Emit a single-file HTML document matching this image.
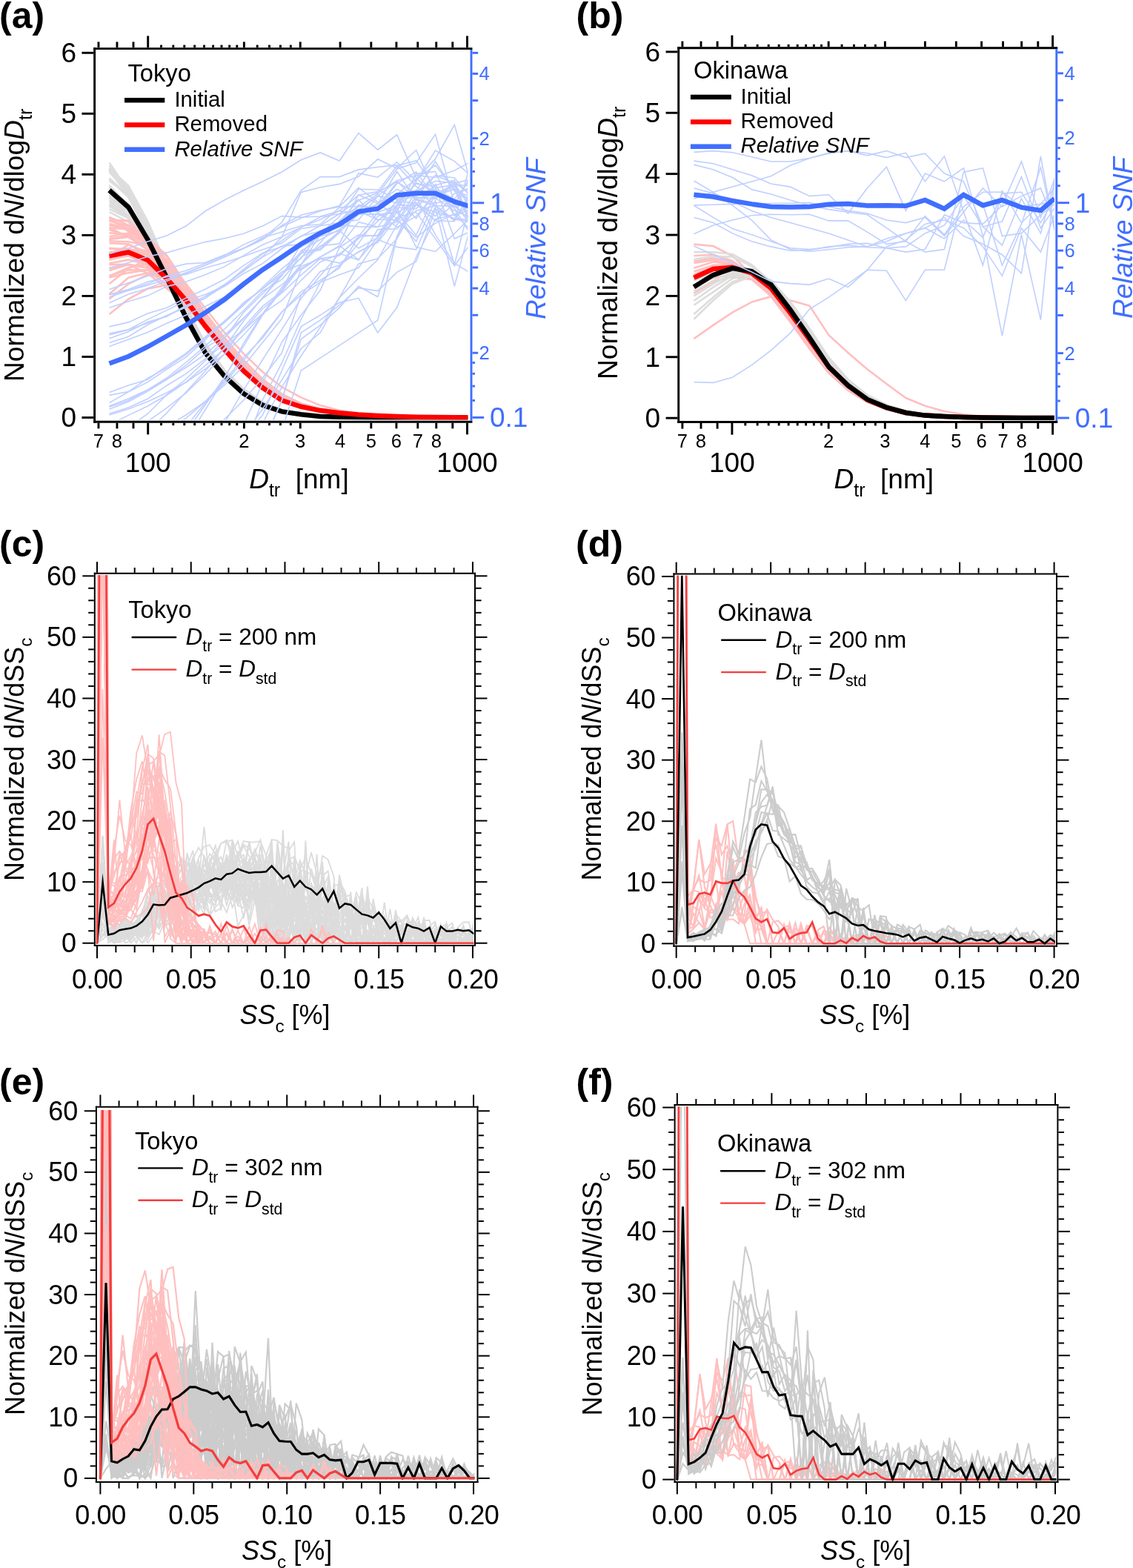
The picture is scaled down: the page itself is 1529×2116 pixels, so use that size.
<!DOCTYPE html>
<html><head><meta charset="utf-8"><title>Figure</title>
<style>
html,body{margin:0;padding:0;background:#fff;}
body{width:1529px;height:2116px;overflow:hidden;}
svg{display:block;font-family:'Liberation Sans', sans-serif;}
</style></head><body>
<svg xmlns="http://www.w3.org/2000/svg" width="1529" height="2116" viewBox="0 0 1529 2116">
<rect width="1529" height="2116" fill="#fff"/>
<g id="a">
<clipPath id="clipa"><rect x="129.05" y="69.82" width="502.25" height="496.68"/></clipPath>
<g clip-path="url(#clipa)">
<path d="M147.5 277.8l25.9 16.5l25.9 37.6l25.8 45.7l25.9 50.3l25.9 47.6l25.9 31.8l25.9 23.7l25.8 15.7l25.9 8.6l25.9 4l25.9 2.5l25.9 1l25.8 0.4l25.9 0.2l25.9 0.1l25.9 0l25.9 0l25.8 0l19.7 0" stroke="#dddddd" stroke-width="2.6" fill="none" stroke-linejoin="miter"/>
<path d="M147.5 267.1l25.9 14.6l25.9 37.1l25.8 45.2l25.9 52.4l25.9 48.9l25.9 35.3l25.9 25.3l25.8 17.4l25.9 10.2l25.9 4.9l25.9 2.9l25.9 1.3l25.8 0.6l25.9 0.2l25.9 0.1l25.9 0l25.9 0l25.8 0l19.7 0" stroke="#dddddd" stroke-width="2.6" fill="none" stroke-linejoin="miter"/>
<path d="M147.5 254.1l25.9 21.5l25.9 45.7l25.8 54l25.9 54.2l25.9 47.2l25.9 31.5l25.9 23.3l25.8 15.5l25.9 8.5l25.9 3.9l25.9 2.5l25.9 1l25.8 0.4l25.9 0.1l25.9 0.1l25.9 0l25.9 0l25.8 0l19.7 0" stroke="#dddddd" stroke-width="2.6" fill="none" stroke-linejoin="miter"/>
<path d="M147.5 227.2l25.9 23.7l25.9 47.6l25.8 59.4l25.9 58.9l25.9 48.9l25.9 35.1l25.9 25.3l25.8 17.4l25.9 10l25.9 5l25.9 2.8l25.9 1.3l25.8 0.6l25.9 0.2l25.9 0.1l25.9 0l25.9 0l25.8 0l19.7 0" stroke="#dddddd" stroke-width="2.6" fill="none" stroke-linejoin="miter"/>
<path d="M147.5 263.9l25.9 21l25.9 41.9l25.8 53.9l25.9 51.9l25.9 46.2l25.9 30.9l25.9 22.9l25.8 15l25.9 8.1l25.9 3.8l25.9 2.4l25.9 1l25.8 0.4l25.9 0.1l25.9 0.1l25.9 0l25.9 0l25.8 0l19.7 0" stroke="#dddddd" stroke-width="2.6" fill="none" stroke-linejoin="miter"/>
<path d="M147.5 244.2l25.9 18.4l25.9 42.8l25.8 53.5l25.9 55.5l25.9 49.1l25.9 35.9l25.9 25.6l25.8 17.8l25.9 10.4l25.9 5.1l25.9 2.9l25.9 1.4l25.8 0.5l25.9 0.3l25.9 0.1l25.9 0l25.9 0l25.8 0l19.7 0" stroke="#dddddd" stroke-width="2.6" fill="none" stroke-linejoin="miter"/>
<path d="M147.5 259.7l25.9 27l25.9 43.4l25.8 50.1l25.9 52l25.9 46.3l25.9 31l25.9 22.9l25.8 15.1l25.9 8.2l25.9 3.8l25.9 2.4l25.9 1l25.8 0.4l25.9 0.1l25.9 0.1l25.9 0l25.9 0l25.8 0l19.7 0" stroke="#dddddd" stroke-width="2.6" fill="none" stroke-linejoin="miter"/>
<path d="M147.5 278l25.9 14.2l25.9 38.6l25.8 42.9l25.9 49.8l25.9 48.1l25.9 33.1l25.9 24.3l25.8 16.4l25.9 9.2l25.9 4.4l25.9 2.6l25.9 1.2l25.8 0.4l25.9 0.2l25.9 0.1l25.9 0l25.9 0l25.8 0l19.7 0" stroke="#dddddd" stroke-width="2.6" fill="none" stroke-linejoin="miter"/>
<path d="M147.5 253.5l25.9 24.2l25.9 44.3l25.8 53.7l25.9 54.1l25.9 47.1l25.9 31.4l25.9 23.3l25.8 15.5l25.9 8.4l25.9 3.9l25.9 2.5l25.9 1l25.8 0.4l25.9 0.1l25.9 0.1l25.9 0l25.9 0l25.8 0l19.7 0" stroke="#dddddd" stroke-width="2.6" fill="none" stroke-linejoin="miter"/>
<path d="M147.5 230.3l25.9 28.4l25.9 47.1l25.8 58.6l25.9 56.4l25.9 48.5l25.9 33.9l25.9 24.7l25.8 16.7l25.9 9.6l25.9 4.6l25.9 2.7l25.9 1.2l25.8 0.5l25.9 0.2l25.9 0.1l25.9 0l25.9 0l25.8 0l19.7 0" stroke="#dddddd" stroke-width="2.6" fill="none" stroke-linejoin="miter"/>
<path d="M147.5 229.6l25.9 35.8l25.9 52.1l25.8 56.2l25.9 57.6l25.9 46.6l25.9 31.2l25.9 23l25.8 15.3l25.9 8.2l25.9 3.9l25.9 2.4l25.9 1l25.8 0.4l25.9 0.1l25.9 0.1l25.9 0l25.9 0l25.8 0l19.7 0" stroke="#dddddd" stroke-width="2.6" fill="none" stroke-linejoin="miter"/>
<path d="M147.5 229.3l25.9 30.6l25.9 57.2l25.8 57.4l25.9 57.1l25.9 46.5l25.9 31.1l25.9 23l25.8 15.2l25.9 8.2l25.9 3.9l25.9 2.4l25.9 1l25.8 0.4l25.9 0.1l25.9 0.1l25.9 0l25.9 0l25.8 0l19.7 0" stroke="#dddddd" stroke-width="2.6" fill="none" stroke-linejoin="miter"/>
<path d="M147.5 232l25.9 28.3l25.9 49.5l25.8 55.7l25.9 57.4l25.9 48.2l25.9 33.3l25.9 24.4l25.8 16.4l25.9 9.3l25.9 4.4l25.9 2.7l25.9 1.1l25.8 0.5l25.9 0.2l25.9 0.1l25.9 0l25.9 0l25.8 0l19.7 0" stroke="#dddddd" stroke-width="2.6" fill="none" stroke-linejoin="miter"/>
<path d="M147.5 275.4l25.9 9.3l25.9 32.3l25.8 47l25.9 50.6l25.9 49.2l25.9 35.7l25.9 25.6l25.8 17.7l25.9 10.4l25.9 5.1l25.9 2.9l25.9 1.4l25.8 0.5l25.9 0.3l25.9 0.1l25.9 0l25.9 0l25.8 0l19.7 0" stroke="#dddddd" stroke-width="2.6" fill="none" stroke-linejoin="miter"/>
<path d="M147.5 249.9l25.9 27.6l25.9 42.4l25.8 52l25.9 54.4l25.9 47.8l25.9 32.3l25.9 23.9l25.8 15.9l25.9 8.8l25.9 4.2l25.9 2.6l25.9 1l25.8 0.4l25.9 0.2l25.9 0.1l25.9 0l25.9 0l25.8 0l19.7 0" stroke="#dddddd" stroke-width="2.6" fill="none" stroke-linejoin="miter"/>
<path d="M147.5 267l25.9 24l25.9 41.2l25.8 48.4l25.9 51.5l25.9 46.3l25.9 31.1l25.9 22.9l25.8 15.1l25.9 8.2l25.9 3.8l25.9 2.4l25.9 1l25.8 0.4l25.9 0.1l25.9 0.1l25.9 0l25.9 0l25.8 0l19.7 0" stroke="#dddddd" stroke-width="2.6" fill="none" stroke-linejoin="miter"/>
<path d="M147.5 227.3l25.9 36.1l25.9 54.9l25.8 56.9l25.9 57.3l25.9 46.2l25.9 31l25.9 22.8l25.8 15.1l25.9 8.1l25.9 3.8l25.9 2.4l25.9 1l25.8 0.4l25.9 0.1l25.9 0.1l25.9 0l25.9 0l25.8 0l19.7 0" stroke="#dddddd" stroke-width="2.6" fill="none" stroke-linejoin="miter"/>
<path d="M147.5 286.2l25.9 13.2l25.9 34.7l25.8 45.1l25.9 48.2l25.9 47.7l25.9 31.9l25.9 23.7l25.8 15.9l25.9 8.6l25.9 4l25.9 2.6l25.9 1l25.8 0.4l25.9 0.2l25.9 0.1l25.9 0l25.9 0l25.8 0l19.7 0" stroke="#dddddd" stroke-width="2.6" fill="none" stroke-linejoin="miter"/>
<path d="M147.5 262.7l25.9 20.7l25.9 39l25.8 51l25.9 52.8l25.9 47.8l25.9 32.3l25.9 23.9l25.8 16l25.9 8.8l25.9 4.2l25.9 2.6l25.9 1l25.8 0.4l25.9 0.2l25.9 0.1l25.9 0l25.9 0l25.8 0l19.7 0" stroke="#dddddd" stroke-width="2.6" fill="none" stroke-linejoin="miter"/>
<path d="M147.5 223.6l25.9 31.6l25.9 54.4l25.8 61.1l25.9 58.8l25.9 47.2l25.9 31.5l25.9 23.3l25.8 15.5l25.9 8.5l25.9 3.9l25.9 2.5l25.9 1l25.8 0.4l25.9 0.1l25.9 0.1l25.9 0l25.9 0l25.8 0l19.7 0" stroke="#dddddd" stroke-width="2.6" fill="none" stroke-linejoin="miter"/>
<path d="M147.5 229.7l25.9 25l25.9 49l25.8 58l25.9 57.8l25.9 48.6l25.9 34.3l25.9 24.9l25.8 16.9l25.9 9.8l25.9 4.7l25.9 2.7l25.9 1.3l25.8 0.5l25.9 0.2l25.9 0.1l25.9 0l25.9 0l25.8 0l19.7 0" stroke="#dddddd" stroke-width="2.6" fill="none" stroke-linejoin="miter"/>
<path d="M147.5 240.5l25.9 23.9l25.9 44.8l25.8 54.7l25.9 56.3l25.9 48.5l25.9 34.1l25.9 24.8l25.8 16.8l25.9 9.7l25.9 4.6l25.9 2.8l25.9 1.2l25.8 0.5l25.9 0.2l25.9 0.1l25.9 0l25.9 0l25.8 0l19.7 0" stroke="#dddddd" stroke-width="2.6" fill="none" stroke-linejoin="miter"/>
<path d="M147.5 271.7l25.9 21.9l25.9 39.3l25.8 50.3l25.9 49.5l25.9 46.1l25.9 31l25.9 22.8l25.8 15l25.9 8.1l25.9 3.8l25.9 2.4l25.9 1l25.8 0.4l25.9 0.1l25.9 0.1l25.9 0l25.9 0l25.8 0l19.7 0" stroke="#dddddd" stroke-width="2.6" fill="none" stroke-linejoin="miter"/>
<path d="M147.5 241.6l25.9 24.8l25.9 45.2l25.8 53l25.9 55.8l25.9 48.5l25.9 34l25.9 24.8l25.8 16.8l25.9 9.6l25.9 4.6l25.9 2.8l25.9 1.2l25.8 0.5l25.9 0.2l25.9 0.1l25.9 0l25.9 0l25.8 0l19.7 0" stroke="#dddddd" stroke-width="2.6" fill="none" stroke-linejoin="miter"/>
<path d="M147.5 252.2l25.9 27.3l25.9 44.5l25.8 54.2l25.9 53.2l25.9 46.6l25.9 31.1l25.9 23.1l25.8 15.2l25.9 8.2l25.9 3.9l25.9 2.4l25.9 1l25.8 0.4l25.9 0.1l25.9 0.1l25.9 0l25.9 0l25.8 0l19.7 0" stroke="#dddddd" stroke-width="2.6" fill="none" stroke-linejoin="miter"/>
<path d="M147.5 275.8l25.9 16.2l25.9 30.1l25.8 45.6l25.9 49.1l25.9 48.9l25.9 35.1l25.9 25.3l25.8 17.4l25.9 10l25.9 5l25.9 2.8l25.9 1.3l25.8 0.6l25.9 0.2l25.9 0.1l25.9 0l25.9 0l25.8 0l19.7 0" stroke="#dddddd" stroke-width="2.6" fill="none" stroke-linejoin="miter"/>
<path d="M147.5 219.5l25.9 38.2l25.9 52.7l25.8 58.7l25.9 57.7l25.9 47.8l25.9 32.1l25.9 23.8l25.8 15.9l25.9 8.7l25.9 4.1l25.9 2.6l25.9 1l25.8 0.4l25.9 0.2l25.9 0.1l25.9 0l25.9 0l25.8 0l19.7 0" stroke="#dddddd" stroke-width="2.6" fill="none" stroke-linejoin="miter"/>
<path d="M147.5 271l25.9 13.1l25.9 33.8l25.8 45.3l25.9 50.7l25.9 49.2l25.9 36l25.9 25.7l25.8 17.8l25.9 10.5l25.9 5.2l25.9 2.9l25.9 1.4l25.8 0.5l25.9 0.3l25.9 0.1l25.9 0l25.9 0l25.8 0l19.7 0" stroke="#dddddd" stroke-width="2.6" fill="none" stroke-linejoin="miter"/>
<path d="M147.5 227.5l25.9 31.2l25.9 49.4l25.8 56.1l25.9 58.4l25.9 48.2l25.9 33.4l25.9 24.4l25.8 16.6l25.9 9.3l25.9 4.4l25.9 2.7l25.9 1.1l25.8 0.5l25.9 0.2l25.9 0.1l25.9 0l25.9 0l25.8 0l19.7 0" stroke="#dddddd" stroke-width="2.6" fill="none" stroke-linejoin="miter"/>
<path d="M147.5 282.1l25.9 12.4l25.9 29.5l25.8 44.2l25.9 47.9l25.9 49l25.9 35.3l25.9 25.4l25.8 17.5l25.9 10.1l25.9 5l25.9 2.9l25.9 1.3l25.8 0.6l25.9 0.2l25.9 0.1l25.9 0l25.9 0l25.8 0l19.7 0" stroke="#dddddd" stroke-width="2.6" fill="none" stroke-linejoin="miter"/>
<path d="M147.5 350.1l25.9-9.3l25.9-0.4l25.8 25.7l25.9 30.4l25.9 37.5l25.9 32l25.9 29.5l25.8 23.9l25.9 18l25.9 10l25.9 5.8l25.9 3.6l25.8 2.4l25.9 1.6l25.9 1.1l25.9 0.7l25.9 0.4l25.8 0.3l19.7 0.1" stroke="#ffbfbf" stroke-width="2.6" fill="none" stroke-linejoin="miter"/>
<path d="M147.5 307.6l25.9 1.5l25.9 13l25.8 33.1l25.9 35.4l25.9 38.9l25.9 32.3l25.9 29.8l25.8 24.8l25.9 18.8l25.9 11l25.9 6.3l25.9 3.9l25.8 2.5l25.9 1.7l25.9 1.1l25.9 0.8l25.9 0.5l25.8 0.3l19.7 0.1" stroke="#ffbfbf" stroke-width="2.6" fill="none" stroke-linejoin="miter"/>
<path d="M147.5 349.1l25.9-4.3l25.9 14.5l25.8 20l25.9 25.2l25.9 28.4l25.9 32l25.9 29.6l25.8 24.1l25.9 18.2l25.9 10.3l25.9 5.9l25.9 3.7l25.8 2.4l25.9 1.6l25.9 1.1l25.9 0.7l25.9 0.5l25.8 0.3l19.7 0.1" stroke="#ffbfbf" stroke-width="2.6" fill="none" stroke-linejoin="miter"/>
<path d="M147.5 293.6l25.9 18.7l25.9 12.5l25.8 37.1l25.9 35.3l25.9 38.4l25.9 31.8l25.9 29.4l25.8 23.6l25.9 17.8l25.9 9.5l25.9 5.7l25.9 3.5l25.8 2.4l25.9 1.6l25.9 1l25.9 0.7l25.9 0.4l25.8 0.3l19.7 0.1" stroke="#ffbfbf" stroke-width="2.6" fill="none" stroke-linejoin="miter"/>
<path d="M147.5 301.8l25.9 7l25.9 23.6l25.8 31.4l25.9 35l25.9 37.6l25.9 31.8l25.9 29.3l25.8 23.5l25.9 17.6l25.9 9.4l25.9 5.5l25.9 3.5l25.8 2.3l25.9 1.6l25.9 1l25.9 0.7l25.9 0.4l25.8 0.3l19.7 0.1" stroke="#ffbfbf" stroke-width="2.6" fill="none" stroke-linejoin="miter"/>
<path d="M147.5 297.1l25.9 1.3l25.9 26.8l25.8 34.2l25.9 37.8l25.9 41.3l25.9 31.5l25.9 29.2l25.8 23.2l25.9 17.2l25.9 8.9l25.9 5.4l25.9 3.3l25.8 2.3l25.9 1.5l25.9 1l25.9 0.7l25.9 0.4l25.8 0.2l19.7 0.1" stroke="#ffbfbf" stroke-width="2.6" fill="none" stroke-linejoin="miter"/>
<path d="M147.5 307.1l25.9 13l25.9 11.7l25.8 25.4l25.9 34.5l25.9 34l25.9 32.7l25.9 30l25.8 25.5l25.9 19.4l25.9 12l25.9 6.6l25.9 4.1l25.8 2.7l25.9 1.7l25.9 1.2l25.9 0.8l25.9 0.5l25.8 0.3l19.7 0.2" stroke="#ffbfbf" stroke-width="2.6" fill="none" stroke-linejoin="miter"/>
<path d="M147.5 322.9l25.9-3l25.9 17l25.8 26.8l25.9 32l25.9 37.3l25.9 32l25.9 29.6l25.8 24.2l25.9 18.1l25.9 10.2l25.9 5.9l25.9 3.7l25.8 2.4l25.9 1.6l25.9 1.1l25.9 0.7l25.9 0.5l25.8 0.3l19.7 0.1" stroke="#ffbfbf" stroke-width="2.6" fill="none" stroke-linejoin="miter"/>
<path d="M147.5 297l25.9 0.5l25.9 27.8l25.8 34.4l25.9 34.3l25.9 41.5l25.9 31.8l25.9 29.4l25.8 23.7l25.9 17.7l25.9 9.6l25.9 5.7l25.9 3.5l25.8 2.4l25.9 1.6l25.9 1l25.9 0.7l25.9 0.4l25.8 0.3l19.7 0.1" stroke="#ffbfbf" stroke-width="2.6" fill="none" stroke-linejoin="miter"/>
<path d="M147.5 319.3l25.9-4.6l25.9 5.8l25.8 26.2l25.9 37.9l25.9 41.7l25.9 32.6l25.9 30l25.8 25.4l25.9 19.3l25.9 11.9l25.9 6.5l25.9 4.1l25.8 2.6l25.9 1.8l25.9 1.1l25.9 0.8l25.9 0.5l25.8 0.3l19.7 0.2" stroke="#ffbfbf" stroke-width="2.6" fill="none" stroke-linejoin="miter"/>
<path d="M147.5 328.1l25.9 1.3l25.9 14.7l25.8 27.2l25.9 29.6l25.9 34.6l25.9 31.8l25.9 29.4l25.8 23.7l25.9 17.7l25.9 9.6l25.9 5.7l25.9 3.5l25.8 2.4l25.9 1.6l25.9 1l25.9 0.7l25.9 0.4l25.8 0.3l19.7 0.1" stroke="#ffbfbf" stroke-width="2.6" fill="none" stroke-linejoin="miter"/>
<path d="M147.5 335.1l25.9 2.6l25.9 7.1l25.8 23.4l25.9 27.9l25.9 29.1l25.9 32.8l25.9 30.1l25.8 25.5l25.9 19.5l25.9 12.1l25.9 6.6l25.9 4.2l25.8 2.6l25.9 1.8l25.9 1.2l25.9 0.8l25.9 0.5l25.8 0.3l19.7 0.2" stroke="#ffbfbf" stroke-width="2.6" fill="none" stroke-linejoin="miter"/>
<path d="M147.5 292.9l25.9 11.1l25.9 17.3l25.8 23.2l25.9 39.4l25.9 38.4l25.9 33l25.9 30.3l25.8 26l25.9 20l25.9 12.9l25.9 6.9l25.9 4.3l25.8 2.7l25.9 1.9l25.9 1.2l25.9 0.8l25.9 0.6l25.8 0.3l19.7 0.1" stroke="#ffbfbf" stroke-width="2.6" fill="none" stroke-linejoin="miter"/>
<path d="M147.5 374.6l25.9-6.5l25.9-3.8l25.8 12.3l25.9 20.7l25.9 26.1l25.9 32.9l25.9 30.2l25.8 25.9l25.9 19.8l25.9 12.5l25.9 6.9l25.9 4.2l25.8 2.7l25.9 1.8l25.9 1.3l25.9 0.8l25.9 0.5l25.8 0.3l19.7 0.2" stroke="#ffbfbf" stroke-width="2.6" fill="none" stroke-linejoin="miter"/>
<path d="M147.5 364.9l25.9-7.8l25.9 4.7l25.8 16.6l25.9 25.5l25.9 30.1l25.9 31.9l25.9 29.5l25.8 24l25.9 18l25.9 10l25.9 5.8l25.9 3.6l25.8 2.4l25.9 1.6l25.9 1.1l25.9 0.7l25.9 0.4l25.8 0.3l19.7 0.1" stroke="#ffbfbf" stroke-width="2.6" fill="none" stroke-linejoin="miter"/>
<path d="M147.5 355.5l25.9-4.9l25.9 6.2l25.8 19l25.9 22.4l25.9 27.2l25.9 32.7l25.9 30.1l25.8 25.5l25.9 19.4l25.9 12.1l25.9 6.7l25.9 4.1l25.8 2.6l25.9 1.8l25.9 1.2l25.9 0.8l25.9 0.5l25.8 0.3l19.7 0.2" stroke="#ffbfbf" stroke-width="2.6" fill="none" stroke-linejoin="miter"/>
<path d="M147.5 371.9l25.9-7.7l25.9 0.4l25.8 20.3l25.9 25.8l25.9 33.1l25.9 31.1l25.9 28.4l25.8 22.1l25.9 15.9l25.9 8.2l25.9 5l25.9 3.1l25.8 2.1l25.9 1.5l25.9 0.9l25.9 0.6l25.9 0.4l25.8 0.2l19.7 0.1" stroke="#ffbfbf" stroke-width="2.6" fill="none" stroke-linejoin="miter"/>
<path d="M147.5 343l25.9-1.6l25.9 9.9l25.8 22.2l25.9 26.4l25.9 31.2l25.9 32.2l25.9 29.7l25.8 24.5l25.9 18.5l25.9 10.6l25.9 6.1l25.9 3.8l25.8 2.5l25.9 1.7l25.9 1.1l25.9 0.7l25.9 0.5l25.8 0.3l19.7 0.1" stroke="#ffbfbf" stroke-width="2.6" fill="none" stroke-linejoin="miter"/>
<path d="M147.5 396.7l25.9-21.9l25.9-6.5l25.8 8.1l25.9 23.1l25.9 29.8l25.9 32.3l25.9 29.9l25.8 24.8l25.9 18.8l25.9 11.1l25.9 6.3l25.9 3.8l25.8 2.6l25.9 1.7l25.9 1.1l25.9 0.8l25.9 0.5l25.8 0.3l19.7 0.1" stroke="#ffbfbf" stroke-width="2.6" fill="none" stroke-linejoin="miter"/>
<path d="M147.5 341l25.9-4.3l25.9 1.2l25.8 26.3l25.9 29.7l25.9 35.6l25.9 32.3l25.9 29.8l25.8 24.8l25.9 18.8l25.9 11l25.9 6.3l25.9 3.9l25.8 2.5l25.9 1.7l25.9 1.1l25.9 0.8l25.9 0.5l25.8 0.3l19.7 0.1" stroke="#ffbfbf" stroke-width="2.6" fill="none" stroke-linejoin="miter"/>
<path d="M147.5 372.7l25.9-11.8l25.9-4.8l25.8 17.1l25.9 22l25.9 30.2l25.9 32.7l25.9 30.1l25.8 25.5l25.9 19.5l25.9 12l25.9 6.7l25.9 4.1l25.8 2.6l25.9 1.8l25.9 1.2l25.9 0.8l25.9 0.5l25.8 0.3l19.7 0.2" stroke="#ffbfbf" stroke-width="2.6" fill="none" stroke-linejoin="miter"/>
<path d="M147.5 335.6l25.9 0l25.9 8.9l25.8 24.6l25.9 32.8l25.9 36.7l25.9 31.6l25.9 29.2l25.8 23.1l25.9 17.2l25.9 8.8l25.9 5.4l25.9 3.3l25.8 2.3l25.9 1.5l25.9 1l25.9 0.7l25.9 0.4l25.8 0.2l19.7 0.1" stroke="#ffbfbf" stroke-width="2.6" fill="none" stroke-linejoin="miter"/>
<path d="M147.5 297.4l25.9 10.8l25.9 10.7l25.8 33.6l25.9 36.5l25.9 40l25.9 32.4l25.9 29.8l25.8 24.9l25.9 18.8l25.9 11.2l25.9 6.3l25.9 3.9l25.8 2.6l25.9 1.7l25.9 1.1l25.9 0.8l25.9 0.5l25.8 0.3l19.7 0.1" stroke="#ffbfbf" stroke-width="2.6" fill="none" stroke-linejoin="miter"/>
<path d="M147.5 310.1l25.9 8.4l25.9 18.2l25.8 23.5l25.9 33.7l25.9 35.8l25.9 32.4l25.9 29.8l25.8 24.7l25.9 18.7l25.9 11l25.9 6.2l25.9 3.9l25.8 2.5l25.9 1.7l25.9 1.1l25.9 0.8l25.9 0.5l25.8 0.3l19.7 0.1" stroke="#ffbfbf" stroke-width="2.6" fill="none" stroke-linejoin="miter"/>
<path d="M147.5 361.9l25.9-4.7l25.9 11.7l25.8 20l25.9 24.3l25.9 29.2l25.9 31.2l25.9 28.7l25.8 22.4l25.9 16.3l25.9 8.2l25.9 5.1l25.9 3.2l25.8 2.2l25.9 1.4l25.9 1l25.9 0.6l25.9 0.4l25.8 0.2l19.7 0.1" stroke="#ffbfbf" stroke-width="2.6" fill="none" stroke-linejoin="miter"/>
<path d="M147.5 322.1l25.9-4.3l25.9 10.5l25.8 32.7l25.9 36.8l25.9 42l25.9 31.4l25.9 29.2l25.8 22.9l25.9 17l25.9 8.5l25.9 5.3l25.9 3.2l25.8 2.3l25.9 1.4l25.9 1l25.9 0.7l25.9 0.4l25.8 0.2l19.7 0.1" stroke="#ffbfbf" stroke-width="2.6" fill="none" stroke-linejoin="miter"/>
<path d="M147.5 340.5l25.9-4l25.9 5.4l25.8 29.5l25.9 32.2l25.9 38.6l25.9 31.2l25.9 28.7l25.8 22.4l25.9 16.4l25.9 8.3l25.9 5.1l25.9 3.2l25.8 2.2l25.9 1.4l25.9 1l25.9 0.6l25.9 0.4l25.8 0.2l19.7 0.1" stroke="#ffbfbf" stroke-width="2.6" fill="none" stroke-linejoin="miter"/>
<path d="M147.5 314.4l25.9 1.5l25.9 12.6l25.8 27l25.9 35.9l25.9 35.4l25.9 32.6l25.9 30l25.8 25.3l25.9 19.2l25.9 11.7l25.9 6.5l25.9 4l25.8 2.6l25.9 1.8l25.9 1.2l25.9 0.7l25.9 0.5l25.8 0.3l19.7 0.2" stroke="#ffbfbf" stroke-width="2.6" fill="none" stroke-linejoin="miter"/>
<path d="M147.5 350.8l25.9-6.2l25.9 8.8l25.8 21.6l25.9 31l25.9 33.1l25.9 31.5l25.9 29.1l25.8 23.1l25.9 17.1l25.9 8.7l25.9 5.3l25.9 3.4l25.8 2.2l25.9 1.5l25.9 1l25.9 0.7l25.9 0.4l25.8 0.2l19.7 0.1" stroke="#ffbfbf" stroke-width="2.6" fill="none" stroke-linejoin="miter"/>
<path d="M147.5 325.2l25.9 1l25.9 5.4l25.8 24.8l25.9 34.5l25.9 35l25.9 32.7l25.9 30.1l25.8 25.4l25.9 19.3l25.9 12l25.9 6.5l25.9 4.1l25.8 2.7l25.9 1.7l25.9 1.2l25.9 0.8l25.9 0.5l25.8 0.3l19.7 0.2" stroke="#ffbfbf" stroke-width="2.6" fill="none" stroke-linejoin="miter"/>
<path d="M147.5 347.2l25.9-17l25.9 10.7l25.8 26.8l25.9 31l25.9 38.8l25.9 31.6l25.9 29.3l25.8 23.3l25.9 17.4l25.9 9.1l25.9 5.5l25.9 3.4l25.8 2.3l25.9 1.5l25.9 1.1l25.9 0.6l25.9 0.5l25.8 0.2l19.7 0.1" stroke="#ffbfbf" stroke-width="2.6" fill="none" stroke-linejoin="miter"/>
<path d="M147.5 298.1l25.9 7l25.9 19.1l25.8 27l25.9 36.8l25.9 38.2l25.9 32.6l25.9 30.1l25.8 25.3l25.9 19.3l25.9 11.9l25.9 6.6l25.9 4l25.8 2.7l25.9 1.8l25.9 1.1l25.9 0.8l25.9 0.5l25.8 0.3l19.7 0.2" stroke="#ffbfbf" stroke-width="2.6" fill="none" stroke-linejoin="miter"/>
<path d="M147.5 348.6l25.9-3.1l25.9 9.3l25.8 24.1l25.9 31l25.9 34.4l25.9 31.1l25.9 28.2l25.8 22.1l25.9 15.8l25.9 8.1l25.9 4.9l25.9 3.2l25.8 2.1l25.9 1.4l25.9 0.9l25.9 0.6l25.9 0.4l25.8 0.2l19.7 0.1" stroke="#ffbfbf" stroke-width="2.6" fill="none" stroke-linejoin="miter"/>
<path d="M147.5 304l25.9 6.1l25.9 19.2l25.8 29.7l25.9 34l25.9 36.6l25.9 32.4l25.9 29.8l25.8 24.7l25.9 18.7l25.9 11.1l25.9 6.2l25.9 3.9l25.8 2.5l25.9 1.7l25.9 1.1l25.9 0.8l25.9 0.5l25.8 0.3l19.7 0.1" stroke="#ffbfbf" stroke-width="2.6" fill="none" stroke-linejoin="miter"/>
<path d="M147.5 334.5l25.9 6l25.9 8.1l25.8 26.6l25.9 24l25.9 29.9l25.9 32.4l25.9 29.8l25.8 24.9l25.9 18.8l25.9 11.2l25.9 6.2l25.9 3.9l25.8 2.6l25.9 1.7l25.9 1.1l25.9 0.8l25.9 0.5l25.8 0.3l19.7 0.1" stroke="#ffbfbf" stroke-width="2.6" fill="none" stroke-linejoin="miter"/>
<path d="M147.5 357.1l25.9-0.4l25.9 4.6l25.8 17.1l25.9 20.2l25.9 27.3l25.9 32.7l25.9 30l25.8 25.5l25.9 19.3l25.9 12l25.9 6.5l25.9 4.1l25.8 2.7l25.9 1.7l25.9 1.2l25.9 0.8l25.9 0.5l25.8 0.3l19.7 0.2" stroke="#ffbfbf" stroke-width="2.6" fill="none" stroke-linejoin="miter"/>
<path d="M147.5 424l25.9-20.5l25.9-13.9l25.8-4.9l25.9 18.8l25.9 32.9l25.9 32.8l25.9 28.7l25.8 22.9l25.9 15.6l25.9 10.7l25.9 6.6l25.9 4.1l25.8 2.4l25.9 1.7l25.9 0.8l25.9 0.8l25.9 0l25.8 0l19.7 0" stroke="#ffbfbf" stroke-width="2.6" fill="none" stroke-linejoin="miter"/>
<path d="M147.5 403.5l25.9-20.5l25.9-12.3l25.8 4.1l25.9 24.6l25.9 32.9l25.9 32.8l25.9 28.7l25.8 23.8l25.9 16.4l25.9 11.5l25.9 7.3l25.9 4.1l25.8 3.3l25.9 1.7l25.9 0.8l25.9 0.8l25.9 0l25.8 0l19.7 0" stroke="#ffbfbf" stroke-width="2.6" fill="none" stroke-linejoin="miter"/>
<path d="M147.5 383l25.9-20.5l25.9-12.3l25.8 8.2l25.9 24.6l25.9 32.8l25.9 32.9l25.9 28.7l25.8 24.6l25.9 20.5l25.9 13.9l25.9 10.7l25.9 6.6l25.8 4.1l25.9 2.4l25.9 1.7l25.9 0.8l25.9 0.8l25.8 0l19.7 0" stroke="#ffbfbf" stroke-width="2.6" fill="none" stroke-linejoin="miter"/>
<path d="M147.5 256.7l25.9 23l25.9 43.5l25.8 51.6l25.9 53.6l25.9 47.6l25.9 31.6l25.9 23.6l25.8 15.6l25.9 8.6l25.9 3.9l25.9 2.6l25.9 0.9l25.8 0.5l25.9 0.1l25.9 0.1l25.9 0l25.9 0l25.8 0l19.7 0" stroke="#000" stroke-width="6.5" fill="none" stroke-linejoin="miter"/>
<path d="M147.5 345.3l25.9-4.9l25.9 10.6l25.8 25.1l25.9 29.2l25.9 34.6l25.9 31.4l25.9 29.1l25.8 22.9l25.9 17l25.9 8.5l25.9 5.3l25.9 3.2l25.8 2.3l25.9 1.4l25.9 1l25.9 0.7l25.9 0.4l25.8 0.2l19.7 0.1" stroke="#ff0000" stroke-width="6.5" fill="none" stroke-linejoin="miter"/>
<path d="M147.5 362l25.9-7.6l25.9-8.2l25.8-5.3l25.9-7.3l25.9-7l25.9-4.8l25.9-6.6l25.8-10.2l25.9-13.4l25.9 1.5l25.9-1.1l25.9-7.3l25.8-21.4l25.9-4.7l25.9-34.9l25.9-7l25.9 36.7l25.8-3.8l19.7 43.7" stroke="#bfcfff" stroke-width="1.6" fill="none" stroke-linejoin="miter"/>
<path d="M147.5 390.4l25.9-8.6l25.9-9.2l25.8-10.2l25.9-6.3l25.9-1.6l25.9-10.6l25.9-8.8l25.8-14.4l25.9-7.7l25.9-8.3l25.9-1.9l25.9-22.7l25.8-1.9l25.9 1.3l25.9-33.7l25.9 14.7l25.9-23.7l25.8 3.2l19.7 23.3" stroke="#bfcfff" stroke-width="1.6" fill="none" stroke-linejoin="miter"/>
<path d="M147.5 397.5l25.9-7.1l25.9-10.2l25.8-6.7l25.9-3l25.9-9.1l25.9-6.8l25.9-8.5l25.8-9.4l25.9-8.7l25.9-19.6l25.9-3.6l25.9-4.3l25.8-12.3l25.9 1.1l25.9-2.9l25.9 30.9l25.9-55.8l25.8-5.9l19.7 38.9" stroke="#bfcfff" stroke-width="1.6" fill="none" stroke-linejoin="miter"/>
<path d="M147.5 400.9l25.9-8.9l25.9-9l25.8-10.8l25.9-6.9l25.9-9.8l25.9-10.5l25.9-14.9l25.8-11.4l25.9-12.7l25.9-11.8l25.9-9.4l25.9-7.4l25.8-43.7l25.9 5.5l25.9-20.5l25.9 25.9l25.9-41.6l25.8 14.6l19.7 17.4" stroke="#bfcfff" stroke-width="1.6" fill="none" stroke-linejoin="miter"/>
<path d="M147.5 408.8l25.9-11.7l25.9-7.8l25.8-10.1l25.9-10.2l25.9-11.1l25.9-11.1l25.9-11.2l25.8-12l25.9-19.4l25.9-13.9l25.9-6.4l25.9-5l25.8-25.5l25.9 19.1l25.9 22.8l25.9-53.3l25.9-19.1l25.8 32.5l19.7 41.7" stroke="#bfcfff" stroke-width="1.6" fill="none" stroke-linejoin="miter"/>
<path d="M147.5 415.2l25.9-8.5l25.9-7.6l25.8-12.5l25.9-6.4l25.9-9.5l25.9-10.8l25.9-15l25.8-14.6l25.9-10.8l25.9-12.9l25.9-13.8l25.9-4.2l25.8-19.2l25.9 28.4l25.9-19.8l25.9-20l25.9-40.3l25.8 40.4l19.7 6.1" stroke="#bfcfff" stroke-width="1.6" fill="none" stroke-linejoin="miter"/>
<path d="M147.5 440.9l25.9-6l25.9-11.9l25.8-7.8l25.9-13.1l25.9-11.8l25.9-13.3l25.9-18.7l25.8-16.9l25.9-8.7l25.9-13.7l25.9-14.5l25.9-16l25.8-4l25.9-20.2l25.9 4.2l25.9-2.8l25.9-29l25.8 10.6l19.7 11.4" stroke="#bfcfff" stroke-width="1.6" fill="none" stroke-linejoin="miter"/>
<path d="M147.5 450.1l25.9-5.4l25.9-13.6l25.8-12.5l25.9-12.6l25.9-8.5l25.9-11.5l25.9-21l25.8-18.1l25.9-14.8l25.9-2.5l25.9-13.9l25.9-23.4l25.8-37.1l25.9 0.8l25.9 13.4l25.9 25.5l25.9-33.5l25.8-12.2l19.7 1.4" stroke="#bfcfff" stroke-width="1.6" fill="none" stroke-linejoin="miter"/>
<path d="M147.5 456.7l25.9-9.2l25.9-13l25.8-7.2l25.9-15l25.9-12.2l25.9-13.5l25.9-17.3l25.8-13.6l25.9-20.2l25.9-16.9l25.9-6.6l25.9-11.5l25.8-3.8l25.9-32.1l25.9 10l25.9-26.7l25.9 4.3l25.8 69.9l19.7-8.7" stroke="#bfcfff" stroke-width="1.6" fill="none" stroke-linejoin="miter"/>
<path d="M147.5 462.5l25.9-8.2l25.9-16l25.8-12.6l25.9-10.9l25.9-12.3l25.9-17.2l25.9-22l25.8-21l25.9-17.7l25.9-18.2l25.9-10.1l25.9-11.7l25.8 2.9l25.9-12.3l25.9-43.6l25.9 37.7l25.9 5l25.8-5.9l19.7-23" stroke="#bfcfff" stroke-width="1.6" fill="none" stroke-linejoin="miter"/>
<path d="M147.5 467.5l25.9-9.6l25.9-9.5l25.8-12.1l25.9-11.1l25.9-11.7l25.9-12.8l25.9-18.6l25.8-17.7l25.9-15.9l25.9-15.1l25.9-14.5l25.9-7.7l25.8 23.8l25.9-14.2l25.9-40.8l25.9 2l25.9-32.1l25.8-6.6l19.7 54.6" stroke="#bfcfff" stroke-width="1.6" fill="none" stroke-linejoin="miter"/>
<path d="M147.5 529.6l25.9-9.6l25.9-7.7l25.8-18.4l25.9-17.1l25.9-22.3l25.9-21.1l25.9-23l25.8-20.8l25.9-22.8l25.9-10l25.9-25.1l25.9-2.8l25.8-52.6l25.9 10.2l25.9-9.1l25.9-0.9l25.9 10.1l25.8 8.1l19.7 2" stroke="#bfcfff" stroke-width="1.6" fill="none" stroke-linejoin="miter"/>
<path d="M147.5 533.4l25.9-4.8l25.9-18.1l25.8-14.1l25.9-18.1l25.9-22.1l25.9-20.7l25.9-23.5l25.8-24.5l25.9-24.8l25.9-20.9l25.9-4.4l25.9-23.5l25.8-28.7l25.9 11.1l25.9 0.5l25.9 23.4l25.9-18.8l25.8-12.5l19.7 19.4" stroke="#bfcfff" stroke-width="1.6" fill="none" stroke-linejoin="miter"/>
<path d="M147.5 543.6l25.9-14.8l25.9-13.2l25.8-17.2l25.9-16.5l25.9-23.6l25.9-23.3l25.9-26.7l25.8-18.5l25.9-19.7l25.9-21.4l25.9-35l25.9-7.8l25.8-23l25.9-18.6l25.9-19.9l25.9 25.5l25.9 7.7l25.8 0.5l19.7 17" stroke="#bfcfff" stroke-width="1.6" fill="none" stroke-linejoin="miter"/>
<path d="M147.5 549.3l25.9-9.1l25.9-13.9l25.8-16.3l25.9-21l25.9-22.1l25.9-22.7l25.9-25.2l25.8-26l25.9-15.9l25.9-30l25.9-14.2l25.9-20l25.8-23.6l25.9-0.2l25.9 9.5l25.9-39.9l25.9-14.4l25.8 2.8l19.7-4.5" stroke="#bfcfff" stroke-width="1.6" fill="none" stroke-linejoin="miter"/>
<path d="M147.5 552.2l25.9-10.3l25.9-13.8l25.8-16.1l25.9-19l25.9-22.8l25.9-17.8l25.9-23.2l25.8-26.4l25.9-18.6l25.9-21.9l25.9-15.5l25.9-14.2l25.8-33l25.9 6.6l25.9-6.3l25.9-34.3l25.9 51.3l25.8 38.3l19.7 12.1" stroke="#bfcfff" stroke-width="1.6" fill="none" stroke-linejoin="miter"/>
<path d="M147.5 558.2l25.9-8.1l25.9-11.9l25.8-18l25.9-15.8l25.9-20.1l25.9-20l25.9-19l25.8-28.8l25.9-21.2l25.9-24.2l25.9-21.9l25.9 5.9l25.8-14.8l25.9-14.6l25.9-44.7l25.9 52.6l25.9 5.9l25.8-24.3l19.7-20.1" stroke="#bfcfff" stroke-width="1.6" fill="none" stroke-linejoin="miter"/>
<path d="M147.5 573.2l25.9-12.8l25.9-12.4l25.8-14.8l25.9-17.7l25.9-22.1l25.9-22.8l25.9-25.2l25.8-22.2l25.9-17.8l25.9-27.1l25.9-24.8l25.9-10.6l25.8-20.8l25.9-23.4l25.9-27l25.9 2.6l25.9 17.3l25.8-30.7l19.7-6.9" stroke="#bfcfff" stroke-width="1.6" fill="none" stroke-linejoin="miter"/>
<path d="M147.5 584.3l25.9-7.7l25.9-18.1l25.8-25.9l25.9-21.1l25.9-24.5l25.9-30l25.9-35.4l25.8-25.4l25.9-25.4l25.9-31.9l25.9-3.2l25.9-23.9l25.8-48.9l25.9 11.6l25.9-19.1l25.9 10.4l25.9 2.3l25.8-20.5l19.7 30.4" stroke="#bfcfff" stroke-width="1.6" fill="none" stroke-linejoin="miter"/>
<path d="M147.5 600.4l25.9-12.2l25.9-19.6l25.8-18.3l25.9-20l25.9-24.9l25.9-27.7l25.9-36l25.8-28.5l25.9-19.7l25.9-34.2l25.9-10.2l25.9-4.2l25.8-25.7l25.9-1.7l25.9-40.7l25.9-30.3l25.9 11.7l25.8 12.2l19.7 10" stroke="#bfcfff" stroke-width="1.6" fill="none" stroke-linejoin="miter"/>
<path d="M147.5 613.3l25.9-11.4l25.9-19.6l25.8-25.2l25.9-28.1l25.9-28l25.9-31.8l25.9-36l25.8-31.8l25.9-31.2l25.9-27.8l25.9-28.5l25.9-10.5l25.8 2.5l25.9 0.5l25.9-35.8l25.9-14l25.9 20.8l25.8 20.6l19.7-34.6" stroke="#bfcfff" stroke-width="1.6" fill="none" stroke-linejoin="miter"/>
<path d="M147.5 629.1l25.9-9.2l25.9-19.4l25.8-19l25.9-17.1l25.9-22.3l25.9-27.8l25.9-31.8l25.8-26.4l25.9-34.8l25.9-27.7l25.9-15.4l25.9-16.6l25.8-42.3l25.9-32.3l25.9 19.6l25.9-14.7l25.9-30.9l25.8 20l19.7 32" stroke="#bfcfff" stroke-width="1.6" fill="none" stroke-linejoin="miter"/>
<path d="M147.5 649.6l25.9-7.6l25.9-21.2l25.8-20.4l25.9-24.5l25.9-32.1l25.9-26.9l25.9-30.5l25.8-32.8l25.9-32.7l25.9-23l25.9-31.4l25.9-8.8l25.8-17.9l25.9-12.6l25.9-34l25.9-6.9l25.9 35.8l25.8 36.7l19.7-27.4" stroke="#bfcfff" stroke-width="1.6" fill="none" stroke-linejoin="miter"/>
<path d="M147.5 676.5l25.9-17l25.9-18.4l25.8-26.9l25.9-31.5l25.9-35.9l25.9-37.6l25.9-42l25.8-42.3l25.9-33.8l25.9-34.2l25.9-29.4l25.9-29.7l25.8-20.4l25.9 4l25.9-33.7l25.9-15.6l25.9 35.1l25.8 17.1l19.7 8.2" stroke="#bfcfff" stroke-width="1.6" fill="none" stroke-linejoin="miter"/>
<path d="M147.5 699.9l25.9-15.8l25.9-22.2l25.8-31.3l25.9-36.4l25.9-40.9l25.9-42.7l25.9-47.5l25.8-39.6l25.9-35.7l25.9-30.7l25.9-40.3l25.9-17.6l25.8-29l25.9-10.1l25.9-16.4l25.9-6.9l25.9 2.7l25.8-9.6l19.7-10.3" stroke="#bfcfff" stroke-width="1.6" fill="none" stroke-linejoin="miter"/>
<path d="M147.5 734.4l25.9-10.4l25.9-21.2l25.8-25.2l25.9-34.8l25.9-33.7l25.9-38.2l25.9-44.5l25.8-41.1l25.9-40.7l25.9-41.8l25.9-30.9l25.9-29.8l25.8 9l25.9-41.5l25.9-0.9l25.9-24.2l25.9-7.1l25.8 19.2l19.7-32.9" stroke="#bfcfff" stroke-width="1.6" fill="none" stroke-linejoin="miter"/>
<path d="M147.5 771.4l25.9-12.2l25.9-19.4l25.8-21.6l25.9-21.4l25.9-34.1l25.9-36.1l25.9-39.1l25.8-35.8l25.9-39l25.9-42.2l25.9-21.4l25.9-47.5l25.8-45.6l25.9-7.1l25.9-26.7l25.9-45.8l25.9-27.9l25.8 42.6l19.7-8.2" stroke="#bfcfff" stroke-width="1.6" fill="none" stroke-linejoin="miter"/>
<path d="M147.5 820.1l25.9-12l25.9-19.7l25.8-28.6l25.9-33.4l25.9-31.3l25.9-39.5l25.9-43.3l25.8-41.7l25.9-48.3l25.9-42l25.9-38.7l25.9-40l25.8-26.4l25.9-24.6l25.9-47.7l25.9-27.3l25.9 22l25.8-22.9l19.7 25.4" stroke="#bfcfff" stroke-width="1.6" fill="none" stroke-linejoin="miter"/>
<path d="M147.5 878.1l25.9-15.3l25.9-28.3l25.8-41.3l25.9-47.4l25.9-58.3l25.9-58.3l25.9-55.9l25.8-56.4l25.9-55.2l25.9-36.5l25.9-33.4l25.9-57.8l25.8-17.2l25.9 2l25.9-32l25.9-13.4l25.9 24.6l25.8 0.7l19.7-70.8" stroke="#bfcfff" stroke-width="1.6" fill="none" stroke-linejoin="miter"/>
<path d="M147.5 953.1l25.9-13.8l25.9-33.2l25.8-44.4l25.9-55.6l25.9-64.6l25.9-67.3l25.9-66l25.8-68.7l25.9-49.8l25.9-58.7l25.9-50.1l25.9-21.9l25.8-30.6l25.9-36.6l25.9-6.4l25.9-50.8l25.9-3.2l25.8 59.6l19.7-13.8" stroke="#bfcfff" stroke-width="1.6" fill="none" stroke-linejoin="miter"/>
<path d="M147.5 342.6l25.9-7.6l25.9-9l25.8-8l25.9-13l25.9-20l25.9-15l25.9-13l25.8-12l25.9-13l25.9-16.2l25.9-9.9l25.9 11.1l25.8-37.4l25.9 22.6l25.9-20.4l25.9 58.2l25.9 25l25.8-10l19.7 14" stroke="#bfcfff" stroke-width="1.6" fill="none" stroke-linejoin="miter"/>
<path d="M147.5 398l25.9-6l25.9-7l25.8-8l25.9-9l25.9-10l25.9-11l25.9-12l25.8-13l25.9-22l25.9-43.1l25.9-18.3l25.9 0l25.8-9.7l25.9-3.4l25.9-2.6l25.9 28.9l25.9 17l25.8-23.8l19.7 17" stroke="#bfcfff" stroke-width="1.6" fill="none" stroke-linejoin="miter"/>
<path d="M147.5 452l25.9-7l25.9-9l25.8-10l25.9-12l25.9-14l25.9-16l25.9-18l25.8-20l25.9-26l25.9-60.5l25.9-6.8l25.9-4.3l25.8-10.2l25.9-23.4l25.9 12.4l25.9-24.7l25.9 59.5l25.8 17l19.7-8.5" stroke="#bfcfff" stroke-width="1.6" fill="none" stroke-linejoin="miter"/>
<path d="M147.5 548l25.9-10l25.9-12l25.8-14l25.9-16l25.9-18l25.9-22l25.9-26l25.8-28l25.9-30l25.9-42l25.9-17l25.9-11.9l25.8-22.1l25.9-17l25.9-34l25.9-8.5l25.9-38.2l25.8 94.3l19.7-34" stroke="#bfcfff" stroke-width="1.6" fill="none" stroke-linejoin="miter"/>
<path d="M147.5 560l25.9-8l25.9-10l25.8-12l25.9-14l25.9-18l25.9-20l25.9-26l25.8-28l25.9-32l25.9-53.5l25.9-15.3l25.9-13.6l25.8-20.4l25.9-13.6l25.9-13.6l25.9-20.4l25.9-27.2l25.8-45.9l19.7 69.7" stroke="#bfcfff" stroke-width="1.6" fill="none" stroke-linejoin="miter"/>
<path d="M147.5 600l25.9-6l25.9-8l25.8-11l25.9-15l25.9-18l25.9-22l25.9-26l25.8-32l25.9-32l25.9-66l25.9-17l25.9-15.3l25.8 18.7l25.9-30.6l25.9-24.6l25.9 30.6l25.9-55.3l25.8 86.7l19.7-78.2" stroke="#bfcfff" stroke-width="1.6" fill="none" stroke-linejoin="miter"/>
<path d="M147.5 640l25.9-4l25.9-6l25.8-10l25.9-14l25.9-18l25.9-22l25.9-26l25.8-30l25.9-34l25.9-77.9l25.9-17l25.9-10.3l25.8-9.3l25.9-38.3l25.9 10.2l25.9 3.4l25.9-57.8l25.8 107.2l19.7-73.2" stroke="#bfcfff" stroke-width="1.6" fill="none" stroke-linejoin="miter"/>
<path d="M147.5 700l25.9-10l25.9-12l25.8-14l25.9-16l25.9-18l25.9-20l25.9-20l25.8-30l25.9-60l25.9-59.4l25.9-15.3l25.9-17l25.8-6l25.9 46.8l25.9-34l25.9-68.1l25.9-51l25.8-6.8l19.7-10.2" stroke="#bfcfff" stroke-width="1.6" fill="none" stroke-linejoin="miter"/>
<path d="M147.5 760l25.9-10l25.9-12l25.8-14l25.9-16l25.9-18l25.9-20l25.9-30l25.8-40l25.9-60l25.9-82.4l25.9-18.7l25.9-23.8l25.8-28.9l25.9 14.4l25.9-81.6l25.9-57l25.9-6.8l25.8 13.6l19.7 13.6" stroke="#bfcfff" stroke-width="1.6" fill="none" stroke-linejoin="miter"/>
<path d="M147.5 820l25.9-20l25.9-20l25.8-20l25.9-20l25.9-25l25.9-30l25.9-35l25.8-50l25.9-60l25.9-90.9l25.9-17l25.9-20.4l25.8-23l25.9 3.9l25.9-25.2l25.9-14.4l25.9-70.6l25.8 13.6l19.7 3.4" stroke="#bfcfff" stroke-width="1.6" fill="none" stroke-linejoin="miter"/>
<path d="M147.5 900l25.9-20l25.9-20l25.8-20l25.9-25l25.9-30l25.9-35l25.9-50l25.8-60l25.9-60l25.9-79.9l25.9-17l25.9-17l25.8-17l25.9-17l25.9-112.3l25.9-51l25.9-6.8l25.8-10.2l19.7 20.4" stroke="#bfcfff" stroke-width="1.6" fill="none" stroke-linejoin="miter"/>
<path d="M147.5 490.5l25.9-9.5l25.9-13l25.8-14.5l25.9-14.7l25.9-16.7l25.9-17.8l25.9-20.9l25.8-19.4l25.9-17l25.9-17.8l25.9-14.5l25.9-11.9l25.8-17.3l25.9-3.9l25.9-18.2l25.9-2.6l25.9 0l25.8 11.4l19.7 6" stroke="#406eff" stroke-width="6.5" fill="none" stroke-linejoin="miter"/>
</g>
<line x1="127.6" y1="64.15" x2="127.6" y2="570.65" stroke="#000" stroke-width="2.9"/>
<line x1="126.15" y1="65.6" x2="637.45" y2="65.6" stroke="#000" stroke-width="2.9"/>
<line x1="126.15" y1="569.2" x2="637.45" y2="569.2" stroke="#000" stroke-width="2.9"/>
<line x1="636" y1="67.05" x2="636" y2="567.75" stroke="#406eff" stroke-width="2.9"/>
<line x1="110.45" y1="563.5" x2="126.15" y2="563.5" stroke="#000" stroke-width="2.9"/>
<text x="103" y="576.3" font-size="37" text-anchor="end">0</text>
<line x1="110.45" y1="481.47" x2="126.15" y2="481.47" stroke="#000" stroke-width="2.9"/>
<text x="103" y="494.27" font-size="37" text-anchor="end">1</text>
<line x1="110.45" y1="399.44" x2="126.15" y2="399.44" stroke="#000" stroke-width="2.9"/>
<text x="103" y="412.24" font-size="37" text-anchor="end">2</text>
<line x1="110.45" y1="317.41" x2="126.15" y2="317.41" stroke="#000" stroke-width="2.9"/>
<text x="103" y="330.21" font-size="37" text-anchor="end">3</text>
<line x1="110.45" y1="235.38" x2="126.15" y2="235.38" stroke="#000" stroke-width="2.9"/>
<text x="103" y="248.18" font-size="37" text-anchor="end">4</text>
<line x1="110.45" y1="153.35" x2="126.15" y2="153.35" stroke="#000" stroke-width="2.9"/>
<text x="103" y="166.15" font-size="37" text-anchor="end">5</text>
<line x1="110.45" y1="71.32" x2="126.15" y2="71.32" stroke="#000" stroke-width="2.9"/>
<text x="103" y="84.12" font-size="37" text-anchor="end">6</text>
<line x1="199.7" y1="48.45" x2="199.7" y2="64.15" stroke="#000" stroke-width="2.9"/>
<line x1="199.7" y1="570.65" x2="199.7" y2="586.35" stroke="#000" stroke-width="2.9"/>
<line x1="630.5" y1="48.45" x2="630.5" y2="64.15" stroke="#000" stroke-width="2.9"/>
<line x1="630.5" y1="570.65" x2="630.5" y2="586.35" stroke="#000" stroke-width="2.9"/>
<line x1="132.97" y1="56.45" x2="132.97" y2="64.15" stroke="#000" stroke-width="2.9"/>
<line x1="132.97" y1="570.65" x2="132.97" y2="578.35" stroke="#000" stroke-width="2.9"/>
<line x1="157.95" y1="56.45" x2="157.95" y2="64.15" stroke="#000" stroke-width="2.9"/>
<line x1="157.95" y1="570.65" x2="157.95" y2="578.35" stroke="#000" stroke-width="2.9"/>
<line x1="179.99" y1="56.45" x2="179.99" y2="64.15" stroke="#000" stroke-width="2.9"/>
<line x1="179.99" y1="570.65" x2="179.99" y2="578.35" stroke="#000" stroke-width="2.9"/>
<line x1="329.38" y1="56.45" x2="329.38" y2="64.15" stroke="#000" stroke-width="2.9"/>
<line x1="329.38" y1="570.65" x2="329.38" y2="578.35" stroke="#000" stroke-width="2.9"/>
<line x1="405.24" y1="56.45" x2="405.24" y2="64.15" stroke="#000" stroke-width="2.9"/>
<line x1="405.24" y1="570.65" x2="405.24" y2="578.35" stroke="#000" stroke-width="2.9"/>
<line x1="459.07" y1="56.45" x2="459.07" y2="64.15" stroke="#000" stroke-width="2.9"/>
<line x1="459.07" y1="570.65" x2="459.07" y2="578.35" stroke="#000" stroke-width="2.9"/>
<line x1="500.82" y1="56.45" x2="500.82" y2="64.15" stroke="#000" stroke-width="2.9"/>
<line x1="500.82" y1="570.65" x2="500.82" y2="578.35" stroke="#000" stroke-width="2.9"/>
<line x1="534.93" y1="56.45" x2="534.93" y2="64.15" stroke="#000" stroke-width="2.9"/>
<line x1="534.93" y1="570.65" x2="534.93" y2="578.35" stroke="#000" stroke-width="2.9"/>
<line x1="563.77" y1="56.45" x2="563.77" y2="64.15" stroke="#000" stroke-width="2.9"/>
<line x1="563.77" y1="570.65" x2="563.77" y2="578.35" stroke="#000" stroke-width="2.9"/>
<line x1="588.75" y1="56.45" x2="588.75" y2="64.15" stroke="#000" stroke-width="2.9"/>
<line x1="588.75" y1="570.65" x2="588.75" y2="578.35" stroke="#000" stroke-width="2.9"/>
<line x1="610.79" y1="56.45" x2="610.79" y2="64.15" stroke="#000" stroke-width="2.9"/>
<line x1="610.79" y1="570.65" x2="610.79" y2="578.35" stroke="#000" stroke-width="2.9"/>
<line x1="217.53" y1="60.65" x2="217.53" y2="64.15" stroke="#000" stroke-width="2.9"/>
<line x1="217.53" y1="570.65" x2="217.53" y2="574.15" stroke="#000" stroke-width="2.9"/>
<line x1="233.81" y1="60.65" x2="233.81" y2="64.15" stroke="#000" stroke-width="2.9"/>
<line x1="233.81" y1="570.65" x2="233.81" y2="574.15" stroke="#000" stroke-width="2.9"/>
<line x1="248.79" y1="60.65" x2="248.79" y2="64.15" stroke="#000" stroke-width="2.9"/>
<line x1="248.79" y1="570.65" x2="248.79" y2="574.15" stroke="#000" stroke-width="2.9"/>
<line x1="262.65" y1="60.65" x2="262.65" y2="64.15" stroke="#000" stroke-width="2.9"/>
<line x1="262.65" y1="570.65" x2="262.65" y2="574.15" stroke="#000" stroke-width="2.9"/>
<line x1="275.56" y1="60.65" x2="275.56" y2="64.15" stroke="#000" stroke-width="2.9"/>
<line x1="275.56" y1="570.65" x2="275.56" y2="574.15" stroke="#000" stroke-width="2.9"/>
<line x1="287.63" y1="60.65" x2="287.63" y2="64.15" stroke="#000" stroke-width="2.9"/>
<line x1="287.63" y1="570.65" x2="287.63" y2="574.15" stroke="#000" stroke-width="2.9"/>
<line x1="298.98" y1="60.65" x2="298.98" y2="64.15" stroke="#000" stroke-width="2.9"/>
<line x1="298.98" y1="570.65" x2="298.98" y2="574.15" stroke="#000" stroke-width="2.9"/>
<line x1="309.67" y1="60.65" x2="309.67" y2="64.15" stroke="#000" stroke-width="2.9"/>
<line x1="309.67" y1="570.65" x2="309.67" y2="574.15" stroke="#000" stroke-width="2.9"/>
<line x1="319.79" y1="60.65" x2="319.79" y2="64.15" stroke="#000" stroke-width="2.9"/>
<line x1="319.79" y1="570.65" x2="319.79" y2="574.15" stroke="#000" stroke-width="2.9"/>
<line x1="347.22" y1="60.65" x2="347.22" y2="64.15" stroke="#000" stroke-width="2.9"/>
<line x1="347.22" y1="570.65" x2="347.22" y2="574.15" stroke="#000" stroke-width="2.9"/>
<line x1="363.5" y1="60.65" x2="363.5" y2="64.15" stroke="#000" stroke-width="2.9"/>
<line x1="363.5" y1="570.65" x2="363.5" y2="574.15" stroke="#000" stroke-width="2.9"/>
<line x1="378.47" y1="60.65" x2="378.47" y2="64.15" stroke="#000" stroke-width="2.9"/>
<line x1="378.47" y1="570.65" x2="378.47" y2="574.15" stroke="#000" stroke-width="2.9"/>
<line x1="392.34" y1="60.65" x2="392.34" y2="64.15" stroke="#000" stroke-width="2.9"/>
<line x1="392.34" y1="570.65" x2="392.34" y2="574.15" stroke="#000" stroke-width="2.9"/>
<text x="132.97" y="603.8" font-size="25.6" text-anchor="middle">7</text>
<text x="157.95" y="603.8" font-size="25.6" text-anchor="middle">8</text>
<text x="329.38" y="603.8" font-size="25.6" text-anchor="middle">2</text>
<text x="405.24" y="603.8" font-size="25.6" text-anchor="middle">3</text>
<text x="459.07" y="603.8" font-size="25.6" text-anchor="middle">4</text>
<text x="500.82" y="603.8" font-size="25.6" text-anchor="middle">5</text>
<text x="534.93" y="603.8" font-size="25.6" text-anchor="middle">6</text>
<text x="563.77" y="603.8" font-size="25.6" text-anchor="middle">7</text>
<text x="588.75" y="603.8" font-size="25.6" text-anchor="middle">8</text>
<text x="199.7" y="637.1" font-size="37" text-anchor="middle">100</text>
<text x="630.5" y="637.1" font-size="37" text-anchor="middle">1000</text>
<line x1="637.45" y1="273.8" x2="653.15" y2="273.8" stroke="#406eff" stroke-width="2.9"/>
<line x1="637.45" y1="563.4" x2="653.15" y2="563.4" stroke="#406eff" stroke-width="2.9"/>
<line x1="637.45" y1="476.22" x2="645.15" y2="476.22" stroke="#406eff" stroke-width="2.9"/>
<line x1="637.45" y1="425.23" x2="645.15" y2="425.23" stroke="#406eff" stroke-width="2.9"/>
<line x1="637.45" y1="389.04" x2="645.15" y2="389.04" stroke="#406eff" stroke-width="2.9"/>
<line x1="637.45" y1="360.98" x2="645.15" y2="360.98" stroke="#406eff" stroke-width="2.9"/>
<line x1="637.45" y1="338.05" x2="645.15" y2="338.05" stroke="#406eff" stroke-width="2.9"/>
<line x1="637.45" y1="318.66" x2="645.15" y2="318.66" stroke="#406eff" stroke-width="2.9"/>
<line x1="637.45" y1="301.87" x2="645.15" y2="301.87" stroke="#406eff" stroke-width="2.9"/>
<line x1="637.45" y1="287.05" x2="645.15" y2="287.05" stroke="#406eff" stroke-width="2.9"/>
<line x1="637.45" y1="186.62" x2="645.15" y2="186.62" stroke="#406eff" stroke-width="2.9"/>
<line x1="637.45" y1="135.63" x2="645.15" y2="135.63" stroke="#406eff" stroke-width="2.9"/>
<line x1="637.45" y1="99.44" x2="645.15" y2="99.44" stroke="#406eff" stroke-width="2.9"/>
<line x1="637.45" y1="71.38" x2="645.15" y2="71.38" stroke="#406eff" stroke-width="2.9"/>
<line x1="637.45" y1="540.47" x2="640.95" y2="540.47" stroke="#406eff" stroke-width="2.9"/>
<line x1="637.45" y1="521.08" x2="640.95" y2="521.08" stroke="#406eff" stroke-width="2.9"/>
<line x1="637.45" y1="504.29" x2="640.95" y2="504.29" stroke="#406eff" stroke-width="2.9"/>
<line x1="637.45" y1="489.47" x2="640.95" y2="489.47" stroke="#406eff" stroke-width="2.9"/>
<line x1="637.45" y1="250.87" x2="640.95" y2="250.87" stroke="#406eff" stroke-width="2.9"/>
<line x1="637.45" y1="231.48" x2="640.95" y2="231.48" stroke="#406eff" stroke-width="2.9"/>
<line x1="637.45" y1="214.69" x2="640.95" y2="214.69" stroke="#406eff" stroke-width="2.9"/>
<line x1="637.45" y1="199.87" x2="640.95" y2="199.87" stroke="#406eff" stroke-width="2.9"/>
<text x="646.6" y="485.22" font-size="25.6" fill="#406eff">2</text>
<text x="646.6" y="398.04" font-size="25.6" fill="#406eff">4</text>
<text x="646.6" y="347.05" font-size="25.6" fill="#406eff">6</text>
<text x="646.6" y="310.87" font-size="25.6" fill="#406eff">8</text>
<text x="646.6" y="195.62" font-size="25.6" fill="#406eff">2</text>
<text x="646.6" y="108.44" font-size="25.6" fill="#406eff">4</text>
<text x="661" y="286.6" font-size="37" fill="#406eff">1</text>
<text x="661" y="576.2" font-size="37" fill="#406eff">0.1</text>
<text font-size="37.15" transform="translate(32 515) rotate(-90)" xml:space="preserve"><tspan>Normalized d</tspan><tspan font-style="italic">N</tspan><tspan>/dlog</tspan><tspan font-style="italic">D</tspan><tspan font-size="25.08" dy="11.33">tr</tspan></text>
<text font-size="37" fill="#406eff" font-style="italic" transform="translate(735.8 431) rotate(-90)">Relative SNF</text>
<text x="336.2" y="659" font-size="37" xml:space="preserve"><tspan font-style="italic">D</tspan><tspan font-size="24.98" dy="11.29">tr</tspan><tspan dy="-11.29">  [nm]</tspan></text>
<text x="-1" y="38.3" font-size="50" font-weight="bold">(a)</text>
<text x="172.5" y="110" font-size="32.7">Tokyo</text>
<line x1="168" y1="135.2" x2="222.3" y2="135.2" stroke="#000" stroke-width="6.5"/>
<text x="235.4" y="144" font-size="29.35">Initial</text>
<line x1="168" y1="168.5" x2="222.3" y2="168.5" stroke="#ff0000" stroke-width="6.5"/>
<text x="235.4" y="177.3" font-size="29.35">Removed</text>
<line x1="168" y1="201.8" x2="222.3" y2="201.8" stroke="#406eff" stroke-width="6.5"/>
<text x="235.4" y="210.6" font-size="29.35" font-style="italic">Relative SNF</text>
</g>
<g id="b">
<clipPath id="clipb"><rect x="917.15" y="68.43" width="505.65" height="498.72"/></clipPath>
<g clip-path="url(#clipb)">
<path d="M936.4 395.8l26-15.6l26-6.6l26 3.6l26 22.1l26 34.1l26 36.1l26 33.3l26 23.3l26 16.6l26 9.6l26 5.8l26 2.9l26 1.3l26 0.8l26 0.5l26 0.3l26 0.2l26 0l18.7 0" stroke="#ffbfbf" stroke-width="2.6" fill="none" stroke-linejoin="miter"/>
<path d="M936.4 387.6l26-12.7l26-4l26 5.8l26 22.6l26 34.1l26 36.2l26 33.2l26 23.3l26 16.6l26 9.6l26 5.8l26 2.9l26 1.3l26 0.8l26 0.5l26 0.3l26 0.2l26 0l18.7 0" stroke="#ffbfbf" stroke-width="2.6" fill="none" stroke-linejoin="miter"/>
<path d="M936.4 370.1l26-10.1l26-0.5l26 9.3l26 21.5l26 33.4l26 35.9l26 36.4l26 24.9l26 18.9l26 10.6l26 6.7l26 3.6l26 1.3l26 0.9l26 0.6l26 0.3l26 0.3l26 0l18.7 0" stroke="#ffbfbf" stroke-width="2.6" fill="none" stroke-linejoin="miter"/>
<path d="M936.4 366.5l26-8.8l26-0.6l26 9.6l26 20.4l26 32.1l26 35.7l26 36.8l26 26.2l26 19.8l26 11.5l26 7.2l26 3.9l26 1.6l26 0.9l26 0.6l26 0.4l26 0.3l26 0l18.7 0" stroke="#ffbfbf" stroke-width="2.6" fill="none" stroke-linejoin="miter"/>
<path d="M936.4 361.7l26-8.1l26 2.1l26 12.4l26 22.8l26 33.4l26 36l26 36.1l26 24.8l26 18.8l26 10.5l26 6.7l26 3.5l26 1.4l26 0.8l26 0.6l26 0.3l26 0.3l26 0l18.7 0" stroke="#ffbfbf" stroke-width="2.6" fill="none" stroke-linejoin="miter"/>
<path d="M936.4 355l26-4.1l26 5.5l26 16.2l26 25.7l26 34l26 36.2l26 33.6l26 23.4l26 16.9l26 9.7l26 5.9l26 3l26 1.3l26 0.8l26 0.5l26 0.3l26 0.2l26 0l18.7 0" stroke="#ffbfbf" stroke-width="2.6" fill="none" stroke-linejoin="miter"/>
<path d="M936.4 352.8l26-4.5l26 5.2l26 15.3l26 24l26 33.5l26 36.1l26 35.5l26 24.4l26 18.3l26 10.3l26 6.5l26 3.4l26 1.3l26 0.9l26 0.5l26 0.4l26 0.2l26 0l18.7 0" stroke="#ffbfbf" stroke-width="2.6" fill="none" stroke-linejoin="miter"/>
<path d="M936.4 345.2l26-1.7l26 8.4l26 19.3l26 26.6l26 34l26 36.2l26 33.7l26 23.6l26 17l26 9.7l26 5.9l26 3.1l26 1.2l26 0.9l26 0.5l26 0.3l26 0.2l26 0l18.7 0" stroke="#ffbfbf" stroke-width="2.6" fill="none" stroke-linejoin="miter"/>
<path d="M936.4 329.6l26 2.4l26 13.4l26 25.5l26 29.3l26 34.2l26 36.2l26 32.9l26 23.1l26 16.4l26 9.4l26 5.8l26 2.9l26 1.2l26 0.8l26 0.5l26 0.3l26 0.2l26 0l18.7 0" stroke="#ffbfbf" stroke-width="2.6" fill="none" stroke-linejoin="miter"/>
<path d="M936.4 372.9l26-10.2l26-0.7l26 9.5l26 22.6l26 33.7l26 36l26 35.1l26 24.2l26 18l26 10.1l26 6.3l26 3.3l26 1.3l26 0.9l26 0.5l26 0.4l26 0.2l26 0l18.7 0" stroke="#ffbfbf" stroke-width="2.6" fill="none" stroke-linejoin="miter"/>
<path d="M936.4 457.1l26-18.2l26-17.3l26-14l26-7.4l26 5l26 7.4l26 39.5l26 23.9l26 22.3l26 19.7l26 19l26 10.7l26 7.4l26 4.1l26 2.5l26 1.2l26 0.8l26 0.4l18.7 0" stroke="#ffbfbf" stroke-width="2.6" fill="none" stroke-linejoin="miter"/>
<path d="M936.4 430.7l26-25.2l26-22.4l26-10.5l26 8.1l26 30.8l26 37l26 39.2l26 27.8l26 20l26 12.3l26 7.9l26 4.2l26 1.8l26 1l26 0.7l26 0.4l26 0.3l26 0l18.7 0" stroke="#dddddd" stroke-width="2.6" fill="none" stroke-linejoin="miter"/>
<path d="M936.4 424.1l26-22.9l26-20.7l26-9.2l26 8.8l26 30.3l26 36.9l26 39.1l26 28.3l26 20.2l26 12.6l26 7.9l26 4.4l26 1.9l26 1l26 0.7l26 0.3l26 0.4l26 0l18.7 0" stroke="#dddddd" stroke-width="2.6" fill="none" stroke-linejoin="miter"/>
<path d="M936.4 411.8l26-17.7l26-18.2l26-7.1l26 9.3l26 28.6l26 36.5l26 38.9l26 29.8l26 21l26 13.4l26 8.3l26 4.8l26 2.2l26 1l26 0.7l26 0.4l26 0.3l26 0.1l18.7 0" stroke="#dddddd" stroke-width="2.6" fill="none" stroke-linejoin="miter"/>
<path d="M936.4 406l26-18.3l26-15.6l26-3.7l26 12.2l26 30.8l26 36.9l26 39.2l26 27.9l26 20l26 12.4l26 7.8l26 4.3l26 1.8l26 1l26 0.7l26 0.4l26 0.3l26 0l18.7 0" stroke="#dddddd" stroke-width="2.6" fill="none" stroke-linejoin="miter"/>
<path d="M936.4 399.4l26-16.3l26-13.8l26-2l26 13.1l26 30.5l26 37l26 39.1l26 28.1l26 20.1l26 12.4l26 7.9l26 4.4l26 1.8l26 1l26 0.7l26 0.4l26 0.3l26 0l18.7 0" stroke="#dddddd" stroke-width="2.6" fill="none" stroke-linejoin="miter"/>
<path d="M936.4 392.8l26-14l26-12.2l26-0.5l26 13.8l26 30.2l26 36.9l26 39.1l26 28.4l26 20.3l26 12.6l26 8l26 4.4l26 1.9l26 1l26 0.7l26 0.3l26 0.4l26 0l18.7 0" stroke="#dddddd" stroke-width="2.6" fill="none" stroke-linejoin="miter"/>
<path d="M936.4 350l26-4.1l26 0.6l26 12.9l26 22.7l26 32.1l26 37.3l26 39.4l26 26.6l26 19.5l26 11.7l26 7.5l26 4l26 1.7l26 0.9l26 0.6l26 0.4l26 0.3l26 0l18.7 0" stroke="#dddddd" stroke-width="2.6" fill="none" stroke-linejoin="miter"/>
<path d="M936.4 340.1l26 0.2l26 2.7l26 14.4l26 23l26 30.5l26 36.9l26 39.2l26 28.1l26 20.1l26 12.4l26 7.9l26 4.4l26 1.8l26 1l26 0.7l26 0.4l26 0.3l26 0l18.7 0" stroke="#dddddd" stroke-width="2.6" fill="none" stroke-linejoin="miter"/>
<path d="M936.4 378.8l26-9.9l26-8.4l26 3.2l26 16l26 30l26 36.8l26 39.1l26 28.6l26 20.3l26 12.7l26 8.1l26 4.4l26 2l26 1l26 0.7l26 0.3l26 0.4l26 0l18.7 0" stroke="#dddddd" stroke-width="2.6" fill="none" stroke-linejoin="miter"/>
<path d="M936.4 384.6l26-10.8l26-10.3l26 1l26 14.3l26 29.3l26 36.5l26 39.1l26 29.2l26 20.7l26 13.1l26 8.2l26 4.7l26 2l26 1.1l26 0.6l26 0.4l26 0.4l26 0l18.7 0" stroke="#dddddd" stroke-width="2.6" fill="none" stroke-linejoin="miter"/>
<path d="M936.4 374.7l26-11.7l26-2.1l26 7.5l26 20.6l26 33.3l26 35.9l26 36.8l26 25.2l26 19.2l26 10.7l26 6.9l26 3.6l26 1.4l26 0.9l26 0.6l26 0.3l26 0.3l26 0l18.7 0" stroke="#ff0000" stroke-width="6.5" fill="none" stroke-linejoin="miter"/>
<path d="M936.4 387.2l26-16.1l26-9l26 4l26 17.9l26 33.8l26 37.7l26 39.5l26 25.2l26 18.8l26 10.8l26 7.2l26 3.6l26 1.4l26 0.9l26 0.6l26 0.3l26 0.3l26 0l18.7 0" stroke="#000" stroke-width="6.5" fill="none" stroke-linejoin="miter"/>
<path d="M936.4 205.4l26-1.8l26 2.1l26 6l26 6.3l26 0l26-4.5l26-6.3l26-3.6l26 3.1l26 5.9l26-6.3l26 38.6l26-34.1l26 75.4l26 71.8l26-100.5l26 43.1l26-25.2l18.7-21.5" stroke="#bfcfff" stroke-width="1.6" fill="none" stroke-linejoin="miter"/>
<path d="M936.4 217.1l26 3.6l26 8l26 8.1l26 11.3l26 4l26 12.5l26-1.8l26 25.2l26-34.1l26-28.8l26 59.3l26-50.3l26 10.8l26-18l26 91.6l26 134.7l26-136.5l26 114.9l18.7-192.1" stroke="#bfcfff" stroke-width="1.6" fill="none" stroke-linejoin="miter"/>
<path d="M936.4 222.4l26 6.3l26 10.8l26 16.2l26 6.3l26 8l26 7.2l26 5.4l26 3.6l26 3.6l26 17.9l26 18l26 14.4l26-3.6l26-104.2l26-5.4l26 91.6l26-3.6l26-25.1l18.7-14.4" stroke="#bfcfff" stroke-width="1.6" fill="none" stroke-linejoin="miter"/>
<path d="M936.4 244l26 15.3l26 17.9l26 19.8l26 26.9l26 12.6l26 2.7l26-2.4l26-3l26-0.9l26-10.8l26-7.2l26-7.2l26 14.4l26-25.1l26 23.3l26-59.2l26-1.8l26 41.3l18.7-32.4" stroke="#bfcfff" stroke-width="1.6" fill="none" stroke-linejoin="miter"/>
<path d="M936.4 268.2l26-8.9l26-7.2l26-7.2l26-7.2l26-14.4l26-9.8l26-7.2l26-2.7l26 6.3l26-6.3l26 9l26-5.4l26 26.9l26 10.8l26 61l26 25.2l26-62.9l26 46.7l18.7-68.2" stroke="#bfcfff" stroke-width="1.6" fill="none" stroke-linejoin="miter"/>
<path d="M936.4 276.9l26-0.6l26-0.9l26-0.3l26-0.6l26-0.3l26-0.6l26 5.4l26 5.4l26 3.6l26 9l26 3.6l26-7.2l26 25.1l26-32.3l26-32.3l26 25.1l26-14.4l26-10.7l18.7 46.7" stroke="#bfcfff" stroke-width="1.6" fill="none" stroke-linejoin="miter"/>
<path d="M936.4 277.2l26 16.2l26 15.2l26 8.1l26 9l26 9l26 1.8l26-2.7l26-4.5l26-0.9l26 6.3l26-1.8l26-18l26-10.8l26-39.5l26 41.3l26-7.1l26-60.2l26 69.1l18.7-26.9" stroke="#bfcfff" stroke-width="1.6" fill="none" stroke-linejoin="miter"/>
<path d="M936.4 315.8l26-11.7l26-7.1l26-6.3l26-1.5l26 0.6l26-0.6l26 8.7l26 0l26 15.2l26 16.2l26-3.6l26-34.1l26 25.1l26-37.7l26-19.7l26 0l26 19.7l26-3.6l18.7-3.6" stroke="#bfcfff" stroke-width="1.6" fill="none" stroke-linejoin="miter"/>
<path d="M936.4 332l26 11.7l26 11.6l26 11.7l26 12.6l26 3l26 1.5l26-8.1l26 11.6l26-23.3l26 0.9l26 40.4l26-41.3l26 0l26-103.2l26 14.3l26 82.6l26-55.6l26-76.4l18.7 81.7" stroke="#bfcfff" stroke-width="1.6" fill="none" stroke-linejoin="miter"/>
<path d="M936.4 515.7l26 0.7l26-7.2l26-16.5l26-19.8l26-23.3l26-32.3l26-16.2l26-17.9l26-18.9l26-31.4l26-9l26-21.5l26-5.4l26 10.7l26 25.2l26 39.5l26-64.7l26 32.4l18.7-50.3" stroke="#bfcfff" stroke-width="1.6" fill="none" stroke-linejoin="miter"/>
<path d="M936.4 253.9l26 7.2l26 10.7l26 12.6l26 9l26 7.2l26 7.1l26 7.2l26 9l26 9l26-7.2l26-10.8l26-7.2l26-14.3l26 25.1l26 10.8l26 14.4l26 25.1l26-158l18.7 100.5" stroke="#bfcfff" stroke-width="1.6" fill="none" stroke-linejoin="miter"/>
<path d="M936.4 293.4l26 7.2l26 14.3l26 10.8l26 7.2l26 5.4l26-0.9l26-4.5l26-1.8l26 2.7l26 0.9l26 5.4l26-3.6l26-46.7l26 10.8l26 1.8l26-25.2l26-59.2l26 75.4l18.7-52.1" stroke="#bfcfff" stroke-width="1.6" fill="none" stroke-linejoin="miter"/>
<path d="M936.4 262.8l26 2.7l26 5.4l26 4.5l26 3.6l26 0.5l26-0.5l26-3.2l26-0.7l26 2.3l26-0.2l26 0.6l26-7.8l26 11.7l26-18.9l26 14.4l26-7.2l26 9.9l26 4.1l18.7-16.1" stroke="#406eff" stroke-width="6.5" fill="none" stroke-linejoin="miter"/>
</g>
<line x1="915.7" y1="63.35" x2="915.7" y2="570.95" stroke="#000" stroke-width="2.9"/>
<line x1="914.25" y1="64.8" x2="1427.25" y2="64.8" stroke="#000" stroke-width="2.9"/>
<line x1="914.25" y1="569.5" x2="1427.25" y2="569.5" stroke="#000" stroke-width="2.9"/>
<line x1="1425.8" y1="66.25" x2="1425.8" y2="568.05" stroke="#406eff" stroke-width="2.9"/>
<line x1="898.55" y1="564.15" x2="914.25" y2="564.15" stroke="#000" stroke-width="2.9"/>
<text x="891.1" y="576.95" font-size="37" text-anchor="end">0</text>
<line x1="898.55" y1="481.78" x2="914.25" y2="481.78" stroke="#000" stroke-width="2.9"/>
<text x="891.1" y="494.58" font-size="37" text-anchor="end">1</text>
<line x1="898.55" y1="399.41" x2="914.25" y2="399.41" stroke="#000" stroke-width="2.9"/>
<text x="891.1" y="412.21" font-size="37" text-anchor="end">2</text>
<line x1="898.55" y1="317.04" x2="914.25" y2="317.04" stroke="#000" stroke-width="2.9"/>
<text x="891.1" y="329.84" font-size="37" text-anchor="end">3</text>
<line x1="898.55" y1="234.67" x2="914.25" y2="234.67" stroke="#000" stroke-width="2.9"/>
<text x="891.1" y="247.47" font-size="37" text-anchor="end">4</text>
<line x1="898.55" y1="152.3" x2="914.25" y2="152.3" stroke="#000" stroke-width="2.9"/>
<text x="891.1" y="165.1" font-size="37" text-anchor="end">5</text>
<line x1="898.55" y1="69.93" x2="914.25" y2="69.93" stroke="#000" stroke-width="2.9"/>
<text x="891.1" y="82.73" font-size="37" text-anchor="end">6</text>
<line x1="987.9" y1="47.65" x2="987.9" y2="63.35" stroke="#000" stroke-width="2.9"/>
<line x1="987.9" y1="570.95" x2="987.9" y2="586.65" stroke="#000" stroke-width="2.9"/>
<line x1="1420.6" y1="47.65" x2="1420.6" y2="63.35" stroke="#000" stroke-width="2.9"/>
<line x1="1420.6" y1="570.95" x2="1420.6" y2="586.65" stroke="#000" stroke-width="2.9"/>
<line x1="920.87" y1="55.65" x2="920.87" y2="63.35" stroke="#000" stroke-width="2.9"/>
<line x1="920.87" y1="570.95" x2="920.87" y2="578.65" stroke="#000" stroke-width="2.9"/>
<line x1="945.97" y1="55.65" x2="945.97" y2="63.35" stroke="#000" stroke-width="2.9"/>
<line x1="945.97" y1="570.95" x2="945.97" y2="578.65" stroke="#000" stroke-width="2.9"/>
<line x1="968.1" y1="55.65" x2="968.1" y2="63.35" stroke="#000" stroke-width="2.9"/>
<line x1="968.1" y1="570.95" x2="968.1" y2="578.65" stroke="#000" stroke-width="2.9"/>
<line x1="1118.16" y1="55.65" x2="1118.16" y2="63.35" stroke="#000" stroke-width="2.9"/>
<line x1="1118.16" y1="570.95" x2="1118.16" y2="578.65" stroke="#000" stroke-width="2.9"/>
<line x1="1194.35" y1="55.65" x2="1194.35" y2="63.35" stroke="#000" stroke-width="2.9"/>
<line x1="1194.35" y1="570.95" x2="1194.35" y2="578.65" stroke="#000" stroke-width="2.9"/>
<line x1="1248.41" y1="55.65" x2="1248.41" y2="63.35" stroke="#000" stroke-width="2.9"/>
<line x1="1248.41" y1="570.95" x2="1248.41" y2="578.65" stroke="#000" stroke-width="2.9"/>
<line x1="1290.34" y1="55.65" x2="1290.34" y2="63.35" stroke="#000" stroke-width="2.9"/>
<line x1="1290.34" y1="570.95" x2="1290.34" y2="578.65" stroke="#000" stroke-width="2.9"/>
<line x1="1324.61" y1="55.65" x2="1324.61" y2="63.35" stroke="#000" stroke-width="2.9"/>
<line x1="1324.61" y1="570.95" x2="1324.61" y2="578.65" stroke="#000" stroke-width="2.9"/>
<line x1="1353.57" y1="55.65" x2="1353.57" y2="63.35" stroke="#000" stroke-width="2.9"/>
<line x1="1353.57" y1="570.95" x2="1353.57" y2="578.65" stroke="#000" stroke-width="2.9"/>
<line x1="1378.67" y1="55.65" x2="1378.67" y2="63.35" stroke="#000" stroke-width="2.9"/>
<line x1="1378.67" y1="570.95" x2="1378.67" y2="578.65" stroke="#000" stroke-width="2.9"/>
<line x1="1400.8" y1="55.65" x2="1400.8" y2="63.35" stroke="#000" stroke-width="2.9"/>
<line x1="1400.8" y1="570.95" x2="1400.8" y2="578.65" stroke="#000" stroke-width="2.9"/>
<line x1="1005.81" y1="59.85" x2="1005.81" y2="63.35" stroke="#000" stroke-width="2.9"/>
<line x1="1005.81" y1="570.95" x2="1005.81" y2="574.45" stroke="#000" stroke-width="2.9"/>
<line x1="1022.16" y1="59.85" x2="1022.16" y2="63.35" stroke="#000" stroke-width="2.9"/>
<line x1="1022.16" y1="570.95" x2="1022.16" y2="574.45" stroke="#000" stroke-width="2.9"/>
<line x1="1037.2" y1="59.85" x2="1037.2" y2="63.35" stroke="#000" stroke-width="2.9"/>
<line x1="1037.2" y1="570.95" x2="1037.2" y2="574.45" stroke="#000" stroke-width="2.9"/>
<line x1="1051.13" y1="59.85" x2="1051.13" y2="63.35" stroke="#000" stroke-width="2.9"/>
<line x1="1051.13" y1="570.95" x2="1051.13" y2="574.45" stroke="#000" stroke-width="2.9"/>
<line x1="1064.09" y1="59.85" x2="1064.09" y2="63.35" stroke="#000" stroke-width="2.9"/>
<line x1="1064.09" y1="570.95" x2="1064.09" y2="574.45" stroke="#000" stroke-width="2.9"/>
<line x1="1076.22" y1="59.85" x2="1076.22" y2="63.35" stroke="#000" stroke-width="2.9"/>
<line x1="1076.22" y1="570.95" x2="1076.22" y2="574.45" stroke="#000" stroke-width="2.9"/>
<line x1="1087.62" y1="59.85" x2="1087.62" y2="63.35" stroke="#000" stroke-width="2.9"/>
<line x1="1087.62" y1="570.95" x2="1087.62" y2="574.45" stroke="#000" stroke-width="2.9"/>
<line x1="1098.36" y1="59.85" x2="1098.36" y2="63.35" stroke="#000" stroke-width="2.9"/>
<line x1="1098.36" y1="570.95" x2="1098.36" y2="574.45" stroke="#000" stroke-width="2.9"/>
<line x1="1108.52" y1="59.85" x2="1108.52" y2="63.35" stroke="#000" stroke-width="2.9"/>
<line x1="1108.52" y1="570.95" x2="1108.52" y2="574.45" stroke="#000" stroke-width="2.9"/>
<line x1="1136.07" y1="59.85" x2="1136.07" y2="63.35" stroke="#000" stroke-width="2.9"/>
<line x1="1136.07" y1="570.95" x2="1136.07" y2="574.45" stroke="#000" stroke-width="2.9"/>
<line x1="1152.42" y1="59.85" x2="1152.42" y2="63.35" stroke="#000" stroke-width="2.9"/>
<line x1="1152.42" y1="570.95" x2="1152.42" y2="574.45" stroke="#000" stroke-width="2.9"/>
<line x1="1167.46" y1="59.85" x2="1167.46" y2="63.35" stroke="#000" stroke-width="2.9"/>
<line x1="1167.46" y1="570.95" x2="1167.46" y2="574.45" stroke="#000" stroke-width="2.9"/>
<line x1="1181.39" y1="59.85" x2="1181.39" y2="63.35" stroke="#000" stroke-width="2.9"/>
<line x1="1181.39" y1="570.95" x2="1181.39" y2="574.45" stroke="#000" stroke-width="2.9"/>
<text x="920.87" y="603.8" font-size="25.6" text-anchor="middle">7</text>
<text x="945.97" y="603.8" font-size="25.6" text-anchor="middle">8</text>
<text x="1118.16" y="603.8" font-size="25.6" text-anchor="middle">2</text>
<text x="1194.35" y="603.8" font-size="25.6" text-anchor="middle">3</text>
<text x="1248.41" y="603.8" font-size="25.6" text-anchor="middle">4</text>
<text x="1290.34" y="603.8" font-size="25.6" text-anchor="middle">5</text>
<text x="1324.61" y="603.8" font-size="25.6" text-anchor="middle">6</text>
<text x="1353.57" y="603.8" font-size="25.6" text-anchor="middle">7</text>
<text x="1378.67" y="603.8" font-size="25.6" text-anchor="middle">8</text>
<text x="987.9" y="636.8" font-size="37" text-anchor="middle">100</text>
<text x="1420.6" y="636.8" font-size="37" text-anchor="middle">1000</text>
<line x1="1427.25" y1="273.7" x2="1442.95" y2="273.7" stroke="#406eff" stroke-width="2.9"/>
<line x1="1427.25" y1="564" x2="1442.95" y2="564" stroke="#406eff" stroke-width="2.9"/>
<line x1="1427.25" y1="476.61" x2="1434.95" y2="476.61" stroke="#406eff" stroke-width="2.9"/>
<line x1="1427.25" y1="425.49" x2="1434.95" y2="425.49" stroke="#406eff" stroke-width="2.9"/>
<line x1="1427.25" y1="389.22" x2="1434.95" y2="389.22" stroke="#406eff" stroke-width="2.9"/>
<line x1="1427.25" y1="361.09" x2="1434.95" y2="361.09" stroke="#406eff" stroke-width="2.9"/>
<line x1="1427.25" y1="338.1" x2="1434.95" y2="338.1" stroke="#406eff" stroke-width="2.9"/>
<line x1="1427.25" y1="318.67" x2="1434.95" y2="318.67" stroke="#406eff" stroke-width="2.9"/>
<line x1="1427.25" y1="301.83" x2="1434.95" y2="301.83" stroke="#406eff" stroke-width="2.9"/>
<line x1="1427.25" y1="286.98" x2="1434.95" y2="286.98" stroke="#406eff" stroke-width="2.9"/>
<line x1="1427.25" y1="186.31" x2="1434.95" y2="186.31" stroke="#406eff" stroke-width="2.9"/>
<line x1="1427.25" y1="135.19" x2="1434.95" y2="135.19" stroke="#406eff" stroke-width="2.9"/>
<line x1="1427.25" y1="98.92" x2="1434.95" y2="98.92" stroke="#406eff" stroke-width="2.9"/>
<line x1="1427.25" y1="70.79" x2="1434.95" y2="70.79" stroke="#406eff" stroke-width="2.9"/>
<line x1="1427.25" y1="541.01" x2="1430.75" y2="541.01" stroke="#406eff" stroke-width="2.9"/>
<line x1="1427.25" y1="521.58" x2="1430.75" y2="521.58" stroke="#406eff" stroke-width="2.9"/>
<line x1="1427.25" y1="504.74" x2="1430.75" y2="504.74" stroke="#406eff" stroke-width="2.9"/>
<line x1="1427.25" y1="489.89" x2="1430.75" y2="489.89" stroke="#406eff" stroke-width="2.9"/>
<line x1="1427.25" y1="250.71" x2="1430.75" y2="250.71" stroke="#406eff" stroke-width="2.9"/>
<line x1="1427.25" y1="231.28" x2="1430.75" y2="231.28" stroke="#406eff" stroke-width="2.9"/>
<line x1="1427.25" y1="214.44" x2="1430.75" y2="214.44" stroke="#406eff" stroke-width="2.9"/>
<line x1="1427.25" y1="199.59" x2="1430.75" y2="199.59" stroke="#406eff" stroke-width="2.9"/>
<text x="1436.4" y="485.61" font-size="25.6" fill="#406eff">2</text>
<text x="1436.4" y="398.22" font-size="25.6" fill="#406eff">4</text>
<text x="1436.4" y="347.1" font-size="25.6" fill="#406eff">6</text>
<text x="1436.4" y="310.83" font-size="25.6" fill="#406eff">8</text>
<text x="1436.4" y="195.31" font-size="25.6" fill="#406eff">2</text>
<text x="1436.4" y="107.92" font-size="25.6" fill="#406eff">4</text>
<text x="1450.8" y="286.5" font-size="37" fill="#406eff">1</text>
<text x="1450.8" y="576.8" font-size="37" fill="#406eff">0.1</text>
<text font-size="37.15" transform="translate(832.8 512) rotate(-90)" xml:space="preserve"><tspan>Normalized d</tspan><tspan font-style="italic">N</tspan><tspan>/dlog</tspan><tspan font-style="italic">D</tspan><tspan font-size="25.08" dy="11.33">tr</tspan></text>
<text font-size="37" fill="#406eff" font-style="italic" transform="translate(1528 430) rotate(-90)">Relative SNF</text>
<text x="1125.5" y="659" font-size="37" xml:space="preserve"><tspan font-style="italic">D</tspan><tspan font-size="24.98" dy="11.29">tr</tspan><tspan dy="-11.29">  [nm]</tspan></text>
<text x="777.5" y="37.5" font-size="50" font-weight="bold">(b)</text>
<text x="936" y="105.9" font-size="32.7">Okinawa</text>
<line x1="931.9" y1="131.1" x2="986.8" y2="131.1" stroke="#000" stroke-width="6.5"/>
<text x="999.5" y="139.7" font-size="29.35">Initial</text>
<line x1="931.9" y1="164.4" x2="986.8" y2="164.4" stroke="#ff0000" stroke-width="6.5"/>
<text x="999.5" y="173" font-size="29.35">Removed</text>
<line x1="931.9" y1="197.7" x2="986.8" y2="197.7" stroke="#406eff" stroke-width="6.5"/>
<text x="999.5" y="206.3" font-size="29.35" font-style="italic">Relative SNF</text>
</g>
<g id="c">
<clipPath id="clipc"><rect x="128.8" y="776.08" width="510.44" height="498.22"/></clipPath>
<g clip-path="url(#clipc)">
<path d="M131 1272.8l7.6-56.7l7.6 36.9l7.6 6l7.6 5.3l7.6 2.9l7.6-5.7l7.6-3.6l7.7-7.1l7.6-6.5l7.6-16.5l7.6-5.5l7.6 0.5l7.6-12l7.6-21l7.6 18.1l7.6-1.8l7.6-14.8l7.6-0.3l7.6-75.1l7.6 78.2l7.6-5.1l7.6-15.1l7.6 18.1l7.6 9.6l7.6-33.7l7.6-6.5l7.6 16.8l7.6 25.7l7.6 68.9l7.6 0l7.6-115.2l7.6 115.2l7.6-55.5l7.6 1.5l7.7-12.9l7.6 39.9l7.6-59.7l7.6 18.6l7.6 16.4l7.6 17.8l7.6-17.9l7.6 51.8l7.6-68.2l7.6 68.2l7.6-69.1l7.6 69.1l7.6 0l7.6-41.3l7.6-3.8l7.6 45.1l7.6-25.9l7.6 25.9l7.6-39.3l7.6 39.3l7.6 0l7.6-16.5l7.6-11.9l7.6 7.8l7.6 20.6l7.6-13.2l7.7 13.2l7.6-11.9l7.6 3.8l7.6-12.5l7.6 7l7.6-3.3l6.5 16.9" stroke="#dcdcdc" stroke-width="1.8" fill="none" stroke-linejoin="miter"/>
<path d="M131 1272.8l7.6-87.4l7.6 78.5l7.6 8.9l7.6-1.2l7.6-2.8l7.6-12.3l7.6 1.5l7.7-13.5l7.6 0.9l7.6-27.3l7.6 14.2l7.6 11l7.6-19.4l7.6-2.7l7.6-31.9l7.6 31.2l7.6 11l7.6-16.1l7.6-7.5l7.6 11.3l7.6-16l7.6 13.5l7.6 14.6l7.6-24.2l7.6-10.4l7.6-2.3l7.6 46.9l7.6-43.9l7.6 12l7.6-12.6l7.6 43.1l7.6 2.8l7.6-122.7l7.6 152.8l7.7 0l7.6-38.9l7.6 38.9l7.6-28.7l7.6 21.2l7.6-37.9l7.6 45.4l7.6-31l7.6 16.2l7.6 6l7.6-14.2l7.6 23l7.6 0l7.6 0l7.6 0l7.6-15.2l7.6 10.2l7.6 3.9l7.6 1.1l7.6 0l7.6 0l7.6 0l7.6 0l7.6 0l7.6-0.4l7.6 0.4l7.7-19.5l7.6 19.5l7.6 0l7.6 0l7.6 0l7.6-12.2l6.5 2.2" stroke="#dcdcdc" stroke-width="1.8" fill="none" stroke-linejoin="miter"/>
<path d="M131 1272.8l7.6-92.5l7.6 69.8l7.6-11.2l7.6-1.4l7.6 11.4l7.6 8.7l7.6-12.8l7.7-1.4l7.6 1.2l7.6-31.2l7.6 5.4l7.6-53.4l7.6 14.7l7.6 27l7.6-4l7.6-23.8l7.6-21.6l7.6 19.9l7.6-8.7l7.6-16.7l7.6 10l7.6-24.2l7.6-2.1l7.6-2.2l7.6 20.9l7.6-19.5l7.6 1.5l7.6-0.3l7.6-1.4l7.6 19.7l7.6-21.1l7.6 139.3l7.6-134.5l7.6 134.5l7.7-84.2l7.6 84.2l7.6 0l7.6 0l7.6-120.2l7.6 120.2l7.6 0l7.6-77.9l7.6-1l7.6 78.9l7.6-29.9l7.6-33.5l7.6 63.4l7.6 0l7.6 0l7.6 0l7.6-55l7.6 55l7.6-33.9l7.6 15.6l7.6 18.3l7.6 0l7.6 0l7.6-27.3l7.6 27.3l7.6 0l7.7 0l7.6-9.1l7.6 9.1l7.6 0l7.6-23.2l7.6 23.2l6.5 0" stroke="#dcdcdc" stroke-width="1.8" fill="none" stroke-linejoin="miter"/>
<path d="M131 1272.8l7.6-48.7l7.6 42.3l7.6-3.8l7.6 7.6l7.6-8.4l7.6 7.2l7.6-10.1l7.7 13.9l7.6-14l7.6-25.7l7.6-4.6l7.6 6.6l7.6-2.1l7.6-3.2l7.6-16.6l7.6-16.3l7.6 1.5l7.6 31.1l7.6-39.2l7.6-16.5l7.6 24l7.6-17.8l7.6 19.8l7.6-20.9l7.6 0.7l7.6 40.6l7.6 2.2l7.6-69.9l7.6 81.5l7.6 1.3l7.6 37.5l7.6 0l7.6-45l7.6-14.9l7.7 29.8l7.6-12.7l7.6 19.1l7.6 23.7l7.6 0l7.6-0.8l7.6-31l7.6 31.8l7.6-39.4l7.6 17.7l7.6 13.2l7.6 1.4l7.6 2.9l7.6 4.2l7.6-8.1l7.6 8.1l7.6 0l7.6-22l7.6 22l7.6 0l7.6 0l7.6-9.5l7.6 1.8l7.6-7.7l7.6 7.3l7.6 3.9l7.7-13.2l7.6 17.4l7.6-8.9l7.6 8.9l7.6-3.4l7.6 3.4l6.5 0" stroke="#dcdcdc" stroke-width="1.8" fill="none" stroke-linejoin="miter"/>
<path d="M131 1272.8l7.6-87.2l7.6 66.4l7.6 3.9l7.6 6.2l7.6-19.5l7.6 12.8l7.6-4.1l7.7 0.9l7.6-16.6l7.6 7.7l7.6-21.2l7.6 12.6l7.6-42.9l7.6 9.7l7.6-4.3l7.6 11.9l7.6-24l7.6 7.2l7.6-18.4l7.6 20.8l7.6-18l7.6-5.7l7.6 16.5l7.6-10.2l7.6-5l7.6 0.4l7.6-37.6l7.6 39l7.6-7l7.6 105.7l7.6-85.7l7.6 85.7l7.6-92.2l7.6-45l7.7 137.2l7.6-107.4l7.6 58.8l7.6 48.6l7.6-59.4l7.6-31.9l7.6-6l7.6 53.6l7.6 43.7l7.6-62.9l7.6-2.1l7.6 65l7.6 0l7.6-76.4l7.6 76.4l7.6-43.6l7.6 43.6l7.6 0l7.6 0l7.6 0l7.6 0l7.6-15.3l7.6 15.3l7.6-12.9l7.6 12.9l7.6-16.1l7.7-8l7.6 24.1l7.6 0l7.6-8.6l7.6 8.6l7.6 0l6.5-17.8" stroke="#dcdcdc" stroke-width="1.8" fill="none" stroke-linejoin="miter"/>
<path d="M131 1272.8l7.6-143.9l7.6 116.6l7.6 4.9l7.6 1.4l7.6-2.7l7.6 7.5l7.6-10.6l7.7-11.9l7.6-10.5l7.6-12.1l7.6-17.3l7.6 10.7l7.6 11.3l7.6-27.7l7.6 30.2l7.6-35.2l7.6-23.1l7.6 14.6l7.6 5.9l7.6-2.4l7.6 28.8l7.6-2.5l7.6-30.5l7.6 38.9l7.6-14.8l7.6-15.5l7.6-45.3l7.6 38.3l7.6 74.4l7.6-55.9l7.6 6l7.6 35.8l7.6 36.6l7.6-124.5l7.7-12l7.6 136.5l7.6-96.6l7.6 71.1l7.6 25.5l7.6-92.2l7.6 92.2l7.6 0l7.6-73.8l7.6 73.8l7.6 0l7.6 0l7.6 0l7.6 0l7.6-21.6l7.6-5.8l7.6-9.5l7.6 36.9l7.6-34.1l7.6 34.1l7.6-25.8l7.6-3.7l7.6 29.5l7.6-9.1l7.6-9.8l7.6 5.5l7.7 13.4l7.6 0l7.6 0l7.6 0l7.6-16.7l7.6-0.2l6.5 16.9" stroke="#dcdcdc" stroke-width="1.8" fill="none" stroke-linejoin="miter"/>
<path d="M131 1272.8l7.6-131.1l7.6 122.3l7.6-3.1l7.6-8.4l7.6 4.8l7.6-5.2l7.6-3.8l7.7-4.3l7.6-39.2l7.6-13.7l7.6 9l7.6 10.6l7.6-11.6l7.6-29.8l7.6 61.5l7.6-20l7.6-12l7.6-23.8l7.6 23.2l7.6 0.6l7.6-8.6l7.6 38.5l7.6-71.1l7.6 12.2l7.6-11.5l7.6 7.2l7.6 2.2l7.6 38.7l7.6 12.1l7.6-25.6l7.6 18l7.6 2.3l7.6 38.9l7.6-52.3l7.7-7.2l7.6-5.3l7.6 41.9l7.6-13.6l7.6 30.9l7.6-8.6l7.6 34.9l7.6-28.6l7.6-9.5l7.6-18.9l7.6 57l7.6-25l7.6-40.2l7.6 23.1l7.6 42.1l7.6 0l7.6 0l7.6-10.2l7.6 10.2l7.6 0l7.6-4.3l7.6-16.5l7.6 20.8l7.6 0l7.6-13.1l7.6 13.1l7.7-16.8l7.6 16.8l7.6 0l7.6 0l7.6 0l7.6-14.4l6.5 3.5" stroke="#dcdcdc" stroke-width="1.8" fill="none" stroke-linejoin="miter"/>
<path d="M131 1272.8l7.6-95.8l7.6 78.5l7.6-9.5l7.6 5l7.6-10.7l7.6 5.2l7.6-11.5l7.7 20.9l7.6-20.8l7.6 6.4l7.6-29.6l7.6-14.2l7.6 2.4l7.6-3.2l7.6-12.4l7.6-0.9l7.6-12.3l7.6 5.8l7.6 9.4l7.6 2.7l7.6-15.7l7.6 16.3l7.6-21l7.6 7l7.6-25.3l7.6 12.9l7.6 12.3l7.6-20.3l7.6 0.4l7.6 37.8l7.6-43.8l7.6 124l7.6-50.6l7.6 10.3l7.7-43.3l7.6-28l7.6 18.2l7.6 28.4l7.6 65l7.6 0l7.6 0l7.6 0l7.6-77.1l7.6 77.1l7.6-33.4l7.6-34.8l7.6 13.9l7.6 54.3l7.6 0l7.6 0l7.6 0l7.6 0l7.6 0l7.6 0l7.6 0l7.6-34.3l7.6 15.6l7.6 7.5l7.6-0.7l7.6-13.9l7.7 16.3l7.6-12l7.6-5.8l7.6 27.3l7.6 0l7.6 0l6.5 0" stroke="#dcdcdc" stroke-width="1.8" fill="none" stroke-linejoin="miter"/>
<path d="M131 1272.8l7.6-20.7l7.6-4.8l7.6-8.2l7.6 3.3l7.6 0.5l7.6 5l7.6 4.1l7.7-1.8l7.6-3.9l7.6-19.3l7.6-26.6l7.6 9l7.6-10.6l7.6 1.9l7.6 11.5l7.6-26.3l7.6-25.7l7.6 21l7.6 0.2l7.6-18.2l7.6-22.1l7.6 31.2l7.6-7.4l7.6-22.2l7.6 26.7l7.6 18.6l7.6-28.6l7.6 24.8l7.6 1.6l7.6 10.2l7.6-63l7.6 1.1l7.6 7.7l7.6 3.2l7.7 51.1l7.6-23.3l7.6-15.4l7.6 21.3l7.6 24.2l7.6-47.9l7.6 5.1l7.6 22.5l7.6 90.2l7.6 0l7.6-8.8l7.6 8.8l7.6 0l7.6 0l7.6 0l7.6-19.3l7.6 19.3l7.6-46.4l7.6 46.4l7.6 0l7.6 0l7.6 0l7.6 0l7.6-34.9l7.6 34.9l7.6-19.7l7.7 19.7l7.6-19l7.6 19l7.6 0l7.6-24.1l7.6 24.1l6.5-28.1" stroke="#dcdcdc" stroke-width="1.8" fill="none" stroke-linejoin="miter"/>
<path d="M131 1272.8l7.6-91l7.6 79.8l7.6 0.6l7.6 3.8l7.6-6l7.6-9.9l7.6 8.8l7.7 5.7l7.6-17.6l7.6-2.2l7.6-34.2l7.6 23l7.6 8.6l7.6-21.4l7.6-10.4l7.6-2l7.6-29.5l7.6 13l7.6-36.3l7.6 29.2l7.6-7.1l7.6 4.1l7.6-28.6l7.6 40.6l7.6-18.9l7.6-4.7l7.6-4l7.6 22.3l7.6 6.7l7.6 24l7.6 27.8l7.6 25.8l7.6-55.7l7.6 55.7l7.7-40.9l7.6 40.9l7.6 0l7.6-53.6l7.6 12.9l7.6 40.7l7.6-52.6l7.6 13.9l7.6 38.7l7.6 0l7.6 0l7.6-52.9l7.6 52.9l7.6-17.1l7.6 17.1l7.6-37.2l7.6 37.2l7.6 0l7.6-39.5l7.6 10l7.6 21.3l7.6-12.8l7.6 4.1l7.6-10.6l7.6 27.5l7.6-10.1l7.7 10.1l7.6 0l7.6 0l7.6 0l7.6-20.4l7.6 20.4l6.5 0" stroke="#dcdcdc" stroke-width="1.8" fill="none" stroke-linejoin="miter"/>
<path d="M131 1272.8l7.6-60.6l7.6 44.3l7.6 7l7.6 3.2l7.6-6.7l7.6-3.5l7.6-8.3l7.7 17.2l7.6-21.8l7.6-33.1l7.6 18l7.6-25.4l7.6 20.6l7.6-23l7.6 4l7.6-11.7l7.6 20.2l7.6-26.5l7.6-0.8l7.6 9.3l7.6-1.9l7.6-6l7.6 15.2l7.6 12.3l7.6-41.2l7.6 39.7l7.6-10.1l7.6 5.3l7.6 64.3l7.6-69.4l7.6 7.1l7.6-39.1l7.6 22l7.6 54.5l7.7-15.7l7.6-64.9l7.6 101.3l7.6-11.2l7.6 15.4l7.6 0l7.6 0l7.6-54.7l7.6 54.7l7.6-33.1l7.6 33.1l7.6-14.8l7.6-23.8l7.6 38.6l7.6 0l7.6-36.4l7.6 36.4l7.6 0l7.6 0l7.6 0l7.6 0l7.6 0l7.6 0l7.6-0.7l7.6 0.7l7.6-13.9l7.7 13.9l7.6-6.5l7.6-2.3l7.6 8.8l7.6 0l7.6-7.7l6.5 7.7" stroke="#dcdcdc" stroke-width="1.8" fill="none" stroke-linejoin="miter"/>
<path d="M131 1272.8l7.6-18.1l7.6 9.1l7.6-6.4l7.6-1.2l7.6-5.4l7.6-5.9l7.6 2.4l7.7-13.2l7.6-12.1l7.6 9.3l7.6-15.3l7.6-14.3l7.6 9.1l7.6-7.4l7.6-6.1l7.6 23.5l7.6-60.5l7.6 13.9l7.6 8.9l7.6 26.6l7.6-0.4l7.6-34.3l7.6-41.6l7.6 28.5l7.6 25.6l7.6 12.6l7.6-33l7.6 10.8l7.6 46l7.6-38l7.6-41l7.6 66.2l7.6-16.9l7.6 78.6l7.7-117.4l7.6 19.4l7.6 0.5l7.6 5.2l7.6 5.3l7.6-16.8l7.6 65l7.6 38.8l7.6-50.7l7.6-11.5l7.6 62.2l7.6-37.6l7.6 37.6l7.6-39.7l7.6 39.7l7.6 0l7.6 0l7.6 0l7.6 0l7.6 0l7.6 0l7.6 0l7.6-25.3l7.6 25.3l7.6 0l7.6 0l7.7-22.2l7.6 22.2l7.6 0l7.6-18.9l7.6 18.9l7.6 0l6.5-17.1" stroke="#dcdcdc" stroke-width="1.8" fill="none" stroke-linejoin="miter"/>
<path d="M131 1272.8l7.6-96.8l7.6 67.7l7.6 9.1l7.6-4.6l7.6 18.3l7.6-9.3l7.6 1l7.7-28.8l7.6-19.7l7.6 18l7.6 7.9l7.6-31.5l7.6 10.8l7.6 1.2l7.6-9.5l7.6-55.4l7.6 39.7l7.6 4l7.6 4.7l7.6-21.3l7.6 24.9l7.6-13.3l7.6-17.1l7.6-0.7l7.6-14.6l7.6 32l7.6-24.4l7.6-19.3l7.6 22.3l7.6 44.7l7.6 14.5l7.6-8.5l7.6-1.8l7.6-5.7l7.7-4.5l7.6 66l7.6 0l7.6-79.9l7.6 12.4l7.6 14.1l7.6 53.4l7.6-43.3l7.6 18.3l7.6 25l7.6 0l7.6-44.5l7.6 44.5l7.6-11.3l7.6 11.3l7.6 0l7.6-25.2l7.6 25.2l7.6-18.8l7.6-4.6l7.6-12.6l7.6 36l7.6 0l7.6 0l7.6 0l7.6 0l7.7-13.8l7.6 13.8l7.6 0l7.6 0l7.6 0l7.6 0l6.5-18.7" stroke="#dcdcdc" stroke-width="1.8" fill="none" stroke-linejoin="miter"/>
<path d="M131 1272.8l7.6-37.2l7.6 22.7l7.6 2.1l7.6 6.1l7.6 0.1l7.6 1.9l7.6-9.4l7.7 4.9l7.6-7.4l7.6 1.6l7.6-32.2l7.6-1.9l7.6-11l7.6 2.8l7.6-23l7.6 13.4l7.6 35.2l7.6-22.9l7.6-3.3l7.6-17.4l7.6-8.2l7.6-4l7.6 29.1l7.6-68.5l7.6 71.8l7.6-28.3l7.6 6.5l7.6 0.7l7.6 75.8l7.6 0l7.6 0l7.6-2.4l7.6-0.8l7.6 3.2l7.7 0l7.6-27l7.6-5l7.6 32l7.6-35l7.6 35l7.6-1.6l7.6-15.1l7.6-6l7.6 22.7l7.6-43.2l7.6 15.4l7.6 1.8l7.6 26l7.6 0l7.6-8.2l7.6-5.8l7.6 14l7.6-27.8l7.6 27.8l7.6 0l7.6 0l7.6-6.5l7.6 6.5l7.6 0l7.6 0l7.7-0.4l7.6 0.4l7.6 0l7.6 0l7.6 0l7.6-6.2l6.5 3.8" stroke="#dcdcdc" stroke-width="1.8" fill="none" stroke-linejoin="miter"/>
<path d="M131 1272.8l7.6-68.2l7.6 56.5l7.6 11.7l7.6-20.8l7.6 2.2l7.6 1.7l7.6-11.4l7.7 11l7.6 1.6l7.6-13.7l7.6 6.5l7.6-38l7.6 28.8l7.6-34l7.6 4.3l7.6 20l7.6-37.4l7.6-8.2l7.6-0.1l7.6-2.1l7.6 10l7.6 24.1l7.6-22.5l7.6-20.4l7.6 28.3l7.6 4.5l7.6-6l7.6-11.9l7.6 46.8l7.6 13.6l7.6-50.5l7.6 73.6l7.6-35.6l7.6-21.8l7.7 5.4l7.6-2.5l7.6 54.5l7.6 0l7.6-0.1l7.6-29.4l7.6-23.3l7.6 38.6l7.6-74l7.6 47l7.6-3.5l7.6 44.7l7.6-62.3l7.6 62.3l7.6-19.2l7.6 19.2l7.6-18.7l7.6 18.7l7.6-26.6l7.6-3.1l7.6 29.7l7.6-15.3l7.6 15.3l7.6 0l7.6-7.1l7.6-0.7l7.7 7.8l7.6 0l7.6 0l7.6 0l7.6-19.4l7.6 11.5l6.5-6.9" stroke="#dcdcdc" stroke-width="1.8" fill="none" stroke-linejoin="miter"/>
<path d="M131 1272.8l7.6-101.1l7.6 87.5l7.6 11.6l7.6-15l7.6-15.7l7.6 13.5l7.6 0.5l7.7 6.1l7.6-17.6l7.6 14.1l7.6 4.5l7.6-18.2l7.6 22l7.6-15.4l7.6-34.3l7.6-26.8l7.6 19.7l7.6 10.7l7.6 7.7l7.6-20.8l7.6 12.1l7.6-39l7.6-22l7.6 8.7l7.6 35.9l7.6 38.1l7.6-34.2l7.6 1.8l7.6 33.9l7.6-18.3l7.6 14.4l7.6-33.4l7.6 32l7.6 1.6l7.7 35.4l7.6-17.2l7.6-31.1l7.6 48.3l7.6 0l7.6 0l7.6 0l7.6 0l7.6-18l7.6 18l7.6-40.7l7.6 29.1l7.6-16.2l7.6-5.1l7.6 17.2l7.6 15.7l7.6 0l7.6-30.6l7.6 20.7l7.6 9.9l7.6-19l7.6 19l7.6-11.7l7.6-11.1l7.6 11l7.6 11.8l7.7 0l7.6-7.1l7.6 7.1l7.6 0l7.6 0l7.6 0l6.5 0" stroke="#dcdcdc" stroke-width="1.8" fill="none" stroke-linejoin="miter"/>
<path d="M131 1272.8l7.6-101.5l7.6 96.1l7.6-7.7l7.6-0.7l7.6 3.6l7.6 1l7.6-7.9l7.7 10.6l7.6-26.7l7.6-46l7.6 31.5l7.6 18.6l7.6 20.6l7.6-22.6l7.6-37.6l7.6 11l7.6-13.3l7.6 0.4l7.6 2.6l7.6-27.5l7.6 8.4l7.6-12.3l7.6-5.1l7.6 15.8l7.6 7.6l7.6 14.7l7.6-3.2l7.6 11l7.6-61.6l7.6 120.2l7.6-82.9l7.6 3.1l7.6 48.9l7.6 30.9l7.7-58.6l7.6 58.6l7.6 0l7.6 0l7.6 0l7.6-60.2l7.6-15l7.6 75.2l7.6-12.7l7.6-9.4l7.6 22.1l7.6-20.5l7.6 20.5l7.6 0l7.6-51.5l7.6 40l7.6 11.5l7.6-11.7l7.6-16.2l7.6 27.9l7.6 0l7.6-17.7l7.6 6.1l7.6 11.6l7.6 0l7.6-7.3l7.7 7.3l7.6-13.9l7.6-8.3l7.6 22.2l7.6-7.4l7.6-4.7l6.5 12.1" stroke="#dcdcdc" stroke-width="1.8" fill="none" stroke-linejoin="miter"/>
<path d="M131 1272.8l7.6-45.2l7.6 39.3l7.6 5.9l7.6-19.5l7.6 1.8l7.6 2.4l7.6 1.3l7.7-13l7.6 2.8l7.6-17.8l7.6-18.2l7.6 17.8l7.6-31l7.6 16.2l7.6-10.2l7.6 12.2l7.6-24.4l7.6 27.1l7.6 13l7.6-37.5l7.6 7.1l7.6-35.4l7.6 6.1l7.6-4.2l7.6 40.1l7.6-5.9l7.6 0.9l7.6-32.1l7.6 36.7l7.6-47.5l7.6-16.2l7.6 127.4l7.6 0l7.6-9.2l7.7-22.9l7.6 1.3l7.6 30.8l7.6-52.9l7.6 52.9l7.6-34l7.6 34l7.6 0l7.6-33.7l7.6 4.8l7.6-11.1l7.6 27.4l7.6-33l7.6 45.6l7.6-60l7.6 38.9l7.6-9.6l7.6 30.7l7.6 0l7.6-22.9l7.6 18l7.6-16l7.6 20.9l7.6-13.6l7.6 13.6l7.6-11.1l7.7 11.1l7.6-9.6l7.6-5.9l7.6 15.5l7.6 0l7.6 0l6.5-17.9" stroke="#dcdcdc" stroke-width="1.8" fill="none" stroke-linejoin="miter"/>
<path d="M131 1272.8l7.6-11.5l7.6-10.4l7.6 13.7l7.6-10l7.6 3.6l7.6-9.6l7.6 1.4l7.7-21.6l7.6 36.6l7.6-51.2l7.6 10.9l7.6-31l7.6-0.2l7.6-25.4l7.6-9.3l7.6 35.7l7.6 19.7l7.6-23.8l7.6-2.5l7.6-7.2l7.6-23.8l7.6 10.8l7.6 2.9l7.6-16.1l7.6 43l7.6-12.2l7.6-2.3l7.6 9.3l7.6-22l7.6 61.7l7.6 40.8l7.6 0l7.6-30.5l7.6-23l7.7 53.5l7.6 0l7.6-64.1l7.6 22.3l7.6 41.8l7.6 0l7.6-61.8l7.6 61.8l7.6-51.7l7.6-3.5l7.6 55.2l7.6 0l7.6 0l7.6-33.2l7.6 18.7l7.6 14.5l7.6 0l7.6 0l7.6 0l7.6-21l7.6 2.7l7.6 5.8l7.6 12.5l7.6-7.6l7.6-5.4l7.6 2.9l7.7-11.2l7.6 21.3l7.6 0l7.6 0l7.6 0l7.6-16.7l6.5-3.6" stroke="#dcdcdc" stroke-width="1.8" fill="none" stroke-linejoin="miter"/>
<path d="M131 1272.8l7.6-144l7.6 126l7.6-6.3l7.6 0l7.6-9.6l7.6 8.7l7.6 7.7l7.7-10l7.6-18l7.6-16.9l7.6-13l7.6 35.1l7.6 2.3l7.6-63.9l7.6 29.7l7.6-30.8l7.6-21.9l7.6 46.1l7.6-19.6l7.6 1.3l7.6 17.6l7.6-7.6l7.6 1.2l7.6 5.7l7.6-40.3l7.6-12.4l7.6 5.2l7.6 13.4l7.6 13.9l7.6 41.9l7.6 58.5l7.6-136.9l7.6 49.7l7.6-25.3l7.7 7.3l7.6 105.2l7.6 0l7.6 0l7.6-36.5l7.6-36.6l7.6-16.4l7.6 44.7l7.6 44.8l7.6-61.5l7.6 27.1l7.6-22.9l7.6 57.3l7.6-60.2l7.6 13.3l7.6 46.9l7.6 0l7.6 0l7.6-24.4l7.6 24.4l7.6 0l7.6 0l7.6 0l7.6-24.7l7.6 24.7l7.6-11.6l7.7 11.6l7.6-22l7.6 22l7.6-14.7l7.6-7l7.6 21.7l6.5-21.2" stroke="#dcdcdc" stroke-width="1.8" fill="none" stroke-linejoin="miter"/>
<path d="M131 1272.8l7.6-50.5l7.6 39l7.6-5.8l7.6-0.4l7.6 2.8l7.6 7.9l7.6-13.6l7.7 9.2l7.6-14.6l7.6-5.9l7.6-14l7.6 9l7.6-27.9l7.6 3.3l7.6-2.3l7.6-8.5l7.6 11.7l7.6 2.5l7.6-28.3l7.6 4.9l7.6-32l7.6 35.9l7.6 0.9l7.6 28.5l7.6-16.8l7.6 4.6l7.6-36.1l7.6 24l7.6 9.7l7.6 62.8l7.6-125.5l7.6 85.4l7.6 40.1l7.6 0l7.7 0l7.6-47.7l7.6-3.3l7.6 25.8l7.6 25.2l7.6 0l7.6 0l7.6-22.7l7.6-65.7l7.6 28.8l7.6 31.7l7.6 27.9l7.6 0l7.6-0.7l7.6-34.9l7.6 24l7.6-20.5l7.6 32.1l7.6-26.9l7.6-4.3l7.6 31.2l7.6 0l7.6-9.5l7.6 9.5l7.6 0l7.6 0l7.7-18.8l7.6 5.1l7.6 13.7l7.6-15.4l7.6 15.4l7.6-10.9l6.5 10.9" stroke="#dcdcdc" stroke-width="1.8" fill="none" stroke-linejoin="miter"/>
<path d="M131 1272.8l7.6-51.1l7.6 47.2l7.6 2.7l7.6-8.6l7.6-2.5l7.6-8.8l7.6 9.2l7.7-18.4l7.6-22.6l7.6 29.5l7.6-46.8l7.6-13.6l7.6 24.8l7.6-13.2l7.6-3.8l7.6 15.5l7.6-42.9l7.6 18.8l7.6-20.3l7.6-3.6l7.6 24.8l7.6-10l7.6-15.4l7.6 22.7l7.6 8.7l7.6-3.1l7.6-23.1l7.6 3.8l7.6 35.5l7.6 64.6l7.6 0l7.6-51.5l7.6 30.2l7.6-3.4l7.7-68.1l7.6 30.1l7.6 9.2l7.6 9.1l7.6 16.3l7.6 28.1l7.6 0l7.6 0l7.6-61.6l7.6-5.4l7.6 27.7l7.6 39.3l7.6-36.7l7.6 8.4l7.6 28.3l7.6-16.4l7.6 16.4l7.6 0l7.6 0l7.6-18.9l7.6 18.8l7.6-16.7l7.6 16.8l7.6 0l7.6-5.9l7.6-0.3l7.7 6.2l7.6-13.5l7.6 13.5l7.6 0l7.6 0l7.6-12.2l6.5 12.2" stroke="#dcdcdc" stroke-width="1.8" fill="none" stroke-linejoin="miter"/>
<path d="M131 1272.8l7.6-71.9l7.6 61.5l7.6 1.4l7.6-3.8l7.6-13l7.6 0.2l7.6-4.1l7.7 7l7.6-26.4l7.6-7.7l7.6-3.1l7.6 16l7.6-47.8l7.6-4.2l7.6-3.5l7.6 44.8l7.6-41.6l7.6-14.9l7.6 44.8l7.6-18.8l7.6-11l7.6 16.9l7.6 16.6l7.6-32.3l7.6 4.9l7.6 2.4l7.6-9.4l7.6-18.1l7.6 29.1l7.6 86l7.6 0l7.6-27.3l7.6 27.3l7.6-70.9l7.7 70.9l7.6-76.8l7.6 29.1l7.6-18.1l7.6 65.8l7.6 0l7.6 0l7.6-81.3l7.6 81.3l7.6-6.8l7.6 6.8l7.6-27.6l7.6 27.6l7.6-39.9l7.6 39.9l7.6-10.4l7.6-22.5l7.6 27l7.6 5.9l7.6 0l7.6-11.9l7.6-18.8l7.6 7.1l7.6 23.6l7.6 0l7.6-7.6l7.7 7.6l7.6 0l7.6 0l7.6 0l7.6-17.8l7.6 2.6l6.5 6.2" stroke="#dcdcdc" stroke-width="1.8" fill="none" stroke-linejoin="miter"/>
<path d="M131 1272.8l7.6-44.2l7.6 28.5l7.6-9.7l7.6 11.1l7.6 14.3l7.6-3.9l7.6-14.9l7.7-12.1l7.6 7.2l7.6-31.9l7.6 0.4l7.6 15.6l7.6-23.6l7.6-26.3l7.6 9.2l7.6 5.2l7.6-18.8l7.6 10.7l7.6 10.7l7.6 36.8l7.6-50.6l7.6 0.9l7.6 3.8l7.6-17.6l7.6-0.4l7.6 19.2l7.6 22.9l7.6-8l7.6-6.1l7.6-31.2l7.6 71.9l7.6-19.8l7.6 50.1l7.6 0.6l7.7-45.1l7.6-26.1l7.6 46.6l7.6 24.6l7.6 0l7.6-60.4l7.6 44.4l7.6 16l7.6 0l7.6-21.6l7.6 21.6l7.6-7.1l7.6-27.9l7.6 35l7.6 0l7.6 0l7.6 0l7.6-28.3l7.6 4.6l7.6 3.1l7.6 20.6l7.6-11.8l7.6 11.8l7.6 0l7.6 0l7.6-7.6l7.7-3.6l7.6-1.2l7.6 6.8l7.6 5.6l7.6-15l7.6 15l6.5 0" stroke="#dcdcdc" stroke-width="1.8" fill="none" stroke-linejoin="miter"/>
<path d="M131 1272.8l7.6-67l7.6 67l7.6-5.1l7.6-11.6l7.6 4.9l7.6 11.8l7.6-8.1l7.7 7.9l7.6-4.9l7.6-15.6l7.6-16.2l7.6 13.2l7.6-13l7.6-9.9l7.6 0l7.6-29.3l7.6 3.7l7.6 1.1l7.6 18l7.6 15.6l7.6-11.1l7.6-7.8l7.6-25.5l7.6 11.4l7.6 19.9l7.6-17.3l7.6 43.5l7.6-33.5l7.6 10.4l7.6 27.8l7.6 5l7.6 3.9l7.6 10.8l7.6 0l7.7 0l7.6 0l7.6 0l7.6 0l7.6-19.8l7.6 2.7l7.6 17.1l7.6 0l7.6 0l7.6 0l7.6 0l7.6 0l7.6-4.1l7.6-41.4l7.6 45.5l7.6-36.6l7.6 36.6l7.6-10.7l7.6-13.3l7.6 24l7.6-8.8l7.6 8.8l7.6 0l7.6 0l7.6-0.6l7.6 0.6l7.7-6.4l7.6 6.4l7.6-5.9l7.6 5.9l7.6 0l7.6-3.3l6.5-3.4" stroke="#dcdcdc" stroke-width="1.8" fill="none" stroke-linejoin="miter"/>
<path d="M131 1272.8l7.6-11.8l7.6-4.2l7.6-9.1l7.6-0.2l7.6 9.6l7.6-2.8l7.6-2.7l7.7 4l7.6-23.8l7.6-25.5l7.6-1.1l7.6-14.9l7.6-10.2l7.6 11.5l7.6 5.6l7.6-33.5l7.6 16.6l7.6-0.4l7.6 11.8l7.6-14.6l7.6 14.9l7.6-4.6l7.6 19.8l7.6-56.1l7.6 6.7l7.6-16.3l7.6 14.1l7.6 3.9l7.6 25.4l7.6 87.9l7.6 0l7.6-75.1l7.6-2.4l7.6 77.5l7.7 0l7.6 0l7.6-89.6l7.6-33l7.6 28.4l7.6 94.2l7.6 0l7.6 0l7.6-92.1l7.6 35.9l7.6 56.2l7.6-57.5l7.6 57.5l7.6-31.8l7.6 31.8l7.6-42.3l7.6 42.3l7.6 0l7.6 0l7.6 0l7.6-29.2l7.6 10.7l7.6-16.6l7.6 35.1l7.6-19.7l7.6 19.7l7.7 0l7.6-14.7l7.6 14.7l7.6-9.3l7.6 9.3l7.6-9.6l6.5 9.6" stroke="#dcdcdc" stroke-width="1.8" fill="none" stroke-linejoin="miter"/>
<path d="M131 1272.8l7.6-132.1l7.6 118.2l7.6 9.9l7.6 1.1l7.6-7.8l7.6-3.2l7.6 13.9l7.7-31.4l7.6-8.4l7.6 3.3l7.6-1.4l7.6 6l7.6-22.9l7.6-5.1l7.6-7.2l7.6 29.4l7.6-5.9l7.6-62.8l7.6 37.7l7.6-5.3l7.6-33.4l7.6-9l7.6 23l7.6 23.7l7.6-9.1l7.6 13l7.6 11.7l7.6-52.3l7.6 54.9l7.6 21.2l7.6-70.4l7.6 47.3l7.6-11.6l7.6 65l7.7 0l7.6-56.1l7.6 20.3l7.6 2.1l7.6-18.9l7.6 52.6l7.6-24.1l7.6 24.1l7.6 0l7.6 0l7.6-22.1l7.6 22.1l7.6 0l7.6 0l7.6 0l7.6 0l7.6-3.2l7.6 3.2l7.6 0l7.6-14.2l7.6 2.2l7.6 12l7.6 0l7.6 0l7.6-4.2l7.6 4.2l7.7 0l7.6-8.6l7.6-4.6l7.6 13.2l7.6-5.2l7.6 5.2l6.5 0" stroke="#dcdcdc" stroke-width="1.8" fill="none" stroke-linejoin="miter"/>
<path d="M131 1272.8l7.6-11.9l7.6 3.9l7.6-12.4l7.6 3.3l7.6-7.2l7.6-3.7l7.6 16.9l7.7-17.6l7.6 3.4l7.6-19.9l7.6-12.5l7.6-10.9l7.6 6.8l7.6-24.5l7.6-28.9l7.6 18.7l7.6-9.4l7.6 19.7l7.6-2.1l7.6-19.8l7.6 37.1l7.6-36.2l7.6 15.4l7.6-32.3l7.6 48.4l7.6 19.3l7.6-19l7.6 14.8l7.6-39.3l7.6 28.2l7.6 45.6l7.6-22l7.6-6.2l7.6-43.9l7.7 45.4l7.6 52.8l7.6 0l7.6-67.4l7.6 12.3l7.6 55.1l7.6-54.1l7.6 25.2l7.6 6l7.6 22.9l7.6 0l7.6 0l7.6-44.1l7.6-14.2l7.6 58.3l7.6 0l7.6-31.8l7.6 31.8l7.6-23.7l7.6 2.8l7.6 20.9l7.6 0l7.6 0l7.6 0l7.6-18.9l7.6 18.9l7.7-21.8l7.6-3.7l7.6 25.5l7.6-15l7.6 4.8l7.6 10.2l6.5 0" stroke="#dcdcdc" stroke-width="1.8" fill="none" stroke-linejoin="miter"/>
<path d="M131 1272.8l7.6-44.2l7.6 27.7l7.6-0.6l7.6 3.7l7.6 0.2l7.6 1.6l7.6-15l7.7 5l7.6 21.6l7.6-11.3l7.6-19.2l7.6-28.5l7.6 0.6l7.6 24.7l7.6-47.8l7.6 19.7l7.6 16l7.6-49.3l7.6 44.8l7.6-29.5l7.6-4l7.6 4.3l7.6 8.1l7.6-1.3l7.6 49.5l7.6-14.9l7.6-27.7l7.6 0.8l7.6 20.2l7.6 44.8l7.6-42.8l7.6 3.2l7.6 39.6l7.6-53.6l7.7 33.2l7.6-24.2l7.6 4.1l7.6 21.5l7.6-20.5l7.6 39.5l7.6 0l7.6 0l7.6 0l7.6-7.8l7.6 7.8l7.6 0l7.6 0l7.6-9l7.6 9l7.6-19.8l7.6-8.9l7.6 28.7l7.6-18.1l7.6 18.1l7.6-4.6l7.6-7.5l7.6 8.2l7.6 3.9l7.6-12l7.6-3.8l7.7 15.8l7.6-19.5l7.6 19.5l7.6 0l7.6-6.3l7.6 6.3l6.5 0" stroke="#dcdcdc" stroke-width="1.8" fill="none" stroke-linejoin="miter"/>
<path d="M131 1272.8l7.6-100.5l7.6 87.1l7.6-11.5l7.6 17.5l7.6-7.7l7.6 1.2l7.6-11.3l7.7 11.6l7.6-0.9l7.6-21.6l7.6-15.1l7.6 7.6l7.6 14.5l7.6-24l7.6 3.5l7.6 15.1l7.6-9.5l7.6-55.5l7.6 44.6l7.6-26.5l7.6-34.9l7.6 25.9l7.6 27.9l7.6-31.8l7.6 27l7.6-0.7l7.6 21.9l7.6-35.8l7.6-50l7.6 43.5l7.6 36.3l7.6-32.7l7.6 9.1l7.6 26.2l7.7 27.7l7.6 21.8l7.6 0l7.6-57.2l7.6 29.5l7.6 6.4l7.6 3.2l7.6-27.1l7.6 45.2l7.6-42.9l7.6 42.9l7.6-19.4l7.6 19.4l7.6 0l7.6-35.1l7.6 3.6l7.6 31.5l7.6-27l7.6 27l7.6-24.8l7.6-1.7l7.6 5.3l7.6 8.3l7.6-6.4l7.6 4l7.6 15.3l7.7 0l7.6-9.3l7.6-5.3l7.6 2.4l7.6-5.9l7.6 1.7l6.5 16.4" stroke="#dcdcdc" stroke-width="1.8" fill="none" stroke-linejoin="miter"/>
<path d="M131 1272.8l7.6-68.4l7.6 41l7.6 2.8l7.6 1.5l7.6-1.1l7.6 3.8l7.6-10.5l7.7-7.3l7.6-2.2l7.6-42.3l7.6-6.8l7.6-2.9l7.6 5.5l7.6-3.2l7.6-7.5l7.6-20.1l7.6 26l7.6-22.8l7.6-15.9l7.6-2.1l7.6 12.6l7.6-14.8l7.6-4.3l7.6 16.1l7.6-14.8l7.6 33.1l7.6-6.8l7.6-10.5l7.6-17.4l7.6 49.8l7.6 89.5l7.6-133.7l7.6 69l7.6-48.6l7.7-3l7.6 116.3l7.6-129.6l7.6 129.6l7.6 0l7.6-109.5l7.6 109.5l7.6 0l7.6 0l7.6 0l7.6-59.1l7.6 59.1l7.6 0l7.6-64.6l7.6 64.6l7.6 0l7.6 0l7.6 0l7.6-32.5l7.6 3.8l7.6-9.1l7.6 17.6l7.6 20.2l7.6 0l7.6-23.6l7.6-5.4l7.7 29l7.6-27.2l7.6 27.2l7.6-21.1l7.6-7.3l7.6 0.1l6.5 28.3" stroke="#dcdcdc" stroke-width="1.8" fill="none" stroke-linejoin="miter"/>
<path d="M131 1272.8l7.6-5.3l7.6-6.8l7.6 1.3l7.6 1.4l7.6-0.2l7.6-8.2l7.6-3.7l7.7 8.6l7.6-14.7l7.6-9.5l7.6-34.4l7.6 25.4l7.6 4.5l7.6-22.7l7.6-6.3l7.6-13.1l7.6 14.5l7.6-9.2l7.6 32.3l7.6-67.4l7.6 16.2l7.6-7.1l7.6 19.8l7.6 4.9l7.6 1l7.6 26.1l7.6-33.3l7.6 10.6l7.6-7l7.6 11.5l7.6 14.7l7.6 17.8l7.6 38.3l7.6-50.9l7.7 50.9l7.6-77.3l7.6 77.3l7.6-57.3l7.6-31l7.6 88.3l7.6-46.9l7.6 30.6l7.6-9.9l7.6-19.2l7.6-13l7.6 58.4l7.6-47.8l7.6 47.8l7.6 0l7.6-13.9l7.6-6.1l7.6 20l7.6-32l7.6 32l7.6-10.8l7.6-9.7l7.6 8.3l7.6-1l7.6-4.2l7.6 6.4l7.7 11l7.6 0l7.6 0l7.6-17.5l7.6 17.5l7.6-3l6.5 3" stroke="#dcdcdc" stroke-width="1.8" fill="none" stroke-linejoin="miter"/>
<path d="M131 1272.8l7.6-102.5l7.6 86.5l7.6 1.7l7.6 2.3l7.6-5.2l7.6 13.4l7.6-12.6l7.7 2.6l7.6-7.5l7.6-51.7l7.6 34.4l7.6-3.3l7.6-8.9l7.6-2.2l7.6-22.2l7.6 12.7l7.6 10.7l7.6-16.8l7.6-22.5l7.6 22.7l7.6 7.3l7.6-24.9l7.6 9.5l7.6-62.6l7.6 49l7.6-7.4l7.6 10.3l7.6 32.1l7.6-18.3l7.6-44.4l7.6 67l7.6 50.8l7.6-12.3l7.6-29.1l7.7 41.4l7.6-53.5l7.6 34.8l7.6-28.8l7.6 10.5l7.6 37l7.6-12.4l7.6-42.8l7.6 55.2l7.6-59.8l7.6 21.7l7.6 38.1l7.6 0l7.6 0l7.6 0l7.6 0l7.6 0l7.6-17.8l7.6 17.8l7.6 0l7.6-7.1l7.6 7.1l7.6-18.5l7.6 18.5l7.6-18.9l7.6 4l7.7 4.1l7.6-4.8l7.6 7.4l7.6 8.2l7.6 0l7.6-8.1l6.5 1.2" stroke="#dcdcdc" stroke-width="1.8" fill="none" stroke-linejoin="miter"/>
<path d="M131 1272.8l7.6-140.3l7.6 126.8l7.6-8.9l7.6 2l7.6-4.6l7.6 0.8l7.6 4.9l7.7-0.2l7.6-5.1l7.6-10.7l7.6 1l7.6-16.4l7.6-10.3l7.6 3.8l7.6 29.7l7.6-15.3l7.6-25.2l7.6-9.9l7.6 30.2l7.6-41.7l7.6 33.1l7.6-7l7.6-11.1l7.6-11.8l7.6 26.7l7.6-12.8l7.6-8.5l7.6 23.4l7.6 32.1l7.6-40.2l7.6 0.1l7.6-41.1l7.6 28.8l7.6 0.2l7.7 67.1l7.6 10.4l7.6-27.4l7.6-13.1l7.6 40.5l7.6 0l7.6-64.1l7.6 18.4l7.6 22.2l7.6 23.5l7.6 0l7.6-32.7l7.6 32.7l7.6 0l7.6 0l7.6-27.6l7.6 27.6l7.6 0l7.6-19.5l7.6 19.5l7.6 0l7.6-15.7l7.6 6.3l7.6 9.4l7.6-16l7.6 16l7.7 0l7.6-4.2l7.6 4.2l7.6 0l7.6 0l7.6 0l6.5-10.2" stroke="#dcdcdc" stroke-width="1.8" fill="none" stroke-linejoin="miter"/>
<path d="M131 1272.8l7.6-43.3l7.6 36l7.6-11.5l7.6 0.9l7.6 1.5l7.6-6.1l7.6-8.3l7.7-6.4l7.6-35.3l7.6 10.6l7.6 5.7l7.6-15.1l7.6 11.6l7.6-24.6l7.6-17.1l7.6 48.6l7.6-60.3l7.6-16l7.6 12.5l7.6 42.4l7.6-49.9l7.6 26.6l7.6-15.8l7.6 18.6l7.6 20.2l7.6 3.4l7.6-23.4l7.6-5.4l7.6 2.9l7.6-1.9l7.6-30.4l7.6 129.3l7.6-63.7l7.6 63.7l7.7-93l7.6 34.5l7.6 17.8l7.6-59.7l7.6 25.1l7.6 75.3l7.6-84.9l7.6 84.9l7.6 0l7.6-18.2l7.6-23l7.6 41.2l7.6 0l7.6-54.8l7.6 54.8l7.6-34.1l7.6 34.1l7.6-20.9l7.6 6.2l7.6 14.7l7.6-14.1l7.6-8.1l7.6 22.2l7.6 0l7.6 0l7.6 0l7.7-4.5l7.6 4.5l7.6-16.5l7.6 16.5l7.6-14.7l7.6-2.8l6.5 17.5" stroke="#dcdcdc" stroke-width="1.8" fill="none" stroke-linejoin="miter"/>
<path d="M131 1272.8l7.6-145.3l7.6 127.3l7.6-2.1l7.6 8.5l7.6 2.4l7.6-15.1l7.6-1.3l7.7 0.8l7.6-20.7l7.6 10.4l7.6-6.3l7.6-4.3l7.6-9.1l7.6-5.7l7.6-0.5l7.6-29.4l7.6-24.4l7.6 34.3l7.6-8.5l7.6 12.4l7.6-2.5l7.6-17.3l7.6-12.9l7.6 28.8l7.6-32.6l7.6-6.1l7.6 38.4l7.6-24.3l7.6 3.8l7.6 25.2l7.6 22.4l7.6-66.3l7.6 120l7.6-108.6l7.7 19.1l7.6 17.6l7.6 54.5l7.6 17.4l7.6 0l7.6 0l7.6-38.2l7.6-6.6l7.6-38.7l7.6 13.7l7.6 29.9l7.6 20.4l7.6-26.2l7.6 12.1l7.6 33.6l7.6 0l7.6 0l7.6-13.9l7.6-4.2l7.6-5.1l7.6-4.3l7.6-1.6l7.6 29.1l7.6 0l7.6 0l7.6-8.7l7.7 8.7l7.6 0l7.6 0l7.6 0l7.6 0l7.6-8.4l6.5-9.1" stroke="#dcdcdc" stroke-width="1.8" fill="none" stroke-linejoin="miter"/>
<path d="M131 1272.8l7.6-93.1l7.6 61.5l7.6-2.5l7.6 13.2l7.6-2.8l7.6 11l7.6-9.7l7.7 0.4l7.6-35.3l7.6 1.9l7.6-6.4l7.6-6.9l7.6 9.1l7.6 2.4l7.6-6.9l7.6-17.9l7.6-22.5l7.6 33.9l7.6 18.9l7.6-57.2l7.6-12l7.6 53.2l7.6-40.8l7.6 11.4l7.6 29l7.6-45.8l7.6 10.2l7.6 12.3l7.6-7.4l7.6 55.9l7.6 22.7l7.6-42.4l7.6 17.4l7.6-37.3l7.7 9.9l7.6-25.9l7.6 98.5l7.6-81.8l7.6 81.8l7.6-96l7.6 39l7.6 57l7.6-81.5l7.6 17.8l7.6 63.7l7.6 0l7.6 0l7.6 0l7.6-33.7l7.6-7.5l7.6 41.2l7.6 0l7.6-34.3l7.6 34.3l7.6 0l7.6-25.5l7.6 9.7l7.6-14.8l7.6-0.3l7.6 30.9l7.7 0l7.6-11.1l7.6 11.1l7.6 0l7.6 0l7.6 0l6.5-13.5" stroke="#dcdcdc" stroke-width="1.8" fill="none" stroke-linejoin="miter"/>
<path d="M131 1272.8l7.6-79.3l7.6 63l7.6 11.1l7.6 3l7.6-9.6l7.6-1.4l7.6 2l7.7 3.5l7.6-12.5l7.6-10.7l7.6 6.7l7.6-5.9l7.6-1.9l7.6-32.1l7.6-7l7.6 16.3l7.6-23.2l7.6 17.7l7.6 9.2l7.6-13.4l7.6 21.8l7.6-4.7l7.6-49.1l7.6 21.2l7.6-11.5l7.6 12.7l7.6-25.1l7.6 13.9l7.6-1l7.6 63.2l7.6-14.5l7.6 8.8l7.6-14.8l7.6 17.7l7.7-44.9l7.6 1.4l7.6 69.4l7.6 0l7.6 0l7.6-32.8l7.6 32.8l7.6 0l7.6-74.2l7.6 74.2l7.6-30.4l7.6 23.4l7.6-14.5l7.6-7.3l7.6 4.8l7.6 24l7.6 0l7.6 0l7.6-45l7.6 45l7.6-21l7.6 6.5l7.6 14.5l7.6 0l7.6-7.9l7.6 7.9l7.7 0l7.6-10.1l7.6 10.1l7.6 0l7.6-14.8l7.6 14.8l6.5-4.6" stroke="#dcdcdc" stroke-width="1.8" fill="none" stroke-linejoin="miter"/>
<path d="M131 1272.8l7.6-107l7.6 90.4l7.6 1.5l7.6-4.2l7.6 10.2l7.6-16.3l7.6 14.7l7.7-9.1l7.6 11.4l7.6-16.5l7.6 2.3l7.6-47.6l7.6 12.4l7.6 9l7.6-22.7l7.6-7.5l7.6-9.7l7.6 19.1l7.6 0.3l7.6-33.1l7.6 12.5l7.6-11.5l7.6 23l7.6-13.2l7.6 17l7.6-2.8l7.6 8l7.6 3.3l7.6 35.4l7.6-35.4l7.6-20.5l7.6 60.6l7.6-41.5l7.6-22.7l7.7 90.2l7.6-57.7l7.6-17.4l7.6 23.5l7.6 8.4l7.6 21l7.6 13.5l7.6 8.7l7.6-65.9l7.6 25.5l7.6-5l7.6 45.4l7.6 0l7.6 0l7.6-6.3l7.6 6.3l7.6-24.9l7.6 24.9l7.6 0l7.6 0l7.6 0l7.6-3.5l7.6 3.5l7.6-23.9l7.6 23.9l7.6 0l7.7-25.4l7.6 25.4l7.6 0l7.6 0l7.6 0l7.6-9l6.5-7.1" stroke="#dcdcdc" stroke-width="1.8" fill="none" stroke-linejoin="miter"/>
<path d="M131 1272.8l7.6-109.1l7.6 96.3l7.6-2.4l7.6-4.7l7.6 1.1l7.6-10.2l7.6 12.9l7.7 2l7.6-3.4l7.6-19.4l7.6-17.4l7.6-3.3l7.6-0.8l7.6-6.4l7.6-1.4l7.6-14.2l7.6-12.4l7.6 14.5l7.6 29.7l7.6-34.8l7.6 1.7l7.6-4.5l7.6-20.2l7.6 2.2l7.6-15.6l7.6 34.8l7.6-1.3l7.6-5.6l7.6 48.5l7.6-20.7l7.6 64.1l7.6-78.2l7.6 78.2l7.6 0l7.7-117.2l7.6 117.2l7.6-138.6l7.6 138.6l7.6-89.7l7.6-7l7.6 96.7l7.6 0l7.6 0l7.6 0l7.6-40.4l7.6 10.9l7.6-45.2l7.6 74.7l7.6-20l7.6 20l7.6-33.5l7.6 33.5l7.6-16l7.6 16l7.6-25.9l7.6 25.9l7.6 0l7.6-8.9l7.6 8.9l7.6-15.6l7.7 15.6l7.6-22.3l7.6 22.3l7.6-18.3l7.6 18.3l7.6 0l6.5-15.5" stroke="#dcdcdc" stroke-width="1.8" fill="none" stroke-linejoin="miter"/>
<path d="M131 1272.8l7.6-9.9l7.6-4.7l7.6 14.6l7.6-4.2l7.6-13.1l7.6 9l7.6-12.9l7.7 3.6l7.6 3.4l7.6-18.8l7.6 13.7l7.6-14.7l7.6 10.5l7.6-36.2l7.6 3.5l7.6 4.2l7.6-6.4l7.6-4.8l7.6-3.9l7.6 9.1l7.6 6.8l7.6-28.8l7.6 28.7l7.6-28l7.6 28.1l7.6 3.6l7.6-14.9l7.6-1.9l7.6 21.2l7.6 0.9l7.6 21.7l7.6 20.6l7.6 0l7.6 0l7.7-4.9l7.6-90.2l7.6 58.5l7.6 23l7.6-49.1l7.6 62.7l7.6-11.6l7.6 11.6l7.6 0l7.6 0l7.6 0l7.6-49.9l7.6 19.7l7.6 15.3l7.6 10l7.6-2.3l7.6 7.2l7.6 0l7.6 0l7.6-14.3l7.6 14.3l7.6-16.3l7.6 16.3l7.6-2.6l7.6 2.6l7.6 0l7.7 0l7.6 0l7.6 0l7.6-9.4l7.6 9.4l7.6 0l6.5 0" stroke="#dcdcdc" stroke-width="1.8" fill="none" stroke-linejoin="miter"/>
<path d="M131 1272.8l7.6-27.6l7.6 22.6l7.6-9.8l7.6 5.1l7.6-4.9l7.6 0.9l7.6 3.9l7.7-2.3l7.6-9.1l7.6-27.8l7.6 9.9l7.6 4.8l7.6-5.3l7.6-37l7.6-3.8l7.6 3.5l7.6 15.5l7.6 0.5l7.6-56.2l7.6 12.9l7.6 26.3l7.6-1.6l7.6 7.5l7.6-15.3l7.6 19.1l7.6-15.4l7.6-4.9l7.6-13.6l7.6 36.8l7.6 38.9l7.6-71.9l7.6 72l7.6 26.3l7.6 0l7.7-51.1l7.6 7l7.6 44.1l7.6-80l7.6 32.1l7.6 47.9l7.6-33.9l7.6 33.9l7.6 0l7.6-43.9l7.6 11.5l7.6 32.4l7.6-9.3l7.6 9.3l7.6 0l7.6 0l7.6-28.4l7.6 28.4l7.6 0l7.6-24.3l7.6 24.3l7.6 0l7.6-7.5l7.6 3.7l7.6 3.8l7.6-1.3l7.7-13.3l7.6 14.6l7.6-11.3l7.6 11.3l7.6-14.2l7.6 4.7l6.5 9.5" stroke="#dcdcdc" stroke-width="1.8" fill="none" stroke-linejoin="miter"/>
<path d="M131 1272.8l7.6-675.8l7.6 604.2l7.6-24.7l7.6-9l7.6-21.1l7.6-34.4l7.6-43.5l7.7 3.1l7.6-38.8l7.6-5.3l7.6-9.4l7.6 98.6l7.6 51.9l7.6 38.1l7.6 12.8l7.6 39.6l7.6 13.7l7.6 0l7.6 0l7.6-23.5l7.6 23.5l7.6 0l7.6 0l7.6 0l7.6 0l7.6 0l7.6 0l7.6 0l7.6 0l7.6 0l7.6 0l7.6 0l7.6 0l7.6 0l7.7 0l7.6 0l7.6 0l7.6 0l7.6 0l7.6 0l7.6 0l7.6 0l7.6 0l7.6 0l7.6 0l7.6 0l7.6 0l7.6 0l7.6 0l7.6 0l7.6 0l7.6 0l7.6 0l7.6 0l7.6 0l7.6 0l7.6 0l7.6 0l7.6 0l7.6 0l7.7 0l7.6 0l7.6 0l7.6 0l7.6 0l7.6 0l6.5 0" stroke="#ffbfbf" stroke-width="1.8" fill="none" stroke-linejoin="miter"/>
<path d="M131 1272.8l7.6-897.8l7.6 837.6l7.6 5.2l7.6-61.8l7.6-7.2l7.6-34.1l7.6-98.1l7.7-24.1l7.6 47.9l7.6 26.7l7.6 21l7.6 184.7l7.6-17.4l7.6 17.4l7.6 0l7.6 0l7.6 0l7.6-14.1l7.6 14.1l7.6 0l7.6 0l7.6 0l7.6 0l7.6 0l7.6 0l7.6 0l7.6 0l7.6 0l7.6 0l7.6 0l7.6 0l7.6-12.8l7.6 12.8l7.6 0l7.7 0l7.6 0l7.6 0l7.6 0l7.6 0l7.6 0l7.6 0l7.6 0l7.6 0l7.6 0l7.6 0l7.6 0l7.6 0l7.6 0l7.6 0l7.6 0l7.6 0l7.6 0l7.6 0l7.6 0l7.6 0l7.6 0l7.6 0l7.6 0l7.6 0l7.6 0l7.7 0l7.6 0l7.6 0l7.6 0l7.6 0l7.6 0l6.5 0" stroke="#ffbfbf" stroke-width="1.8" fill="none" stroke-linejoin="miter"/>
<path d="M131 1272.8l7.6-896.7l7.6 860l7.6-20l7.6-3.1l7.6-41.8l7.6-76.6l7.6 33.9l7.7-89.2l7.6-34.5l7.6 116.1l7.6-66.1l7.6 37.7l7.6 144l7.6 19.3l7.6-63.5l7.6 62.2l7.6-7.5l7.6 9.9l7.6 15.9l7.6 0l7.6 0l7.6 0l7.6 0l7.6 0l7.6 0l7.6 0l7.6 0l7.6 0l7.6-22.2l7.6 22.2l7.6 0l7.6-17.7l7.6 1.4l7.6 16.3l7.7 0l7.6 0l7.6 0l7.6 0l7.6 0l7.6 0l7.6 0l7.6 0l7.6 0l7.6 0l7.6 0l7.6 0l7.6 0l7.6 0l7.6 0l7.6 0l7.6 0l7.6 0l7.6 0l7.6 0l7.6 0l7.6 0l7.6 0l7.6 0l7.6 0l7.6 0l7.7 0l7.6 0l7.6 0l7.6 0l7.6 0l7.6 0l6.5 0" stroke="#ffbfbf" stroke-width="1.8" fill="none" stroke-linejoin="miter"/>
<path d="M131 1272.8l7.6-706.1l7.6 671.6l7.6 3.2l7.6-22.3l7.6-3l7.6-2.9l7.6-12.2l7.7 2.1l7.6-28.5l7.6 15.1l7.6 2.3l7.6 8.5l7.6 51.3l7.6-25.9l7.6 27.3l7.6-0.1l7.6 19.6l7.6 0l7.6 0l7.6 0l7.6 0l7.6 0l7.6 0l7.6 0l7.6 0l7.6 0l7.6 0l7.6 0l7.6 0l7.6 0l7.6 0l7.6 0l7.6 0l7.6 0l7.7 0l7.6 0l7.6 0l7.6 0l7.6 0l7.6 0l7.6 0l7.6 0l7.6 0l7.6 0l7.6 0l7.6 0l7.6 0l7.6 0l7.6 0l7.6 0l7.6 0l7.6 0l7.6 0l7.6 0l7.6 0l7.6 0l7.6 0l7.6 0l7.6 0l7.6 0l7.7 0l7.6 0l7.6 0l7.6 0l7.6 0l7.6 0l6.5 0" stroke="#ffbfbf" stroke-width="1.8" fill="none" stroke-linejoin="miter"/>
<path d="M131 1272.8l7.6-728.2l7.6 691.1l7.6-22.4l7.6-2l7.6-38.6l7.6 12.4l7.6-91.8l7.7-35.5l7.6-0.2l7.6 5.5l7.6 18.6l7.6 82.5l7.6 40l7.6 24.4l7.6 19.3l7.6 7.7l7.6 16.1l7.6-3.1l7.6 4.2l7.6 0l7.6 0l7.6 0l7.6 0l7.6 0l7.6 0l7.6 0l7.6 0l7.6 0l7.6 0l7.6 0l7.6 0l7.6 0l7.6 0l7.6 0l7.7 0l7.6 0l7.6 0l7.6 0l7.6 0l7.6 0l7.6 0l7.6 0l7.6 0l7.6 0l7.6 0l7.6 0l7.6 0l7.6 0l7.6 0l7.6 0l7.6 0l7.6 0l7.6 0l7.6 0l7.6 0l7.6 0l7.6 0l7.6 0l7.6 0l7.6 0l7.7 0l7.6 0l7.6 0l7.6 0l7.6 0l7.6 0l6.5 0" stroke="#ffbfbf" stroke-width="1.8" fill="none" stroke-linejoin="miter"/>
<path d="M131 1272.8l7.6-703.7l7.6 661.1l7.6 13.7l7.6-10.4l7.6-0.2l7.6-5.9l7.6-15.2l7.7-18.7l7.6-73.1l7.6-11l7.6-118l7.6 116.4l7.6-3.6l7.6 92.2l7.6 76.4l7.6 0l7.6 0l7.6 0l7.6-9l7.6 9l7.6 0l7.6 0l7.6 0l7.6 0l7.6 0l7.6 0l7.6 0l7.6 0l7.6 0l7.6 0l7.6 0l7.6 0l7.6 0l7.6 0l7.7 0l7.6 0l7.6 0l7.6 0l7.6 0l7.6 0l7.6 0l7.6 0l7.6 0l7.6 0l7.6 0l7.6 0l7.6 0l7.6 0l7.6 0l7.6 0l7.6 0l7.6 0l7.6 0l7.6 0l7.6 0l7.6 0l7.6 0l7.6 0l7.6 0l7.6 0l7.7 0l7.6 0l7.6 0l7.6 0l7.6 0l7.6 0l6.5 0" stroke="#ffbfbf" stroke-width="1.8" fill="none" stroke-linejoin="miter"/>
<path d="M131 1272.8l7.6-571l7.6 520.3l7.6-3.4l7.6-7.2l7.6-24l7.6-28.3l7.6-9.2l7.7-17.5l7.6-3l7.6 24.1l7.6 25.7l7.6 11.5l7.6 20.3l7.6 41.8l7.6 19.9l7.6 0l7.6 0l7.6 0l7.6 0l7.6 0l7.6 0l7.6 0l7.6 0l7.6 0l7.6 0l7.6 0l7.6 0l7.6 0l7.6 0l7.6 0l7.6-11.1l7.6 11.1l7.6 0l7.6 0l7.7 0l7.6 0l7.6 0l7.6 0l7.6 0l7.6 0l7.6 0l7.6 0l7.6 0l7.6 0l7.6 0l7.6 0l7.6 0l7.6 0l7.6 0l7.6 0l7.6 0l7.6 0l7.6 0l7.6 0l7.6 0l7.6 0l7.6 0l7.6 0l7.6 0l7.6 0l7.7 0l7.6 0l7.6 0l7.6 0l7.6 0l7.6 0l6.5 0" stroke="#ffbfbf" stroke-width="1.8" fill="none" stroke-linejoin="miter"/>
<path d="M131 1272.8l7.6-650.1l7.6 607.5l7.6 8.6l7.6-13.2l7.6-17.7l7.6-24l7.6-104.3l7.7 1.1l7.6-58.5l7.6 43.8l7.6 41.1l7.6 66.3l7.6 2.4l7.6 36.1l7.6 60.9l7.6 0l7.6-10.7l7.6 10.7l7.6 0l7.6 0l7.6 0l7.6-12.3l7.6 12.3l7.6-19.3l7.6 19.3l7.6 0l7.6 0l7.6 0l7.6 0l7.6 0l7.6 0l7.6 0l7.6 0l7.6 0l7.7 0l7.6 0l7.6 0l7.6 0l7.6 0l7.6 0l7.6 0l7.6 0l7.6 0l7.6 0l7.6 0l7.6 0l7.6 0l7.6 0l7.6 0l7.6 0l7.6 0l7.6 0l7.6 0l7.6 0l7.6 0l7.6 0l7.6 0l7.6 0l7.6 0l7.6 0l7.7 0l7.6 0l7.6 0l7.6 0l7.6 0l7.6 0l6.5 0" stroke="#ffbfbf" stroke-width="1.8" fill="none" stroke-linejoin="miter"/>
<path d="M131 1272.8l7.6-1345.9l7.6 1279.6l7.6 19.4l7.6-43l7.6-1.4l7.6-7.3l7.6-5.8l7.7-70.4l7.6 15.4l7.6 17.4l7.6 43.9l7.6 77.1l7.6-71.6l7.6 31.1l7.6-6.8l7.6 42l7.6 18.4l7.6-17.1l7.6 9.4l7.6 15.6l7.6 0l7.6 0l7.6 0l7.6 0l7.6 0l7.6 0l7.6 0l7.6 0l7.6 0l7.6 0l7.6 0l7.6 0l7.6 0l7.6 0l7.7 0l7.6 0l7.6 0l7.6 0l7.6 0l7.6 0l7.6 0l7.6 0l7.6 0l7.6 0l7.6 0l7.6 0l7.6 0l7.6 0l7.6 0l7.6 0l7.6 0l7.6 0l7.6 0l7.6 0l7.6 0l7.6 0l7.6 0l7.6 0l7.6 0l7.6 0l7.7 0l7.6 0l7.6 0l7.6 0l7.6 0l7.6 0l6.5 0" stroke="#ffbfbf" stroke-width="1.8" fill="none" stroke-linejoin="miter"/>
<path d="M131 1272.8l7.6-568.2l7.6 542.3l7.6 2.7l7.6-11.1l7.6-3l7.6 4l7.6-20.4l7.7-35.3l7.6-32.6l7.6-50.2l7.6-35.8l7.6 44.1l7.6 47.8l7.6 29.5l7.6 32l7.6 28.2l7.6 14.7l7.6 0.9l7.6 10.4l7.6 0l7.6 0l7.6 0l7.6 0l7.6 0l7.6 0l7.6 0l7.6 0l7.6 0l7.6 0l7.6 0l7.6 0l7.6 0l7.6 0l7.6 0l7.7 0l7.6 0l7.6 0l7.6 0l7.6 0l7.6 0l7.6 0l7.6 0l7.6 0l7.6 0l7.6 0l7.6 0l7.6 0l7.6 0l7.6 0l7.6 0l7.6 0l7.6 0l7.6 0l7.6 0l7.6 0l7.6 0l7.6 0l7.6 0l7.6 0l7.6 0l7.7 0l7.6 0l7.6 0l7.6 0l7.6 0l7.6 0l6.5 0" stroke="#ffbfbf" stroke-width="1.8" fill="none" stroke-linejoin="miter"/>
<path d="M131 1272.8l7.6-604.6l7.6 574.8l7.6-15.2l7.6 1.1l7.6-3.7l7.6-25.8l7.6-35.6l7.7-50.9l7.6-9.1l7.6 40l7.6-69.8l7.6 53.7l7.6 139.2l7.6 5.9l7.6 0l7.6 0l7.6 0l7.6 0l7.6 0l7.6 0l7.6 0l7.6 0l7.6 0l7.6 0l7.6 0l7.6 0l7.6 0l7.6 0l7.6 0l7.6 0l7.6 0l7.6 0l7.6 0l7.6 0l7.7 0l7.6 0l7.6 0l7.6 0l7.6 0l7.6 0l7.6 0l7.6 0l7.6 0l7.6 0l7.6 0l7.6 0l7.6 0l7.6 0l7.6 0l7.6 0l7.6 0l7.6 0l7.6 0l7.6 0l7.6 0l7.6 0l7.6 0l7.6 0l7.6 0l7.6 0l7.7 0l7.6 0l7.6 0l7.6 0l7.6 0l7.6 0l6.5 0" stroke="#ffbfbf" stroke-width="1.8" fill="none" stroke-linejoin="miter"/>
<path d="M131 1272.8l7.6-619.9l7.6 581.1l7.6-2.7l7.6-2.6l7.6-4.1l7.6-43.1l7.6 32.8l7.7-72.4l7.6-68.7l7.6 64.2l7.6-25.3l7.6 75.6l7.6-10l7.6 89.5l7.6-21.5l7.6 17.5l7.6-4.1l7.6 13.7l7.6 0l7.6 0l7.6 0l7.6 0l7.6 0l7.6 0l7.6 0l7.6 0l7.6-22.7l7.6 22.7l7.6 0l7.6 0l7.6 0l7.6 0l7.6 0l7.6 0l7.7 0l7.6 0l7.6 0l7.6 0l7.6 0l7.6 0l7.6 0l7.6 0l7.6 0l7.6 0l7.6 0l7.6 0l7.6 0l7.6 0l7.6 0l7.6 0l7.6 0l7.6 0l7.6 0l7.6 0l7.6 0l7.6 0l7.6 0l7.6 0l7.6 0l7.6 0l7.7 0l7.6 0l7.6 0l7.6 0l7.6 0l7.6 0l6.5 0" stroke="#ffbfbf" stroke-width="1.8" fill="none" stroke-linejoin="miter"/>
<path d="M131 1272.8l7.6-2910l7.6 2863.5l7.6-7.2l7.6 8.7l7.6 8.1l7.6-22.3l7.6-7.2l7.7-79.4l7.6 16.9l7.6 29.5l7.6 41.1l7.6 33.3l7.6-1l7.6 26l7.6 0l7.6 0l7.6 0l7.6 0l7.6 0l7.6 0l7.6 0l7.6 0l7.6 0l7.6 0l7.6 0l7.6 0l7.6 0l7.6 0l7.6 0l7.6 0l7.6 0l7.6 0l7.6 0l7.6 0l7.7 0l7.6 0l7.6 0l7.6 0l7.6 0l7.6 0l7.6 0l7.6 0l7.6 0l7.6 0l7.6 0l7.6 0l7.6 0l7.6 0l7.6 0l7.6 0l7.6 0l7.6 0l7.6 0l7.6 0l7.6 0l7.6 0l7.6 0l7.6 0l7.6 0l7.6 0l7.7 0l7.6 0l7.6 0l7.6 0l7.6 0l7.6 0l6.5 0" stroke="#ffbfbf" stroke-width="1.8" fill="none" stroke-linejoin="miter"/>
<path d="M131 1272.8l7.6-342.6l7.6 275.6l7.6-22.9l7.6-30.5l7.6 22.5l7.6-71.3l7.6-0.4l7.7-44.4l7.6-41.3l7.6 5.9l7.6 41.6l7.6 39.8l7.6 53.8l7.6 40.1l7.6 32.5l7.6 18l7.6 23.6l7.6 0l7.6 0l7.6 0l7.6 0l7.6 0l7.6 0l7.6 0l7.6 0l7.6 0l7.6 0l7.6 0l7.6 0l7.6 0l7.6-5.5l7.6 5.5l7.6 0l7.6 0l7.7 0l7.6 0l7.6 0l7.6 0l7.6 0l7.6 0l7.6 0l7.6 0l7.6 0l7.6 0l7.6 0l7.6 0l7.6 0l7.6 0l7.6 0l7.6 0l7.6 0l7.6 0l7.6 0l7.6 0l7.6 0l7.6 0l7.6 0l7.6 0l7.6 0l7.6 0l7.7 0l7.6 0l7.6 0l7.6 0l7.6 0l7.6 0l6.5 0" stroke="#ffbfbf" stroke-width="1.8" fill="none" stroke-linejoin="miter"/>
<path d="M131 1272.8l7.6-543.7l7.6 478.1l7.6 8.6l7.6 0.1l7.6-12.6l7.6-32l7.6-41l7.7-31l7.6-37.2l7.6 45.6l7.6-47.6l7.6 49.9l7.6 117.8l7.6-34.9l7.6 68.1l7.6 11.8l7.6 0l7.6 0l7.6 0l7.6 0l7.6 0l7.6 0l7.6-14.3l7.6 14.3l7.6 0l7.6 0l7.6 0l7.6 0l7.6 0l7.6 0l7.6 0l7.6 0l7.6 0l7.6 0l7.7 0l7.6 0l7.6 0l7.6 0l7.6 0l7.6 0l7.6 0l7.6 0l7.6 0l7.6 0l7.6 0l7.6 0l7.6 0l7.6 0l7.6 0l7.6 0l7.6 0l7.6 0l7.6 0l7.6 0l7.6 0l7.6 0l7.6 0l7.6 0l7.6 0l7.6 0l7.7 0l7.6 0l7.6 0l7.6 0l7.6 0l7.6 0l6.5 0" stroke="#ffbfbf" stroke-width="1.8" fill="none" stroke-linejoin="miter"/>
<path d="M131 1272.8l7.6-905.1l7.6 877.9l7.6 4.1l7.6-9.6l7.6-15.6l7.6-30.4l7.6-28.7l7.7-6.6l7.6 14.4l7.6 96.3l7.6-64.4l7.6 10.6l7.6 23.9l7.6 3.4l7.6 28.5l7.6-12.2l7.6 1.8l7.6 11.7l7.6 0l7.6 0l7.6 0l7.6 0l7.6 0l7.6 0l7.6 0l7.6 0l7.6 0l7.6 0l7.6 0l7.6 0l7.6 0l7.6 0l7.6 0l7.6 0l7.7 0l7.6 0l7.6 0l7.6 0l7.6 0l7.6 0l7.6 0l7.6 0l7.6 0l7.6 0l7.6 0l7.6 0l7.6 0l7.6 0l7.6 0l7.6 0l7.6 0l7.6 0l7.6 0l7.6 0l7.6 0l7.6 0l7.6 0l7.6 0l7.6 0l7.6 0l7.7 0l7.6 0l7.6 0l7.6 0l7.6 0l7.6 0l6.5 0" stroke="#ffbfbf" stroke-width="1.8" fill="none" stroke-linejoin="miter"/>
<path d="M131 1272.8l7.6-1483.2l7.6 1427.1l7.6-83.1l7.6 81.9l7.6-44l7.6 0.9l7.6 20.7l7.7-20.5l7.6-59.8l7.6 11.9l7.6 45l7.6 13.4l7.6 26.9l7.6 26.8l7.6 25.7l7.6-8.9l7.6 1.2l7.6 3.4l7.6-0.3l7.6 1.5l7.6 1.9l7.6 11.5l7.6 0l7.6 0l7.6 0l7.6 0l7.6 0l7.6 0l7.6 0l7.6 0l7.6 0l7.6 0l7.6 0l7.6 0l7.7 0l7.6 0l7.6 0l7.6 0l7.6 0l7.6 0l7.6 0l7.6 0l7.6 0l7.6 0l7.6 0l7.6 0l7.6 0l7.6 0l7.6 0l7.6 0l7.6 0l7.6 0l7.6 0l7.6 0l7.6 0l7.6 0l7.6 0l7.6 0l7.6 0l7.6 0l7.7 0l7.6 0l7.6 0l7.6 0l7.6 0l7.6 0l6.5 0" stroke="#ffbfbf" stroke-width="1.8" fill="none" stroke-linejoin="miter"/>
<path d="M131 1272.8l7.6-627.3l7.6 570.5l7.6 6.2l7.6-3.1l7.6 15.1l7.6-26.9l7.6 20.3l7.7-44.6l7.6-38.8l7.6-10.1l7.6-16.3l7.6 53l7.6-21l7.6 23.9l7.6 95.3l7.6-16.5l7.6-15l7.6 10l7.6 10.2l7.6 15.1l7.6 0l7.6 0l7.6 0l7.6 0l7.6 0l7.6 0l7.6 0l7.6 0l7.6 0l7.6 0l7.6 0l7.6-7l7.6 7l7.6 0l7.7 0l7.6 0l7.6 0l7.6 0l7.6 0l7.6 0l7.6 0l7.6 0l7.6 0l7.6 0l7.6 0l7.6 0l7.6 0l7.6 0l7.6 0l7.6 0l7.6 0l7.6 0l7.6 0l7.6 0l7.6 0l7.6 0l7.6 0l7.6 0l7.6 0l7.6 0l7.7 0l7.6 0l7.6 0l7.6 0l7.6 0l7.6 0l6.5 0" stroke="#ffbfbf" stroke-width="1.8" fill="none" stroke-linejoin="miter"/>
<path d="M131 1272.8l7.6-1329.8l7.6 1289.8l7.6 3.9l7.6-6.7l7.6-8.7l7.6-29.3l7.6-0.3l7.7-12.4l7.6-66.2l7.6-29.7l7.6-47.9l7.6 16.7l7.6 11.9l7.6 59.9l7.6 46.3l7.6 69.7l7.6 8.1l7.6 5.7l7.6 7.3l7.6 5.9l7.6-3.5l7.6 1.3l7.6 8l7.6 0l7.6 0l7.6 0l7.6 0l7.6 0l7.6 0l7.6 0l7.6 0l7.6 0l7.6 0l7.6 0l7.7 0l7.6-9.1l7.6 9.1l7.6 0l7.6 0l7.6 0l7.6 0l7.6 0l7.6 0l7.6 0l7.6 0l7.6 0l7.6 0l7.6 0l7.6 0l7.6 0l7.6 0l7.6 0l7.6 0l7.6 0l7.6 0l7.6 0l7.6 0l7.6 0l7.6 0l7.6 0l7.7 0l7.6 0l7.6 0l7.6 0l7.6 0l7.6 0l6.5 0" stroke="#ffbfbf" stroke-width="1.8" fill="none" stroke-linejoin="miter"/>
<path d="M131 1272.8l7.6-3045.9l7.6 3004.6l7.6-72.3l7.6-10.5l7.6 12.6l7.6-37l7.6 67.3l7.7-51.7l7.6-46.7l7.6 54.6l7.6 2.7l7.6 83.2l7.6-8.5l7.6 40.3l7.6-8.6l7.6 15.9l7.6 0l7.6 0l7.6 0l7.6 0l7.6 0l7.6 0l7.6 0l7.6 0l7.6 0l7.6 0l7.6 0l7.6 0l7.6 0l7.6 0l7.6 0l7.6 0l7.6 0l7.6 0l7.7 0l7.6 0l7.6 0l7.6 0l7.6 0l7.6 0l7.6 0l7.6 0l7.6 0l7.6 0l7.6 0l7.6 0l7.6 0l7.6 0l7.6 0l7.6 0l7.6 0l7.6 0l7.6 0l7.6 0l7.6 0l7.6 0l7.6 0l7.6 0l7.6 0l7.6 0l7.7 0l7.6 0l7.6 0l7.6 0l7.6 0l7.6 0l6.5 0" stroke="#ffbfbf" stroke-width="1.8" fill="none" stroke-linejoin="miter"/>
<path d="M131 1272.8l7.6-959.3l7.6 906l7.6 17.6l7.6-6.8l7.6 5.9l7.6-13.8l7.6-20l7.7-23.1l7.6-51.9l7.6 2.7l7.6-51.1l7.6 40.7l7.6 47.2l7.6 50.1l7.6 9.7l7.6 22l7.6 13.3l7.6 10.1l7.6 0.7l7.6 0l7.6 0l7.6 0l7.6 0l7.6 0l7.6 0l7.6-19.4l7.6 19.4l7.6 0l7.6 0l7.6 0l7.6 0l7.6 0l7.6-8.3l7.6 8.3l7.7 0l7.6 0l7.6 0l7.6 0l7.6 0l7.6 0l7.6 0l7.6 0l7.6 0l7.6 0l7.6 0l7.6 0l7.6 0l7.6 0l7.6 0l7.6 0l7.6 0l7.6 0l7.6 0l7.6 0l7.6 0l7.6 0l7.6 0l7.6 0l7.6 0l7.6 0l7.7 0l7.6 0l7.6 0l7.6 0l7.6 0l7.6 0l6.5 0" stroke="#ffbfbf" stroke-width="1.8" fill="none" stroke-linejoin="miter"/>
<path d="M131 1272.8l7.6-1231l7.6 1149.2l7.6 4.7l7.6-5.9l7.6-42.7l7.6-16.2l7.6-49.5l7.7-45.5l7.6 14.5l7.6-3.3l7.6 41l7.6-7.4l7.6 62l7.6 38.4l7.6 39.4l7.6 49.6l7.6-1.9l7.6 4.6l7.6 0l7.6 0l7.6 0l7.6-13.1l7.6 1.9l7.6 11.2l7.6 0l7.6 0l7.6 0l7.6 0l7.6 0l7.6 0l7.6 0l7.6 0l7.6 0l7.6-6.1l7.7 6.1l7.6 0l7.6 0l7.6 0l7.6 0l7.6-23.4l7.6 23.4l7.6 0l7.6 0l7.6 0l7.6 0l7.6 0l7.6 0l7.6 0l7.6 0l7.6 0l7.6 0l7.6 0l7.6 0l7.6 0l7.6 0l7.6 0l7.6 0l7.6 0l7.6 0l7.6 0l7.7 0l7.6 0l7.6 0l7.6 0l7.6 0l7.6 0l6.5 0" stroke="#ffbfbf" stroke-width="1.8" fill="none" stroke-linejoin="miter"/>
<path d="M131 1272.8l7.6-1001.2l7.6 960.5l7.6-86.4l7.6-45l7.6 33.5l7.6 5.8l7.6 27.2l7.7-50.5l7.6 5.4l7.6 13l7.6-15.9l7.6 31.1l7.6 21.3l7.6 27.9l7.6 35.6l7.6 10.5l7.6 27.2l7.6 0l7.6 0l7.6 0l7.6 0l7.6 0l7.6 0l7.6 0l7.6 0l7.6 0l7.6 0l7.6 0l7.6 0l7.6 0l7.6-10.7l7.6 10.7l7.6 0l7.6 0l7.7 0l7.6 0l7.6 0l7.6 0l7.6 0l7.6 0l7.6 0l7.6 0l7.6 0l7.6 0l7.6 0l7.6 0l7.6 0l7.6 0l7.6 0l7.6 0l7.6 0l7.6 0l7.6 0l7.6 0l7.6 0l7.6 0l7.6 0l7.6 0l7.6 0l7.6 0l7.7 0l7.6 0l7.6 0l7.6 0l7.6 0l7.6 0l6.5 0" stroke="#ffbfbf" stroke-width="1.8" fill="none" stroke-linejoin="miter"/>
<path d="M131 1272.8l7.6-994.5l7.6 946.8l7.6-0.2l7.6 8l7.6-10.4l7.6 4.9l7.6 10.3l7.7-5.4l7.6-6.9l7.6-32.8l7.6 3.6l7.6-20.3l7.6 37.4l7.6 7.7l7.6 20.6l7.6 31.2l7.6 0l7.6 0l7.6 0l7.6 0l7.6 0l7.6 0l7.6 0l7.6 0l7.6 0l7.6 0l7.6 0l7.6 0l7.6-8.3l7.6 8.3l7.6 0l7.6 0l7.6 0l7.6 0l7.7 0l7.6 0l7.6 0l7.6 0l7.6 0l7.6 0l7.6 0l7.6 0l7.6 0l7.6 0l7.6 0l7.6 0l7.6 0l7.6 0l7.6 0l7.6 0l7.6 0l7.6 0l7.6 0l7.6 0l7.6 0l7.6 0l7.6 0l7.6 0l7.6 0l7.6 0l7.7 0l7.6 0l7.6 0l7.6 0l7.6 0l7.6 0l6.5 0" stroke="#ffbfbf" stroke-width="1.8" fill="none" stroke-linejoin="miter"/>
<path d="M131 1272.8l7.6-2635.8l7.6 2584l7.6 9.4l7.6-31.7l7.6-41.1l7.6 11.9l7.6-23l7.7-69.4l7.6 15.4l7.6 23.7l7.6-7.7l7.6 38.1l7.6 50.4l7.6 19.9l7.6 48.7l7.6-7.9l7.6 15.1l7.6 0l7.6 0l7.6 0l7.6 0l7.6 0l7.6 0l7.6 0l7.6 0l7.6 0l7.6-9.1l7.6 9.1l7.6 0l7.6 0l7.6 0l7.6 0l7.6 0l7.6 0l7.7 0l7.6 0l7.6 0l7.6 0l7.6 0l7.6 0l7.6 0l7.6 0l7.6 0l7.6 0l7.6 0l7.6 0l7.6 0l7.6 0l7.6 0l7.6 0l7.6 0l7.6 0l7.6 0l7.6 0l7.6 0l7.6 0l7.6 0l7.6 0l7.6 0l7.6 0l7.7 0l7.6 0l7.6 0l7.6 0l7.6 0l7.6 0l6.5 0" stroke="#ffbfbf" stroke-width="1.8" fill="none" stroke-linejoin="miter"/>
<path d="M131 1272.8l7.6-3486.3l7.6 3416.2l7.6 1.4l7.6 12.3l7.6 12.8l7.6-14.9l7.6 1l7.7-42.2l7.6-19.9l7.6-71.8l7.6-61.7l7.6-28.9l7.6-3.1l7.6 68.8l7.6 28.1l7.6 188.2l7.6 0l7.6-7.3l7.6 7.3l7.6-7.6l7.6-8.5l7.6 16.1l7.6 0l7.6 0l7.6 0l7.6 0l7.6 0l7.6 0l7.6 0l7.6 0l7.6 0l7.6 0l7.6 0l7.6 0l7.7 0l7.6 0l7.6 0l7.6 0l7.6 0l7.6 0l7.6 0l7.6 0l7.6 0l7.6 0l7.6 0l7.6 0l7.6 0l7.6 0l7.6 0l7.6 0l7.6 0l7.6 0l7.6 0l7.6 0l7.6 0l7.6 0l7.6 0l7.6 0l7.6 0l7.6 0l7.7 0l7.6 0l7.6 0l7.6 0l7.6 0l7.6 0l6.5 0" stroke="#ffbfbf" stroke-width="1.8" fill="none" stroke-linejoin="miter"/>
<path d="M131 1272.8l7.6-277.1l7.6 221l7.6-2.6l7.6-6.9l7.6-0.6l7.6 7.4l7.6-22.2l7.7 7.4l7.6-41l7.6-1.4l7.6 2.4l7.6-8.9l7.6 20.9l7.6 8.6l7.6 93l7.6 0l7.6 0l7.6 0l7.6 0l7.6-18.3l7.6 18.3l7.6 0l7.6 0l7.6 0l7.6-17l7.6 17l7.6 0l7.6 0l7.6 0l7.6 0l7.6 0l7.6 0l7.6 0l7.6 0l7.7 0l7.6 0l7.6 0l7.6-18.9l7.6 18.9l7.6 0l7.6 0l7.6 0l7.6 0l7.6 0l7.6 0l7.6 0l7.6 0l7.6 0l7.6 0l7.6 0l7.6 0l7.6 0l7.6 0l7.6 0l7.6 0l7.6 0l7.6 0l7.6 0l7.6 0l7.6 0l7.7 0l7.6 0l7.6 0l7.6 0l7.6 0l7.6 0l6.5 0" stroke="#ffbfbf" stroke-width="1.8" fill="none" stroke-linejoin="miter"/>
<path d="M131 1272.8l7.6-998.8l7.6 971.2l7.6-2.7l7.6 0.6l7.6-3l7.6-18l7.6-11.5l7.7-18.5l7.6-18.3l7.6 34.4l7.6-37.8l7.6 51.1l7.6 3.7l7.6 5.7l7.6 36.1l7.6-13.8l7.6 3l7.6 11.3l7.6-2.9l7.6 2.5l7.6 5.7l7.6 0l7.6 0l7.6 0l7.6 0l7.6 0l7.6 0l7.6 0l7.6 0l7.6 0l7.6 0l7.6 0l7.6 0l7.6 0l7.7 0l7.6 0l7.6 0l7.6 0l7.6 0l7.6 0l7.6 0l7.6 0l7.6 0l7.6 0l7.6 0l7.6 0l7.6 0l7.6 0l7.6 0l7.6 0l7.6 0l7.6 0l7.6 0l7.6 0l7.6 0l7.6 0l7.6 0l7.6 0l7.6 0l7.6 0l7.7 0l7.6 0l7.6 0l7.6 0l7.6 0l7.6 0l6.5 0" stroke="#ffbfbf" stroke-width="1.8" fill="none" stroke-linejoin="miter"/>
<path d="M131 1272.8l7.6-1212.5l7.6 1170.7l7.6-27.6l7.6-39.5l7.6-3.6l7.6-67.4l7.6-41.2l7.7-24.5l7.6 45.4l7.6 105.5l7.6 37.9l7.6 48.1l7.6-12.6l7.6 21.3l7.6 0l7.6 0l7.6 0l7.6 0l7.6 0l7.6 0l7.6 0l7.6-26.2l7.6 26.2l7.6 0l7.6 0l7.6 0l7.6-5.3l7.6-20.7l7.6 26l7.6-25.3l7.6 25.3l7.6 0l7.6 0l7.6 0l7.7 0l7.6 0l7.6 0l7.6 0l7.6 0l7.6 0l7.6 0l7.6 0l7.6 0l7.6 0l7.6 0l7.6 0l7.6 0l7.6 0l7.6 0l7.6 0l7.6 0l7.6 0l7.6 0l7.6 0l7.6 0l7.6 0l7.6 0l7.6 0l7.6 0l7.6 0l7.7 0l7.6 0l7.6 0l7.6 0l7.6 0l7.6 0l6.5 0" stroke="#ffbfbf" stroke-width="1.8" fill="none" stroke-linejoin="miter"/>
<path d="M131 1272.8l7.6-3123.7l7.6 3059.4l7.6 2.2l7.6 10.8l7.6-31l7.6-8.8l7.6-19.9l7.7-18l7.6-65.2l7.6-4.1l7.6-60.1l7.6 5.1l7.6 66.7l7.6 76.9l7.6 6.4l7.6 34.2l7.6 1.7l7.6 67.4l7.6 0l7.6 0l7.6 0l7.6 0l7.6-24.4l7.6 24.4l7.6 0l7.6 0l7.6-5l7.6 5l7.6 0l7.6 0l7.6 0l7.6 0l7.6 0l7.6 0l7.7 0l7.6 0l7.6 0l7.6 0l7.6 0l7.6 0l7.6 0l7.6 0l7.6 0l7.6 0l7.6 0l7.6 0l7.6 0l7.6 0l7.6 0l7.6 0l7.6 0l7.6 0l7.6 0l7.6 0l7.6 0l7.6 0l7.6 0l7.6 0l7.6 0l7.6 0l7.7 0l7.6 0l7.6 0l7.6 0l7.6 0l7.6 0l6.5 0" stroke="#ffbfbf" stroke-width="1.8" fill="none" stroke-linejoin="miter"/>
<path d="M131 1272.8l7.6-870.2l7.6 841l7.6-3.7l7.6-6.9l7.6-11.3l7.6 1.7l7.6-52.6l7.7-40.1l7.6-19.4l7.6 6.2l7.6-33.6l7.6 35l7.6 20.4l7.6 21.5l7.6 55.5l7.6 10.6l7.6 19.5l7.6 11.4l7.6 4.5l7.6 1.6l7.6 8.9l7.6 0l7.6 0l7.6 0l7.6 0l7.6 0l7.6 0l7.6-13.1l7.6 13.1l7.6 0l7.6 0l7.6 0l7.6 0l7.6 0l7.7 0l7.6 0l7.6 0l7.6 0l7.6 0l7.6 0l7.6 0l7.6 0l7.6 0l7.6 0l7.6 0l7.6 0l7.6 0l7.6 0l7.6 0l7.6 0l7.6 0l7.6 0l7.6 0l7.6 0l7.6 0l7.6 0l7.6 0l7.6 0l7.6 0l7.6 0l7.7 0l7.6 0l7.6 0l7.6 0l7.6 0l7.6 0l6.5 0" stroke="#ffbfbf" stroke-width="1.8" fill="none" stroke-linejoin="miter"/>
<path d="M131 1272.8l7.6-674.3l7.6 639l7.6 16.5l7.6-13.7l7.6-1.6l7.6 6.2l7.6-14.2l7.7-13.6l7.6-17.4l7.6-7l7.6-61.2l7.6 40.6l7.6-18l7.6 107.5l7.6-74.3l7.6 85.5l7.6 0l7.6-19.3l7.6 0.2l7.6 19.1l7.6 0l7.6 0l7.6 0l7.6 0l7.6 0l7.6 0l7.6 0l7.6 0l7.6 0l7.6 0l7.6 0l7.6 0l7.6 0l7.6 0l7.7 0l7.6 0l7.6 0l7.6 0l7.6 0l7.6-17.5l7.6 17.5l7.6 0l7.6 0l7.6 0l7.6 0l7.6 0l7.6 0l7.6 0l7.6 0l7.6 0l7.6 0l7.6 0l7.6 0l7.6 0l7.6 0l7.6 0l7.6 0l7.6 0l7.6 0l7.6 0l7.7 0l7.6 0l7.6 0l7.6 0l7.6 0l7.6 0l6.5 0" stroke="#ffbfbf" stroke-width="1.8" fill="none" stroke-linejoin="miter"/>
<path d="M131 1272.8l7.6-547.5l7.6 473.6l7.6 10.1l7.6-19.9l7.6-20.7l7.6-13l7.6-20.1l7.7 18.4l7.6-52.8l7.6 1.8l7.6-60.4l7.6 55.3l7.6 22.9l7.6 115.8l7.6-19.7l7.6 38l7.6-7.5l7.6 25.7l7.6 0l7.6 0l7.6 0l7.6 0l7.6 0l7.6 0l7.6-9.3l7.6 9.3l7.6 0l7.6 0l7.6 0l7.6 0l7.6 0l7.6 0l7.6 0l7.6 0l7.7 0l7.6 0l7.6 0l7.6 0l7.6 0l7.6 0l7.6 0l7.6 0l7.6 0l7.6 0l7.6 0l7.6 0l7.6 0l7.6 0l7.6 0l7.6 0l7.6 0l7.6 0l7.6 0l7.6 0l7.6 0l7.6 0l7.6 0l7.6 0l7.6 0l7.6 0l7.7 0l7.6 0l7.6 0l7.6 0l7.6 0l7.6 0l6.5 0" stroke="#ffbfbf" stroke-width="1.8" fill="none" stroke-linejoin="miter"/>
<path d="M131 1272.8l7.6-1334.6l7.6 1273.4l7.6 10.5l7.6-9.3l7.6 4.4l7.6-12.2l7.6-20.6l7.7-67.8l7.6-31.2l7.6-58.1l7.6 75.8l7.6 29.7l7.6-15.1l7.6 152.9l7.6-46.4l7.6 23.3l7.6 25.3l7.6 0l7.6 0l7.6 0l7.6 0l7.6 0l7.6 0l7.6 0l7.6 0l7.6 0l7.6 0l7.6 0l7.6 0l7.6-9.3l7.6 9.3l7.6 0l7.6 0l7.6 0l7.7 0l7.6 0l7.6 0l7.6 0l7.6 0l7.6 0l7.6 0l7.6 0l7.6 0l7.6 0l7.6 0l7.6 0l7.6 0l7.6 0l7.6 0l7.6 0l7.6 0l7.6 0l7.6 0l7.6 0l7.6 0l7.6 0l7.6 0l7.6 0l7.6 0l7.6 0l7.7 0l7.6 0l7.6 0l7.6 0l7.6 0l7.6 0l6.5 0" stroke="#ffbfbf" stroke-width="1.8" fill="none" stroke-linejoin="miter"/>
<path d="M131 1272.8l7.6-606.8l7.6 579.3l7.6-2.1l7.6-8.2l7.6-19.9l7.6-7.3l7.6-23.7l7.7-38.7l7.6 10.4l7.6-49.5l7.6-10.8l7.6-6.9l7.6 36.9l7.6 57.5l7.6 38.4l7.6 17.4l7.6 34l7.6 0l7.6 0l7.6 0l7.6 0l7.6 0l7.6 0l7.6 0l7.6-4.5l7.6 4.5l7.6 0l7.6 0l7.6 0l7.6-24.6l7.6 24.6l7.6 0l7.6 0l7.6 0l7.7 0l7.6 0l7.6 0l7.6 0l7.6 0l7.6 0l7.6 0l7.6 0l7.6 0l7.6 0l7.6 0l7.6 0l7.6 0l7.6 0l7.6 0l7.6 0l7.6 0l7.6 0l7.6 0l7.6 0l7.6 0l7.6 0l7.6 0l7.6 0l7.6 0l7.6 0l7.7 0l7.6 0l7.6 0l7.6 0l7.6 0l7.6 0l6.5 0" stroke="#ffbfbf" stroke-width="1.8" fill="none" stroke-linejoin="miter"/>
<path d="M131 1272.8l7.6-1633.7l7.6 1588.4l7.6-4.9l7.6-3.5l7.6 4.7l7.6-9.3l7.6-28.7l7.7-8.2l7.6-45.9l7.6-31.1l7.6-31.8l7.6 29.3l7.6 55.7l7.6 46.4l7.6 65.2l7.6-11.4l7.6 2.8l7.6 0.3l7.6 1.5l7.6 0.4l7.6 1.2l7.6 12.6l7.6 0l7.6 0l7.6 0l7.6 0l7.6-10.3l7.6 10.3l7.6 0l7.6 0l7.6 0l7.6 0l7.6 0l7.6 0l7.7 0l7.6 0l7.6 0l7.6 0l7.6 0l7.6 0l7.6 0l7.6 0l7.6 0l7.6 0l7.6 0l7.6 0l7.6 0l7.6 0l7.6 0l7.6 0l7.6 0l7.6 0l7.6 0l7.6 0l7.6 0l7.6 0l7.6 0l7.6 0l7.6 0l7.6 0l7.7 0l7.6 0l7.6 0l7.6 0l7.6 0l7.6 0l6.5 0" stroke="#ffbfbf" stroke-width="1.8" fill="none" stroke-linejoin="miter"/>
<path d="M131 1272.8l7.6-1222.7l7.6 1169.4l7.6 13.5l7.6-28.2l7.6 6.5l7.6-12.3l7.6-26.9l7.7-18.4l7.6 10.4l7.6-29.6l7.6-50.9l7.6 47.1l7.6-35.5l7.6 31.3l7.6 144.1l7.6-76.4l7.6 17.8l7.6 60.8l7.6-14.2l7.6 14.2l7.6 0l7.6 0l7.6 0l7.6 0l7.6 0l7.6 0l7.6 0l7.6 0l7.6 0l7.6 0l7.6 0l7.6 0l7.6 0l7.6-7.4l7.7 7.4l7.6 0l7.6 0l7.6 0l7.6 0l7.6 0l7.6 0l7.6 0l7.6 0l7.6 0l7.6 0l7.6 0l7.6 0l7.6 0l7.6 0l7.6 0l7.6 0l7.6 0l7.6 0l7.6 0l7.6 0l7.6 0l7.6 0l7.6 0l7.6 0l7.6 0l7.7 0l7.6 0l7.6 0l7.6 0l7.6 0l7.6 0l6.5 0" stroke="#ffbfbf" stroke-width="1.8" fill="none" stroke-linejoin="miter"/>
<path d="M131 1272.8l7.6-1641.6l7.6 1557.6l7.6 3l7.6 4l7.6-8.4l7.6-21.4l7.6-44.5l7.7 36.4l7.6-108.1l7.6 19.9l7.6-33l7.6 31.9l7.6 47.9l7.6 142.7l7.6-37.3l7.6 29.3l7.6 12.4l7.6-7.9l7.6 3.1l7.6 14l7.6 0l7.6 0l7.6 0l7.6 0l7.6 0l7.6 0l7.6 0l7.6 0l7.6 0l7.6 0l7.6 0l7.6 0l7.6 0l7.6 0l7.7 0l7.6 0l7.6 0l7.6 0l7.6 0l7.6 0l7.6-14.4l7.6 14.4l7.6 0l7.6 0l7.6 0l7.6 0l7.6 0l7.6 0l7.6 0l7.6 0l7.6 0l7.6 0l7.6 0l7.6 0l7.6 0l7.6 0l7.6 0l7.6 0l7.6 0l7.6 0l7.7 0l7.6 0l7.6 0l7.6 0l7.6 0l7.6 0l6.5 0" stroke="#ffbfbf" stroke-width="1.8" fill="none" stroke-linejoin="miter"/>
<path d="M131 1272.8l7.6-1001.5l7.6 972l7.6 1.2l7.6 3.1l7.6-13.4l7.6-18l7.6-32.9l7.7-52.9l7.6-28.2l7.6-15l7.6 4.1l7.6 17.3l7.6 20.9l7.6 67.2l7.6 12.8l7.6 23l7.6 21.4l7.6 18.9l7.6 0l7.6 0l7.6 0l7.6 0l7.6 0l7.6 0l7.6 0l7.6 0l7.6 0l7.6 0l7.6 0l7.6-24.9l7.6 24.9l7.6 0l7.6-4.2l7.6 4.2l7.7 0l7.6 0l7.6 0l7.6 0l7.6 0l7.6 0l7.6 0l7.6 0l7.6 0l7.6 0l7.6 0l7.6 0l7.6 0l7.6 0l7.6 0l7.6 0l7.6 0l7.6 0l7.6 0l7.6 0l7.6 0l7.6 0l7.6 0l7.6 0l7.6 0l7.6 0l7.7 0l7.6 0l7.6 0l7.6 0l7.6 0l7.6 0l6.5 0" stroke="#ffbfbf" stroke-width="1.8" fill="none" stroke-linejoin="miter"/>
<path d="M131 1272.8l7.6-614.2l7.6 561.5l7.6 7.6l7.6-8.9l7.6-2.2l7.6-15.7l7.6-23.1l7.7-62.9l7.6-78.3l7.6 43.4l7.6 16.3l7.6 36.4l7.6 31.8l7.6 13.1l7.6 95.2l7.6 0l7.6 0l7.6 0l7.6 0l7.6 0l7.6 0l7.6 0l7.6 0l7.6 0l7.6 0l7.6 0l7.6 0l7.6 0l7.6 0l7.6 0l7.6 0l7.6 0l7.6 0l7.6 0l7.7 0l7.6 0l7.6 0l7.6 0l7.6 0l7.6 0l7.6 0l7.6 0l7.6 0l7.6 0l7.6 0l7.6 0l7.6 0l7.6 0l7.6 0l7.6 0l7.6 0l7.6 0l7.6 0l7.6 0l7.6 0l7.6 0l7.6 0l7.6 0l7.6 0l7.6 0l7.7 0l7.6 0l7.6 0l7.6 0l7.6 0l7.6 0l6.5 0" stroke="#ffbfbf" stroke-width="1.8" fill="none" stroke-linejoin="miter"/>
<path d="M131 1272.8l7.6-571.1l7.6 523.9l7.6-1.4l7.6-15.1l7.6 16.3l7.6-1.8l7.6-9.4l7.7-20.2l7.6-42.5l7.6-30.5l7.6-31.6l7.6 4.2l7.6 44l7.6-4.4l7.6 35.4l7.6 41l7.6 17.1l7.6 40.5l7.6 5.6l7.6 0l7.6 0l7.6 0l7.6 0l7.6-17l7.6 17l7.6 0l7.6 0l7.6 0l7.6 0l7.6 0l7.6-10.2l7.6 10.2l7.6 0l7.6 0l7.7 0l7.6 0l7.6 0l7.6 0l7.6 0l7.6 0l7.6 0l7.6 0l7.6 0l7.6 0l7.6 0l7.6 0l7.6 0l7.6 0l7.6 0l7.6 0l7.6 0l7.6 0l7.6 0l7.6 0l7.6 0l7.6 0l7.6 0l7.6 0l7.6 0l7.6 0l7.7 0l7.6 0l7.6 0l7.6 0l7.6 0l7.6 0l6.5 0" stroke="#ffbfbf" stroke-width="1.8" fill="none" stroke-linejoin="miter"/>
<path d="M131 1272.8l7.6-2114l7.6 2062.2l7.6-55.9l7.6-85.6l7.6 74.1l7.6-37.3l7.6-25l7.7-36.5l7.6-23.8l7.6 21.5l7.6 10.1l7.6 47l7.6 21l7.6 132.6l7.6-5.6l7.6-30.7l7.6 13.5l7.6 10.1l7.6 22.3l7.6 0l7.6 0l7.6 0l7.6 0l7.6 0l7.6 0l7.6 0l7.6 0l7.6 0l7.6 0l7.6 0l7.6 0l7.6 0l7.6 0l7.6 0l7.7 0l7.6 0l7.6 0l7.6 0l7.6 0l7.6 0l7.6 0l7.6 0l7.6 0l7.6 0l7.6 0l7.6 0l7.6 0l7.6 0l7.6 0l7.6 0l7.6 0l7.6 0l7.6 0l7.6 0l7.6 0l7.6 0l7.6 0l7.6 0l7.6 0l7.6 0l7.7 0l7.6 0l7.6 0l7.6 0l7.6 0l7.6 0l6.5 0" stroke="#ffbfbf" stroke-width="1.8" fill="none" stroke-linejoin="miter"/>
<path d="M131 1272.8l7.6-82l7.6 70.6l7.6-1.6l7.6-4.6l7.6-1.4l7.6-1.2l7.6-3.1l7.7-5.9l7.6-9.4l7.6-13.6l7.6 0.9l7.6-0.4l7.6-9.4l7.6-2.2l7.6-2.2l7.6-2.3l7.6-3.5l7.6-3.9l7.6-5.6l7.6-2.9l7.6-3.8l7.6 1.7l7.6-7.3l7.6-1.3l7.6-5.8l7.6 2.9l7.6 2.5l7.6-0.9l7.6 0l7.6-0.8l7.6-7.7l7.6 8.5l7.6 8.6l7.6-4.3l7.7 15.4l7.6-8.2l7.6 8.2l7.6 3.4l7.6 7.3l7.6-8.2l7.6 17l7.6-13.6l7.6 23l7.6-6.3l7.6 1.5l7.6 6.5l7.6 6.3l7.6 1.7l7.6 3.1l7.6-7.2l7.6 9.7l7.6 11.9l7.6-7.6l7.6 27.2l7.6-25l7.6 3.8l7.6 1.6l7.6 3.7l7.6-4.8l7.6 20.7l7.7-22.1l7.6 6.2l7.6 0l7.6-1.9l7.6 1.6l7.6-1.1l6.5 4.9" stroke="#000" stroke-width="2.5" fill="none" stroke-linejoin="miter" stroke-linecap="round" stroke-miterlimit="12"/>
<path d="M131 1272.8l7.6-1296.5l7.6 1248.2l7.6-5.3l7.6-15.7l7.6-10.2l7.6-8.2l7.6-13.9l7.7-23l7.6-35.7l7.6-7.7l7.6 22.1l7.6 22.1l7.6 29l7.6 26.7l7.6 7.4l7.6 12.8l7.6 5.1l7.6 5.9l7.6-2.2l7.6 2.2l7.6 11.9l7.6 9.4l7.6-12.8l7.6 6l7.6 2l7.6-2.9l7.6 11.9l7.6 11.4l7.6-17.3l7.6-0.8l7.6 9.3l7.6 8.8l7.6 0l7.6 0l7.7-7.9l7.6-2.6l7.6 10.5l7.6-11l7.6 5.6l7.6 5.4l7.6-6.7l7.6-2.6l7.6 4.7l7.6 4.6l7.6 0l7.6 0l7.6 0l7.6 0l7.6 0l7.6 0l7.6 0l7.6 0l7.6 0l7.6 0l7.6 0l7.6 0l7.6 0l7.6 0l7.6 0l7.6 0l7.7 0l7.6 0l7.6 0l7.6 0l7.6 0l7.6 0l6.5 0" stroke="#f53d3d" stroke-width="2.7" fill="none" stroke-linejoin="miter" stroke-linecap="round" stroke-miterlimit="12"/>
</g>
<line x1="127.8" y1="772.85" x2="127.8" y2="1277" stroke="#000" stroke-width="2"/>
<line x1="641" y1="772.85" x2="641" y2="1277" stroke="#000" stroke-width="2"/>
<line x1="126.8" y1="773.85" x2="642" y2="773.85" stroke="#000" stroke-width="2"/>
<line x1="126.8" y1="1276" x2="642" y2="1276" stroke="#000" stroke-width="2"/>
<line x1="111.3" y1="1272.75" x2="126.8" y2="1272.75" stroke="#000" stroke-width="2"/>
<line x1="642" y1="1272.75" x2="657.5" y2="1272.75" stroke="#000" stroke-width="2"/>
<text x="103.1" y="1285.25" font-size="36" text-anchor="end">0</text>
<line x1="119.2" y1="1256.23" x2="126.8" y2="1256.23" stroke="#000" stroke-width="2"/>
<line x1="642" y1="1256.23" x2="649.6" y2="1256.23" stroke="#000" stroke-width="2"/>
<line x1="119.2" y1="1239.72" x2="126.8" y2="1239.72" stroke="#000" stroke-width="2"/>
<line x1="642" y1="1239.72" x2="649.6" y2="1239.72" stroke="#000" stroke-width="2"/>
<line x1="119.2" y1="1223.2" x2="126.8" y2="1223.2" stroke="#000" stroke-width="2"/>
<line x1="642" y1="1223.2" x2="649.6" y2="1223.2" stroke="#000" stroke-width="2"/>
<line x1="119.2" y1="1206.69" x2="126.8" y2="1206.69" stroke="#000" stroke-width="2"/>
<line x1="642" y1="1206.69" x2="649.6" y2="1206.69" stroke="#000" stroke-width="2"/>
<line x1="111.3" y1="1190.17" x2="126.8" y2="1190.17" stroke="#000" stroke-width="2"/>
<line x1="642" y1="1190.17" x2="657.5" y2="1190.17" stroke="#000" stroke-width="2"/>
<text x="103.1" y="1202.67" font-size="36" text-anchor="end">10</text>
<line x1="119.2" y1="1173.66" x2="126.8" y2="1173.66" stroke="#000" stroke-width="2"/>
<line x1="642" y1="1173.66" x2="649.6" y2="1173.66" stroke="#000" stroke-width="2"/>
<line x1="119.2" y1="1157.14" x2="126.8" y2="1157.14" stroke="#000" stroke-width="2"/>
<line x1="642" y1="1157.14" x2="649.6" y2="1157.14" stroke="#000" stroke-width="2"/>
<line x1="119.2" y1="1140.63" x2="126.8" y2="1140.63" stroke="#000" stroke-width="2"/>
<line x1="642" y1="1140.63" x2="649.6" y2="1140.63" stroke="#000" stroke-width="2"/>
<line x1="119.2" y1="1124.11" x2="126.8" y2="1124.11" stroke="#000" stroke-width="2"/>
<line x1="642" y1="1124.11" x2="649.6" y2="1124.11" stroke="#000" stroke-width="2"/>
<line x1="111.3" y1="1107.59" x2="126.8" y2="1107.59" stroke="#000" stroke-width="2"/>
<line x1="642" y1="1107.59" x2="657.5" y2="1107.59" stroke="#000" stroke-width="2"/>
<text x="103.1" y="1120.09" font-size="36" text-anchor="end">20</text>
<line x1="119.2" y1="1091.08" x2="126.8" y2="1091.08" stroke="#000" stroke-width="2"/>
<line x1="642" y1="1091.08" x2="649.6" y2="1091.08" stroke="#000" stroke-width="2"/>
<line x1="119.2" y1="1074.56" x2="126.8" y2="1074.56" stroke="#000" stroke-width="2"/>
<line x1="642" y1="1074.56" x2="649.6" y2="1074.56" stroke="#000" stroke-width="2"/>
<line x1="119.2" y1="1058.05" x2="126.8" y2="1058.05" stroke="#000" stroke-width="2"/>
<line x1="642" y1="1058.05" x2="649.6" y2="1058.05" stroke="#000" stroke-width="2"/>
<line x1="119.2" y1="1041.53" x2="126.8" y2="1041.53" stroke="#000" stroke-width="2"/>
<line x1="642" y1="1041.53" x2="649.6" y2="1041.53" stroke="#000" stroke-width="2"/>
<line x1="111.3" y1="1025.02" x2="126.8" y2="1025.02" stroke="#000" stroke-width="2"/>
<line x1="642" y1="1025.02" x2="657.5" y2="1025.02" stroke="#000" stroke-width="2"/>
<text x="103.1" y="1037.52" font-size="36" text-anchor="end">30</text>
<line x1="119.2" y1="1008.5" x2="126.8" y2="1008.5" stroke="#000" stroke-width="2"/>
<line x1="642" y1="1008.5" x2="649.6" y2="1008.5" stroke="#000" stroke-width="2"/>
<line x1="119.2" y1="991.98" x2="126.8" y2="991.98" stroke="#000" stroke-width="2"/>
<line x1="642" y1="991.98" x2="649.6" y2="991.98" stroke="#000" stroke-width="2"/>
<line x1="119.2" y1="975.47" x2="126.8" y2="975.47" stroke="#000" stroke-width="2"/>
<line x1="642" y1="975.47" x2="649.6" y2="975.47" stroke="#000" stroke-width="2"/>
<line x1="119.2" y1="958.95" x2="126.8" y2="958.95" stroke="#000" stroke-width="2"/>
<line x1="642" y1="958.95" x2="649.6" y2="958.95" stroke="#000" stroke-width="2"/>
<line x1="111.3" y1="942.44" x2="126.8" y2="942.44" stroke="#000" stroke-width="2"/>
<line x1="642" y1="942.44" x2="657.5" y2="942.44" stroke="#000" stroke-width="2"/>
<text x="103.1" y="954.94" font-size="36" text-anchor="end">40</text>
<line x1="119.2" y1="925.92" x2="126.8" y2="925.92" stroke="#000" stroke-width="2"/>
<line x1="642" y1="925.92" x2="649.6" y2="925.92" stroke="#000" stroke-width="2"/>
<line x1="119.2" y1="909.41" x2="126.8" y2="909.41" stroke="#000" stroke-width="2"/>
<line x1="642" y1="909.41" x2="649.6" y2="909.41" stroke="#000" stroke-width="2"/>
<line x1="119.2" y1="892.89" x2="126.8" y2="892.89" stroke="#000" stroke-width="2"/>
<line x1="642" y1="892.89" x2="649.6" y2="892.89" stroke="#000" stroke-width="2"/>
<line x1="119.2" y1="876.38" x2="126.8" y2="876.38" stroke="#000" stroke-width="2"/>
<line x1="642" y1="876.38" x2="649.6" y2="876.38" stroke="#000" stroke-width="2"/>
<line x1="111.3" y1="859.86" x2="126.8" y2="859.86" stroke="#000" stroke-width="2"/>
<line x1="642" y1="859.86" x2="657.5" y2="859.86" stroke="#000" stroke-width="2"/>
<text x="103.1" y="872.36" font-size="36" text-anchor="end">50</text>
<line x1="119.2" y1="843.34" x2="126.8" y2="843.34" stroke="#000" stroke-width="2"/>
<line x1="642" y1="843.34" x2="649.6" y2="843.34" stroke="#000" stroke-width="2"/>
<line x1="119.2" y1="826.83" x2="126.8" y2="826.83" stroke="#000" stroke-width="2"/>
<line x1="642" y1="826.83" x2="649.6" y2="826.83" stroke="#000" stroke-width="2"/>
<line x1="119.2" y1="810.31" x2="126.8" y2="810.31" stroke="#000" stroke-width="2"/>
<line x1="642" y1="810.31" x2="649.6" y2="810.31" stroke="#000" stroke-width="2"/>
<line x1="119.2" y1="793.8" x2="126.8" y2="793.8" stroke="#000" stroke-width="2"/>
<line x1="642" y1="793.8" x2="649.6" y2="793.8" stroke="#000" stroke-width="2"/>
<line x1="111.3" y1="777.28" x2="126.8" y2="777.28" stroke="#000" stroke-width="2"/>
<line x1="642" y1="777.28" x2="657.5" y2="777.28" stroke="#000" stroke-width="2"/>
<text x="103.1" y="789.78" font-size="36" text-anchor="end">60</text>
<line x1="131.02" y1="758.15" x2="131.02" y2="772.85" stroke="#000" stroke-width="2"/>
<line x1="131.02" y1="1277" x2="131.02" y2="1293.2" stroke="#000" stroke-width="2"/>
<text x="131.22" y="1333.5" font-size="36" text-anchor="middle" letter-spacing="-0.4">0.00</text>
<line x1="156.37" y1="766.05" x2="156.37" y2="772.85" stroke="#000" stroke-width="2"/>
<line x1="156.37" y1="1277" x2="156.37" y2="1285.3" stroke="#000" stroke-width="2"/>
<line x1="181.71" y1="766.05" x2="181.71" y2="772.85" stroke="#000" stroke-width="2"/>
<line x1="181.71" y1="1277" x2="181.71" y2="1285.3" stroke="#000" stroke-width="2"/>
<line x1="207.06" y1="766.05" x2="207.06" y2="772.85" stroke="#000" stroke-width="2"/>
<line x1="207.06" y1="1277" x2="207.06" y2="1285.3" stroke="#000" stroke-width="2"/>
<line x1="232.4" y1="766.05" x2="232.4" y2="772.85" stroke="#000" stroke-width="2"/>
<line x1="232.4" y1="1277" x2="232.4" y2="1285.3" stroke="#000" stroke-width="2"/>
<line x1="257.75" y1="758.15" x2="257.75" y2="772.85" stroke="#000" stroke-width="2"/>
<line x1="257.75" y1="1277" x2="257.75" y2="1293.2" stroke="#000" stroke-width="2"/>
<text x="257.95" y="1333.5" font-size="36" text-anchor="middle" letter-spacing="-0.4">0.05</text>
<line x1="283.1" y1="766.05" x2="283.1" y2="772.85" stroke="#000" stroke-width="2"/>
<line x1="283.1" y1="1277" x2="283.1" y2="1285.3" stroke="#000" stroke-width="2"/>
<line x1="308.44" y1="766.05" x2="308.44" y2="772.85" stroke="#000" stroke-width="2"/>
<line x1="308.44" y1="1277" x2="308.44" y2="1285.3" stroke="#000" stroke-width="2"/>
<line x1="333.79" y1="766.05" x2="333.79" y2="772.85" stroke="#000" stroke-width="2"/>
<line x1="333.79" y1="1277" x2="333.79" y2="1285.3" stroke="#000" stroke-width="2"/>
<line x1="359.13" y1="766.05" x2="359.13" y2="772.85" stroke="#000" stroke-width="2"/>
<line x1="359.13" y1="1277" x2="359.13" y2="1285.3" stroke="#000" stroke-width="2"/>
<line x1="384.48" y1="758.15" x2="384.48" y2="772.85" stroke="#000" stroke-width="2"/>
<line x1="384.48" y1="1277" x2="384.48" y2="1293.2" stroke="#000" stroke-width="2"/>
<text x="384.68" y="1333.5" font-size="36" text-anchor="middle" letter-spacing="-0.4">0.10</text>
<line x1="409.83" y1="766.05" x2="409.83" y2="772.85" stroke="#000" stroke-width="2"/>
<line x1="409.83" y1="1277" x2="409.83" y2="1285.3" stroke="#000" stroke-width="2"/>
<line x1="435.17" y1="766.05" x2="435.17" y2="772.85" stroke="#000" stroke-width="2"/>
<line x1="435.17" y1="1277" x2="435.17" y2="1285.3" stroke="#000" stroke-width="2"/>
<line x1="460.52" y1="766.05" x2="460.52" y2="772.85" stroke="#000" stroke-width="2"/>
<line x1="460.52" y1="1277" x2="460.52" y2="1285.3" stroke="#000" stroke-width="2"/>
<line x1="485.86" y1="766.05" x2="485.86" y2="772.85" stroke="#000" stroke-width="2"/>
<line x1="485.86" y1="1277" x2="485.86" y2="1285.3" stroke="#000" stroke-width="2"/>
<line x1="511.21" y1="758.15" x2="511.21" y2="772.85" stroke="#000" stroke-width="2"/>
<line x1="511.21" y1="1277" x2="511.21" y2="1293.2" stroke="#000" stroke-width="2"/>
<text x="511.41" y="1333.5" font-size="36" text-anchor="middle" letter-spacing="-0.4">0.15</text>
<line x1="536.56" y1="766.05" x2="536.56" y2="772.85" stroke="#000" stroke-width="2"/>
<line x1="536.56" y1="1277" x2="536.56" y2="1285.3" stroke="#000" stroke-width="2"/>
<line x1="561.9" y1="766.05" x2="561.9" y2="772.85" stroke="#000" stroke-width="2"/>
<line x1="561.9" y1="1277" x2="561.9" y2="1285.3" stroke="#000" stroke-width="2"/>
<line x1="587.25" y1="766.05" x2="587.25" y2="772.85" stroke="#000" stroke-width="2"/>
<line x1="587.25" y1="1277" x2="587.25" y2="1285.3" stroke="#000" stroke-width="2"/>
<line x1="612.59" y1="766.05" x2="612.59" y2="772.85" stroke="#000" stroke-width="2"/>
<line x1="612.59" y1="1277" x2="612.59" y2="1285.3" stroke="#000" stroke-width="2"/>
<line x1="637.94" y1="758.15" x2="637.94" y2="772.85" stroke="#000" stroke-width="2"/>
<line x1="637.94" y1="1277" x2="637.94" y2="1293.2" stroke="#000" stroke-width="2"/>
<text x="638.14" y="1333.5" font-size="36" text-anchor="middle" letter-spacing="-0.4">0.20</text>
<text font-size="36" transform="translate(32.4 1188.9) rotate(-90)" xml:space="preserve"><tspan>Normalized d</tspan><tspan font-style="italic">N</tspan><tspan>/dSS</tspan><tspan font-size="24.3" dy="10.98">c</tspan></text>
<text x="323.4" y="1381.8" font-size="36" xml:space="preserve"><tspan font-style="italic">SS</tspan><tspan font-size="24.3" dy="10.98">c</tspan><tspan dy="-10.98"> [%]</tspan></text>
<text x="-1" y="751.4" font-size="50" font-weight="bold">(c)</text>
<text x="173.2" y="834" font-size="32.7">Tokyo</text>
<line x1="178.6" y1="860" x2="237.2" y2="860" stroke="#000" stroke-width="2.4" stroke-linecap="round"/>
<text x="250.5" y="869.7" font-size="31.5" xml:space="preserve"><tspan font-style="italic">D</tspan><tspan font-size="21.26" dy="9.61">tr</tspan><tspan dy="-9.61"> = 200 nm</tspan></text>
<line x1="178.6" y1="903.6" x2="237.2" y2="903.6" stroke="#f53d3d" stroke-width="2.4" stroke-linecap="round"/>
<text x="250.5" y="913.3" font-size="31.5" xml:space="preserve"><tspan font-style="italic">D</tspan><tspan font-size="21.26" dy="9.61">tr</tspan><tspan dy="-9.61"> = </tspan><tspan font-style="italic">D</tspan><tspan font-size="21.26" dy="9.61">std</tspan></text>
</g>
<g id="d">
<clipPath id="clipd"><rect x="910.4" y="776.74" width="513.49" height="498.2"/></clipPath>
<g clip-path="url(#clipd)">
<path d="M912.7 1273.3l7.6-1582.9l7.7 1563.2l7.6-2.3l7.7-38.5l7.6 13.3l7.7 5.2l7.6 1l7.7 2l7.6 6.8l7.7-37.8l7.6 3.4l7.7 40l7.6-20l7.7 12.9l7.6-14.3l7.7 48l7.6 0l7.6 0l7.7 0l7.6 0l7.7 0l7.6 0l7.7-23.2l7.6 23.2l7.7 0l7.6 0l7.7 0l7.6 0l7.7 0l7.6 0l7.7 0l7.6 0l7.7-11.3l7.6 2.7l7.7 8.6l7.6-10.8l7.7 10.8l7.6 0l7.7 0l7.6 0l7.7 0l7.6 0l7.7 0l7.6 0l7.7 0l7.6 0l7.7 0l7.6 0l7.7 0l7.6 0l7.7 0l7.6 0l7.7 0l7.6 0l7.7 0l7.6 0l7.7 0l7.6 0l7.6 0l7.7 0l7.6 0l7.7 0l7.6 0l7.7 0l7.6 0l7.7 0l6.6 0" stroke="#ffbfbf" stroke-width="2.1" fill="none" stroke-linejoin="miter"/>
<path d="M912.7 1273.3l7.6-1863.2l7.7 1815.7l7.6-27.8l7.7-11.5l7.6 4.6l7.7-3.2l7.6-56.1l7.7 9.4l7.6-28.9l7.7-4.1l7.6 54.5l7.7-0.8l7.6-1.2l7.7 48l7.6 34.4l7.7-15.9l7.6 13.8l7.6 9.5l7.7 22.8l7.6 0l7.7 0l7.6-15.4l7.7 15.4l7.6 0l7.7 0l7.6-17.6l7.7 2.7l7.6 14.9l7.7 0l7.6 0l7.7 0l7.6 0l7.7 0l7.6 0l7.7 0l7.6-9.4l7.7 9.4l7.6 0l7.7 0l7.6 0l7.7 0l7.6 0l7.7 0l7.6 0l7.7 0l7.6 0l7.7 0l7.6 0l7.7 0l7.6 0l7.7 0l7.6 0l7.7 0l7.6 0l7.7 0l7.6 0l7.7 0l7.6 0l7.6 0l7.7 0l7.6 0l7.7 0l7.6 0l7.7 0l7.6 0l7.7 0l6.6 0" stroke="#ffbfbf" stroke-width="2.1" fill="none" stroke-linejoin="miter"/>
<path d="M912.7 1273.3l7.6-2232.4l7.7 2219.2l7.6-6.6l7.7-8.2l7.6 8.2l7.7-25.4l7.6 1.1l7.7 17.7l7.6-57.2l7.7 36.8l7.6 11.3l7.7 9.1l7.6-35.3l7.7 29l7.6-15.7l7.7 48.4l7.6 0l7.6 0l7.7 0l7.6 0l7.7-19.8l7.6 5.8l7.7 14l7.6 0l7.7 0l7.6 0l7.7 0l7.6 0l7.7-12.1l7.6 12.1l7.7 0l7.6 0l7.7-12l7.6 12l7.7 0l7.6 0l7.7 0l7.6 0l7.7 0l7.6 0l7.7 0l7.6 0l7.7 0l7.6 0l7.7 0l7.6 0l7.7 0l7.6 0l7.7 0l7.6 0l7.7 0l7.6 0l7.7 0l7.6 0l7.7 0l7.6 0l7.7 0l7.6 0l7.6 0l7.7 0l7.6 0l7.7 0l7.6 0l7.7 0l7.6 0l7.7 0l6.6 0" stroke="#ffbfbf" stroke-width="2.1" fill="none" stroke-linejoin="miter"/>
<path d="M912.7 1273.3l7.6-1678l7.7 1641.3l7.6-34.3l7.7-21l7.6 43.2l7.7-53.8l7.6-59l7.7 76.3l7.6-75.7l7.7 77.5l7.6 17.8l7.7-60.2l7.6 2.1l7.7 85.3l7.6 18.1l7.7 20.4l7.6 0l7.6 0l7.7 0l7.6 0l7.7 0l7.6-27.1l7.7 27.1l7.6 0l7.7-18.5l7.6-4.7l7.7 23.2l7.6 0l7.7 0l7.6-7l7.7 7l7.6 0l7.7 0l7.6 0l7.7-14.2l7.6 5.7l7.7 8.5l7.6 0l7.7 0l7.6 0l7.7 0l7.6 0l7.7 0l7.6 0l7.7 0l7.6 0l7.7 0l7.6 0l7.7 0l7.6 0l7.7 0l7.6 0l7.7 0l7.6 0l7.7 0l7.6 0l7.7 0l7.6 0l7.6 0l7.7 0l7.6 0l7.7 0l7.6 0l7.7 0l7.6 0l7.7 0l6.6 0" stroke="#ffbfbf" stroke-width="2.1" fill="none" stroke-linejoin="miter"/>
<path d="M912.7 1273.3l7.6-1872.9l7.7 1837.2l7.6 12.7l7.7-43.2l7.6 5.4l7.7 25.9l7.6-2.4l7.7-34.5l7.6 39.6l7.7-0.8l7.6 6.3l7.7-26.5l7.6-12.6l7.7 46.9l7.6-0.8l7.7 19.7l7.6 0l7.6 0l7.7 0l7.6-21.1l7.7 21.1l7.6 0l7.7-21.4l7.6 21.4l7.7 0l7.6-15.3l7.7 15.3l7.6 0l7.7 0l7.6-9.9l7.7 9.9l7.6-11.1l7.7 11.1l7.6 0l7.7 0l7.6 0l7.7 0l7.6 0l7.7 0l7.6 0l7.7 0l7.6 0l7.7 0l7.6 0l7.7 0l7.6 0l7.7 0l7.6 0l7.7 0l7.6 0l7.7 0l7.6 0l7.7 0l7.6 0l7.7 0l7.6 0l7.7 0l7.6 0l7.6 0l7.7 0l7.6 0l7.7 0l7.6 0l7.7 0l7.6 0l7.7 0l6.6 0" stroke="#ffbfbf" stroke-width="2.1" fill="none" stroke-linejoin="miter"/>
<path d="M912.7 1273.3l7.6-2214.1l7.7 2182.8l7.6-21.6l7.7-14.5l7.6 45.9l7.7-39.4l7.6-54.2l7.7 18.4l7.6 64.5l7.7-16.2l7.6 6.7l7.7 15.3l7.6 26.4l7.7 0l7.6 0l7.7 0l7.6 0l7.6 0l7.7 0l7.6-27.7l7.7 27.7l7.6 0l7.7 0l7.6 0l7.7 0l7.6 0l7.7 0l7.6-12.6l7.7 12.6l7.6 0l7.7 0l7.6 0l7.7-13.3l7.6 13.3l7.7 0l7.6 0l7.7 0l7.6 0l7.7 0l7.6 0l7.7 0l7.6 0l7.7 0l7.6 0l7.7 0l7.6 0l7.7 0l7.6 0l7.7 0l7.6 0l7.7 0l7.6 0l7.7 0l7.6 0l7.7 0l7.6 0l7.7 0l7.6 0l7.6 0l7.7 0l7.6 0l7.7 0l7.6 0l7.7 0l7.6 0l7.7 0l6.6 0" stroke="#ffbfbf" stroke-width="2.1" fill="none" stroke-linejoin="miter"/>
<path d="M912.7 1273.3l7.6-1652.5l7.7 1588.9l7.6-8.9l7.7-67.8l7.6 64.3l7.7 21.7l7.6-103.3l7.7 37.5l7.6-11.4l7.7 28.2l7.6 29.6l7.7 14.4l7.6-48.3l7.7 70l7.6 37.6l7.7 0l7.6 0l7.6-17.2l7.7 17.2l7.6 0l7.7-27.8l7.6 27.8l7.7 0l7.6 0l7.7-12.9l7.6 12.9l7.7 0l7.6 0l7.7 0l7.6 0l7.7-10.5l7.6 10.5l7.7 0l7.6 0l7.7 0l7.6-14l7.7 14l7.6 0l7.7 0l7.6 0l7.7 0l7.6 0l7.7 0l7.6 0l7.7 0l7.6 0l7.7 0l7.6 0l7.7 0l7.6 0l7.7 0l7.6 0l7.7 0l7.6 0l7.7 0l7.6 0l7.7 0l7.6 0l7.6 0l7.7 0l7.6 0l7.7 0l7.6 0l7.7 0l7.6 0l7.7 0l6.6 0" stroke="#ffbfbf" stroke-width="2.1" fill="none" stroke-linejoin="miter"/>
<path d="M912.7 1273.3l7.6-2140l7.7 2126.8l7.6-6.6l7.7-23.5l7.6-25.6l7.7 17.6l7.6 16.7l7.7 8.2l7.6-98.3l7.7 46.9l7.6-18l7.7 2.2l7.6 57.6l7.7-1.6l7.6 14.8l7.7 22.8l7.6 0l7.6 0l7.7-25.9l7.6 25.9l7.7 0l7.6 0l7.7-19.5l7.6 19.5l7.7-14.7l7.6 14.7l7.7-12.2l7.6-6l7.7 18.2l7.6 0l7.7 0l7.6 0l7.7 0l7.6 0l7.7 0l7.6 0l7.7 0l7.6 0l7.7 0l7.6 0l7.7 0l7.6 0l7.7 0l7.6 0l7.7 0l7.6 0l7.7 0l7.6 0l7.7 0l7.6 0l7.7 0l7.6 0l7.7 0l7.6 0l7.7 0l7.6 0l7.7 0l7.6 0l7.6 0l7.7 0l7.6 0l7.7 0l7.6 0l7.7 0l7.6 0l7.7 0l6.6 0" stroke="#ffbfbf" stroke-width="2.1" fill="none" stroke-linejoin="miter"/>
<path d="M912.7 1273.3l7.6-1785.4l7.7 1755.3l7.6-41.7l7.7 2.1l7.6 16.4l7.7-12.4l7.6 20l7.7-36.1l7.6 24.8l7.7-45.8l7.6 70.7l7.7 5.7l7.6-11.3l7.7 22.9l7.6-24.6l7.7-5l7.6 44.4l7.6 0l7.7 0l7.6 0l7.7 0l7.6 0l7.7 0l7.6 0l7.7 0l7.6 0l7.7-15.6l7.6 4.5l7.7 11.1l7.6-10.7l7.7 10.7l7.6 0l7.7 0l7.6 0l7.7 0l7.6 0l7.7 0l7.6 0l7.7 0l7.6 0l7.7 0l7.6 0l7.7 0l7.6 0l7.7 0l7.6 0l7.7 0l7.6 0l7.7 0l7.6 0l7.7 0l7.6 0l7.7 0l7.6 0l7.7 0l7.6 0l7.7 0l7.6 0l7.6 0l7.7 0l7.6 0l7.7 0l7.6 0l7.7 0l7.6 0l7.7 0l6.6 0" stroke="#ffbfbf" stroke-width="2.1" fill="none" stroke-linejoin="miter"/>
<path d="M912.7 1273.3l7.6-2233.1l7.7 2215.7l7.6-32.3l7.7 5.1l7.6 24.8l7.7-37.8l7.6-28.3l7.7 59.5l7.6-42.3l7.7-45.7l7.6 72.3l7.7-27.2l7.6 17l7.7 52.3l7.6 0l7.7 0l7.6 0l7.6 0l7.7 0l7.6 0l7.7 0l7.6 0l7.7-23.8l7.6 0.3l7.7 23.5l7.6 0l7.7-11.1l7.6 11.1l7.7 0l7.6-7.3l7.7 7.3l7.6 0l7.7 0l7.6 0l7.7 0l7.6 0l7.7-10.9l7.6 10.9l7.7 0l7.6 0l7.7 0l7.6 0l7.7 0l7.6 0l7.7 0l7.6 0l7.7 0l7.6 0l7.7 0l7.6 0l7.7 0l7.6 0l7.7 0l7.6 0l7.7 0l7.6 0l7.7 0l7.6 0l7.6 0l7.7 0l7.6 0l7.7 0l7.6 0l7.7 0l7.6 0l7.7 0l6.6 0" stroke="#ffbfbf" stroke-width="2.1" fill="none" stroke-linejoin="miter"/>
<path d="M912.7 1273.3l7.6-1951.3l7.7 1938.1l7.6-27.5l7.7 12.7l7.6 8.2l7.7-1.6l7.6-31.5l7.7 20.9l7.6-22.9l7.7-11l7.6 23.9l7.7 4.6l7.6-68.4l7.7 79.3l7.6-2.7l7.7 29.2l7.6-29l7.6-1.8l7.7 8.5l7.6-1.7l7.7 24l7.6-21.5l7.7 21.5l7.6 0l7.7 0l7.6 0l7.7 0l7.6 0l7.7 0l7.6 0l7.7-8.6l7.6-2.7l7.7 11.3l7.6 0l7.7-8.5l7.6 8.5l7.7 0l7.6 0l7.7 0l7.6 0l7.7 0l7.6 0l7.7 0l7.6 0l7.7 0l7.6 0l7.7 0l7.6 0l7.7 0l7.6 0l7.7 0l7.6 0l7.7 0l7.6 0l7.7 0l7.6 0l7.7 0l7.6 0l7.6 0l7.7 0l7.6 0l7.7 0l7.6 0l7.7 0l7.6 0l7.7 0l6.6 0" stroke="#ffbfbf" stroke-width="2.1" fill="none" stroke-linejoin="miter"/>
<path d="M912.7 1273.3l7.6-2472.7l7.7 2424.5l7.6-26.5l7.7-65.6l7.6 46.5l7.7-13.5l7.6-26.5l7.7 44.2l7.6 4.4l7.7-9.6l7.6-20.8l7.7 1l7.6 27.4l7.7 27.4l7.6 18.7l7.7-2.3l7.6 43.4l7.6 0l7.7-23.3l7.6 8.5l7.7-0.3l7.6 15.1l7.7 0l7.6 0l7.7 0l7.6 0l7.7-21.6l7.6 11.3l7.7 10.3l7.6 0l7.7 0l7.6-7.6l7.7 7.6l7.6 0l7.7 0l7.6 0l7.7 0l7.6 0l7.7 0l7.6 0l7.7 0l7.6 0l7.7 0l7.6 0l7.7 0l7.6 0l7.7 0l7.6 0l7.7 0l7.6 0l7.7 0l7.6 0l7.7 0l7.6 0l7.7 0l7.6 0l7.7 0l7.6 0l7.6 0l7.7 0l7.6 0l7.7 0l7.6 0l7.7 0l7.6 0l7.7 0l6.6 0" stroke="#ffbfbf" stroke-width="2.1" fill="none" stroke-linejoin="miter"/>
<path d="M912.7 1273.3l7.6-43.8l7.7 36.9l7.6-3.3l7.7-0.1l7.6 6.5l7.7-19l7.6-12l7.7 3.1l7.6-61.9l7.7-44.3l7.6 16.6l7.7-48.5l7.6-51.9l7.7 4l7.6-21.1l7.7 16.2l7.6 42.4l7.6 16.1l7.7 1.3l7.6 19.5l7.7 15.9l7.6-2.6l7.7 22.8l7.6 16l7.7 15.9l7.6 4.5l7.7 70.8l7.6-86.3l7.7 7.6l7.6 31.8l7.7 7.7l7.6-22.1l7.7 61.3l7.6-32.7l7.7 0.6l7.6 4.7l7.7 27.4l7.6 0l7.7 0l7.6 0l7.7-22.8l7.6 3.5l7.7-6.1l7.6 25.4l7.7 0l7.6-15l7.7-5.4l7.6 20.4l7.7-13.2l7.6 13.2l7.7 0l7.6-11.6l7.7 11.6l7.6-15.4l7.7-2.1l7.6 13.7l7.7-3.8l7.6 7.6l7.6 0l7.7 0l7.6-10.8l7.7 2l7.6 8.8l7.7 0l7.6-12.1l7.7 12.1l6.6 0" stroke="#cccccc" stroke-width="2.1" fill="none" stroke-linejoin="miter"/>
<path d="M912.7 1273.3l7.6-157.6l7.7 148.9l7.6-3.1l7.7 2.3l7.6-2.4l7.7-8.4l7.6-28.1l7.7 26.3l7.6-61.7l7.7-46.3l7.6 17.4l7.7-36.1l7.6-21.3l7.7-53.5l7.6-51l7.7 67.5l7.6 25.9l7.6 7.7l7.7 11.7l7.6 24l7.7 6.8l7.6 21.9l7.7-0.7l7.6 24.2l7.7 4.7l7.6 3l7.7 3.4l7.6-12.2l7.7 22.7l7.6 21.7l7.7-19.2l7.6 3.2l7.7 58.3l7.6 0l7.7 0l7.6-29.2l7.7 29.2l7.6 0l7.7-21l7.6 21l7.7-21.6l7.6 21.6l7.7-16.5l7.6 16.5l7.7-8.5l7.6 3.3l7.7-14.9l7.6 4.4l7.7 4.4l7.6 11.3l7.7 0l7.6-21.5l7.7 21.5l7.6-12.7l7.7 2.3l7.6 10.4l7.7-3.6l7.6 3.6l7.6-12.8l7.7 12.8l7.6 0l7.7-8.6l7.6 3l7.7 5.6l7.6 0l7.7-9.1l6.6 9.1" stroke="#cccccc" stroke-width="2.1" fill="none" stroke-linejoin="miter"/>
<path d="M912.7 1273.3l7.6-223.9l7.7 215.7l7.6-6.6l7.7 5.9l7.6-5.2l7.7-0.4l7.6 3.9l7.7-38l7.6-22.2l7.7-38.6l7.6-4.6l7.7-4l7.6-63.6l7.7-5.6l7.6-32.1l7.7 13.8l7.6 11.6l7.6 29l7.7 17.5l7.6 8.1l7.7 7.4l7.6 32.9l7.7-7.5l7.6 19.6l7.7 8.6l7.6 13.3l7.7 8.2l7.6-15.9l7.7 2l7.6 17.7l7.7 4.8l7.6 48.2l7.7-48.4l7.6 48.4l7.7-25l7.6 25l7.7-32.3l7.6 9.1l7.7 2.5l7.6 0.8l7.7 19.9l7.6-13.4l7.7 13.4l7.6-11.3l7.7 11.3l7.6 0l7.7-17.9l7.6 17.9l7.7 0l7.6-6.6l7.7 6.6l7.6-15.1l7.7-0.3l7.6 15.4l7.7-6.4l7.6-8.1l7.7 6.6l7.6 2l7.6-9.6l7.7 15.5l7.6 0l7.7 0l7.6 0l7.7-5.7l7.6-0.8l7.7 6.5l6.6-7.4" stroke="#cccccc" stroke-width="2.1" fill="none" stroke-linejoin="miter"/>
<path d="M912.7 1273.3l7.6-49.3l7.7 42.9l7.6 0.3l7.7-8.9l7.6-1.3l7.7 5.1l7.6-30l7.7-13.3l7.6 0.3l7.7-24l7.6-12.6l7.7-11.2l7.6-27.7l7.7-47.1l7.6-7.8l7.7-2l7.6-25.2l7.6 53.2l7.7-4.3l7.6 29.2l7.7 10.2l7.6 9.3l7.7 27.6l7.6-2.6l7.7 12.9l7.6 10.7l7.7-32l7.6 97.6l7.7-65.4l7.6 12.7l7.7 52.7l7.6-49.1l7.7 5.1l7.6 44l7.7-28.3l7.6-0.7l7.7 4.2l7.6 24.8l7.7 0l7.6 0l7.7-14l7.6 14l7.7-13.5l7.6 13.5l7.7 0l7.6-8.1l7.7 8.1l7.6 0l7.7-14.1l7.6 14.1l7.7 0l7.6-16.7l7.7 4.2l7.6 12.5l7.7-5.8l7.6-3.4l7.7 9.2l7.6 0l7.6 0l7.7 0l7.6 0l7.7 0l7.6-6.5l7.7 6.5l7.6 0l7.7 0l6.6-16.3" stroke="#cccccc" stroke-width="2.1" fill="none" stroke-linejoin="miter"/>
<path d="M912.7 1273.3l7.6-219.9l7.7 209.2l7.6 4.2l7.7-8.3l7.6 8.9l7.7 0.1l7.6-26.3l7.7 3.4l7.6-18.4l7.7-24.6l7.6-18.7l7.7-17l7.6-11.4l7.7-43.8l7.6-28l7.7-10.3l7.6 10.9l7.6 3.4l7.7 37.4l7.6-5.5l7.7 23l7.6-0.3l7.7 32.9l7.6 1.7l7.7 14.3l7.6 8l7.7-38.2l7.6 69.6l7.7-31.1l7.6 25.9l7.7 48.9l7.6 0l7.7-45.6l7.6-6.4l7.7 52l7.6-37l7.7 37l7.6-14.9l7.7 14.9l7.6-19.9l7.7 6.8l7.6 13.1l7.7 0l7.6-17.7l7.7 5.3l7.6 12.4l7.7-12.1l7.6-11.9l7.7 5.5l7.6 4.9l7.7 13.6l7.6-5.9l7.7-9.3l7.6 15.2l7.7-15.2l7.6 8.8l7.7 6.4l7.6 0l7.6-8.8l7.7 8.8l7.6-10.9l7.7 10.9l7.6-6.5l7.7 3.1l7.6-3.5l7.7 6.9l6.6-10.7" stroke="#cccccc" stroke-width="2.1" fill="none" stroke-linejoin="miter"/>
<path d="M912.7 1273.3l7.6-159.2l7.7 152.9l7.6-6.1l7.7-1.6l7.6-6.2l7.7 0.8l7.6-18.1l7.7 21l7.6-28.8l7.7-6.9l7.6-26.2l7.7-13.1l7.6-21.9l7.7-14.9l7.6-33.1l7.7-24l7.6-23.2l7.6 38.5l7.7 18.2l7.6 16.3l7.7 25.5l7.6 4l7.7 4.1l7.6 11.5l7.7 13.4l7.6 9.2l7.7-31.3l7.6 42.3l7.7 56.9l7.6-74.3l7.7 30.4l7.6 43.9l7.7 0l7.6 0l7.7 0l7.6-37.2l7.7 1l7.6 36.2l7.7 0l7.6-20l7.7 20l7.6-17.9l7.7 17.9l7.6 0l7.7-15.2l7.6 4.9l7.7 4.5l7.6 5.8l7.7 0l7.6-15.1l7.7 3.7l7.6 11.4l7.7-15.4l7.6 1l7.7 14.4l7.6 0l7.7 0l7.6-12.8l7.6 10.4l7.7 2.4l7.6 0l7.7 0l7.6 0l7.7 0l7.6 0l7.7 0l6.6-8.4" stroke="#cccccc" stroke-width="2.1" fill="none" stroke-linejoin="miter"/>
<path d="M912.7 1273.3l7.6-271l7.7 265.6l7.6 2.3l7.7-12.4l7.6-3.4l7.7 11.3l7.6-20.1l7.7-3.3l7.6-8.2l7.7-10.7l7.6-34.3l7.7-15.2l7.6-6.8l7.7 4l7.6-57.3l7.7-16.6l7.6 1.9l7.6-11.1l7.7 8.2l7.6 22.3l7.7 39.1l7.6-8.6l7.7 23.3l7.6-0.2l7.7 12.9l7.6 18.8l7.7-12.5l7.6 13l7.7 2.7l7.6 66.3l7.7-59.8l7.6 9l7.7 50.8l7.6-32.7l7.7 3.7l7.6 29l7.7 0l7.6 0l7.7-25.7l7.6 4.4l7.7 21.3l7.6-17.8l7.7 17.8l7.6 0l7.7 0l7.6 0l7.7-8.4l7.6-0.4l7.7-8.3l7.6 6.7l7.7 10.4l7.6-6.2l7.7-4.8l7.6 2.5l7.7 8.5l7.6 0l7.7-10.1l7.6-3.5l7.6 13.6l7.7 0l7.6 0l7.7 0l7.6-17l7.7 8l7.6 6.4l7.7-9.2l6.6 3.6" stroke="#cccccc" stroke-width="2.1" fill="none" stroke-linejoin="miter"/>
<path d="M912.7 1273.3l7.6-220.4l7.7 208.6l7.6 7.7l7.7-7.1l7.6 1.3l7.7-13.7l7.6-13l7.7 19.1l7.6-43.8l7.7-21.5l7.6-6.9l7.7-10.6l7.6-36.8l7.7-10l7.6-30.1l7.7 1.8l7.6 22.8l7.6 1.1l7.7 19.2l7.6 18.6l7.7 10.1l7.6 10.5l7.7 9l7.6 7.8l7.7 5.7l7.6 13l7.7-3.4l7.6 20.3l7.7-26.1l7.6 19.4l7.7 47.4l7.6 0l7.7-39.5l7.6 39.5l7.7 0l7.6 0l7.7 0l7.6-21.9l7.7 21.9l7.6 0l7.7 0l7.6 0l7.7-8.4l7.6 8.4l7.7-7.4l7.6-4.3l7.7 11.7l7.6-14l7.7 14l7.6-5l7.7 5l7.6 0l7.7-10.6l7.6-2l7.7 5.1l7.6-2.1l7.7 9.6l7.6 0l7.6-14.9l7.7 6.1l7.6 8.8l7.7 0l7.6 0l7.7 0l7.6 0l7.7-6.6l6.6-6.8" stroke="#cccccc" stroke-width="2.1" fill="none" stroke-linejoin="miter"/>
<path d="M912.7 1273.3l7.6-111l7.7 103.6l7.6 3.5l7.7-4.6l7.6-1.9l7.7-9.9l7.6 0.9l7.7 5.5l7.6-28.9l7.7-22.6l7.6-13.8l7.7-15.1l7.6 2.9l7.7-46.5l7.6-13.2l7.7-14.4l7.6-29.4l7.6 48l7.7 5.6l7.6 5.9l7.7 32.6l7.6 3.4l7.7 13.9l7.6-4.9l7.7 21l7.6-4.1l7.7 0.7l7.6 6.8l7.7 18.2l7.6-3.6l7.7-9.2l7.6 23.8l7.7 36.8l7.6 0l7.7 0l7.6-35.9l7.7 7l7.6 28.9l7.7 0l7.6-25.2l7.7 10l7.6 15.2l7.7-17.9l7.6 4l7.7 2.1l7.6-1.3l7.7 7.7l7.6 5.4l7.7-15.3l7.6 8.6l7.7 6.7l7.6 0l7.7-14l7.6 6.2l7.7 7.8l7.6-8.3l7.7 8.3l7.6-5l7.6 1.3l7.7 3.7l7.6-13.7l7.7-0.3l7.6 14l7.7 0l7.6-11.1l7.7 11.1l6.6-2.9" stroke="#cccccc" stroke-width="2.1" fill="none" stroke-linejoin="miter"/>
<path d="M912.7 1273.3l7.6-285.1l7.7 277l7.6 3l7.7-5.3l7.6-7l7.7 2l7.6 5.5l7.7-25l7.6-3.5l7.7 0.6l7.6-23.1l7.7-10.8l7.6-4.4l7.7-17.1l7.6-23.2l7.7-17.9l7.6-1.5l7.6 3l7.7 19.4l7.6 5.2l7.7 5.5l7.6-3l7.7 29.1l7.6 7.3l7.7 1.7l7.6 13.5l7.7-16.3l7.6 27.2l7.7 43.2l7.6-41.1l7.7 41.1l7.6 0l7.7-23.1l7.6 23.1l7.7-38.6l7.6 38.6l7.7-22.1l7.6 6.8l7.7-3.3l7.6 18.6l7.7-19.3l7.6 19.3l7.7-14.7l7.6 9.7l7.7 5l7.6-15.1l7.7 9.3l7.6 5.8l7.7-19.8l7.6 19.8l7.7 0l7.6 0l7.7-5.8l7.6 5.8l7.7-12.5l7.6 12.5l7.7-11.6l7.6-1.3l7.6 4.9l7.7 2.4l7.6 5.6l7.7 0l7.6-10.8l7.7 10.8l7.6 0l7.7 0l6.6-5.1" stroke="#cccccc" stroke-width="2.1" fill="none" stroke-linejoin="miter"/>
<path d="M912.7 1273.3l7.6-227.6l7.7 224.8l7.6-2.2l7.7-5.7l7.6 1.1l7.7-15.8l7.6-12.9l7.7 16.9l7.6-40.8l7.7-28.3l7.6-17.9l7.7-11.5l7.6-11.3l7.7-32.1l7.6-44.6l7.7-0.1l7.6 5.4l7.6 25.6l7.7 13.5l7.6 16.8l7.7-0.4l7.6 29.3l7.7 14.9l7.6 16.1l7.7 10.2l7.6-7.5l7.7-15.9l7.6 100l7.7-73.9l7.6 73.9l7.7-58.6l7.6 0.3l7.7 58.3l7.6 0l7.7 0l7.6 0l7.7 0l7.6-23.7l7.7 23.7l7.6 0l7.7 0l7.6-18.7l7.7 18.7l7.6 0l7.7-15.3l7.6 15.3l7.7 0l7.6-18.5l7.7 18.5l7.6 0l7.7-9.4l7.6 9.4l7.7 0l7.6-7.2l7.7 7.2l7.6-8.1l7.7-4.9l7.6 13l7.6-8.1l7.7-12.5l7.6 13.8l7.7-8.1l7.6 14.9l7.7 0l7.6 0l7.7-3.6l6.6-2.3" stroke="#cccccc" stroke-width="2.1" fill="none" stroke-linejoin="miter"/>
<path d="M912.7 1273.3l7.6-96.7l7.7 85l7.6 7.2l7.7-1.4l7.6-1.2l7.7-5.8l7.6 0.7l7.7-9.6l7.6-47l7.7-25.7l7.6 9.7l7.7-11.3l7.6-23.1l7.7-16.8l7.6-13.5l7.7-16.6l7.6 28.8l7.6 19.8l7.7 2.3l7.6 31.5l7.7-7.1l7.6 23.8l7.7 7.4l7.6 0.3l7.7 5l7.6 9.1l7.7 12.6l7.6-10.4l7.7-10.4l7.6 23.7l7.7 2.6l7.6-0.8l7.7 27.9l7.6 0l7.7 0l7.6 0l7.7-29l7.6 29l7.7-18.8l7.6 2.8l7.7 16l7.6 0l7.7-12.3l7.6-1l7.7 2.5l7.6 0.5l7.7 10.3l7.6 0l7.7-13.4l7.6 6.7l7.7 6.7l7.6 0l7.7 0l7.6 0l7.7 0l7.6 0l7.7 0l7.6-4.3l7.6-7.7l7.7 12l7.6-13.4l7.7 13.4l7.6 0l7.7-8.2l7.6 8.2l7.7 0l6.6-10.8" stroke="#cccccc" stroke-width="2.1" fill="none" stroke-linejoin="miter"/>
<path d="M912.7 1273.3l7.6-1857.7l7.7 1805.2l7.6-2l7.7-12.4l7.6-1.8l7.7 2.7l7.6-17.9l7.7 2.2l7.6 0.3l7.7-3.4l7.6 15.3l7.7 6.8l7.6 13.7l7.7 15.3l7.6 4.8l7.7-4l7.6 17.9l7.6 0.8l7.7-6.7l7.6 14.4l7.7-5.1l7.6-2.6l7.7-0.8l7.6-13.9l7.7 22.4l7.6 6.5l7.7 0l7.6 0l7.7-4.4l7.6 3.9l7.7-7.3l7.6 3.9l7.7-6.4l7.6 3.9l7.7-2.5l7.6 6.2l7.7 2.7l7.6 0l7.7 0l7.6 0l7.7 0l7.6 0l7.7 0l7.6 0l7.7 0l7.6 0l7.7 0l7.6 0l7.7 0l7.6 0l7.7 0l7.6 0l7.7 0l7.6 0l7.7 0l7.6 0l7.7 0l7.6 0l7.6 0l7.7 0l7.6 0l7.7 0l7.6 0l7.7 0l7.6 0l7.7 0l6.6 0" stroke="#f53d3d" stroke-width="2.6" fill="none" stroke-linejoin="miter" stroke-linecap="round" stroke-miterlimit="12"/>
<path d="M912.7 1273.3l7.6-498.7l7.7 490.5l7.6-1.3l7.7-1.8l7.6-1.6l7.7-5.5l7.6-11l7.7-13.7l7.6-21.3l7.7-20.4l7.6-0.9l7.7-7.6l7.6-37.4l7.7-23.1l7.6-7.1l7.7 1.2l7.6 22.1l7.6 8.5l7.7 14.5l7.6 9.4l7.7 13.6l7.6 13.3l7.7 5.4l7.6 9.4l7.7 7.6l7.6 5.2l7.7 10.7l7.6-2.6l7.7 4.1l7.6 4.4l7.7 7.2l7.6 2.6l7.7-0.8l7.6 6l7.7 2l7.6 1.4l7.7 1.7l7.6 0.8l7.7 1.3l7.6 3l7.7-3.4l7.6 8.5l7.7-3.9l7.6-1.5l7.7 3.7l7.6 3.7l7.7-7.6l7.6 2.5l7.7 1.9l7.6 4.3l7.7-4l7.6-2.2l7.7 2.8l7.6-1.4l7.7 2.6l7.6-4l7.7 6.9l7.6-2.9l7.6-7.4l7.7 6.2l7.6-3.5l7.7 5.5l7.6 0l7.7-3.4l7.6 5.5l7.7-6.6l6.6 4.5" stroke="#000" stroke-width="2.6" fill="none" stroke-linejoin="miter" stroke-linecap="round" stroke-miterlimit="12"/>
</g>
<line x1="909.4" y1="773.5" x2="909.4" y2="1277.7" stroke="#000" stroke-width="2"/>
<line x1="1426" y1="773.5" x2="1426" y2="1277.7" stroke="#000" stroke-width="2"/>
<line x1="908.4" y1="774.5" x2="1427" y2="774.5" stroke="#000" stroke-width="2"/>
<line x1="908.4" y1="1276.7" x2="1427" y2="1276.7" stroke="#000" stroke-width="2"/>
<line x1="893" y1="1273.34" x2="908.4" y2="1273.34" stroke="#000" stroke-width="2"/>
<line x1="1427" y1="1273.34" x2="1442.5" y2="1273.34" stroke="#000" stroke-width="2"/>
<text x="884.7" y="1285.84" font-size="36" text-anchor="end">0</text>
<line x1="900.9" y1="1256.83" x2="908.4" y2="1256.83" stroke="#000" stroke-width="2"/>
<line x1="1427" y1="1256.83" x2="1434.6" y2="1256.83" stroke="#000" stroke-width="2"/>
<line x1="900.9" y1="1240.31" x2="908.4" y2="1240.31" stroke="#000" stroke-width="2"/>
<line x1="1427" y1="1240.31" x2="1434.6" y2="1240.31" stroke="#000" stroke-width="2"/>
<line x1="900.9" y1="1223.8" x2="908.4" y2="1223.8" stroke="#000" stroke-width="2"/>
<line x1="1427" y1="1223.8" x2="1434.6" y2="1223.8" stroke="#000" stroke-width="2"/>
<line x1="900.9" y1="1207.29" x2="908.4" y2="1207.29" stroke="#000" stroke-width="2"/>
<line x1="1427" y1="1207.29" x2="1434.6" y2="1207.29" stroke="#000" stroke-width="2"/>
<line x1="893" y1="1190.77" x2="908.4" y2="1190.77" stroke="#000" stroke-width="2"/>
<line x1="1427" y1="1190.77" x2="1442.5" y2="1190.77" stroke="#000" stroke-width="2"/>
<text x="884.7" y="1203.27" font-size="36" text-anchor="end">10</text>
<line x1="900.9" y1="1174.26" x2="908.4" y2="1174.26" stroke="#000" stroke-width="2"/>
<line x1="1427" y1="1174.26" x2="1434.6" y2="1174.26" stroke="#000" stroke-width="2"/>
<line x1="900.9" y1="1157.75" x2="908.4" y2="1157.75" stroke="#000" stroke-width="2"/>
<line x1="1427" y1="1157.75" x2="1434.6" y2="1157.75" stroke="#000" stroke-width="2"/>
<line x1="900.9" y1="1141.23" x2="908.4" y2="1141.23" stroke="#000" stroke-width="2"/>
<line x1="1427" y1="1141.23" x2="1434.6" y2="1141.23" stroke="#000" stroke-width="2"/>
<line x1="900.9" y1="1124.72" x2="908.4" y2="1124.72" stroke="#000" stroke-width="2"/>
<line x1="1427" y1="1124.72" x2="1434.6" y2="1124.72" stroke="#000" stroke-width="2"/>
<line x1="893" y1="1108.21" x2="908.4" y2="1108.21" stroke="#000" stroke-width="2"/>
<line x1="1427" y1="1108.21" x2="1442.5" y2="1108.21" stroke="#000" stroke-width="2"/>
<text x="884.7" y="1120.71" font-size="36" text-anchor="end">20</text>
<line x1="900.9" y1="1091.69" x2="908.4" y2="1091.69" stroke="#000" stroke-width="2"/>
<line x1="1427" y1="1091.69" x2="1434.6" y2="1091.69" stroke="#000" stroke-width="2"/>
<line x1="900.9" y1="1075.18" x2="908.4" y2="1075.18" stroke="#000" stroke-width="2"/>
<line x1="1427" y1="1075.18" x2="1434.6" y2="1075.18" stroke="#000" stroke-width="2"/>
<line x1="900.9" y1="1058.67" x2="908.4" y2="1058.67" stroke="#000" stroke-width="2"/>
<line x1="1427" y1="1058.67" x2="1434.6" y2="1058.67" stroke="#000" stroke-width="2"/>
<line x1="900.9" y1="1042.15" x2="908.4" y2="1042.15" stroke="#000" stroke-width="2"/>
<line x1="1427" y1="1042.15" x2="1434.6" y2="1042.15" stroke="#000" stroke-width="2"/>
<line x1="893" y1="1025.64" x2="908.4" y2="1025.64" stroke="#000" stroke-width="2"/>
<line x1="1427" y1="1025.64" x2="1442.5" y2="1025.64" stroke="#000" stroke-width="2"/>
<text x="884.7" y="1038.14" font-size="36" text-anchor="end">30</text>
<line x1="900.9" y1="1009.13" x2="908.4" y2="1009.13" stroke="#000" stroke-width="2"/>
<line x1="1427" y1="1009.13" x2="1434.6" y2="1009.13" stroke="#000" stroke-width="2"/>
<line x1="900.9" y1="992.61" x2="908.4" y2="992.61" stroke="#000" stroke-width="2"/>
<line x1="1427" y1="992.61" x2="1434.6" y2="992.61" stroke="#000" stroke-width="2"/>
<line x1="900.9" y1="976.1" x2="908.4" y2="976.1" stroke="#000" stroke-width="2"/>
<line x1="1427" y1="976.1" x2="1434.6" y2="976.1" stroke="#000" stroke-width="2"/>
<line x1="900.9" y1="959.59" x2="908.4" y2="959.59" stroke="#000" stroke-width="2"/>
<line x1="1427" y1="959.59" x2="1434.6" y2="959.59" stroke="#000" stroke-width="2"/>
<line x1="893" y1="943.07" x2="908.4" y2="943.07" stroke="#000" stroke-width="2"/>
<line x1="1427" y1="943.07" x2="1442.5" y2="943.07" stroke="#000" stroke-width="2"/>
<text x="884.7" y="955.57" font-size="36" text-anchor="end">40</text>
<line x1="900.9" y1="926.56" x2="908.4" y2="926.56" stroke="#000" stroke-width="2"/>
<line x1="1427" y1="926.56" x2="1434.6" y2="926.56" stroke="#000" stroke-width="2"/>
<line x1="900.9" y1="910.05" x2="908.4" y2="910.05" stroke="#000" stroke-width="2"/>
<line x1="1427" y1="910.05" x2="1434.6" y2="910.05" stroke="#000" stroke-width="2"/>
<line x1="900.9" y1="893.53" x2="908.4" y2="893.53" stroke="#000" stroke-width="2"/>
<line x1="1427" y1="893.53" x2="1434.6" y2="893.53" stroke="#000" stroke-width="2"/>
<line x1="900.9" y1="877.02" x2="908.4" y2="877.02" stroke="#000" stroke-width="2"/>
<line x1="1427" y1="877.02" x2="1434.6" y2="877.02" stroke="#000" stroke-width="2"/>
<line x1="893" y1="860.5" x2="908.4" y2="860.5" stroke="#000" stroke-width="2"/>
<line x1="1427" y1="860.5" x2="1442.5" y2="860.5" stroke="#000" stroke-width="2"/>
<text x="884.7" y="873" font-size="36" text-anchor="end">50</text>
<line x1="900.9" y1="843.99" x2="908.4" y2="843.99" stroke="#000" stroke-width="2"/>
<line x1="1427" y1="843.99" x2="1434.6" y2="843.99" stroke="#000" stroke-width="2"/>
<line x1="900.9" y1="827.48" x2="908.4" y2="827.48" stroke="#000" stroke-width="2"/>
<line x1="1427" y1="827.48" x2="1434.6" y2="827.48" stroke="#000" stroke-width="2"/>
<line x1="900.9" y1="810.96" x2="908.4" y2="810.96" stroke="#000" stroke-width="2"/>
<line x1="1427" y1="810.96" x2="1434.6" y2="810.96" stroke="#000" stroke-width="2"/>
<line x1="900.9" y1="794.45" x2="908.4" y2="794.45" stroke="#000" stroke-width="2"/>
<line x1="1427" y1="794.45" x2="1434.6" y2="794.45" stroke="#000" stroke-width="2"/>
<line x1="893" y1="777.94" x2="908.4" y2="777.94" stroke="#000" stroke-width="2"/>
<line x1="1427" y1="777.94" x2="1442.5" y2="777.94" stroke="#000" stroke-width="2"/>
<text x="884.7" y="790.44" font-size="36" text-anchor="end">60</text>
<line x1="912.67" y1="758.6" x2="912.67" y2="773.5" stroke="#000" stroke-width="2"/>
<line x1="912.67" y1="1277.7" x2="912.67" y2="1292.8" stroke="#000" stroke-width="2"/>
<text x="912.87" y="1333.5" font-size="36" text-anchor="middle" letter-spacing="-0.4">0.00</text>
<line x1="938.17" y1="766.5" x2="938.17" y2="773.5" stroke="#000" stroke-width="2"/>
<line x1="938.17" y1="1277.7" x2="938.17" y2="1284.9" stroke="#000" stroke-width="2"/>
<line x1="963.66" y1="766.5" x2="963.66" y2="773.5" stroke="#000" stroke-width="2"/>
<line x1="963.66" y1="1277.7" x2="963.66" y2="1284.9" stroke="#000" stroke-width="2"/>
<line x1="989.16" y1="766.5" x2="989.16" y2="773.5" stroke="#000" stroke-width="2"/>
<line x1="989.16" y1="1277.7" x2="989.16" y2="1284.9" stroke="#000" stroke-width="2"/>
<line x1="1014.65" y1="766.5" x2="1014.65" y2="773.5" stroke="#000" stroke-width="2"/>
<line x1="1014.65" y1="1277.7" x2="1014.65" y2="1284.9" stroke="#000" stroke-width="2"/>
<line x1="1040.15" y1="758.6" x2="1040.15" y2="773.5" stroke="#000" stroke-width="2"/>
<line x1="1040.15" y1="1277.7" x2="1040.15" y2="1292.8" stroke="#000" stroke-width="2"/>
<text x="1040.35" y="1333.5" font-size="36" text-anchor="middle" letter-spacing="-0.4">0.05</text>
<line x1="1065.65" y1="766.5" x2="1065.65" y2="773.5" stroke="#000" stroke-width="2"/>
<line x1="1065.65" y1="1277.7" x2="1065.65" y2="1284.9" stroke="#000" stroke-width="2"/>
<line x1="1091.14" y1="766.5" x2="1091.14" y2="773.5" stroke="#000" stroke-width="2"/>
<line x1="1091.14" y1="1277.7" x2="1091.14" y2="1284.9" stroke="#000" stroke-width="2"/>
<line x1="1116.64" y1="766.5" x2="1116.64" y2="773.5" stroke="#000" stroke-width="2"/>
<line x1="1116.64" y1="1277.7" x2="1116.64" y2="1284.9" stroke="#000" stroke-width="2"/>
<line x1="1142.13" y1="766.5" x2="1142.13" y2="773.5" stroke="#000" stroke-width="2"/>
<line x1="1142.13" y1="1277.7" x2="1142.13" y2="1284.9" stroke="#000" stroke-width="2"/>
<line x1="1167.63" y1="758.6" x2="1167.63" y2="773.5" stroke="#000" stroke-width="2"/>
<line x1="1167.63" y1="1277.7" x2="1167.63" y2="1292.8" stroke="#000" stroke-width="2"/>
<text x="1167.83" y="1333.5" font-size="36" text-anchor="middle" letter-spacing="-0.4">0.10</text>
<line x1="1193.13" y1="766.5" x2="1193.13" y2="773.5" stroke="#000" stroke-width="2"/>
<line x1="1193.13" y1="1277.7" x2="1193.13" y2="1284.9" stroke="#000" stroke-width="2"/>
<line x1="1218.62" y1="766.5" x2="1218.62" y2="773.5" stroke="#000" stroke-width="2"/>
<line x1="1218.62" y1="1277.7" x2="1218.62" y2="1284.9" stroke="#000" stroke-width="2"/>
<line x1="1244.12" y1="766.5" x2="1244.12" y2="773.5" stroke="#000" stroke-width="2"/>
<line x1="1244.12" y1="1277.7" x2="1244.12" y2="1284.9" stroke="#000" stroke-width="2"/>
<line x1="1269.61" y1="766.5" x2="1269.61" y2="773.5" stroke="#000" stroke-width="2"/>
<line x1="1269.61" y1="1277.7" x2="1269.61" y2="1284.9" stroke="#000" stroke-width="2"/>
<line x1="1295.11" y1="758.6" x2="1295.11" y2="773.5" stroke="#000" stroke-width="2"/>
<line x1="1295.11" y1="1277.7" x2="1295.11" y2="1292.8" stroke="#000" stroke-width="2"/>
<text x="1295.31" y="1333.5" font-size="36" text-anchor="middle" letter-spacing="-0.4">0.15</text>
<line x1="1320.61" y1="766.5" x2="1320.61" y2="773.5" stroke="#000" stroke-width="2"/>
<line x1="1320.61" y1="1277.7" x2="1320.61" y2="1284.9" stroke="#000" stroke-width="2"/>
<line x1="1346.1" y1="766.5" x2="1346.1" y2="773.5" stroke="#000" stroke-width="2"/>
<line x1="1346.1" y1="1277.7" x2="1346.1" y2="1284.9" stroke="#000" stroke-width="2"/>
<line x1="1371.6" y1="766.5" x2="1371.6" y2="773.5" stroke="#000" stroke-width="2"/>
<line x1="1371.6" y1="1277.7" x2="1371.6" y2="1284.9" stroke="#000" stroke-width="2"/>
<line x1="1397.09" y1="766.5" x2="1397.09" y2="773.5" stroke="#000" stroke-width="2"/>
<line x1="1397.09" y1="1277.7" x2="1397.09" y2="1284.9" stroke="#000" stroke-width="2"/>
<line x1="1422.59" y1="758.6" x2="1422.59" y2="773.5" stroke="#000" stroke-width="2"/>
<line x1="1422.59" y1="1277.7" x2="1422.59" y2="1292.8" stroke="#000" stroke-width="2"/>
<text x="1422.79" y="1333.5" font-size="36" text-anchor="middle" letter-spacing="-0.4">0.20</text>
<text font-size="36" transform="translate(811.2 1188.6) rotate(-90)" xml:space="preserve"><tspan>Normalized d</tspan><tspan font-style="italic">N</tspan><tspan>/dSS</tspan><tspan font-size="24.3" dy="10.98">c</tspan></text>
<text x="1106" y="1381.8" font-size="36" xml:space="preserve"><tspan font-style="italic">SS</tspan><tspan font-size="24.3" dy="10.98">c</tspan><tspan dy="-10.98"> [%]</tspan></text>
<text x="777" y="751.4" font-size="50" font-weight="bold">(d)</text>
<text x="968.5" y="838.3" font-size="32.7">Okinawa</text>
<line x1="974.1" y1="863.8" x2="1032.9" y2="863.8" stroke="#000" stroke-width="2.4" stroke-linecap="round"/>
<text x="1046.6" y="873.5" font-size="31.5" xml:space="preserve"><tspan font-style="italic">D</tspan><tspan font-size="21.26" dy="9.61">tr</tspan><tspan dy="-9.61"> = 200 nm</tspan></text>
<line x1="974.1" y1="907.1" x2="1032.9" y2="907.1" stroke="#f53d3d" stroke-width="2.4" stroke-linecap="round"/>
<text x="1046.6" y="916.8" font-size="31.5" xml:space="preserve"><tspan font-style="italic">D</tspan><tspan font-size="21.26" dy="9.61">tr</tspan><tspan dy="-9.61"> = </tspan><tspan font-style="italic">D</tspan><tspan font-size="21.26" dy="9.61">std</tspan></text>
</g>
<g id="e">
<clipPath id="clipe"><rect x="130.9" y="1498.04" width="509.44" height="498.71"/></clipPath>
<g clip-path="url(#clipe)">
<path d="M135.4 1994.9l7.6-369.8l7.5 347.2l7.6 7l7.5 8.6l7.6-26.2l7.5-2.5l7.6-8.3l7.5-38.2l7.6 37.8l7.5-15.3l7.6-32.1l7.6 2.1l7.5-27.9l7.6-16l7.5 55.4l7.6-2.2l7.5-172.4l7.6 135.8l7.5 68.8l7.6 9.4l7.5-76.7l7.6 115.5l7.6-101.2l7.5-28.7l7.6 129.9l7.5-94.3l7.6-39.9l7.5 134.2l7.6-70.6l7.5 21.1l7.6 11l7.5 7.5l7.6 31l7.6 0l7.5-42.7l7.6-10.9l7.5 53.6l7.6-50.6l7.5 50.6l7.6-34.8l7.5 3.6l7.6 31.2l7.5 0l7.6 0l7.6-31.4l7.5 2.3l7.6 29.1l7.5-17.8l7.6 17.8l7.5 0l7.6 0l7.5 0l7.6 0l7.5 0l7.6 0l7.6 0l7.5-23.8l7.6 23.8l7.5 0l7.6 0l7.5 0l7.6 0l7.5-14.7l7.6 2.1l7.5 12.6l7.6-1.9l6.5 1.9" stroke="#cccccc" stroke-width="2.2" fill="none" stroke-linejoin="miter"/>
<path d="M135.4 1994.9l7.6-40l7.5 24l7.6 3.2l7.5-4l7.6-23.1l7.5 28.9l7.6-9.5l7.5-26.2l7.6 0.3l7.5-27.3l7.6-12.3l7.6-1.8l7.5-29.9l7.6-0.4l7.5-66.2l7.6 69.4l7.5-39.4l7.6 10l7.5 73.4l7.6 70.9l7.5-50.7l7.6 20.2l7.6-55.2l7.5-11.5l7.6 23.5l7.5 73.7l7.6-45.5l7.5 45.5l7.6-71l7.5-118.2l7.6 189.2l7.5-95.9l7.6 46l7.6-1.3l7.5 51.2l7.6 0l7.5-35.2l7.6 35.2l7.5 0l7.6-52.8l7.5 36.2l7.6-14l7.5 30.6l7.6 0l7.6 0l7.5 0l7.6-14.1l7.5 14.1l7.6-17.8l7.5 5l7.6 12.8l7.5 0l7.6 0l7.5 0l7.6 0l7.6 0l7.5 0l7.6 0l7.5 0l7.6 0l7.5 0l7.6-10.7l7.5-15.7l7.6 15.1l7.5 11.3l7.6 0l6.5 0" stroke="#cccccc" stroke-width="2.2" fill="none" stroke-linejoin="miter"/>
<path d="M135.4 1994.9l7.6-472.5l7.5 446.8l7.6 5.6l7.5-0.5l7.6 12.9l7.5-2l7.6-11.2l7.5-18.7l7.6-5.5l7.5-22l7.6-3.3l7.6 29.5l7.5-10.7l7.6-24.5l7.5-76.7l7.6 99.4l7.5-153.1l7.6 141.8l7.5-65.4l7.6 97l7.5 33.1l7.6-98.3l7.6 0l7.5 98.3l7.6-132.4l7.5 89.8l7.6-22.5l7.5 19.8l7.6-61.4l7.5 72.8l7.6 33.9l7.5-89.4l7.6 33l7.6 30.2l7.5 26.2l7.6 0l7.5-40.4l7.6-2.9l7.5 43.3l7.6-41.2l7.5 41.2l7.6-9.5l7.5 9.5l7.6 0l7.6 0l7.5 0l7.6 0l7.5 0l7.6-14.2l7.5 14.2l7.6 0l7.5 0l7.6 0l7.5 0l7.6 0l7.6 0l7.5 0l7.6 0l7.5 0l7.6-16.4l7.5 16.4l7.6 0l7.5 0l7.6 0l7.5 0l7.6 0l6.5 0" stroke="#cccccc" stroke-width="2.2" fill="none" stroke-linejoin="miter"/>
<path d="M135.4 1994.9l7.6-49l7.5 44.2l7.6-0.1l7.5-4.5l7.6 0.8l7.5-8.6l7.6-16.6l7.5 24l7.6-43.1l7.5 16.5l7.6-22.5l7.6-11.9l7.5 48.4l7.6-92.9l7.5-40.8l7.6 62.5l7.5-50.7l7.6 128.2l7.5 16.1l7.6-74.5l7.5 57.8l7.6-47.6l7.6 58.7l7.5-3.8l7.6-41.9l7.5 4.1l7.6 47.2l7.5 0l7.6-49.3l7.5 49.3l7.6-24.8l7.5-0.2l7.6 7.1l7.6 4.7l7.5-15.9l7.6 29.1l7.5-3.2l7.6 3.2l7.5-15.9l7.6 15.9l7.5 0l7.6 0l7.5 0l7.6 0l7.6-9.4l7.5 9.4l7.6 0l7.5 0l7.6 0l7.5 0l7.6 0l7.5 0l7.6 0l7.5-10.3l7.6 8.7l7.6 1.6l7.5 0l7.6 0l7.5-8.8l7.6 7.4l7.5 1.4l7.6 0l7.5 0l7.6 0l7.5 0l7.6 0l6.5 0" stroke="#cccccc" stroke-width="2.2" fill="none" stroke-linejoin="miter"/>
<path d="M135.4 1994.9l7.6-473.8l7.5 455.1l7.6 7l7.5 10.7l7.6-37.2l7.5-3.7l7.6 0.6l7.5 24.4l7.6-96.1l7.5 22.1l7.6 12.6l7.6-67.1l7.5 15.2l7.6 27l7.5-37.5l7.6 67.6l7.5-59.9l7.6 30.9l7.5 47.6l7.6-35.7l7.5 90.2l7.6-37l7.6-49.3l7.5-52.1l7.6 138.4l7.5 0l7.6-86.7l7.5 43.8l7.6-16.4l7.5 59.3l7.6-48l7.5 22.2l7.6-6.2l7.6 32l7.5 0l7.6-61.4l7.5 61.4l7.6-27.9l7.5 27.9l7.6 0l7.5 0l7.6 0l7.5 0l7.6 0l7.6 0l7.5 0l7.6 0l7.5 0l7.6 0l7.5-21.7l7.6 21.7l7.5-12.3l7.6 12.3l7.5 0l7.6 0l7.6-17l7.5 17l7.6 0l7.5 0l7.6 0l7.5 0l7.6 0l7.5 0l7.6 0l7.5-1.7l7.6-0.9l6.5 2.6" stroke="#cccccc" stroke-width="2.2" fill="none" stroke-linejoin="miter"/>
<path d="M135.4 1994.9l7.6-428l7.5 401.9l7.6-6.1l7.5 1.2l7.6-3.2l7.5 7l7.6-4.2l7.5-5.3l7.6 1.5l7.5-44l7.6 16.8l7.6-9.6l7.5-56.8l7.6-12.9l7.5 9.3l7.6-3.2l7.5 49.7l7.6-13.8l7.5 38l7.6 61.7l7.5-118.2l7.6 118.2l7.6-139.8l7.5-10.4l7.6 76.2l7.5 74l7.6-81.8l7.5 40.5l7.6 41.3l7.5-52.2l7.6 52.2l7.5-59.8l7.6-26.4l7.6 86.2l7.5-101.2l7.6 22.6l7.5 78.6l7.6 0l7.5-66.3l7.6 8.2l7.5 58.1l7.6-41.6l7.5-8.6l7.6 50.2l7.6-18.3l7.5 18.3l7.6-28.3l7.5 28.3l7.6 0l7.5-16.9l7.6-1.9l7.5-0.4l7.6 19.2l7.5 0l7.6-13.2l7.6 13.2l7.5 0l7.6-28.6l7.5 11.3l7.6 17.3l7.5-28.6l7.6 28.6l7.5 0l7.6 0l7.5 0l7.6 0l6.5 0" stroke="#cccccc" stroke-width="2.2" fill="none" stroke-linejoin="miter"/>
<path d="M135.4 1994.9l7.6-263.3l7.5 243.7l7.6 0.8l7.5-15.7l7.6 16.5l7.5 13.4l7.6-32.2l7.5 36.8l7.6-16.7l7.5-38.9l7.6 12.6l7.6-46.6l7.5 32.3l7.6-65.3l7.5-12.1l7.6 37.9l7.5-38.6l7.6 106.7l7.5-15.3l7.6-89.3l7.5 38.7l7.6 17.4l7.6-59.7l7.5 136.9l7.6-15.9l7.5 15.9l7.6-56.9l7.5 8.6l7.6 5.7l7.5-18.7l7.6 61.3l7.5-28.8l7.6 3.4l7.6 25.4l7.5 0l7.6 0l7.5-43.1l7.6 43.1l7.5-8.1l7.6-14.5l7.5 9.9l7.6 12.7l7.5 0l7.6 0l7.6 0l7.5 0l7.6 0l7.5-9.1l7.6 9.1l7.5 0l7.6-18.5l7.5 18.5l7.6 0l7.5 0l7.6-12.5l7.6 12.5l7.5 0l7.6 0l7.5 0l7.6 0l7.5 0l7.6 0l7.5-18.2l7.6 7.6l7.5 10.6l7.6 0l6.5 0" stroke="#cccccc" stroke-width="2.2" fill="none" stroke-linejoin="miter"/>
<path d="M135.4 1994.9l7.6-556.8l7.5 529l7.6 16.1l7.5-19.8l7.6 15.6l7.5-18.1l7.6 7.5l7.5 4.3l7.6 5.8l7.5-53.2l7.6-16.9l7.6 76.9l7.5-36l7.6-62.5l7.5 86.9l7.6-103.8l7.5-21.8l7.6-5.4l7.5 37l7.6 85.9l7.5 29.3l7.6-42.4l7.6 42.4l7.5-6.1l7.6 6.1l7.5-14.6l7.6-52.8l7.5-10.4l7.6 8.2l7.5 69.6l7.6 0l7.5-45.5l7.6 33.7l7.6-7.7l7.5 19.5l7.6 0l7.5-35.2l7.6 14.6l7.5 20.6l7.6 0l7.5-40.7l7.6 40.7l7.5 0l7.6 0l7.6-9.9l7.5 9.9l7.6 0l7.5-8.6l7.6 8.6l7.5 0l7.6 0l7.5-11l7.6 1.7l7.5 8.2l7.6 1.1l7.6 0l7.5 0l7.6 0l7.5 0l7.6 0l7.5 0l7.6 0l7.5 0l7.6 0l7.5-2.3l7.6 2.3l6.5 0" stroke="#cccccc" stroke-width="2.2" fill="none" stroke-linejoin="miter"/>
<path d="M135.4 1994.9l7.6-261.1l7.5 236.2l7.6-3.4l7.5-0.1l7.6-9l7.5-12.1l7.6 10.6l7.5-2l7.6 6.8l7.5-23.4l7.6-42.7l7.6-20.8l7.5-30.8l7.6 74.7l7.5 1.2l7.6-65l7.5 31.6l7.6-5l7.5 11.9l7.6 72.8l7.5-124.1l7.6 77.3l7.6-95.5l7.5 64.6l7.6-14l7.5-3.6l7.6 2.8l7.5 38.5l7.6 83.6l7.5-95.5l7.6 95.5l7.5-73.7l7.6 31.1l7.6 42.6l7.5-46.1l7.6 5.8l7.5 9.8l7.6 30.5l7.5 0l7.6 0l7.5 0l7.6-44.1l7.5 8.9l7.6 35.2l7.6 0l7.5 0l7.6-21.2l7.5 21.2l7.6 0l7.5-22.2l7.6 2.8l7.5 19.4l7.6-34l7.5 34l7.6 0l7.6 0l7.5-19.8l7.6 19.8l7.5 0l7.6-1.4l7.5 1.4l7.6 0l7.5 0l7.6 0l7.5 0l7.6-4.2l6.5 4.2" stroke="#cccccc" stroke-width="2.2" fill="none" stroke-linejoin="miter"/>
<path d="M135.4 1994.9l7.6-471.3l7.5 443l7.6-4.3l7.5 5.3l7.6-0.1l7.5-9.9l7.6 16l7.5-10.9l7.6-33.8l7.5-20.5l7.6-15.6l7.6-21l7.5-46.5l7.6 43.8l7.5-45.2l7.6-8.5l7.5 5.6l7.6 78.3l7.5-18.6l7.6-42.7l7.5 65.5l7.6 91.4l7.6 0l7.5-177.5l7.6 21.8l7.5 155.7l7.6-94.7l7.5 94.7l7.6-94.2l7.5 22.6l7.6-22.2l7.5 93.8l7.6 0l7.6-49.4l7.5 11.4l7.6 38l7.5-30.8l7.6-14.1l7.5 4l7.6 15.4l7.5 25.5l7.6-20.4l7.5-9.2l7.6 0.9l7.6 28.7l7.5 0l7.6 0l7.5-20.7l7.6 20.7l7.5 0l7.6-28.8l7.5-6.5l7.6 2.6l7.5 2.2l7.6 30.5l7.6-18.1l7.5-4.5l7.6 22.6l7.5 0l7.6 0l7.5 0l7.6 0l7.5 0l7.6-15l7.5 15l7.6 0l6.5 0" stroke="#cccccc" stroke-width="2.2" fill="none" stroke-linejoin="miter"/>
<path d="M135.4 1994.9l7.6-220.8l7.5 220.8l7.6-5.6l7.5-3.5l7.6 7.6l7.5-2.5l7.6 0.9l7.5-25l7.6-1.4l7.5-16.5l7.6 31.1l7.6-26.7l7.5 19.3l7.6-17l7.5-86.1l7.6 58.1l7.5 26.8l7.6 40.5l7.5-0.2l7.6 0.2l7.5-15.6l7.6 10.5l7.6 5.1l7.5 0l7.6 0l7.5-37.3l7.6 37.3l7.5 0l7.6 0l7.5 0l7.6-20.7l7.5 20.7l7.6 0l7.6-14.2l7.5-17.9l7.6 17l7.5 15.1l7.6 0l7.5 0l7.6-0.9l7.5 0.9l7.6-17.6l7.5 17.6l7.6 0l7.6-1.1l7.5 1.1l7.6 0l7.5 0l7.6 0l7.5 0l7.6 0l7.5 0l7.6 0l7.5-1.4l7.6-1.9l7.6-4.3l7.5 7.6l7.6-3.5l7.5 3.5l7.6 0l7.5 0l7.6 0l7.5 0l7.6 0l7.5 0l7.6 0l6.5 0" stroke="#cccccc" stroke-width="2.2" fill="none" stroke-linejoin="miter"/>
<path d="M135.4 1994.9l7.6-246.4l7.5 236l7.6-5.1l7.5-7.6l7.6 4.7l7.5-14.7l7.6 1l7.5 18.3l7.6 13.8l7.5-48.1l7.6-8.3l7.6 1.9l7.5-49.8l7.6 47.9l7.5 48.3l7.6-31.1l7.5-12.6l7.6-14.6l7.5-20.3l7.6 65.6l7.5-66l7.6 87.1l7.6-82.5l7.5 42.6l7.6-16.1l7.5 56l7.6-28.9l7.5-28.4l7.6 57.3l7.5 0l7.6-14.5l7.5-49l7.6 41.7l7.6 21.8l7.5-44.8l7.6 44.8l7.5-31.7l7.6 31.7l7.5 0l7.6-34.9l7.5 15.4l7.6-2l7.5 8.3l7.6 13.2l7.6-11.5l7.5 11.5l7.6-0.3l7.5 0.3l7.6 0l7.5 0l7.6-15.5l7.5 14.5l7.6-25.1l7.5 26.1l7.6 0l7.6 0l7.5 0l7.6 0l7.5 0l7.6 0l7.5 0l7.6 0l7.5 0l7.6 0l7.5 0l7.6 0l6.5-2.6" stroke="#cccccc" stroke-width="2.2" fill="none" stroke-linejoin="miter"/>
<path d="M135.4 1994.9l7.6-279.3l7.5 272l7.6-21.8l7.5 0l7.6 8.2l7.5-3l7.6-31.4l7.5 39.5l7.6-28.6l7.5-26.4l7.6-24.6l7.6-32l7.5 22.7l7.6 5.7l7.5 4.8l7.6-59.5l7.5 80.6l7.6-30.1l7.5-70.9l7.6 48.5l7.5 125.6l7.6-133.5l7.6-7.6l7.5 78.2l7.6-47.4l7.5 63l7.6-26.4l7.5 31.2l7.6 42.5l7.5-96.5l7.6 33.6l7.5 27.9l7.6-65.5l7.6 8l7.5 66.9l7.6 25.6l7.5 0l7.6 0l7.5 0l7.6-40.3l7.5 20l7.6 20.3l7.5 0l7.6 0l7.6-25.2l7.5 25.2l7.6-23.7l7.5 13.2l7.6 6.2l7.5-4.9l7.6-18.1l7.5 5.8l7.6 1.1l7.5 20.4l7.6 0l7.6-26.4l7.5 26.4l7.6-24.9l7.5 24.9l7.6 0l7.5 0l7.6-8.2l7.5 8.2l7.6 0l7.5 0l7.6 0l6.5-2.3" stroke="#cccccc" stroke-width="2.2" fill="none" stroke-linejoin="miter"/>
<path d="M135.4 1994.9l7.6-198l7.5 176.1l7.6 13.6l7.5-9.3l7.6-4.3l7.5-13l7.6-23.5l7.5-0.1l7.6-48.4l7.5-22.1l7.6 44.9l7.6-11.2l7.5 5.7l7.6-87.1l7.5 67.5l7.6-2.3l7.5 32.8l7.6 1.6l7.5-26.4l7.6 14.5l7.5 16l7.6-20.5l7.6-62.7l7.5 10.3l7.6 145.9l7.5-80l7.6 9.1l7.5 59.2l7.6-87.9l7.5 99.6l7.6-102.8l7.5 30.8l7.6 19.4l7.6 8l7.5 44.6l7.6-42.7l7.5 11.6l7.6 12l7.5-15.6l7.6 34.7l7.5-22.8l7.6 22.8l7.5-40.3l7.6 29.6l7.6-5.3l7.5 16l7.6 0l7.5 0l7.6-16.6l7.5-4.6l7.6 21.2l7.5-28.6l7.6 28.6l7.5 0l7.6 0l7.6 0l7.5 0l7.6 0l7.5 0l7.6 0l7.5 0l7.6 0l7.5 0l7.6 0l7.5 0l7.6 0l6.5 0" stroke="#cccccc" stroke-width="2.2" fill="none" stroke-linejoin="miter"/>
<path d="M135.4 1994.9l7.6-77.2l7.5 43.2l7.6 17.3l7.5-5.6l7.6-7.4l7.5-10.9l7.6-8.5l7.5-0.5l7.6-11.7l7.5-17.9l7.6-2.9l7.6-18.6l7.5-40.1l7.6-12l7.5 82.8l7.6-45.8l7.5 5.7l7.6-8.8l7.5 6.2l7.6 45.6l7.5-24.7l7.6 91.8l7.6 0l7.5-114.1l7.6-42.5l7.5 40.8l7.6-12l7.5 40.4l7.6 52.4l7.5-77.1l7.6 53.5l7.5 29.4l7.6-17.4l7.6-28.1l7.5 74.7l7.6 0l7.5-35.3l7.6-27.3l7.5 62.6l7.6 0l7.5 0l7.6-28.9l7.5 16.2l7.6 12.7l7.6 0l7.5 0l7.6-26.4l7.5 26.4l7.6-18.6l7.5 18.6l7.6-15.4l7.5-5.4l7.6 20.8l7.5 0l7.6 0l7.6 0l7.5-18.8l7.6-1.9l7.5 20.7l7.6 0l7.5 0l7.6 0l7.5 0l7.6 0l7.5-14l7.6 14l6.5-3.4" stroke="#cccccc" stroke-width="2.2" fill="none" stroke-linejoin="miter"/>
<path d="M135.4 1994.9l7.6-325.2l7.5 323.9l7.6-3.4l7.5 4.7l7.6 0l7.5-7.9l7.6 1.6l7.5 6.3l7.6-7.6l7.5-21l7.6 12.5l7.6-1l7.5-94.1l7.6 23.9l7.5 22.9l7.6-1.1l7.5-37.5l7.6 103l7.5-3.2l7.6 1.4l7.5-48l7.6-77.4l7.6 20.5l7.5 33.6l7.6 60l7.5-16.7l7.6-18.5l7.5 48.3l7.6-0.9l7.5 0.9l7.6-51.9l7.5 38.1l7.6 13.8l7.6 0l7.5 0l7.6-28.7l7.5-12.2l7.6 40.9l7.5 0l7.6-27.3l7.5 27.3l7.6 0l7.5-18.2l7.6 18.2l7.6-7.8l7.5 7.8l7.6 0l7.5 0l7.6 0l7.5 0l7.6-23.5l7.5 21.7l7.6 1.8l7.5 0l7.6 0l7.6 0l7.5 0l7.6 0l7.5 0l7.6 0l7.5 0l7.6 0l7.5 0l7.6 0l7.5 0l7.6 0l6.5-4.4" stroke="#cccccc" stroke-width="2.2" fill="none" stroke-linejoin="miter"/>
<path d="M135.4 1994.9l7.6-55.1l7.5 40.8l7.6-10.3l7.5 11.5l7.6-26.9l7.5 23.1l7.6-19.8l7.5 1.3l7.6-21.9l7.5 29.4l7.6-59.2l7.6-31.2l7.5-14l7.6 49.1l7.5-68.4l7.6 49.7l7.5-24.1l7.6 18l7.5 18.2l7.6 89.8l7.5-83.2l7.6 2.3l7.6 70.6l7.5-138.2l7.6 83.6l7.5 24.6l7.6 40.3l7.5-39.2l7.6 22.9l7.5 16.3l7.6-57.2l7.5 57.2l7.6-54.5l7.6 7.1l7.5 47.4l7.6 0l7.5 0l7.6 0l7.5-14.2l7.6-11.6l7.5 25.8l7.6 0l7.5 0l7.6 0l7.6 0l7.5 0l7.6 0l7.5 0l7.6 0l7.5-18.5l7.6 9.4l7.5 9.1l7.6-7.4l7.5-17.2l7.6 5.8l7.6 18.8l7.5-5.6l7.6 5.6l7.5 0l7.6 0l7.5 0l7.6 0l7.5 0l7.6 0l7.5 0l7.6 0l6.5 0" stroke="#cccccc" stroke-width="2.2" fill="none" stroke-linejoin="miter"/>
<path d="M135.4 1994.9l7.6-473.6l7.5 463.8l7.6-14.6l7.5 9.4l7.6 4.4l7.5-25.8l7.6 5.1l7.5-19l7.6 10.8l7.5 0.3l7.6-73l7.6-21.7l7.5-3.8l7.6 23l7.5 5.3l7.6 43.8l7.5-72.4l7.6 1.8l7.5 32.5l7.6 57.4l7.5-8.4l7.6-38.7l7.6 61.2l7.5-69.8l7.6 13.5l7.5 88.5l7.6-142.1l7.5 89.9l7.6-26.7l7.5 78.9l7.6 0l7.5-60.7l7.6 19.7l7.6-0.4l7.5 41.4l7.6-46.7l7.5-1.9l7.6 48.6l7.5-48.3l7.6 21.8l7.5 26.5l7.6-18.2l7.5 18.2l7.6 0l7.6 0l7.5 0l7.6 0l7.5 0l7.6 0l7.5 0l7.6 0l7.5-23.8l7.6 23.8l7.5 0l7.6 0l7.6 0l7.5 0l7.6 0l7.5 0l7.6 0l7.5 0l7.6 0l7.5 0l7.6 0l7.5 0l7.6 0l6.5-6.6" stroke="#cccccc" stroke-width="2.2" fill="none" stroke-linejoin="miter"/>
<path d="M135.4 1994.9l7.6-292.3l7.5 284.9l7.6 2.4l7.5-5.1l7.6 0.1l7.5-12.5l7.6 22.5l7.5-23.4l7.6-20.3l7.5-10.4l7.6 34.2l7.6-79.9l7.5 99.8l7.6-24.8l7.5-37.1l7.6 22.5l7.5 24.5l7.6-85.8l7.5 44.3l7.6 50.9l7.5 5.5l7.6-76.6l7.6 17.3l7.5 59.3l7.6-18.2l7.5-30.6l7.6 48.8l7.5 0l7.6 0l7.5-25.6l7.6-7.9l7.5 33.5l7.6 0l7.6-58.8l7.5 22l7.6 36.8l7.5 0l7.6 0l7.5 0l7.6 0l7.5 0l7.6-38.1l7.5 26.5l7.6 5.3l7.6 0.6l7.5 5.7l7.6 0l7.5 0l7.6-7.3l7.5 7.3l7.6 0l7.5 0l7.6 0l7.5-3.9l7.6 1.9l7.6 2l7.5 0l7.6 0l7.5 0l7.6-13.1l7.5 13.1l7.6 0l7.5 0l7.6 0l7.5 0l7.6 0l6.5 0" stroke="#cccccc" stroke-width="2.2" fill="none" stroke-linejoin="miter"/>
<path d="M135.4 1994.9l7.6-130.8l7.5 101.1l7.6 8.5l7.5 4.8l7.6-7.7l7.5-0.9l7.6 1.7l7.5-21.7l7.6-29.4l7.5-8.7l7.6 4l7.6 7.7l7.5 0.2l7.6-53.8l7.5-13.7l7.6 16.3l7.5 10.7l7.6 93.5l7.5-131.5l7.6 59.8l7.5-8.3l7.6 72.7l7.6-0.2l7.5-25.9l7.6 5.6l7.5 46l7.6-34.9l7.5 34.9l7.6-57.2l7.5 31.1l7.6-4.1l7.5-26.7l7.6 15.8l7.6 19.9l7.5-46.2l7.6 67.4l7.5 0l7.6-36.2l7.5 6.7l7.6 29.5l7.5-11.5l7.6-26.8l7.5 38.3l7.6 0l7.6-21.1l7.5 11.7l7.6-6.2l7.5-1l7.6 4.8l7.5 11.8l7.6 0l7.5 0l7.6-17.4l7.5 17.4l7.6 0l7.6 0l7.5-31.1l7.6 31.1l7.5-9.3l7.6 9.3l7.5 0l7.6 0l7.5 0l7.6 0l7.5 0l7.6 0l6.5 0" stroke="#cccccc" stroke-width="2.2" fill="none" stroke-linejoin="miter"/>
<path d="M135.4 1994.9l7.6-59.5l7.5 58.1l7.6-24.4l7.5 7l7.6 8.8l7.5-9.2l7.6 19.2l7.5-5.4l7.6-17.6l7.5-47.4l7.6-16.4l7.6-0.4l7.5-17l7.6-24.1l7.5 13.8l7.6 21.7l7.5 50.3l7.6-53.4l7.5 77.8l7.6-1l7.5 19.1l7.6-3.5l7.6-80.4l7.5 83.9l7.6-5.3l7.5-29.8l7.6 35.1l7.5 0l7.6 0l7.5 0l7.6 0l7.5-46.2l7.6 22.5l7.6 13.9l7.5 9.8l7.6-7.6l7.5 7.6l7.6-15.6l7.5 15.6l7.6-21.9l7.5 21.9l7.6-20.1l7.5 20.1l7.6 0l7.6-11.2l7.5 11.2l7.6 0l7.5 0l7.6 0l7.5 0l7.6 0l7.5 0l7.6 0l7.5 0l7.6 0l7.6 0l7.5 0l7.6-3.6l7.5 3.6l7.6 0l7.5-6l7.6 6l7.5-18.8l7.6 18.8l7.5 0l7.6 0l6.5 0" stroke="#cccccc" stroke-width="2.2" fill="none" stroke-linejoin="miter"/>
<path d="M135.4 1994.9l7.6-12.6l7.5-9.4l7.6 10.1l7.5-10l7.6 8.4l7.5-17.3l7.6-12.8l7.5-38.2l7.6 9.7l7.5-10.1l7.6-28.4l7.6 31l7.5 1.1l7.6-2.5l7.5-9.9l7.6-24.7l7.5-48.1l7.6 46l7.5 106.3l7.6-13.8l7.5-72.7l7.6 66.1l7.6-28.6l7.5-25.4l7.6 85.8l7.5-98.5l7.6 37.7l7.5-2.6l7.6 63.4l7.5 0l7.6 0l7.5-40.4l7.6 40.4l7.6 0l7.5-3.4l7.6-28.7l7.5 32.1l7.6-8.4l7.5 8.4l7.6-32.6l7.5 32.6l7.6 0l7.5 0l7.6 0l7.6-28.2l7.5 8.2l7.6 2.6l7.5 17.4l7.6 0l7.5-25.9l7.6 17.7l7.5-11.8l7.6 20l7.5 0l7.6 0l7.6-24.4l7.5 24.4l7.6 0l7.5-26.7l7.6 26.7l7.5 0l7.6 0l7.5 0l7.6 0l7.5-2.3l7.6 2.3l6.5-1.7" stroke="#cccccc" stroke-width="2.2" fill="none" stroke-linejoin="miter"/>
<path d="M135.4 1994.9l7.6-559.5l7.5 530.7l7.6 7.9l7.5 5.9l7.6-10.4l7.5 2l7.6-14.2l7.5 12.1l7.6-20.4l7.5-24.5l7.6 20.6l7.6-56.5l7.5 31.2l7.6-31.4l7.5 62.2l7.6-65.3l7.5-3.3l7.6-1.4l7.5 114.3l7.6-183.2l7.5 130.5l7.6-78.2l7.6-3l7.5 8.6l7.6 125.3l7.5-125.5l7.6 125.5l7.5 0l7.6-54.2l7.5 54.2l7.6 0l7.5-74.3l7.6 74.3l7.6-38l7.5-1.8l7.6 39.8l7.5 0l7.6 0l7.5 0l7.6 0l7.5-20.1l7.6 20.1l7.5 0l7.6 0l7.6 0l7.5 0l7.6 0l7.5 0l7.6 0l7.5 0l7.6 0l7.5 0l7.6-22.1l7.5 22.1l7.6 0l7.6 0l7.5 0l7.6 0l7.5 0l7.6-23.1l7.5 23.1l7.6 0l7.5-20.2l7.6 20.2l7.5-16l7.6 8.5l6.5 7.5" stroke="#cccccc" stroke-width="2.2" fill="none" stroke-linejoin="miter"/>
<path d="M135.4 1994.9l7.6-188.6l7.5 186.6l7.6-21.4l7.5 9.3l7.6-9.2l7.5 9.7l7.6-6.8l7.5-16.3l7.6-25.5l7.5-3.9l7.6-52.5l7.6 11.3l7.5-6l7.6 39.1l7.5-2.3l7.6-20.9l7.5-30.4l7.6 11.4l7.5 22.6l7.6 10.7l7.5 83.1l7.6-113.5l7.6 37.9l7.5-32.6l7.6 47.5l7.5-13.7l7.6-21l7.5 18.4l7.6 70.2l7.5-57.7l7.6 64.5l7.5 0l7.6 0l7.6 0l7.5-12.5l7.6 12.5l7.5-25.5l7.6 25.5l7.5 0l7.6 0l7.5-40l7.6 40l7.5-13.3l7.6 13.3l7.6 0l7.5-27.2l7.6-4.2l7.5 31.4l7.6 0l7.5-30.7l7.6 30.7l7.5 0l7.6 0l7.5 0l7.6-30.3l7.6 30.3l7.5 0l7.6 0l7.5-21.5l7.6 21.5l7.5 0l7.6 0l7.5 0l7.6 0l7.5-8.2l7.6 8.2l6.5 0" stroke="#cccccc" stroke-width="2.2" fill="none" stroke-linejoin="miter"/>
<path d="M135.4 1994.9l7.6-516l7.5 496l7.6-3.2l7.5 18.7l7.6-7.8l7.5 4.8l7.6-15.9l7.5-18.6l7.6 1.5l7.5 5.4l7.6-37.3l7.6-42l7.5 30.8l7.6 18.7l7.5-50.1l7.6 28.5l7.5-3.1l7.6-68.2l7.5 80.5l7.6 34.5l7.5-24.3l7.6 29l7.6-25l7.5-45.8l7.6-2.6l7.5 111.5l7.6-89.7l7.5 55l7.6-19.9l7.5 54.6l7.6-62.5l7.5-9.1l7.6 45.5l7.6-18.2l7.5 44.3l7.6-33.7l7.5-12.5l7.6 46.2l7.5-28.6l7.6 28.6l7.5 0l7.6-9.1l7.5 9.1l7.6 0l7.6-18.1l7.5 18.1l7.6 0l7.5-4.5l7.6 4.5l7.5 0l7.6 0l7.5 0l7.6 0l7.5-3.7l7.6-16.1l7.6 19.8l7.5-20.3l7.6 20.3l7.5 0l7.6 0l7.5 0l7.6 0l7.5 0l7.6 0l7.5 0l7.6 0l6.5 0" stroke="#cccccc" stroke-width="2.2" fill="none" stroke-linejoin="miter"/>
<path d="M135.4 1994.9l7.6-219.9l7.5 207.2l7.6-7l7.5 2.3l7.6-19.2l7.5 11.8l7.6-1.7l7.5-5.9l7.6-15.2l7.5-27.6l7.6-25l7.6-13l7.5-49.6l7.6 63.6l7.5-7.5l7.6-54.8l7.5 48.5l7.6 26.4l7.5 12.5l7.6-4.4l7.5 11.8l7.6-43.6l7.6 110.3l7.5-85.7l7.6-16.7l7.5 102.4l7.6-104.3l7.5-36.3l7.6 140.6l7.5-45.2l7.6-28.7l7.5 73.9l7.6-75.3l7.6 75.3l7.5-42.4l7.6-3.7l7.5 46.1l7.6-27.1l7.5 27.1l7.6-9.2l7.5-25l7.6 34.2l7.5 0l7.6-10.3l7.6 10.3l7.5 0l7.6 0l7.5-17.3l7.6-2.2l7.5 19.5l7.6-6.6l7.5 6.6l7.6 0l7.5 0l7.6 0l7.6-13.2l7.5 13.2l7.6 0l7.5 0l7.6-20.6l7.5 20.6l7.6-7l7.5 7l7.6 0l7.5 0l7.6 0l6.5-3.2" stroke="#cccccc" stroke-width="2.2" fill="none" stroke-linejoin="miter"/>
<path d="M135.4 1994.9l7.6-258.5l7.5 229.9l7.6 13.4l7.5-15.6l7.6 12.3l7.5-2.9l7.6-17.2l7.5-19.5l7.6-19.2l7.5-11.2l7.6 14.8l7.6-7.9l7.5-76.7l7.6-18.3l7.5-0.2l7.6 119.5l7.5-50.5l7.6 6l7.5 2.2l7.6 60.3l7.5-93.7l7.6-32l7.6 165l7.5-43.4l7.6-125.9l7.5 92.2l7.6 43.4l7.5 33.7l7.6 0l7.5-70.9l7.6-15.5l7.5 45.5l7.6-28.4l7.6 69.3l7.5-38.6l7.6-24.6l7.5 53.5l7.6-56l7.5 31.9l7.6 33.8l7.5-44.9l7.6-1.3l7.5 19.2l7.6-8.3l7.6 35.3l7.5 0l7.6-22.7l7.5-9.7l7.6 32.4l7.5-2l7.6 2l7.5 0l7.6 0l7.5-13.7l7.6-8.6l7.6 7.9l7.5 14.4l7.6 0l7.5 0l7.6 0l7.5 0l7.6 0l7.5-18.2l7.6 18.2l7.5-19.4l7.6 19.4l6.5 0" stroke="#cccccc" stroke-width="2.2" fill="none" stroke-linejoin="miter"/>
<path d="M135.4 1994.9l7.6-461.9l7.5 457.2l7.6 4.7l7.5-24l7.6 3.2l7.5-3.6l7.6-20.7l7.5-15.1l7.6 44.4l7.5-47.5l7.6 20.6l7.6-71.9l7.5 15.6l7.6-7.6l7.5-12.4l7.6 55.8l7.5-41.1l7.6 17l7.5-26.9l7.6 114.2l7.5-101.7l7.6 71.5l7.6 6.7l7.5 4.7l7.6 18.8l7.5-64.6l7.6-5l7.5 69.6l7.6 0l7.5 0l7.6-60.8l7.5 60.8l7.6-14.4l7.6-53.2l7.5 29.8l7.6 25.7l7.5 1.8l7.6 2.1l7.5 8.2l7.6-15.3l7.5-3.6l7.6 18.9l7.5 0l7.6 0l7.6-12.5l7.5 12.5l7.6 0l7.5-24.7l7.6 6.4l7.5 18.3l7.6-15.9l7.5 15.9l7.6-13.7l7.5 13.7l7.6 0l7.6-14l7.5 14l7.6 0l7.5 0l7.6 0l7.5 0l7.6 0l7.5 0l7.6 0l7.5-2.2l7.6 2.2l6.5 0" stroke="#cccccc" stroke-width="2.2" fill="none" stroke-linejoin="miter"/>
<path d="M135.4 1994.9l7.6-442.5l7.5 428.6l7.6 5.7l7.5-4.3l7.6 12.5l7.5-7.1l7.6-29.5l7.5 21.8l7.6-42.9l7.5 10.8l7.6-46.1l7.6 16l7.5 13l7.6-74l7.5 88.7l7.6-53.3l7.5 11.6l7.6-49.7l7.5 42l7.6 98.7l7.5-87.7l7.6 33.6l7.6-14.1l7.5 7.5l7.6 17.8l7.5 42.9l7.6 0l7.5 0l7.6-11.4l7.5-4.7l7.6 0.5l7.5 15.6l7.6-31.2l7.6-16.3l7.5 9.9l7.6 21.3l7.5 16.3l7.6-21.2l7.5-5.4l7.6-3.7l7.5 30.3l7.6-31.5l7.5 31.5l7.6 0l7.6 0l7.5 0l7.6 0l7.5-6.8l7.6 6.8l7.5 0l7.6 0l7.5 0l7.6 0l7.5 0l7.6 0l7.6 0l7.5 0l7.6-6.8l7.5 6.8l7.6 0l7.5 0l7.6 0l7.5 0l7.6-9.2l7.5 9.2l7.6 0l6.5 0" stroke="#cccccc" stroke-width="2.2" fill="none" stroke-linejoin="miter"/>
<path d="M135.4 1994.9l7.6-301.5l7.5 282.4l7.6 7.1l7.5-1.6l7.6 0.6l7.5 0.2l7.6-11.3l7.5 8.9l7.6-45.2l7.5 13.4l7.6-5.9l7.6-57.7l7.5-8.3l7.6 45.8l7.5-74.1l7.6 22.4l7.5 78.4l7.6-40.4l7.5 86.8l7.6-146.3l7.5 49.1l7.6 97.2l7.6-91l7.5-36.9l7.6-29.5l7.5-12.8l7.6 86.1l7.5 1.6l7.6-7.4l7.5 4.5l7.6-23.7l7.5 48l7.6 61.1l7.6-36.3l7.5 13.3l7.6 23l7.5 0l7.6 0l7.5 0l7.6-34.6l7.5 34.6l7.6 0l7.5 0l7.6-30.5l7.6 11.5l7.5 19l7.6 0l7.5 0l7.6-19.8l7.5 19.8l7.6-7l7.5 7l7.6 0l7.5-7.2l7.6 7.2l7.6 0l7.5 0l7.6 0l7.5 0l7.6 0l7.5 0l7.6 0l7.5-20.1l7.6 20.1l7.5 0l7.6 0l6.5 0" stroke="#cccccc" stroke-width="2.2" fill="none" stroke-linejoin="miter"/>
<path d="M135.4 1994.9l7.6-214.1l7.5 204.3l7.6 0.3l7.5 9.1l7.6-15l7.5 7l7.6-16.2l7.5-24.3l7.6 8.4l7.5 19.5l7.6-56.1l7.6-6.8l7.5 4.8l7.6-12.7l7.5-28.5l7.6 19.4l7.5 76.2l7.6-30.5l7.5-32.2l7.6 79.9l7.5-1l7.6 8.5l7.6-6.5l7.5 6.5l7.6 0l7.5 0l7.6-103.6l7.5 51.2l7.6 40.7l7.5 11.7l7.6-48.8l7.5 4.3l7.6 44.5l7.6-74.2l7.5 27.1l7.6 47.1l7.5 0l7.6 0l7.5-36.7l7.6 23.3l7.5-11.2l7.6 21.5l7.5 3.1l7.6-3.4l7.6 3.4l7.5 0l7.6 0l7.5-12.4l7.6 12.4l7.5-5.7l7.6-4l7.5 9.7l7.6-21.1l7.5 21.1l7.6 0l7.6-8l7.5 8l7.6-25.6l7.5 25.6l7.6-8.7l7.5 8.7l7.6 0l7.5-11.3l7.6 11.3l7.5 0l7.6 0l6.5 0" stroke="#cccccc" stroke-width="2.2" fill="none" stroke-linejoin="miter"/>
<path d="M135.4 1994.9l7.6-284.7l7.5 252.6l7.6 20.7l7.5-15.4l7.6 6.1l7.5-21.3l7.6 3.7l7.5 15.7l7.6-14.9l7.5-49.2l7.6 12.3l7.6-26.3l7.5-1.1l7.6 10.7l7.5-4.8l7.6 31.3l7.5-43.2l7.6-9.7l7.5-43.1l7.6 60.3l7.5-19.2l7.6 23.7l7.6-9.9l7.5 105.7l7.6-97.7l7.5 97.7l7.6-151.7l7.5 19.5l7.6 54.2l7.5 1.5l7.6 36.4l7.5 40.1l7.6-70.6l7.6 51.1l7.5 19.5l7.6-29.8l7.5 29.8l7.6-48.3l7.5 11.5l7.6 0.5l7.5 36.3l7.6-31.2l7.5 31.2l7.6 0l7.6 0l7.5 0l7.6-13.9l7.5 13.9l7.6-30.7l7.5 30.7l7.6 0l7.5 0l7.6 0l7.5 0l7.6 0l7.6 0l7.5 0l7.6-14.1l7.5 14.1l7.6 0l7.5 0l7.6 0l7.5 0l7.6 0l7.5 0l7.6 0l6.5 0" stroke="#cccccc" stroke-width="2.2" fill="none" stroke-linejoin="miter"/>
<path d="M135.4 1994.9l7.6-164.3l7.5 153.5l7.6 4.5l7.5 5.6l7.6-27.7l7.5 7l7.6-20l7.5 14.4l7.6 1.7l7.5-8.5l7.6-17l7.6-6.7l7.5-38.4l7.6 32l7.5-31.7l7.6 1.7l7.5 27l7.6-48.2l7.5 115.1l7.6-66.8l7.5 66.8l7.6-99l7.6 73.9l7.5 25.1l7.6-63.5l7.5 34.3l7.6-1.5l7.5-23.6l7.6 54.3l7.5-9.2l7.6-45.3l7.5 54.5l7.6-27.8l7.6 27.8l7.5 0l7.6 0l7.5 0l7.6 0l7.5 0l7.6 0l7.5 0l7.6-20.9l7.5-14.4l7.6 35.3l7.6 0l7.5 0l7.6 0l7.5-24l7.6 24l7.5-0.4l7.6 0.4l7.5-28.5l7.6 3.5l7.5 25l7.6 0l7.6 0l7.5 0l7.6-20.4l7.5 20.4l7.6 0l7.5 0l7.6 0l7.5 0l7.6 0l7.5 0l7.6 0l6.5 0" stroke="#cccccc" stroke-width="2.2" fill="none" stroke-linejoin="miter"/>
<path d="M135.4 1994.9l7.6-214.8l7.5 203l7.6-3.4l7.5-12.2l7.6 9.8l7.5 5.1l7.6 12.5l7.5-64.5l7.6 19.3l7.5 6.3l7.6-32.5l7.6-56.9l7.5-16.9l7.6 72.8l7.5-56.5l7.6 74.7l7.5-58.9l7.6-0.2l7.5 79.7l7.6-0.7l7.5 34.3l7.6-24.4l7.6 24.4l7.5-88.8l7.6 88.8l7.5-7.5l7.6 7.5l7.5 0l7.6-26.5l7.5 6.9l7.6 19.6l7.5-30.6l7.6 30.6l7.6-11.7l7.5-7.5l7.6 12l7.5 7.2l7.6 0l7.5-22.5l7.6 1.5l7.5 21l7.6 0l7.5-5.5l7.6 3.6l7.6-12.2l7.5 14.1l7.6 0l7.5 0l7.6-4.7l7.5 4.7l7.6 0l7.5-5.1l7.6 5.1l7.5 0l7.6 0l7.6 0l7.5 0l7.6 0l7.5-9.5l7.6 9.5l7.5-8.4l7.6 8.4l7.5 0l7.6 0l7.5 0l7.6 0l6.5 0" stroke="#cccccc" stroke-width="2.2" fill="none" stroke-linejoin="miter"/>
<path d="M135.4 1994.9l7.6-258.8l7.5 242l7.6 16.8l7.5-4.4l7.6-10.9l7.5-18.8l7.6 16.8l7.5 6.3l7.6-20.2l7.5-7l7.6-24.7l7.6-14.5l7.5 2.4l7.6 14l7.5-7.6l7.6 49.4l7.5-62.4l7.6 77.6l7.5-7.9l7.6-4.7l7.5-34.8l7.6 2.2l7.6-9l7.5 54l7.6-38.9l7.5 43.1l7.6-55.2l7.5 55.2l7.6-9.5l7.5 9.5l7.6-74.7l7.5 27.2l7.6 47.5l7.6 0l7.5 0l7.6-28l7.5 28l7.6-25.2l7.5 25.2l7.6-6.8l7.5 6.8l7.6-10.8l7.5 10.8l7.6-2.7l7.6 2.7l7.5-20.6l7.6 20.6l7.5 0l7.6-17.9l7.5 17.9l7.6 0l7.5 0l7.6 0l7.5-3.5l7.6 3.5l7.6-4.9l7.5-15.9l7.6 20.8l7.5 0l7.6 0l7.5 0l7.6 0l7.5 0l7.6 0l7.5 0l7.6 0l6.5 0" stroke="#cccccc" stroke-width="2.2" fill="none" stroke-linejoin="miter"/>
<path d="M135.4 1994.9l7.6-456.4l7.5 427.1l7.6 3.8l7.5 5.5l7.6-21.8l7.5-8.3l7.6 13.2l7.5 27.3l7.6-74.1l7.5-10.1l7.6 31.6l7.6 34.7l7.5-87.7l7.6 31.8l7.5-16.4l7.6 9.7l7.5-38.6l7.6-16.5l7.5 48.7l7.6-55.2l7.5 151.7l7.6 0l7.6-66.7l7.5-2.7l7.6-0.2l7.5 69.6l7.6 0l7.5-112.3l7.6-18.1l7.5 130.4l7.6-49.2l7.5 49.2l7.6-5.1l7.6-25l7.5-10.6l7.6-24.3l7.5 65l7.6 0l7.5 0l7.6-35l7.5 21.3l7.6 13.7l7.5-29.3l7.6 29.3l7.6-6.4l7.5-14.3l7.6 20.7l7.5 0l7.6 0l7.5-13.2l7.6 13.2l7.5-4.5l7.6 4.5l7.5 0l7.6 0l7.6 0l7.5 0l7.6-5l7.5 5l7.6-27.6l7.5 6.5l7.6 21.1l7.5 0l7.6 0l7.5 0l7.6 0l6.5 0" stroke="#cccccc" stroke-width="2.2" fill="none" stroke-linejoin="miter"/>
<path d="M135.4 1994.9l7.6-303.7l7.5 290.2l7.6-12.5l7.5-0.4l7.6 8l7.5-25.6l7.6 5.2l7.5-2.3l7.6-20.3l7.5-60.5l7.6 18l7.6-9.8l7.5-40l7.6 42.5l7.5-30.8l7.6 82.4l7.5-25.3l7.6-54.9l7.5 12.8l7.6 38.9l7.5 5.5l7.6 57.7l7.6-96.1l7.5-1.9l7.6 38.5l7.5-9.1l7.6-15.3l7.5 16.3l7.6-25.6l7.5 118.1l7.6-82.2l7.5 24l7.6 10.1l7.6-56.7l7.5 104.8l7.6-59.9l7.5 11.5l7.6-12.6l7.5 61l7.6-35l7.5 35l7.6-36.6l7.5 2.7l7.6 33.9l7.6 0l7.5-23.8l7.6-21.3l7.5 14.2l7.6 30.9l7.5 0l7.6 0l7.5 0l7.6 0l7.5 0l7.6 0l7.6 0l7.5 0l7.6 0l7.5 0l7.6 0l7.5 0l7.6 0l7.5 0l7.6 0l7.5 0l7.6-7.5l6.5 7.5" stroke="#cccccc" stroke-width="2.2" fill="none" stroke-linejoin="miter"/>
<path d="M135.4 1994.9l7.6-183l7.5 159l7.6 5l7.5 11.9l7.6-11.2l7.5 6.5l7.6-3l7.5-32.7l7.6-15.9l7.5-32.7l7.6 96.1l7.6-36.7l7.5-40.4l7.6-14.6l7.5-64.1l7.6 44.2l7.5 10l7.6 101.6l7.5-28.4l7.6-21.4l7.5-59.5l7.6 16.4l7.6 69.1l7.5-78.7l7.6 49.2l7.5 40.5l7.6-60.5l7.5 9.9l7.6 63.4l7.5-30.7l7.6 28.5l7.5 2.2l7.6-40.4l7.6 27.7l7.5 12.7l7.6 0l7.5-7.6l7.6 7.6l7.5 0l7.6-21.5l7.5 21.5l7.6-24.2l7.5-3.4l7.6 27.6l7.6 0l7.5-10.5l7.6-8.1l7.5 18.6l7.6-8.9l7.5-12l7.6 20.9l7.5-11.6l7.6 11.6l7.5 0l7.6 0l7.6 0l7.5 0l7.6 0l7.5 0l7.6 0l7.5 0l7.6 0l7.5 0l7.6 0l7.5 0l7.6 0l6.5 0" stroke="#cccccc" stroke-width="2.2" fill="none" stroke-linejoin="miter"/>
<path d="M135.4 1994.9l7.6-407.3l7.5 385.2l7.6 8.5l7.5-14.6l7.6 6.2l7.5 0.6l7.6-15.3l7.5-39.8l7.6 20.1l7.5 19l7.6-33.9l7.6 25.9l7.5-52.6l7.6 35.4l7.5-67.5l7.6 43.5l7.5 4.8l7.6 38.6l7.5-63.9l7.6 72l7.5-12.5l7.6 35.1l7.6-41.5l7.5-22.7l7.6 35.4l7.5-15.9l7.6-15l7.5 6.6l7.6 31.3l7.5-41.4l7.6 48.8l7.5-27.1l7.6 54l7.6-35.5l7.5 29.8l7.6-4.6l7.5-3.2l7.6 13.5l7.5 0l7.6-19.3l7.5 13l7.6 6.3l7.5 0l7.6-14.5l7.6 14.5l7.5-8.6l7.6-17l7.5 5.3l7.6 20.3l7.5 0l7.6 0l7.5 0l7.6 0l7.5-7.2l7.6 7.2l7.6-28.1l7.5 28.1l7.6-14.4l7.5 14.4l7.6 0l7.5 0l7.6-10.7l7.5 7.7l7.6 3l7.5 0l7.6 0l6.5 0" stroke="#cccccc" stroke-width="2.2" fill="none" stroke-linejoin="miter"/>
<path d="M135.4 1994.9l7.6-274.6l7.5 267.5l7.6-28.7l7.5-7l7.6 10.6l7.5-20.6l7.6 9.1l7.5-23.3l7.6-12.4l7.5 32.2l7.6-68.6l7.6-28.6l7.5-30.8l7.6 59.1l7.5-27.7l7.6 2l7.5 42.2l7.6 19.5l7.5-10l7.6-9.3l7.5 20.7l7.6-69.1l7.6-5l7.5 152.8l7.6-55l7.5-43.1l7.6-15.3l7.5-4.6l7.6 16l7.5 10.3l7.6 19.6l7.5 38.9l7.6-24.9l7.6 58.1l7.5 0l7.6-67.2l7.5 36.7l7.6 30.5l7.5 0l7.6-57.5l7.5 57.5l7.6-42.5l7.5 42.5l7.6-24.7l7.6 24.7l7.5 0l7.6 0l7.5 0l7.6-21.4l7.5 14.7l7.6 6.7l7.5-24.4l7.6 24.4l7.5 0l7.6 0l7.6 0l7.5 0l7.6 0l7.5 0l7.6 0l7.5 0l7.6 0l7.5 0l7.6-8.2l7.5 8.2l7.6 0l6.5-2.3" stroke="#cccccc" stroke-width="2.2" fill="none" stroke-linejoin="miter"/>
<path d="M135.4 1994.9l7.6-394.9l7.5 360.2l7.6 19.9l7.5-25.7l7.6 2.8l7.5-8.8l7.6-3.7l7.5 18.6l7.6-49.1l7.5-36.2l7.6 32.7l7.6-31.5l7.5-46.3l7.6-14l7.5 19.9l7.6-22.3l7.5-2l7.6 41.4l7.5 28.2l7.6 20l7.5-80l7.6 6.6l7.6-3l7.5 31l7.6 87.1l7.5-95.2l7.6 38l7.5-27.3l7.6 133.6l7.5-119.7l7.6 119.7l7.5-98.9l7.6 18.9l7.6-20.3l7.5 29.2l7.6 71.1l7.5-60.7l7.6 16.2l7.5 44.5l7.6-34.9l7.5-7.9l7.6 42.8l7.5-26.3l7.6 26.3l7.6 0l7.5 0l7.6 0l7.5-29.9l7.6 29.9l7.5 0l7.6 0l7.5 0l7.6 0l7.5 0l7.6 0l7.6 0l7.5 0l7.6 0l7.5 0l7.6 0l7.5-25.4l7.6 25.4l7.5 0l7.6 0l7.5 0l7.6 0l6.5 0" stroke="#cccccc" stroke-width="2.2" fill="none" stroke-linejoin="miter"/>
<path d="M135.4 1994.9l7.6-178l7.5 156.7l7.6 10.4l7.5-23.9l7.6 4.1l7.5-2.2l7.6 18.6l7.5-21.2l7.6-13.1l7.5-32.2l7.6-4.9l7.6-16.5l7.5-0.6l7.6-13.3l7.5 2l7.6 25.6l7.5-14l7.6-24.8l7.5-3l7.6 30.7l7.5 56.7l7.6-11.9l7.6 10.2l7.5-73.9l7.6-38.7l7.5 157.2l7.6 0l7.5-17.7l7.6-58.8l7.5 76.5l7.6-48.4l7.5 48.4l7.6-13.6l7.6 13.6l7.5-42.2l7.6-8.1l7.5 27l7.6-1.7l7.5 8.4l7.6 16.6l7.5 0l7.6-33.3l7.5-3.5l7.6 36.8l7.6 0l7.5 0l7.6 0l7.5 0l7.6-4.8l7.5 4.8l7.6-9.8l7.5 9.8l7.6 0l7.5 0l7.6 0l7.6-7.9l7.5 7.9l7.6-24.8l7.5 24.8l7.6 0l7.5-5.5l7.6 5.5l7.5 0l7.6 0l7.5 0l7.6-8.3l6.5 8.3" stroke="#cccccc" stroke-width="2.2" fill="none" stroke-linejoin="miter"/>
<path d="M135.4 1994.9l7.6-676l7.5 604.4l7.6-24.7l7.5-9l7.6-21.1l7.5-34.4l7.6-43.5l7.5 3l7.6-38.7l7.5-5.4l7.6-9.3l7.6 98.6l7.5 51.9l7.6 38.2l7.5 12.8l7.6 39.5l7.5 13.7l7.6 0l7.5 0l7.6-23.4l7.5 23.4l7.6 0l7.6 0l7.5 0l7.6 0l7.5 0l7.6 0l7.5 0l7.6 0l7.5 0l7.6 0l7.5 0l7.6 0l7.6 0l7.5 0l7.6 0l7.5 0l7.6 0l7.5 0l7.6 0l7.5 0l7.6 0l7.5 0l7.6 0l7.6 0l7.5 0l7.6 0l7.5 0l7.6 0l7.5 0l7.6 0l7.5 0l7.6 0l7.5 0l7.6 0l7.6 0l7.5 0l7.6 0l7.5 0l7.6 0l7.5 0l7.6 0l7.5 0l7.6 0l7.5 0l7.6 0l6.5 0" stroke="#ffbfbf" stroke-width="2.2" fill="none" stroke-linejoin="miter"/>
<path d="M135.4 1994.9l7.6-898.1l7.5 837.9l7.6 5.2l7.5-61.8l7.6-7.2l7.5-34.1l7.6-98.2l7.5-24.1l7.6 47.9l7.5 26.7l7.6 21.1l7.6 184.7l7.5-17.4l7.6 17.4l7.5 0l7.6 0l7.5 0l7.6-14.1l7.5 14.1l7.6 0l7.5 0l7.6 0l7.6 0l7.5 0l7.6 0l7.5 0l7.6 0l7.5 0l7.6 0l7.5 0l7.6 0l7.5-12.8l7.6 12.8l7.6 0l7.5 0l7.6 0l7.5 0l7.6 0l7.5 0l7.6 0l7.5 0l7.6 0l7.5 0l7.6 0l7.6 0l7.5 0l7.6 0l7.5 0l7.6 0l7.5 0l7.6 0l7.5 0l7.6 0l7.5 0l7.6 0l7.6 0l7.5 0l7.6 0l7.5 0l7.6 0l7.5 0l7.6 0l7.5 0l7.6 0l7.5 0l7.6 0l6.5 0" stroke="#ffbfbf" stroke-width="2.2" fill="none" stroke-linejoin="miter"/>
<path d="M135.4 1994.9l7.6-897l7.5 860.3l7.6-19.9l7.5-3.2l7.6-41.8l7.5-76.6l7.6 33.9l7.5-89.3l7.6-34.4l7.5 116.1l7.6-66.1l7.6 37.6l7.5 144.1l7.6 19.3l7.5-63.5l7.6 62.3l7.5-7.6l7.6 10l7.5 15.8l7.6 0l7.5 0l7.6 0l7.6 0l7.5 0l7.6 0l7.5 0l7.6 0l7.5 0l7.6-22.2l7.5 22.2l7.6 0l7.5-17.7l7.6 1.4l7.6 16.3l7.5 0l7.6 0l7.5 0l7.6 0l7.5 0l7.6 0l7.5 0l7.6 0l7.5 0l7.6 0l7.6 0l7.5 0l7.6 0l7.5 0l7.6 0l7.5 0l7.6 0l7.5 0l7.6 0l7.5 0l7.6 0l7.6 0l7.5 0l7.6 0l7.5 0l7.6 0l7.5 0l7.6 0l7.5 0l7.6 0l7.5 0l7.6 0l6.5 0" stroke="#ffbfbf" stroke-width="2.2" fill="none" stroke-linejoin="miter"/>
<path d="M135.4 1994.9l7.6-706.3l7.5 671.9l7.6 3.2l7.5-22.4l7.6-3l7.5-2.9l7.6-12.2l7.5 2.1l7.6-28.4l7.5 15l7.6 2.3l7.6 8.5l7.5 51.3l7.6-25.9l7.5 27.3l7.6 0l7.5 19.5l7.6 0l7.5 0l7.6 0l7.5 0l7.6 0l7.6 0l7.5 0l7.6 0l7.5 0l7.6 0l7.5 0l7.6 0l7.5 0l7.6 0l7.5 0l7.6 0l7.6 0l7.5 0l7.6 0l7.5 0l7.6 0l7.5 0l7.6 0l7.5 0l7.6 0l7.5 0l7.6 0l7.6 0l7.5 0l7.6 0l7.5 0l7.6 0l7.5 0l7.6 0l7.5 0l7.6 0l7.5 0l7.6 0l7.6 0l7.5 0l7.6 0l7.5 0l7.6 0l7.5 0l7.6 0l7.5 0l7.6 0l7.5 0l7.6 0l6.5 0" stroke="#ffbfbf" stroke-width="2.2" fill="none" stroke-linejoin="miter"/>
<path d="M135.4 1994.9l7.6-728.4l7.5 691.3l7.6-22.4l7.5-2l7.6-38.6l7.5 12.4l7.6-91.8l7.5-35.5l7.6-0.3l7.5 5.6l7.6 18.6l7.6 82.5l7.5 40l7.6 24.5l7.5 19.3l7.6 7.7l7.5 16.1l7.6-3.1l7.5 4.1l7.6 0l7.5 0l7.6 0l7.6 0l7.5 0l7.6 0l7.5 0l7.6 0l7.5 0l7.6 0l7.5 0l7.6 0l7.5 0l7.6 0l7.6 0l7.5 0l7.6 0l7.5 0l7.6 0l7.5 0l7.6 0l7.5 0l7.6 0l7.5 0l7.6 0l7.6 0l7.5 0l7.6 0l7.5 0l7.6 0l7.5 0l7.6 0l7.5 0l7.6 0l7.5 0l7.6 0l7.6 0l7.5 0l7.6 0l7.5 0l7.6 0l7.5 0l7.6 0l7.5 0l7.6 0l7.5 0l7.6 0l6.5 0" stroke="#ffbfbf" stroke-width="2.2" fill="none" stroke-linejoin="miter"/>
<path d="M135.4 1994.9l7.6-703.9l7.5 661.4l7.6 13.6l7.5-10.3l7.6-0.3l7.5-5.9l7.6-15.1l7.5-18.8l7.6-73.1l7.5-11l7.6-118.1l7.6 116.4l7.5-3.5l7.6 92.2l7.5 76.4l7.6 0l7.5 0l7.6 0l7.5-8.9l7.6 8.9l7.5 0l7.6 0l7.6 0l7.5 0l7.6 0l7.5 0l7.6 0l7.5 0l7.6 0l7.5 0l7.6 0l7.5 0l7.6 0l7.6 0l7.5 0l7.6 0l7.5 0l7.6 0l7.5 0l7.6 0l7.5 0l7.6 0l7.5 0l7.6 0l7.6 0l7.5 0l7.6 0l7.5 0l7.6 0l7.5 0l7.6 0l7.5 0l7.6 0l7.5 0l7.6 0l7.6 0l7.5 0l7.6 0l7.5 0l7.6 0l7.5 0l7.6 0l7.5 0l7.6 0l7.5 0l7.6 0l6.5 0" stroke="#ffbfbf" stroke-width="2.2" fill="none" stroke-linejoin="miter"/>
<path d="M135.4 1994.9l7.6-571.2l7.5 520.5l7.6-3.4l7.5-7.2l7.6-24l7.5-28.3l7.6-9.2l7.5-17.5l7.6-3l7.5 24.1l7.6 25.8l7.6 11.4l7.5 20.4l7.6 41.7l7.5 19.9l7.6 0l7.5 0l7.6 0l7.5 0l7.6 0l7.5 0l7.6 0l7.6 0l7.5 0l7.6 0l7.5 0l7.6 0l7.5 0l7.6 0l7.5 0l7.6-11l7.5 11l7.6 0l7.6 0l7.5 0l7.6 0l7.5 0l7.6 0l7.5 0l7.6 0l7.5 0l7.6 0l7.5 0l7.6 0l7.6 0l7.5 0l7.6 0l7.5 0l7.6 0l7.5 0l7.6 0l7.5 0l7.6 0l7.5 0l7.6 0l7.6 0l7.5 0l7.6 0l7.5 0l7.6 0l7.5 0l7.6 0l7.5 0l7.6 0l7.5 0l7.6 0l6.5 0" stroke="#ffbfbf" stroke-width="2.2" fill="none" stroke-linejoin="miter"/>
<path d="M135.4 1994.9l7.6-650.3l7.5 607.8l7.6 8.5l7.5-13.2l7.6-17.7l7.5-24l7.6-104.3l7.5 1.1l7.6-58.6l7.5 43.9l7.6 41.1l7.6 66.3l7.5 2.4l7.6 36.1l7.5 60.9l7.6 0l7.5-10.6l7.6 10.6l7.5 0l7.6 0l7.5 0l7.6-12.2l7.6 12.2l7.5-19.3l7.6 19.3l7.5 0l7.6 0l7.5 0l7.6 0l7.5 0l7.6 0l7.5 0l7.6 0l7.6 0l7.5 0l7.6 0l7.5 0l7.6 0l7.5 0l7.6 0l7.5 0l7.6 0l7.5 0l7.6 0l7.6 0l7.5 0l7.6 0l7.5 0l7.6 0l7.5 0l7.6 0l7.5 0l7.6 0l7.5 0l7.6 0l7.6 0l7.5 0l7.6 0l7.5 0l7.6 0l7.5 0l7.6 0l7.5 0l7.6 0l7.5 0l7.6 0l6.5 0" stroke="#ffbfbf" stroke-width="2.2" fill="none" stroke-linejoin="miter"/>
<path d="M135.4 1994.9l7.6-1346.4l7.5 1280.1l7.6 19.4l7.5-43l7.6-1.4l7.5-7.3l7.6-5.8l7.5-70.4l7.6 15.4l7.5 17.4l7.6 43.9l7.6 77.2l7.5-71.7l7.6 31.1l7.5-6.7l7.6 41.9l7.5 18.4l7.6-17.1l7.5 9.4l7.6 15.6l7.5 0l7.6 0l7.6 0l7.5 0l7.6 0l7.5 0l7.6 0l7.5 0l7.6 0l7.5 0l7.6 0l7.5 0l7.6 0l7.6 0l7.5 0l7.6 0l7.5 0l7.6 0l7.5 0l7.6 0l7.5 0l7.6 0l7.5 0l7.6 0l7.6 0l7.5 0l7.6 0l7.5 0l7.6 0l7.5 0l7.6 0l7.5 0l7.6 0l7.5 0l7.6 0l7.6 0l7.5 0l7.6 0l7.5 0l7.6 0l7.5 0l7.6 0l7.5 0l7.6 0l7.5 0l7.6 0l6.5 0" stroke="#ffbfbf" stroke-width="2.2" fill="none" stroke-linejoin="miter"/>
<path d="M135.4 1994.9l7.6-568.4l7.5 542.6l7.6 2.6l7.5-11.1l7.6-2.9l7.5 3.9l7.6-20.4l7.5-35.3l7.6-32.6l7.5-50.2l7.6-35.8l7.6 44.1l7.5 47.8l7.6 29.5l7.5 32l7.6 28.2l7.5 14.8l7.6 0.8l7.5 10.4l7.6 0l7.5 0l7.6 0l7.6 0l7.5 0l7.6 0l7.5 0l7.6 0l7.5 0l7.6 0l7.5 0l7.6 0l7.5 0l7.6 0l7.6 0l7.5 0l7.6 0l7.5 0l7.6 0l7.5 0l7.6 0l7.5 0l7.6 0l7.5 0l7.6 0l7.6 0l7.5 0l7.6 0l7.5 0l7.6 0l7.5 0l7.6 0l7.5 0l7.6 0l7.5 0l7.6 0l7.6 0l7.5 0l7.6 0l7.5 0l7.6 0l7.5 0l7.6 0l7.5 0l7.6 0l7.5 0l7.6 0l6.5 0" stroke="#ffbfbf" stroke-width="2.2" fill="none" stroke-linejoin="miter"/>
<path d="M135.4 1994.9l7.6-604.8l7.5 575l7.6-15.1l7.5 1l7.6-3.7l7.5-25.8l7.6-35.6l7.5-50.9l7.6-9.1l7.5 40l7.6-69.8l7.6 53.7l7.5 139.2l7.6 5.9l7.5 0l7.6 0l7.5 0l7.6 0l7.5 0l7.6 0l7.5 0l7.6 0l7.6 0l7.5 0l7.6 0l7.5 0l7.6 0l7.5 0l7.6 0l7.5 0l7.6 0l7.5 0l7.6 0l7.6 0l7.5 0l7.6 0l7.5 0l7.6 0l7.5 0l7.6 0l7.5 0l7.6 0l7.5 0l7.6 0l7.6 0l7.5 0l7.6 0l7.5 0l7.6 0l7.5 0l7.6 0l7.5 0l7.6 0l7.5 0l7.6 0l7.6 0l7.5 0l7.6 0l7.5 0l7.6 0l7.5 0l7.6 0l7.5 0l7.6 0l7.5 0l7.6 0l6.5 0" stroke="#ffbfbf" stroke-width="2.2" fill="none" stroke-linejoin="miter"/>
<path d="M135.4 1994.9l7.6-620.1l7.5 581.3l7.6-2.6l7.5-2.7l7.6-4.1l7.5-43.1l7.6 32.8l7.5-72.4l7.6-68.7l7.5 64.2l7.6-25.3l7.6 75.6l7.5-10l7.6 89.5l7.5-21.5l7.6 17.5l7.5-4l7.6 13.6l7.5 0l7.6 0l7.5 0l7.6 0l7.6 0l7.5 0l7.6 0l7.5 0l7.6-22.6l7.5 22.6l7.6 0l7.5 0l7.6 0l7.5 0l7.6 0l7.6 0l7.5 0l7.6 0l7.5 0l7.6 0l7.5 0l7.6 0l7.5 0l7.6 0l7.5 0l7.6 0l7.6 0l7.5 0l7.6 0l7.5 0l7.6 0l7.5 0l7.6 0l7.5 0l7.6 0l7.5 0l7.6 0l7.6 0l7.5 0l7.6 0l7.5 0l7.6 0l7.5 0l7.6 0l7.5 0l7.6 0l7.5 0l7.6 0l6.5 0" stroke="#ffbfbf" stroke-width="2.2" fill="none" stroke-linejoin="miter"/>
<path d="M135.4 1994.9l7.6-2911l7.5 2864.6l7.6-7.3l7.5 8.7l7.6 8.1l7.5-22.3l7.6-7.2l7.5-79.4l7.6 16.9l7.5 29.5l7.6 41.2l7.6 33.3l7.5-1.1l7.6 26l7.5 0l7.6 0l7.5 0l7.6 0l7.5 0l7.6 0l7.5 0l7.6 0l7.6 0l7.5 0l7.6 0l7.5 0l7.6 0l7.5 0l7.6 0l7.5 0l7.6 0l7.5 0l7.6 0l7.6 0l7.5 0l7.6 0l7.5 0l7.6 0l7.5 0l7.6 0l7.5 0l7.6 0l7.5 0l7.6 0l7.6 0l7.5 0l7.6 0l7.5 0l7.6 0l7.5 0l7.6 0l7.5 0l7.6 0l7.5 0l7.6 0l7.6 0l7.5 0l7.6 0l7.5 0l7.6 0l7.5 0l7.6 0l7.5 0l7.6 0l7.5 0l7.6 0l6.5 0" stroke="#ffbfbf" stroke-width="2.2" fill="none" stroke-linejoin="miter"/>
<path d="M135.4 1994.9l7.6-342.7l7.5 275.8l7.6-22.9l7.5-30.6l7.6 22.5l7.5-71.3l7.6-0.4l7.5-44.4l7.6-41.3l7.5 5.9l7.6 41.5l7.6 39.9l7.5 53.9l7.6 40l7.5 32.5l7.6 18l7.5 23.6l7.6 0l7.5 0l7.6 0l7.5 0l7.6 0l7.6 0l7.5 0l7.6 0l7.5 0l7.6 0l7.5 0l7.6 0l7.5 0l7.6-5.4l7.5 5.4l7.6 0l7.6 0l7.5 0l7.6 0l7.5 0l7.6 0l7.5 0l7.6 0l7.5 0l7.6 0l7.5 0l7.6 0l7.6 0l7.5 0l7.6 0l7.5 0l7.6 0l7.5 0l7.6 0l7.5 0l7.6 0l7.5 0l7.6 0l7.6 0l7.5 0l7.6 0l7.5 0l7.6 0l7.5 0l7.6 0l7.5 0l7.6 0l7.5 0l7.6 0l6.5 0" stroke="#ffbfbf" stroke-width="2.2" fill="none" stroke-linejoin="miter"/>
<path d="M135.4 1994.9l7.6-543.8l7.5 478.2l7.6 8.6l7.5 0.2l7.6-12.7l7.5-32l7.6-41l7.5-31l7.6-37.2l7.5 45.6l7.6-47.6l7.6 49.9l7.5 117.9l7.6-35l7.5 68.2l7.6 11.7l7.5 0l7.6 0l7.5 0l7.6 0l7.5 0l7.6 0l7.6-14.3l7.5 14.3l7.6 0l7.5 0l7.6 0l7.5 0l7.6 0l7.5 0l7.6 0l7.5 0l7.6 0l7.6 0l7.5 0l7.6 0l7.5 0l7.6 0l7.5 0l7.6 0l7.5 0l7.6 0l7.5 0l7.6 0l7.6 0l7.5 0l7.6 0l7.5 0l7.6 0l7.5 0l7.6 0l7.5 0l7.6 0l7.5 0l7.6 0l7.6 0l7.5 0l7.6 0l7.5 0l7.6 0l7.5 0l7.6 0l7.5 0l7.6 0l7.5 0l7.6 0l6.5 0" stroke="#ffbfbf" stroke-width="2.2" fill="none" stroke-linejoin="miter"/>
<path d="M135.4 1994.9l7.6-905.4l7.5 878.3l7.6 4l7.5-9.6l7.6-15.6l7.5-30.4l7.6-28.7l7.5-6.5l7.6 14.3l7.5 96.3l7.6-64.4l7.6 10.6l7.5 23.9l7.6 3.4l7.5 28.6l7.6-12.3l7.5 1.8l7.6 11.7l7.5 0l7.6 0l7.5 0l7.6 0l7.6 0l7.5 0l7.6 0l7.5 0l7.6 0l7.5 0l7.6 0l7.5 0l7.6 0l7.5 0l7.6 0l7.6 0l7.5 0l7.6 0l7.5 0l7.6 0l7.5 0l7.6 0l7.5 0l7.6 0l7.5 0l7.6 0l7.6 0l7.5 0l7.6 0l7.5 0l7.6 0l7.5 0l7.6 0l7.5 0l7.6 0l7.5 0l7.6 0l7.6 0l7.5 0l7.6 0l7.5 0l7.6 0l7.5 0l7.6 0l7.5 0l7.6 0l7.5 0l7.6 0l6.5 0" stroke="#ffbfbf" stroke-width="2.2" fill="none" stroke-linejoin="miter"/>
<path d="M135.4 1994.9l7.6-1483.7l7.5 1427.7l7.6-83.2l7.5 81.9l7.6-44l7.5 0.9l7.6 20.7l7.5-20.5l7.6-59.9l7.5 12l7.6 45l7.6 13.5l7.5 26.8l7.6 26.9l7.5 25.6l7.6-8.9l7.5 1.2l7.6 3.5l7.5-0.4l7.6 1.5l7.5 1.9l7.6 11.5l7.6 0l7.5 0l7.6 0l7.5 0l7.6 0l7.5 0l7.6 0l7.5 0l7.6 0l7.5 0l7.6 0l7.6 0l7.5 0l7.6 0l7.5 0l7.6 0l7.5 0l7.6 0l7.5 0l7.6 0l7.5 0l7.6 0l7.6 0l7.5 0l7.6 0l7.5 0l7.6 0l7.5 0l7.6 0l7.5 0l7.6 0l7.5 0l7.6 0l7.6 0l7.5 0l7.6 0l7.5 0l7.6 0l7.5 0l7.6 0l7.5 0l7.6 0l7.5 0l7.6 0l6.5 0" stroke="#ffbfbf" stroke-width="2.2" fill="none" stroke-linejoin="miter"/>
<path d="M135.4 1994.9l7.6-627.5l7.5 570.8l7.6 6.1l7.5-3.1l7.6 15.1l7.5-26.9l7.6 20.3l7.5-44.6l7.6-38.8l7.5-10.1l7.6-16.4l7.6 53.1l7.5-21l7.6 23.9l7.5 95.4l7.6-16.6l7.5-15l7.6 10l7.5 10.2l7.6 15.1l7.5 0l7.6 0l7.6 0l7.5 0l7.6 0l7.5 0l7.6 0l7.5 0l7.6 0l7.5 0l7.6 0l7.5-6.9l7.6 6.9l7.6 0l7.5 0l7.6 0l7.5 0l7.6 0l7.5 0l7.6 0l7.5 0l7.6 0l7.5 0l7.6 0l7.6 0l7.5 0l7.6 0l7.5 0l7.6 0l7.5 0l7.6 0l7.5 0l7.6 0l7.5 0l7.6 0l7.6 0l7.5 0l7.6 0l7.5 0l7.6 0l7.5 0l7.6 0l7.5 0l7.6 0l7.5 0l7.6 0l6.5 0" stroke="#ffbfbf" stroke-width="2.2" fill="none" stroke-linejoin="miter"/>
<path d="M135.4 1994.9l7.6-1330.2l7.5 1290.2l7.6 3.9l7.5-6.7l7.6-8.7l7.5-29.3l7.6-0.3l7.5-12.4l7.6-66.3l7.5-29.6l7.6-47.9l7.6 16.6l7.5 11.9l7.6 60l7.5 46.3l7.6 69.7l7.5 8.1l7.6 5.8l7.5 7.2l7.6 6l7.5-3.5l7.6 1.3l7.6 7.9l7.5 0l7.6 0l7.5 0l7.6 0l7.5 0l7.6 0l7.5 0l7.6 0l7.5 0l7.6 0l7.6 0l7.5 0l7.6-9l7.5 9l7.6 0l7.5 0l7.6 0l7.5 0l7.6 0l7.5 0l7.6 0l7.6 0l7.5 0l7.6 0l7.5 0l7.6 0l7.5 0l7.6 0l7.5 0l7.6 0l7.5 0l7.6 0l7.6 0l7.5 0l7.6 0l7.5 0l7.6 0l7.5 0l7.6 0l7.5 0l7.6 0l7.5 0l7.6 0l6.5 0" stroke="#ffbfbf" stroke-width="2.2" fill="none" stroke-linejoin="miter"/>
<path d="M135.4 1994.9l7.6-3047l7.5 3005.8l7.6-72.4l7.5-10.5l7.6 12.6l7.5-37l7.6 67.3l7.5-51.7l7.6-46.7l7.5 54.7l7.6 2.6l7.6 83.2l7.5-8.5l7.6 40.3l7.5-8.6l7.6 15.9l7.5 0l7.6 0l7.5 0l7.6 0l7.5 0l7.6 0l7.6 0l7.5 0l7.6 0l7.5 0l7.6 0l7.5 0l7.6 0l7.5 0l7.6 0l7.5 0l7.6 0l7.6 0l7.5 0l7.6 0l7.5 0l7.6 0l7.5 0l7.6 0l7.5 0l7.6 0l7.5 0l7.6 0l7.6 0l7.5 0l7.6 0l7.5 0l7.6 0l7.5 0l7.6 0l7.5 0l7.6 0l7.5 0l7.6 0l7.6 0l7.5 0l7.6 0l7.5 0l7.6 0l7.5 0l7.6 0l7.5 0l7.6 0l7.5 0l7.6 0l6.5 0" stroke="#ffbfbf" stroke-width="2.2" fill="none" stroke-linejoin="miter"/>
<path d="M135.4 1994.9l7.6-959.6l7.5 906.4l7.6 17.5l7.5-6.8l7.6 6l7.5-13.9l7.6-20l7.5-23.1l7.6-51.9l7.5 2.7l7.6-51.1l7.6 40.7l7.5 47.2l7.6 50.1l7.5 9.7l7.6 22.1l7.5 13.3l7.6 10.1l7.5 0.6l7.6 0l7.5 0l7.6 0l7.6 0l7.5 0l7.6 0l7.5-19.3l7.6 19.3l7.5 0l7.6 0l7.5 0l7.6 0l7.5 0l7.6-8.3l7.6 8.3l7.5 0l7.6 0l7.5 0l7.6 0l7.5 0l7.6 0l7.5 0l7.6 0l7.5 0l7.6 0l7.6 0l7.5 0l7.6 0l7.5 0l7.6 0l7.5 0l7.6 0l7.5 0l7.6 0l7.5 0l7.6 0l7.6 0l7.5 0l7.6 0l7.5 0l7.6 0l7.5 0l7.6 0l7.5 0l7.6 0l7.5 0l7.6 0l6.5 0" stroke="#ffbfbf" stroke-width="2.2" fill="none" stroke-linejoin="miter"/>
<path d="M135.4 1994.9l7.6-1231.5l7.5 1149.8l7.6 4.6l7.5-5.9l7.6-42.7l7.5-16.2l7.6-49.5l7.5-45.6l7.6 14.6l7.5-3.3l7.6 40.9l7.6-7.3l7.5 62l7.6 38.4l7.5 39.4l7.6 49.7l7.5-1.9l7.6 4.5l7.5 0l7.6 0l7.5 0l7.6-13.1l7.6 1.9l7.5 11.2l7.6 0l7.5 0l7.6 0l7.5 0l7.6 0l7.5 0l7.6 0l7.5 0l7.6 0l7.6-6.1l7.5 6.1l7.6 0l7.5 0l7.6 0l7.5 0l7.6-23.4l7.5 23.4l7.6 0l7.5 0l7.6 0l7.6 0l7.5 0l7.6 0l7.5 0l7.6 0l7.5 0l7.6 0l7.5 0l7.6 0l7.5 0l7.6 0l7.6 0l7.5 0l7.6 0l7.5 0l7.6 0l7.5 0l7.6 0l7.5 0l7.6 0l7.5 0l7.6 0l6.5 0" stroke="#ffbfbf" stroke-width="2.2" fill="none" stroke-linejoin="miter"/>
<path d="M135.4 1994.9l7.6-1001.5l7.5 960.9l7.6-86.5l7.5-45l7.6 33.5l7.5 5.8l7.6 27.2l7.5-50.5l7.6 5.4l7.5 13l7.6-15.9l7.6 31.1l7.5 21.3l7.6 28l7.5 35.6l7.6 10.5l7.5 27.1l7.6 0l7.5 0l7.6 0l7.5 0l7.6 0l7.6 0l7.5 0l7.6 0l7.5 0l7.6 0l7.5 0l7.6 0l7.5 0l7.6-10.6l7.5 10.6l7.6 0l7.6 0l7.5 0l7.6 0l7.5 0l7.6 0l7.5 0l7.6 0l7.5 0l7.6 0l7.5 0l7.6 0l7.6 0l7.5 0l7.6 0l7.5 0l7.6 0l7.5 0l7.6 0l7.5 0l7.6 0l7.5 0l7.6 0l7.6 0l7.5 0l7.6 0l7.5 0l7.6 0l7.5 0l7.6 0l7.5 0l7.6 0l7.5 0l7.6 0l6.5 0" stroke="#ffbfbf" stroke-width="2.2" fill="none" stroke-linejoin="miter"/>
<path d="M135.4 1994.9l7.6-994.8l7.5 947.2l7.6-0.3l7.5 8l7.6-10.4l7.5 5l7.6 10.2l7.5-5.4l7.6-6.8l7.5-32.9l7.6 3.6l7.6-20.2l7.5 37.3l7.6 7.8l7.5 20.5l7.6 31.2l7.5 0l7.6 0l7.5 0l7.6 0l7.5 0l7.6 0l7.6 0l7.5 0l7.6 0l7.5 0l7.6 0l7.5 0l7.6-8.2l7.5 8.2l7.6 0l7.5 0l7.6 0l7.6 0l7.5 0l7.6 0l7.5 0l7.6 0l7.5 0l7.6 0l7.5 0l7.6 0l7.5 0l7.6 0l7.6 0l7.5 0l7.6 0l7.5 0l7.6 0l7.5 0l7.6 0l7.5 0l7.6 0l7.5 0l7.6 0l7.6 0l7.5 0l7.6 0l7.5 0l7.6 0l7.5 0l7.6 0l7.5 0l7.6 0l7.5 0l7.6 0l6.5 0" stroke="#ffbfbf" stroke-width="2.2" fill="none" stroke-linejoin="miter"/>
<path d="M135.4 1994.9l7.6-2636.8l7.5 2585l7.6 9.4l7.5-31.7l7.6-41.1l7.5 11.9l7.6-23l7.5-69.4l7.6 15.3l7.5 23.8l7.6-7.7l7.6 38.1l7.5 50.4l7.6 19.9l7.5 48.7l7.6-7.9l7.5 15.1l7.6 0l7.5 0l7.6 0l7.5 0l7.6 0l7.6 0l7.5 0l7.6 0l7.5 0l7.6-9.1l7.5 9.1l7.6 0l7.5 0l7.6 0l7.5 0l7.6 0l7.6 0l7.5 0l7.6 0l7.5 0l7.6 0l7.5 0l7.6 0l7.5 0l7.6 0l7.5 0l7.6 0l7.6 0l7.5 0l7.6 0l7.5 0l7.6 0l7.5 0l7.6 0l7.5 0l7.6 0l7.5 0l7.6 0l7.6 0l7.5 0l7.6 0l7.5 0l7.6 0l7.5 0l7.6 0l7.5 0l7.6 0l7.5 0l7.6 0l6.5 0" stroke="#ffbfbf" stroke-width="2.2" fill="none" stroke-linejoin="miter"/>
<path d="M135.4 1994.9l7.6-3487.6l7.5 3417.5l7.6 1.4l7.5 12.4l7.6 12.8l7.5-15l7.6 1l7.5-42.2l7.6-19.9l7.5-71.8l7.6-61.7l7.6-28.9l7.5-3.1l7.6 68.7l7.5 28.2l7.6 188.2l7.5 0l7.6-7.2l7.5 7.2l7.6-7.6l7.5-8.4l7.6 16l7.6 0l7.5 0l7.6 0l7.5 0l7.6 0l7.5 0l7.6 0l7.5 0l7.6 0l7.5 0l7.6 0l7.6 0l7.5 0l7.6 0l7.5 0l7.6 0l7.5 0l7.6 0l7.5 0l7.6 0l7.5 0l7.6 0l7.6 0l7.5 0l7.6 0l7.5 0l7.6 0l7.5 0l7.6 0l7.5 0l7.6 0l7.5 0l7.6 0l7.6 0l7.5 0l7.6 0l7.5 0l7.6 0l7.5 0l7.6 0l7.5 0l7.6 0l7.5 0l7.6 0l6.5 0" stroke="#ffbfbf" stroke-width="2.2" fill="none" stroke-linejoin="miter"/>
<path d="M135.4 1994.9l7.6-277.2l7.5 221.1l7.6-2.6l7.5-6.9l7.6-0.6l7.5 7.4l7.6-22.2l7.5 7.4l7.6-40.9l7.5-1.4l7.6 2.3l7.6-8.9l7.5 20.9l7.6 8.6l7.5 93l7.6 0l7.5 0l7.6 0l7.5 0l7.6-18.2l7.5 18.2l7.6 0l7.6 0l7.5 0l7.6-17l7.5 17l7.6 0l7.5 0l7.6 0l7.5 0l7.6 0l7.5 0l7.6 0l7.6 0l7.5 0l7.6 0l7.5 0l7.6-18.8l7.5 18.8l7.6 0l7.5 0l7.6 0l7.5 0l7.6 0l7.6 0l7.5 0l7.6 0l7.5 0l7.6 0l7.5 0l7.6 0l7.5 0l7.6 0l7.5 0l7.6 0l7.6 0l7.5 0l7.6 0l7.5 0l7.6 0l7.5 0l7.6 0l7.5 0l7.6 0l7.5 0l7.6 0l6.5 0" stroke="#ffbfbf" stroke-width="2.2" fill="none" stroke-linejoin="miter"/>
<path d="M135.4 1994.9l7.6-999.1l7.5 971.5l7.6-2.6l7.5 0.5l7.6-3l7.5-18l7.6-11.5l7.5-18.4l7.6-18.4l7.5 34.4l7.6-37.8l7.6 51.1l7.5 3.7l7.6 5.8l7.5 36l7.6-13.7l7.5 3l7.6 11.3l7.5-3l7.6 2.5l7.5 5.7l7.6 0l7.6 0l7.5 0l7.6 0l7.5 0l7.6 0l7.5 0l7.6 0l7.5 0l7.6 0l7.5 0l7.6 0l7.6 0l7.5 0l7.6 0l7.5 0l7.6 0l7.5 0l7.6 0l7.5 0l7.6 0l7.5 0l7.6 0l7.6 0l7.5 0l7.6 0l7.5 0l7.6 0l7.5 0l7.6 0l7.5 0l7.6 0l7.5 0l7.6 0l7.6 0l7.5 0l7.6 0l7.5 0l7.6 0l7.5 0l7.6 0l7.5 0l7.6 0l7.5 0l7.6 0l6.5 0" stroke="#ffbfbf" stroke-width="2.2" fill="none" stroke-linejoin="miter"/>
<path d="M135.4 1994.9l7.6-1212.9l7.5 1171.1l7.6-27.6l7.5-39.5l7.6-3.6l7.5-67.4l7.6-41.2l7.5-24.6l7.6 45.5l7.5 105.5l7.6 37.9l7.6 48.2l7.5-12.6l7.6 21.2l7.5 0l7.6 0l7.5 0l7.6 0l7.5 0l7.6 0l7.5 0l7.6-26.2l7.6 26.2l7.5 0l7.6 0l7.5 0l7.6-5.2l7.5-20.7l7.6 25.9l7.5-25.3l7.6 25.3l7.5 0l7.6 0l7.6 0l7.5 0l7.6 0l7.5 0l7.6 0l7.5 0l7.6 0l7.5 0l7.6 0l7.5 0l7.6 0l7.6 0l7.5 0l7.6 0l7.5 0l7.6 0l7.5 0l7.6 0l7.5 0l7.6 0l7.5 0l7.6 0l7.6 0l7.5 0l7.6 0l7.5 0l7.6 0l7.5 0l7.6 0l7.5 0l7.6 0l7.5 0l7.6 0l6.5 0" stroke="#ffbfbf" stroke-width="2.2" fill="none" stroke-linejoin="miter"/>
<path d="M135.4 1994.9l7.6-3124.9l7.5 3060.6l7.6 2.2l7.5 10.8l7.6-31l7.5-8.7l7.6-19.9l7.5-18.1l7.6-65.2l7.5-4.2l7.6-60.1l7.6 5.2l7.5 66.6l7.6 77.1l7.5 6.3l7.6 34.2l7.5 1.7l7.6 67.4l7.5 0l7.6 0l7.5 0l7.6 0l7.6-24.4l7.5 24.4l7.6 0l7.5 0l7.6-4.9l7.5 4.9l7.6 0l7.5 0l7.6 0l7.5 0l7.6 0l7.6 0l7.5 0l7.6 0l7.5 0l7.6 0l7.5 0l7.6 0l7.5 0l7.6 0l7.5 0l7.6 0l7.6 0l7.5 0l7.6 0l7.5 0l7.6 0l7.5 0l7.6 0l7.5 0l7.6 0l7.5 0l7.6 0l7.6 0l7.5 0l7.6 0l7.5 0l7.6 0l7.5 0l7.6 0l7.5 0l7.6 0l7.5 0l7.6 0l6.5 0" stroke="#ffbfbf" stroke-width="2.2" fill="none" stroke-linejoin="miter"/>
<path d="M135.4 1994.9l7.6-870.5l7.5 841.3l7.6-3.6l7.5-6.9l7.6-11.4l7.5 1.7l7.6-52.6l7.5-40.1l7.6-19.4l7.5 6.2l7.6-33.6l7.6 35l7.5 20.4l7.6 21.5l7.5 55.5l7.6 10.7l7.5 19.4l7.6 11.5l7.5 4.4l7.6 1.7l7.5 8.8l7.6 0l7.6 0l7.5 0l7.6 0l7.5 0l7.6 0l7.5-13l7.6 13l7.5 0l7.6 0l7.5 0l7.6 0l7.6 0l7.5 0l7.6 0l7.5 0l7.6 0l7.5 0l7.6 0l7.5 0l7.6 0l7.5 0l7.6 0l7.6 0l7.5 0l7.6 0l7.5 0l7.6 0l7.5 0l7.6 0l7.5 0l7.6 0l7.5 0l7.6 0l7.6 0l7.5 0l7.6 0l7.5 0l7.6 0l7.5 0l7.6 0l7.5 0l7.6 0l7.5 0l7.6 0l6.5 0" stroke="#ffbfbf" stroke-width="2.2" fill="none" stroke-linejoin="miter"/>
<path d="M135.4 1994.9l7.6-674.5l7.5 639.2l7.6 16.5l7.5-13.7l7.6-1.6l7.5 6.2l7.6-14.2l7.5-13.6l7.6-17.3l7.5-7.1l7.6-61.2l7.6 40.6l7.5-18l7.6 107.6l7.5-74.4l7.6 85.5l7.5 0l7.6-19.3l7.5 0.2l7.6 19.1l7.5 0l7.6 0l7.6 0l7.5 0l7.6 0l7.5 0l7.6 0l7.5 0l7.6 0l7.5 0l7.6 0l7.5 0l7.6 0l7.6 0l7.5 0l7.6 0l7.5 0l7.6 0l7.5 0l7.6-17.4l7.5 17.4l7.6 0l7.5 0l7.6 0l7.6 0l7.5 0l7.6 0l7.5 0l7.6 0l7.5 0l7.6 0l7.5 0l7.6 0l7.5 0l7.6 0l7.6 0l7.5 0l7.6 0l7.5 0l7.6 0l7.5 0l7.6 0l7.5 0l7.6 0l7.5 0l7.6 0l6.5 0" stroke="#ffbfbf" stroke-width="2.2" fill="none" stroke-linejoin="miter"/>
<path d="M135.4 1994.9l7.6-547.7l7.5 473.8l7.6 10.1l7.5-19.9l7.6-20.7l7.5-13l7.6-20.1l7.5 18.4l7.6-52.8l7.5 1.8l7.6-60.4l7.6 55.3l7.5 22.8l7.6 115.9l7.5-19.6l7.6 37.9l7.5-7.5l7.6 25.7l7.5 0l7.6 0l7.5 0l7.6 0l7.6 0l7.5 0l7.6-9.3l7.5 9.3l7.6 0l7.5 0l7.6 0l7.5 0l7.6 0l7.5 0l7.6 0l7.6 0l7.5 0l7.6 0l7.5 0l7.6 0l7.5 0l7.6 0l7.5 0l7.6 0l7.5 0l7.6 0l7.6 0l7.5 0l7.6 0l7.5 0l7.6 0l7.5 0l7.6 0l7.5 0l7.6 0l7.5 0l7.6 0l7.6 0l7.5 0l7.6 0l7.5 0l7.6 0l7.5 0l7.6 0l7.5 0l7.6 0l7.5 0l7.6 0l6.5 0" stroke="#ffbfbf" stroke-width="2.2" fill="none" stroke-linejoin="miter"/>
<path d="M135.4 1994.9l7.6-1335l7.5 1273.9l7.6 10.5l7.5-9.3l7.6 4.3l7.5-12.2l7.6-20.6l7.5-67.8l7.6-31.3l7.5-58l7.6 75.8l7.6 29.7l7.5-15.1l7.6 152.9l7.5-46.3l7.6 23.3l7.5 25.2l7.6 0l7.5 0l7.6 0l7.5 0l7.6 0l7.6 0l7.5 0l7.6 0l7.5 0l7.6 0l7.5 0l7.6 0l7.5-9.3l7.6 9.3l7.5 0l7.6 0l7.6 0l7.5 0l7.6 0l7.5 0l7.6 0l7.5 0l7.6 0l7.5 0l7.6 0l7.5 0l7.6 0l7.6 0l7.5 0l7.6 0l7.5 0l7.6 0l7.5 0l7.6 0l7.5 0l7.6 0l7.5 0l7.6 0l7.6 0l7.5 0l7.6 0l7.5 0l7.6 0l7.5 0l7.6 0l7.5 0l7.6 0l7.5 0l7.6 0l6.5 0" stroke="#ffbfbf" stroke-width="2.2" fill="none" stroke-linejoin="miter"/>
<path d="M135.4 1994.9l7.6-607l7.5 579.5l7.6-2.1l7.5-8.2l7.6-19.9l7.5-7.3l7.6-23.7l7.5-38.7l7.6 10.4l7.5-49.5l7.6-10.8l7.6-6.9l7.5 36.9l7.6 57.5l7.5 38.4l7.6 17.4l7.5 34l7.6 0l7.5 0l7.6 0l7.5 0l7.6 0l7.6 0l7.5 0l7.6-4.4l7.5 4.4l7.6 0l7.5 0l7.6 0l7.5-24.6l7.6 24.6l7.5 0l7.6 0l7.6 0l7.5 0l7.6 0l7.5 0l7.6 0l7.5 0l7.6 0l7.5 0l7.6 0l7.5 0l7.6 0l7.6 0l7.5 0l7.6 0l7.5 0l7.6 0l7.5 0l7.6 0l7.5 0l7.6 0l7.5 0l7.6 0l7.6 0l7.5 0l7.6 0l7.5 0l7.6 0l7.5 0l7.6 0l7.5 0l7.6 0l7.5 0l7.6 0l6.5 0" stroke="#ffbfbf" stroke-width="2.2" fill="none" stroke-linejoin="miter"/>
<path d="M135.4 1994.9l7.6-1634.2l7.5 1588.9l7.6-4.9l7.5-3.5l7.6 4.7l7.5-9.3l7.6-28.7l7.5-8.2l7.6-45.9l7.5-31.1l7.6-31.8l7.6 29.3l7.5 55.7l7.6 46.4l7.5 65.3l7.6-11.4l7.5 2.7l7.6 0.3l7.5 1.6l7.6 0.4l7.5 1.1l7.6 12.6l7.6 0l7.5 0l7.6 0l7.5 0l7.6-10.3l7.5 10.3l7.6 0l7.5 0l7.6 0l7.5 0l7.6 0l7.6 0l7.5 0l7.6 0l7.5 0l7.6 0l7.5 0l7.6 0l7.5 0l7.6 0l7.5 0l7.6 0l7.6 0l7.5 0l7.6 0l7.5 0l7.6 0l7.5 0l7.6 0l7.5 0l7.6 0l7.5 0l7.6 0l7.6 0l7.5 0l7.6 0l7.5 0l7.6 0l7.5 0l7.6 0l7.5 0l7.6 0l7.5 0l7.6 0l6.5 0" stroke="#ffbfbf" stroke-width="2.2" fill="none" stroke-linejoin="miter"/>
<path d="M135.4 1994.9l7.6-1223.1l7.5 1169.9l7.6 13.4l7.5-28.2l7.6 6.5l7.5-12.3l7.6-26.9l7.5-18.4l7.6 10.5l7.5-29.7l7.6-51l7.6 47.2l7.5-35.5l7.6 31.3l7.5 144.1l7.6-76.4l7.5 17.8l7.6 60.8l7.5-14.1l7.6 14.1l7.5 0l7.6 0l7.6 0l7.5 0l7.6 0l7.5 0l7.6 0l7.5 0l7.6 0l7.5 0l7.6 0l7.5 0l7.6 0l7.6-7.4l7.5 7.4l7.6 0l7.5 0l7.6 0l7.5 0l7.6 0l7.5 0l7.6 0l7.5 0l7.6 0l7.6 0l7.5 0l7.6 0l7.5 0l7.6 0l7.5 0l7.6 0l7.5 0l7.6 0l7.5 0l7.6 0l7.6 0l7.5 0l7.6 0l7.5 0l7.6 0l7.5 0l7.6 0l7.5 0l7.6 0l7.5 0l7.6 0l6.5 0" stroke="#ffbfbf" stroke-width="2.2" fill="none" stroke-linejoin="miter"/>
<path d="M135.4 1994.9l7.6-1642.2l7.5 1558.2l7.6 3l7.5 4.1l7.6-8.5l7.5-21.4l7.6-44.5l7.5 36.4l7.6-108.2l7.5 20l7.6-33l7.6 31.9l7.5 47.9l7.6 142.7l7.5-37.2l7.6 29.3l7.5 12.3l7.6-7.9l7.5 3.2l7.6 13.9l7.5 0l7.6 0l7.6 0l7.5 0l7.6 0l7.5 0l7.6 0l7.5 0l7.6 0l7.5 0l7.6 0l7.5 0l7.6 0l7.6 0l7.5 0l7.6 0l7.5 0l7.6 0l7.5 0l7.6 0l7.5-14.4l7.6 14.4l7.5 0l7.6 0l7.6 0l7.5 0l7.6 0l7.5 0l7.6 0l7.5 0l7.6 0l7.5 0l7.6 0l7.5 0l7.6 0l7.6 0l7.5 0l7.6 0l7.5 0l7.6 0l7.5 0l7.6 0l7.5 0l7.6 0l7.5 0l7.6 0l6.5 0" stroke="#ffbfbf" stroke-width="2.2" fill="none" stroke-linejoin="miter"/>
<path d="M135.4 1994.9l7.6-1001.9l7.5 972.5l7.6 1.2l7.5 3l7.6-13.3l7.5-18.1l7.6-32.9l7.5-52.9l7.6-28.2l7.5-15l7.6 4.1l7.6 17.3l7.5 20.9l7.6 67.2l7.5 12.9l7.6 23l7.5 21.3l7.6 18.9l7.5 0l7.6 0l7.5 0l7.6 0l7.6 0l7.5 0l7.6 0l7.5 0l7.6 0l7.5 0l7.6 0l7.5-24.8l7.6 24.8l7.5 0l7.6-4.2l7.6 4.2l7.5 0l7.6 0l7.5 0l7.6 0l7.5 0l7.6 0l7.5 0l7.6 0l7.5 0l7.6 0l7.6 0l7.5 0l7.6 0l7.5 0l7.6 0l7.5 0l7.6 0l7.5 0l7.6 0l7.5 0l7.6 0l7.6 0l7.5 0l7.6 0l7.5 0l7.6 0l7.5 0l7.6 0l7.5 0l7.6 0l7.5 0l7.6 0l6.5 0" stroke="#ffbfbf" stroke-width="2.2" fill="none" stroke-linejoin="miter"/>
<path d="M135.4 1994.9l7.6-614.4l7.5 561.7l7.6 7.6l7.5-8.9l7.6-2.2l7.5-15.7l7.6-23.1l7.5-62.9l7.6-78.4l7.5 43.5l7.6 16.3l7.6 36.4l7.5 31.8l7.6 13.1l7.5 95.2l7.6 0l7.5 0l7.6 0l7.5 0l7.6 0l7.5 0l7.6 0l7.6 0l7.5 0l7.6 0l7.5 0l7.6 0l7.5 0l7.6 0l7.5 0l7.6 0l7.5 0l7.6 0l7.6 0l7.5 0l7.6 0l7.5 0l7.6 0l7.5 0l7.6 0l7.5 0l7.6 0l7.5 0l7.6 0l7.6 0l7.5 0l7.6 0l7.5 0l7.6 0l7.5 0l7.6 0l7.5 0l7.6 0l7.5 0l7.6 0l7.6 0l7.5 0l7.6 0l7.5 0l7.6 0l7.5 0l7.6 0l7.5 0l7.6 0l7.5 0l7.6 0l6.5 0" stroke="#ffbfbf" stroke-width="2.2" fill="none" stroke-linejoin="miter"/>
<path d="M135.4 1994.9l7.6-571.3l7.5 524.1l7.6-1.4l7.5-15.1l7.6 16.3l7.5-1.7l7.6-9.4l7.5-20.3l7.6-42.5l7.5-30.5l7.6-31.6l7.6 4.1l7.5 44.1l7.6-4.4l7.5 35.4l7.6 41.1l7.5 17l7.6 40.6l7.5 5.5l7.6 0l7.5 0l7.6 0l7.6 0l7.5-16.9l7.6 16.9l7.5 0l7.6 0l7.5 0l7.6 0l7.5 0l7.6-10.1l7.5 10.1l7.6 0l7.6 0l7.5 0l7.6 0l7.5 0l7.6 0l7.5 0l7.6 0l7.5 0l7.6 0l7.5 0l7.6 0l7.6 0l7.5 0l7.6 0l7.5 0l7.6 0l7.5 0l7.6 0l7.5 0l7.6 0l7.5 0l7.6 0l7.6 0l7.5 0l7.6 0l7.5 0l7.6 0l7.5 0l7.6 0l7.5 0l7.6 0l7.5 0l7.6 0l6.5 0" stroke="#ffbfbf" stroke-width="2.2" fill="none" stroke-linejoin="miter"/>
<path d="M135.4 1994.9l7.6-2114.8l7.5 2063l7.6-55.9l7.5-85.6l7.6 74.1l7.5-37.3l7.6-25l7.5-36.5l7.6-23.8l7.5 21.5l7.6 10.1l7.6 46.9l7.5 21.1l7.6 132.6l7.5-5.6l7.6-30.7l7.5 13.5l7.6 10.2l7.5 22.2l7.6 0l7.5 0l7.6 0l7.6 0l7.5 0l7.6 0l7.5 0l7.6 0l7.5 0l7.6 0l7.5 0l7.6 0l7.5 0l7.6 0l7.6 0l7.5 0l7.6 0l7.5 0l7.6 0l7.5 0l7.6 0l7.5 0l7.6 0l7.5 0l7.6 0l7.6 0l7.5 0l7.6 0l7.5 0l7.6 0l7.5 0l7.6 0l7.5 0l7.6 0l7.5 0l7.6 0l7.6 0l7.5 0l7.6 0l7.5 0l7.6 0l7.5 0l7.6 0l7.5 0l7.6 0l7.5 0l7.6 0l6.5 0" stroke="#ffbfbf" stroke-width="2.2" fill="none" stroke-linejoin="miter"/>
<path d="M135.4 1994.9l7.6-263.5l7.5 240.5l7.6 1.9l7.5-4.8l7.6-4l7.5-9.3l7.6 1.4l7.5-12.5l7.6-19.5l7.5-13.6l7.6-9.4l7.6-0.3l7.5-13.8l7.6-3.7l7.5-6l7.6-6.4l7.5 0l7.6 3.1l7.5 1.9l7.6 4l7.5-1.7l7.6 8.8l7.6-3.7l7.5 11.9l7.6 9.3l7.5-0.5l7.6 19.2l7.5-1.7l7.6 3.4l7.5-6.3l7.6 14.8l7.5 10.2l7.6 0.7l7.6 0.2l7.5 11l7.6 5.6l7.5 0l7.6-1.3l7.5 5.9l7.6-3.4l7.5 6.5l7.6 1.1l7.5-0.8l7.6 24.8l7.6-7.3l7.5-14.9l7.6 0l7.5-2.6l7.6 19.9l7.5-15.6l7.6 0l7.5 0l7.6 0.8l7.5 19.7l7.6-14.5l7.6 14.5l7.5-19.7l7.6 19.7l7.5 0l7.6 0l7.5-13.7l7.6 13.7l7.5-12.9l7.6-4.5l7.5 7.1l7.6 10.3l6.5 0" stroke="#000" stroke-width="3.1" fill="none" stroke-linejoin="miter" stroke-linecap="round" stroke-miterlimit="12"/>
<path d="M135.4 1994.9l7.6-1297l7.5 1248.8l7.6-5.3l7.5-15.7l7.6-10.3l7.5-8.1l7.6-14l7.5-23l7.6-35.7l7.5-7.7l7.6 22.1l7.6 22.2l7.5 28.9l7.6 26.7l7.5 7.4l7.6 12.8l7.5 5.1l7.6 6l7.5-2.3l7.6 2.3l7.5 11.9l7.6 9.4l7.6-12.8l7.5 5.9l7.6 2.1l7.5-2.9l7.6 11.9l7.5 11.3l7.6-17.3l7.5-0.8l7.6 9.3l7.5 8.8l7.6 0l7.6 0l7.5-7.8l7.6-2.6l7.5 10.4l7.6-11l7.5 5.6l7.6 5.4l7.5-6.7l7.6-2.6l7.5 4.8l7.6 4.5l7.6 0l7.5 0l7.6 0l7.5 0l7.6 0l7.5 0l7.6 0l7.5 0l7.6 0l7.5 0l7.6 0l7.6 0l7.5 0l7.6 0l7.5 0l7.6 0l7.5 0l7.6 0l7.5 0l7.6 0l7.5 0l7.6 0l6.5 0" stroke="#f53d3d" stroke-width="3.2" fill="none" stroke-linejoin="miter" stroke-linecap="round" stroke-miterlimit="12"/>
</g>
<line x1="129.9" y1="1492.75" x2="129.9" y2="2001" stroke="#000" stroke-width="2"/>
<line x1="644.5" y1="1492.75" x2="644.5" y2="2001" stroke="#000" stroke-width="2"/>
<line x1="128.9" y1="1493.75" x2="645.5" y2="1493.75" stroke="#000" stroke-width="2"/>
<line x1="128.9" y1="2000" x2="645.5" y2="2000" stroke="#000" stroke-width="2"/>
<line x1="113.8" y1="1994.9" x2="128.9" y2="1994.9" stroke="#000" stroke-width="2"/>
<line x1="645.5" y1="1994.9" x2="660.8" y2="1994.9" stroke="#000" stroke-width="2"/>
<text x="105.2" y="2007.4" font-size="36" text-anchor="end">0</text>
<line x1="121.7" y1="1978.38" x2="128.9" y2="1978.38" stroke="#000" stroke-width="2"/>
<line x1="645.5" y1="1978.38" x2="652.9" y2="1978.38" stroke="#000" stroke-width="2"/>
<line x1="121.7" y1="1961.86" x2="128.9" y2="1961.86" stroke="#000" stroke-width="2"/>
<line x1="645.5" y1="1961.86" x2="652.9" y2="1961.86" stroke="#000" stroke-width="2"/>
<line x1="121.7" y1="1945.33" x2="128.9" y2="1945.33" stroke="#000" stroke-width="2"/>
<line x1="645.5" y1="1945.33" x2="652.9" y2="1945.33" stroke="#000" stroke-width="2"/>
<line x1="121.7" y1="1928.81" x2="128.9" y2="1928.81" stroke="#000" stroke-width="2"/>
<line x1="645.5" y1="1928.81" x2="652.9" y2="1928.81" stroke="#000" stroke-width="2"/>
<line x1="113.8" y1="1912.29" x2="128.9" y2="1912.29" stroke="#000" stroke-width="2"/>
<line x1="645.5" y1="1912.29" x2="660.8" y2="1912.29" stroke="#000" stroke-width="2"/>
<text x="105.2" y="1924.79" font-size="36" text-anchor="end">10</text>
<line x1="121.7" y1="1895.77" x2="128.9" y2="1895.77" stroke="#000" stroke-width="2"/>
<line x1="645.5" y1="1895.77" x2="652.9" y2="1895.77" stroke="#000" stroke-width="2"/>
<line x1="121.7" y1="1879.25" x2="128.9" y2="1879.25" stroke="#000" stroke-width="2"/>
<line x1="645.5" y1="1879.25" x2="652.9" y2="1879.25" stroke="#000" stroke-width="2"/>
<line x1="121.7" y1="1862.72" x2="128.9" y2="1862.72" stroke="#000" stroke-width="2"/>
<line x1="645.5" y1="1862.72" x2="652.9" y2="1862.72" stroke="#000" stroke-width="2"/>
<line x1="121.7" y1="1846.2" x2="128.9" y2="1846.2" stroke="#000" stroke-width="2"/>
<line x1="645.5" y1="1846.2" x2="652.9" y2="1846.2" stroke="#000" stroke-width="2"/>
<line x1="113.8" y1="1829.68" x2="128.9" y2="1829.68" stroke="#000" stroke-width="2"/>
<line x1="645.5" y1="1829.68" x2="660.8" y2="1829.68" stroke="#000" stroke-width="2"/>
<text x="105.2" y="1842.18" font-size="36" text-anchor="end">20</text>
<line x1="121.7" y1="1813.16" x2="128.9" y2="1813.16" stroke="#000" stroke-width="2"/>
<line x1="645.5" y1="1813.16" x2="652.9" y2="1813.16" stroke="#000" stroke-width="2"/>
<line x1="121.7" y1="1796.64" x2="128.9" y2="1796.64" stroke="#000" stroke-width="2"/>
<line x1="645.5" y1="1796.64" x2="652.9" y2="1796.64" stroke="#000" stroke-width="2"/>
<line x1="121.7" y1="1780.11" x2="128.9" y2="1780.11" stroke="#000" stroke-width="2"/>
<line x1="645.5" y1="1780.11" x2="652.9" y2="1780.11" stroke="#000" stroke-width="2"/>
<line x1="121.7" y1="1763.59" x2="128.9" y2="1763.59" stroke="#000" stroke-width="2"/>
<line x1="645.5" y1="1763.59" x2="652.9" y2="1763.59" stroke="#000" stroke-width="2"/>
<line x1="113.8" y1="1747.07" x2="128.9" y2="1747.07" stroke="#000" stroke-width="2"/>
<line x1="645.5" y1="1747.07" x2="660.8" y2="1747.07" stroke="#000" stroke-width="2"/>
<text x="105.2" y="1759.57" font-size="36" text-anchor="end">30</text>
<line x1="121.7" y1="1730.55" x2="128.9" y2="1730.55" stroke="#000" stroke-width="2"/>
<line x1="645.5" y1="1730.55" x2="652.9" y2="1730.55" stroke="#000" stroke-width="2"/>
<line x1="121.7" y1="1714.03" x2="128.9" y2="1714.03" stroke="#000" stroke-width="2"/>
<line x1="645.5" y1="1714.03" x2="652.9" y2="1714.03" stroke="#000" stroke-width="2"/>
<line x1="121.7" y1="1697.5" x2="128.9" y2="1697.5" stroke="#000" stroke-width="2"/>
<line x1="645.5" y1="1697.5" x2="652.9" y2="1697.5" stroke="#000" stroke-width="2"/>
<line x1="121.7" y1="1680.98" x2="128.9" y2="1680.98" stroke="#000" stroke-width="2"/>
<line x1="645.5" y1="1680.98" x2="652.9" y2="1680.98" stroke="#000" stroke-width="2"/>
<line x1="113.8" y1="1664.46" x2="128.9" y2="1664.46" stroke="#000" stroke-width="2"/>
<line x1="645.5" y1="1664.46" x2="660.8" y2="1664.46" stroke="#000" stroke-width="2"/>
<text x="105.2" y="1676.96" font-size="36" text-anchor="end">40</text>
<line x1="121.7" y1="1647.94" x2="128.9" y2="1647.94" stroke="#000" stroke-width="2"/>
<line x1="645.5" y1="1647.94" x2="652.9" y2="1647.94" stroke="#000" stroke-width="2"/>
<line x1="121.7" y1="1631.42" x2="128.9" y2="1631.42" stroke="#000" stroke-width="2"/>
<line x1="645.5" y1="1631.42" x2="652.9" y2="1631.42" stroke="#000" stroke-width="2"/>
<line x1="121.7" y1="1614.89" x2="128.9" y2="1614.89" stroke="#000" stroke-width="2"/>
<line x1="645.5" y1="1614.89" x2="652.9" y2="1614.89" stroke="#000" stroke-width="2"/>
<line x1="121.7" y1="1598.37" x2="128.9" y2="1598.37" stroke="#000" stroke-width="2"/>
<line x1="645.5" y1="1598.37" x2="652.9" y2="1598.37" stroke="#000" stroke-width="2"/>
<line x1="113.8" y1="1581.85" x2="128.9" y2="1581.85" stroke="#000" stroke-width="2"/>
<line x1="645.5" y1="1581.85" x2="660.8" y2="1581.85" stroke="#000" stroke-width="2"/>
<text x="105.2" y="1594.35" font-size="36" text-anchor="end">50</text>
<line x1="121.7" y1="1565.33" x2="128.9" y2="1565.33" stroke="#000" stroke-width="2"/>
<line x1="645.5" y1="1565.33" x2="652.9" y2="1565.33" stroke="#000" stroke-width="2"/>
<line x1="121.7" y1="1548.81" x2="128.9" y2="1548.81" stroke="#000" stroke-width="2"/>
<line x1="645.5" y1="1548.81" x2="652.9" y2="1548.81" stroke="#000" stroke-width="2"/>
<line x1="121.7" y1="1532.28" x2="128.9" y2="1532.28" stroke="#000" stroke-width="2"/>
<line x1="645.5" y1="1532.28" x2="652.9" y2="1532.28" stroke="#000" stroke-width="2"/>
<line x1="121.7" y1="1515.76" x2="128.9" y2="1515.76" stroke="#000" stroke-width="2"/>
<line x1="645.5" y1="1515.76" x2="652.9" y2="1515.76" stroke="#000" stroke-width="2"/>
<line x1="113.8" y1="1499.24" x2="128.9" y2="1499.24" stroke="#000" stroke-width="2"/>
<line x1="645.5" y1="1499.24" x2="660.8" y2="1499.24" stroke="#000" stroke-width="2"/>
<text x="105.2" y="1511.74" font-size="36" text-anchor="end">60</text>
<line x1="135.4" y1="1477.45" x2="135.4" y2="1492.75" stroke="#000" stroke-width="2"/>
<line x1="135.4" y1="2001" x2="135.4" y2="2016.5" stroke="#000" stroke-width="2"/>
<text x="135.6" y="2057.3" font-size="36" text-anchor="middle" letter-spacing="-0.4">0.00</text>
<line x1="160.58" y1="1485.35" x2="160.58" y2="1492.75" stroke="#000" stroke-width="2"/>
<line x1="160.58" y1="2001" x2="160.58" y2="2008.6" stroke="#000" stroke-width="2"/>
<line x1="185.76" y1="1485.35" x2="185.76" y2="1492.75" stroke="#000" stroke-width="2"/>
<line x1="185.76" y1="2001" x2="185.76" y2="2008.6" stroke="#000" stroke-width="2"/>
<line x1="210.95" y1="1485.35" x2="210.95" y2="1492.75" stroke="#000" stroke-width="2"/>
<line x1="210.95" y1="2001" x2="210.95" y2="2008.6" stroke="#000" stroke-width="2"/>
<line x1="236.13" y1="1485.35" x2="236.13" y2="1492.75" stroke="#000" stroke-width="2"/>
<line x1="236.13" y1="2001" x2="236.13" y2="2008.6" stroke="#000" stroke-width="2"/>
<line x1="261.31" y1="1477.45" x2="261.31" y2="1492.75" stroke="#000" stroke-width="2"/>
<line x1="261.31" y1="2001" x2="261.31" y2="2016.5" stroke="#000" stroke-width="2"/>
<text x="261.51" y="2057.3" font-size="36" text-anchor="middle" letter-spacing="-0.4">0.05</text>
<line x1="286.49" y1="1485.35" x2="286.49" y2="1492.75" stroke="#000" stroke-width="2"/>
<line x1="286.49" y1="2001" x2="286.49" y2="2008.6" stroke="#000" stroke-width="2"/>
<line x1="311.67" y1="1485.35" x2="311.67" y2="1492.75" stroke="#000" stroke-width="2"/>
<line x1="311.67" y1="2001" x2="311.67" y2="2008.6" stroke="#000" stroke-width="2"/>
<line x1="336.86" y1="1485.35" x2="336.86" y2="1492.75" stroke="#000" stroke-width="2"/>
<line x1="336.86" y1="2001" x2="336.86" y2="2008.6" stroke="#000" stroke-width="2"/>
<line x1="362.04" y1="1485.35" x2="362.04" y2="1492.75" stroke="#000" stroke-width="2"/>
<line x1="362.04" y1="2001" x2="362.04" y2="2008.6" stroke="#000" stroke-width="2"/>
<line x1="387.22" y1="1477.45" x2="387.22" y2="1492.75" stroke="#000" stroke-width="2"/>
<line x1="387.22" y1="2001" x2="387.22" y2="2016.5" stroke="#000" stroke-width="2"/>
<text x="387.42" y="2057.3" font-size="36" text-anchor="middle" letter-spacing="-0.4">0.10</text>
<line x1="412.4" y1="1485.35" x2="412.4" y2="1492.75" stroke="#000" stroke-width="2"/>
<line x1="412.4" y1="2001" x2="412.4" y2="2008.6" stroke="#000" stroke-width="2"/>
<line x1="437.58" y1="1485.35" x2="437.58" y2="1492.75" stroke="#000" stroke-width="2"/>
<line x1="437.58" y1="2001" x2="437.58" y2="2008.6" stroke="#000" stroke-width="2"/>
<line x1="462.77" y1="1485.35" x2="462.77" y2="1492.75" stroke="#000" stroke-width="2"/>
<line x1="462.77" y1="2001" x2="462.77" y2="2008.6" stroke="#000" stroke-width="2"/>
<line x1="487.95" y1="1485.35" x2="487.95" y2="1492.75" stroke="#000" stroke-width="2"/>
<line x1="487.95" y1="2001" x2="487.95" y2="2008.6" stroke="#000" stroke-width="2"/>
<line x1="513.13" y1="1477.45" x2="513.13" y2="1492.75" stroke="#000" stroke-width="2"/>
<line x1="513.13" y1="2001" x2="513.13" y2="2016.5" stroke="#000" stroke-width="2"/>
<text x="513.33" y="2057.3" font-size="36" text-anchor="middle" letter-spacing="-0.4">0.15</text>
<line x1="538.31" y1="1485.35" x2="538.31" y2="1492.75" stroke="#000" stroke-width="2"/>
<line x1="538.31" y1="2001" x2="538.31" y2="2008.6" stroke="#000" stroke-width="2"/>
<line x1="563.49" y1="1485.35" x2="563.49" y2="1492.75" stroke="#000" stroke-width="2"/>
<line x1="563.49" y1="2001" x2="563.49" y2="2008.6" stroke="#000" stroke-width="2"/>
<line x1="588.68" y1="1485.35" x2="588.68" y2="1492.75" stroke="#000" stroke-width="2"/>
<line x1="588.68" y1="2001" x2="588.68" y2="2008.6" stroke="#000" stroke-width="2"/>
<line x1="613.86" y1="1485.35" x2="613.86" y2="1492.75" stroke="#000" stroke-width="2"/>
<line x1="613.86" y1="2001" x2="613.86" y2="2008.6" stroke="#000" stroke-width="2"/>
<line x1="639.04" y1="1477.45" x2="639.04" y2="1492.75" stroke="#000" stroke-width="2"/>
<line x1="639.04" y1="2001" x2="639.04" y2="2016.5" stroke="#000" stroke-width="2"/>
<text x="639.24" y="2057.3" font-size="36" text-anchor="middle" letter-spacing="-0.4">0.20</text>
<text font-size="36" transform="translate(33.4 1910) rotate(-90)" xml:space="preserve"><tspan>Normalized d</tspan><tspan font-style="italic">N</tspan><tspan>/dSS</tspan><tspan font-size="24.3" dy="10.98">c</tspan></text>
<text x="326" y="2105" font-size="36" xml:space="preserve"><tspan font-style="italic">SS</tspan><tspan font-size="24.3" dy="10.98">c</tspan><tspan dy="-10.98"> [%]</tspan></text>
<text x="-1" y="1476.9" font-size="50" font-weight="bold">(e)</text>
<text x="182" y="1550.5" font-size="32.7">Tokyo</text>
<line x1="187.4" y1="1576.4" x2="245.8" y2="1576.4" stroke="#000" stroke-width="2.4" stroke-linecap="round"/>
<text x="258.7" y="1586.1" font-size="31.5" xml:space="preserve"><tspan font-style="italic">D</tspan><tspan font-size="21.26" dy="9.61">tr</tspan><tspan dy="-9.61"> = 302 nm</tspan></text>
<line x1="187.4" y1="1619.7" x2="245.8" y2="1619.7" stroke="#f53d3d" stroke-width="2.4" stroke-linecap="round"/>
<text x="258.7" y="1629.4" font-size="31.5" xml:space="preserve"><tspan font-style="italic">D</tspan><tspan font-size="21.26" dy="9.61">tr</tspan><tspan dy="-9.61"> = </tspan><tspan font-style="italic">D</tspan><tspan font-size="21.26" dy="9.61">std</tspan></text>
</g>
<g id="f">
<clipPath id="clipf"><rect x="911.6" y="1493.32" width="513.73" height="505.08"/></clipPath>
<g clip-path="url(#clipf)">
<path d="M913.9 1996.6l7.6-1604.3l7.7 1584.3l7.6-2.4l7.7-39l7.6 13.6l7.7 5.2l7.6 1l7.7 2.1l7.6 6.9l7.7-38.3l7.6 3.4l7.7 40.5l7.6-20.3l7.7 13.1l7.6-14.5l7.7 48.7l7.6 0l7.7 0l7.7 0l7.6 0l7.7 0l7.6 0l7.7-23.6l7.6 23.6l7.7 0l7.6 0l7.7 0l7.6 0l7.7 0l7.6 0l7.7 0l7.6 0l7.7-11.5l7.6 2.8l7.7 8.7l7.6-11l7.7 11l7.7 0l7.6 0l7.7 0l7.6 0l7.7 0l7.6 0l7.7 0l7.6 0l7.7 0l7.6 0l7.7 0l7.6 0l7.7 0l7.6 0l7.7 0l7.6 0l7.7 0l7.6 0l7.7 0l7.7 0l7.6 0l7.7 0l7.6 0l7.7 0l7.6 0l7.7 0l7.6 0l7.7 0l7.6 0l6.6 0" stroke="#ffbfbf" stroke-width="2.1" fill="none" stroke-linejoin="miter"/>
<path d="M913.9 1996.6l7.6-1888.4l7.7 1840.2l7.6-28.2l7.7-11.6l7.6 4.7l7.7-3.3l7.6-56.8l7.7 9.5l7.6-29.3l7.7-4.2l7.6 55.3l7.7-0.8l7.6-1.2l7.7 48.6l7.6 34.8l7.7-16.1l7.6 14l7.7 9.7l7.7 23.1l7.6 0l7.7 0l7.6-15.7l7.7 15.7l7.6 0l7.7 0l7.6-17.9l7.7 2.7l7.6 15.2l7.7 0l7.6 0l7.7 0l7.6 0l7.7 0l7.6 0l7.7 0l7.6-9.5l7.7 9.5l7.7 0l7.6 0l7.7 0l7.6 0l7.7 0l7.6 0l7.7 0l7.6 0l7.7 0l7.6 0l7.7 0l7.6 0l7.7 0l7.6 0l7.7 0l7.6 0l7.7 0l7.6 0l7.7 0l7.7 0l7.6 0l7.7 0l7.6 0l7.7 0l7.6 0l7.7 0l7.6 0l7.7 0l7.6 0l6.6 0" stroke="#ffbfbf" stroke-width="2.1" fill="none" stroke-linejoin="miter"/>
<path d="M913.9 1996.6l7.6-2262.5l7.7 2249.1l7.6-6.7l7.7-8.4l7.6 8.4l7.7-25.8l7.6 1.2l7.7 17.9l7.6-57.9l7.7 37.2l7.6 11.4l7.7 9.3l7.6-35.8l7.7 29.4l7.6-15.9l7.7 49.1l7.6 0l7.7 0l7.7 0l7.6 0l7.7-20.1l7.6 5.8l7.7 14.3l7.6 0l7.7 0l7.6 0l7.7 0l7.6 0l7.7-12.3l7.6 12.3l7.7 0l7.6 0l7.7-12.2l7.6 12.2l7.7 0l7.6 0l7.7 0l7.7 0l7.6 0l7.7 0l7.6 0l7.7 0l7.6 0l7.7 0l7.6 0l7.7 0l7.6 0l7.7 0l7.6 0l7.7 0l7.6 0l7.7 0l7.6 0l7.7 0l7.6 0l7.7 0l7.7 0l7.6 0l7.7 0l7.6 0l7.7 0l7.6 0l7.7 0l7.6 0l7.7 0l7.6 0l6.6 0" stroke="#ffbfbf" stroke-width="2.1" fill="none" stroke-linejoin="miter"/>
<path d="M913.9 1996.6l7.6-1700.6l7.7 1663.4l7.6-34.8l7.7-21.3l7.6 43.8l7.7-54.5l7.6-59.8l7.7 77.4l7.6-76.8l7.7 78.5l7.6 18.1l7.7-61.1l7.6 2.2l7.7 86.5l7.6 18.3l7.7 20.7l7.6 0l7.7 0l7.7 0l7.6 0l7.7 0l7.6-27.5l7.7 27.5l7.6 0l7.7-18.7l7.6-4.9l7.7 23.6l7.6 0l7.7 0l7.6-7.1l7.7 7.1l7.6 0l7.7 0l7.6 0l7.7-14.4l7.6 5.8l7.7 8.6l7.7 0l7.6 0l7.7 0l7.6 0l7.7 0l7.6 0l7.7 0l7.6 0l7.7 0l7.6 0l7.7 0l7.6 0l7.7 0l7.6 0l7.7 0l7.6 0l7.7 0l7.6 0l7.7 0l7.7 0l7.6 0l7.7 0l7.6 0l7.7 0l7.6 0l7.7 0l7.6 0l7.7 0l7.6 0l6.6 0" stroke="#ffbfbf" stroke-width="2.1" fill="none" stroke-linejoin="miter"/>
<path d="M913.9 1996.6l7.6-1898.2l7.7 1862l7.6 12.9l7.7-43.9l7.6 5.5l7.7 26.3l7.6-2.5l7.7-34.9l7.6 40.2l7.7-0.9l7.6 6.4l7.7-26.9l7.6-12.7l7.7 47.5l7.6-0.8l7.7 20l7.6 0l7.7 0l7.7 0l7.6-21.4l7.7 21.4l7.6 0l7.7-21.7l7.6 21.7l7.7 0l7.6-15.6l7.7 15.6l7.6 0l7.7 0l7.6-10.1l7.7 10.1l7.6-11.3l7.7 11.3l7.6 0l7.7 0l7.6 0l7.7 0l7.7 0l7.6 0l7.7 0l7.6 0l7.7 0l7.6 0l7.7 0l7.6 0l7.7 0l7.6 0l7.7 0l7.6 0l7.7 0l7.6 0l7.7 0l7.6 0l7.7 0l7.6 0l7.7 0l7.7 0l7.6 0l7.7 0l7.6 0l7.7 0l7.6 0l7.7 0l7.6 0l7.7 0l7.6 0l6.6 0" stroke="#ffbfbf" stroke-width="2.1" fill="none" stroke-linejoin="miter"/>
<path d="M913.9 1996.6l7.6-2244l7.7 2212.2l7.6-21.9l7.7-14.7l7.6 46.5l7.7-39.9l7.6-54.9l7.7 18.7l7.6 65.4l7.7-16.5l7.6 6.8l7.7 15.5l7.6 26.8l7.7 0l7.6 0l7.7 0l7.6 0l7.7 0l7.7 0l7.6-28.1l7.7 28.1l7.6 0l7.7 0l7.6 0l7.7 0l7.6 0l7.7 0l7.6-12.8l7.7 12.8l7.6 0l7.7 0l7.6 0l7.7-13.5l7.6 13.5l7.7 0l7.6 0l7.7 0l7.7 0l7.6 0l7.7 0l7.6 0l7.7 0l7.6 0l7.7 0l7.6 0l7.7 0l7.6 0l7.7 0l7.6 0l7.7 0l7.6 0l7.7 0l7.6 0l7.7 0l7.6 0l7.7 0l7.7 0l7.6 0l7.7 0l7.6 0l7.7 0l7.6 0l7.7 0l7.6 0l7.7 0l7.6 0l6.6 0" stroke="#ffbfbf" stroke-width="2.1" fill="none" stroke-linejoin="miter"/>
<path d="M913.9 1996.6l7.6-1674.8l7.7 1610.3l7.6-9l7.7-68.8l7.6 65.2l7.7 22l7.6-104.6l7.7 37.9l7.6-11.5l7.7 28.6l7.6 30l7.7 14.6l7.6-49l7.7 71l7.6 38.1l7.7 0l7.6 0l7.7-17.5l7.7 17.5l7.6 0l7.7-28.2l7.6 28.2l7.7 0l7.6 0l7.7-13.1l7.6 13.1l7.7 0l7.6 0l7.7 0l7.6 0l7.7-10.7l7.6 10.7l7.7 0l7.6 0l7.7 0l7.6-14.3l7.7 14.3l7.7 0l7.6 0l7.7 0l7.6 0l7.7 0l7.6 0l7.7 0l7.6 0l7.7 0l7.6 0l7.7 0l7.6 0l7.7 0l7.6 0l7.7 0l7.6 0l7.7 0l7.6 0l7.7 0l7.7 0l7.6 0l7.7 0l7.6 0l7.7 0l7.6 0l7.7 0l7.6 0l7.7 0l7.6 0l6.6 0" stroke="#ffbfbf" stroke-width="2.1" fill="none" stroke-linejoin="miter"/>
<path d="M913.9 1996.6l7.6-2168.8l7.7 2155.4l7.6-6.7l7.7-23.9l7.6-25.9l7.7 17.8l7.6 17l7.7 8.3l7.6-99.6l7.7 47.5l7.6-18.2l7.7 2.2l7.6 58.4l7.7-1.6l7.6 14.9l7.7 23.2l7.6 0l7.7 0l7.7-26.3l7.6 26.3l7.7 0l7.6 0l7.7-19.8l7.6 19.8l7.7-14.9l7.6 14.9l7.7-12.4l7.6-6.1l7.7 18.5l7.6 0l7.7 0l7.6 0l7.7 0l7.6 0l7.7 0l7.6 0l7.7 0l7.7 0l7.6 0l7.7 0l7.6 0l7.7 0l7.6 0l7.7 0l7.6 0l7.7 0l7.6 0l7.7 0l7.6 0l7.7 0l7.6 0l7.7 0l7.6 0l7.7 0l7.6 0l7.7 0l7.7 0l7.6 0l7.7 0l7.6 0l7.7 0l7.6 0l7.7 0l7.6 0l7.7 0l7.6 0l6.6 0" stroke="#ffbfbf" stroke-width="2.1" fill="none" stroke-linejoin="miter"/>
<path d="M913.9 1996.6l7.6-1809.5l7.7 1779l7.6-42.3l7.7 2.1l7.6 16.7l7.7-12.6l7.6 20.2l7.7-36.6l7.6 25.2l7.7-46.4l7.6 71.6l7.7 5.8l7.6-11.4l7.7 23.1l7.6-24.9l7.7-5.1l7.6 45.1l7.7 0l7.7 0l7.6 0l7.7 0l7.6 0l7.7 0l7.6 0l7.7 0l7.6 0l7.7-15.8l7.6 4.5l7.7 11.3l7.6-10.8l7.7 10.8l7.6 0l7.7 0l7.6 0l7.7 0l7.6 0l7.7 0l7.7 0l7.6 0l7.7 0l7.6 0l7.7 0l7.6 0l7.7 0l7.6 0l7.7 0l7.6 0l7.7 0l7.6 0l7.7 0l7.6 0l7.7 0l7.6 0l7.7 0l7.6 0l7.7 0l7.7 0l7.6 0l7.7 0l7.6 0l7.7 0l7.6 0l7.7 0l7.6 0l7.7 0l7.6 0l6.6 0" stroke="#ffbfbf" stroke-width="2.1" fill="none" stroke-linejoin="miter"/>
<path d="M913.9 1996.6l7.6-2263.2l7.7 2245.6l7.6-32.9l7.7 5.2l7.6 25.2l7.7-38.3l7.6-28.7l7.7 60.3l7.6-42.9l7.7-46.3l7.6 73.3l7.7-27.6l7.6 17.2l7.7 53.1l7.6 0l7.7 0l7.6 0l7.7 0l7.7 0l7.6 0l7.7 0l7.6 0l7.7-24.1l7.6 0.2l7.7 23.9l7.6 0l7.7-11.3l7.6 11.3l7.7 0l7.6-7.4l7.7 7.4l7.6 0l7.7 0l7.6 0l7.7 0l7.6 0l7.7-11.1l7.7 11.1l7.6 0l7.7 0l7.6 0l7.7 0l7.6 0l7.7 0l7.6 0l7.7 0l7.6 0l7.7 0l7.6 0l7.7 0l7.6 0l7.7 0l7.6 0l7.7 0l7.6 0l7.7 0l7.7 0l7.6 0l7.7 0l7.6 0l7.7 0l7.6 0l7.7 0l7.6 0l7.7 0l7.6 0l6.6 0" stroke="#ffbfbf" stroke-width="2.1" fill="none" stroke-linejoin="miter"/>
<path d="M913.9 1996.6l7.6-1977.7l7.7 1964.3l7.6-27.9l7.7 12.8l7.6 8.4l7.7-1.7l7.6-31.8l7.7 21.2l7.6-23.3l7.7-11.1l7.6 24.2l7.7 4.6l7.6-69.2l7.7 80.3l7.6-2.7l7.7 29.6l7.6-29.4l7.7-1.9l7.7 8.6l7.6-1.7l7.7 24.4l7.6-21.8l7.7 21.8l7.6 0l7.7 0l7.6 0l7.7 0l7.6 0l7.7 0l7.6 0l7.7-8.7l7.6-2.8l7.7 11.5l7.6 0l7.7-8.7l7.6 8.7l7.7 0l7.7 0l7.6 0l7.7 0l7.6 0l7.7 0l7.6 0l7.7 0l7.6 0l7.7 0l7.6 0l7.7 0l7.6 0l7.7 0l7.6 0l7.7 0l7.6 0l7.7 0l7.6 0l7.7 0l7.7 0l7.6 0l7.7 0l7.6 0l7.7 0l7.6 0l7.7 0l7.6 0l7.7 0l7.6 0l6.6 0" stroke="#ffbfbf" stroke-width="2.1" fill="none" stroke-linejoin="miter"/>
<path d="M913.9 1996.6l7.6-2506.1l7.7 2457.2l7.6-26.8l7.7-66.6l7.6 47.2l7.7-13.7l7.6-26.8l7.7 44.8l7.6 4.4l7.7-9.7l7.6-21.1l7.7 1l7.6 27.8l7.7 27.7l7.6 19l7.7-2.3l7.6 44l7.7 0l7.7-23.7l7.6 8.7l7.7-0.3l7.6 15.3l7.7 0l7.6 0l7.7 0l7.6 0l7.7-22l7.6 11.5l7.7 10.5l7.6 0l7.7 0l7.6-7.8l7.7 7.8l7.6 0l7.7 0l7.6 0l7.7 0l7.7 0l7.6 0l7.7 0l7.6 0l7.7 0l7.6 0l7.7 0l7.6 0l7.7 0l7.6 0l7.7 0l7.6 0l7.7 0l7.6 0l7.7 0l7.6 0l7.7 0l7.6 0l7.7 0l7.7 0l7.6 0l7.7 0l7.6 0l7.7 0l7.6 0l7.7 0l7.6 0l7.7 0l7.6 0l6.6 0" stroke="#ffbfbf" stroke-width="2.1" fill="none" stroke-linejoin="miter"/>
<path d="M913.9 1996.6l7.6-753.1l7.7 744.6l7.6-4.3l7.7 3.3l7.6-10.4l7.7-35.9l7.6-44.7l7.7-23.9l7.6-89l7.7-54.8l7.6 26.5l7.7-72.5l7.6 24.5l7.7 55.8l7.6 23.9l7.7-16.4l7.6 35.1l7.7 13l7.7 7.9l7.6 64.3l7.7 106.1l7.6-113.3l7.7 113.3l7.6-129.7l7.7-4.2l7.6 37.3l7.7 96.6l7.6-71l7.7 24.6l7.6-26.8l7.7 14.7l7.6-30.9l7.7 89.4l7.6 0l7.7 0l7.6-31.6l7.7 31.6l7.7-1.6l7.6-48l7.7 49.6l7.6-35.9l7.7 35.9l7.6 0l7.7-28.8l7.6 28.2l7.7-7l7.6-42.4l7.7 17.8l7.6 32.2l7.7-24l7.6 21.3l7.7-30.1l7.6 26.1l7.7-22.9l7.6 29.6l7.7 0l7.7 0l7.6 0l7.7 0l7.6 0l7.7-18.6l7.6-30.2l7.7 48.8l7.6-0.1l7.7-23.6l7.6 22.4l6.6 1.3" stroke="#cccccc" stroke-width="2.1" fill="none" stroke-linejoin="miter"/>
<path d="M913.9 1996.6l7.6-158.6l7.7 144.5l7.6 1l7.7-10.9l7.6-25.8l7.7 22.8l7.6-46.1l7.7-7.9l7.6-47.6l7.7-19.6l7.6-108.7l7.7 37.9l7.6 23.6l7.7-21.4l7.6-2.1l7.7 57.4l7.6-43.7l7.7 38.2l7.7 3.7l7.6-1.1l7.7 64.6l7.6 99.8l7.7-201.3l7.6 201.3l7.7 0l7.6 0l7.7-98l7.6 31.1l7.7-8l7.6 9.1l7.7 65.8l7.6 0l7.7-77.1l7.6 77.1l7.7-52.7l7.6 52.7l7.7 0l7.7 0l7.6 0l7.7-36.6l7.6-6.6l7.7 43.2l7.6-52.3l7.7 15.6l7.6 8.3l7.7 27.7l7.6 0.5l7.7-42.8l7.6 43l7.7 0l7.6 0l7.7 0l7.6-39.8l7.7 34.3l7.6-23.4l7.7 23.8l7.7-30.6l7.6 35.7l7.7 0l7.6-49.1l7.7 49.1l7.6-21.8l7.7-5.6l7.6 23.1l7.7 4.3l7.6 0l6.6-9.2" stroke="#cccccc" stroke-width="2.1" fill="none" stroke-linejoin="miter"/>
<path d="M913.9 1996.6l7.6-77.1l7.7 50.9l7.6 10.9l7.7 0.8l7.6-16.8l7.7-19.6l7.6-4.4l7.7-22.8l7.6-23.2l7.7-12.3l7.6-89.6l7.7-33.8l7.6-6.9l7.7 27.7l7.6 8.9l7.7-49.1l7.6 71.6l7.7 3l7.7 18.2l7.6 8.6l7.7-24.2l7.6 76.4l7.7-76.5l7.6 17.6l7.7 161.7l7.6 0l7.7-80.9l7.6 16.9l7.7 64l7.6-62.9l7.7 20.7l7.6 42.2l7.7 0l7.6 0l7.7-35.4l7.6 5.7l7.7 29.7l7.7-31.1l7.6-6l7.7 37.1l7.6-41.6l7.7 9.8l7.6 31.8l7.7 0l7.6 0l7.7-38.9l7.6 38.9l7.7-13.2l7.6-37.2l7.7 15.9l7.6 34.5l7.7-15.5l7.6 15.5l7.7-27.7l7.6 27.7l7.7-21.9l7.7 21.9l7.6-38.4l7.7 38.4l7.6 0l7.7 0l7.6 0l7.7 0l7.6 0l7.7-6.6l7.6-6.6l6.6-17.9" stroke="#cccccc" stroke-width="2.1" fill="none" stroke-linejoin="miter"/>
<path d="M913.9 1996.6l7.6-153.6l7.7 128l7.6 17.8l7.7-15.9l7.6-30.4l7.7-0.1l7.6-14.3l7.7-10.6l7.6-63l7.7-29.3l7.6-32l7.7-44.8l7.6 49.6l7.7 37.1l7.6-50l7.7 4.4l7.6 30.7l7.7 47.7l7.7-13l7.6 7.7l7.7 32.9l7.6 101.1l7.7-92.9l7.6 92.9l7.7-117l7.6-20.9l7.7 50.3l7.6 20.1l7.7 67.5l7.6-44.3l7.7 1l7.6-24.6l7.7 17.5l7.6 50.4l7.7 0l7.6-23.3l7.7-26.1l7.7 49.4l7.6-13l7.7 13l7.6-37.5l7.7 12.2l7.6 25.3l7.7 0l7.6-19l7.7 19l7.6-17.9l7.7 17.9l7.6-20l7.7 20l7.6-17.8l7.7 17.8l7.6 0l7.7 0l7.6 0l7.7-20.6l7.7-4.7l7.6 25.3l7.7-19.6l7.6-21.9l7.7 41.5l7.6-22l7.7 5.9l7.6 16.1l7.7 0l7.6 0l6.6-1.5" stroke="#cccccc" stroke-width="2.1" fill="none" stroke-linejoin="miter"/>
<path d="M913.9 1996.6l7.6-58.7l7.7 39.1l7.6 0.6l7.7 0.4l7.6-16.6l7.7-4l7.6-31.9l7.7-10.7l7.6 2.5l7.7-52.2l7.6-63.9l7.7-8.3l7.6 1.2l7.7-14.9l7.6 20.4l7.7 20.1l7.6 25.6l7.7 5.2l7.7 26.8l7.6-10.9l7.7 4.4l7.6 19.2l7.7 106.6l7.6-65.7l7.7-12l7.6-1.1l7.7-2.1l7.6 80.9l7.7-87.6l7.6 17.8l7.7 29.1l7.6 40.7l7.7-43.1l7.6 1l7.7 42.1l7.6 0l7.7 0l7.7 0l7.6-11.4l7.7 11.4l7.6-33l7.7 15.5l7.6-29.4l7.7 11.4l7.6 35.5l7.7-13.1l7.6 13.1l7.7 0l7.6-34.7l7.7 14.2l7.6-3.7l7.7 24.2l7.6 0l7.7-6.5l7.6 6.5l7.7-16.7l7.7-12.3l7.6 29l7.7-2.6l7.6-16.8l7.7 19.4l7.6-15.1l7.7-4.7l7.6 19.8l7.7 0l7.6-19.7l6.6-3.8" stroke="#cccccc" stroke-width="2.1" fill="none" stroke-linejoin="miter"/>
<path d="M913.9 1996.6l7.6-21.4l7.7 8.9l7.6-23l7.7 22l7.6-37.7l7.7 25.9l7.6-28.3l7.7-9.2l7.6-23.1l7.7-13.9l7.6-40.4l7.7-61.5l7.6 4.3l7.7 22.9l7.6-14l7.7 6.9l7.6 24.2l7.7-10.1l7.7 31.9l7.6 28.2l7.7-120.5l7.6 98.7l7.7 45.1l7.6-42.8l7.7 49.8l7.6 77.1l7.7-59.5l7.6-0.1l7.7 9.1l7.6-11.7l7.7 62.2l7.6 0l7.7 0l7.6 0l7.7-27.9l7.6-11.2l7.7-0.8l7.7 39.9l7.6 0l7.7-6.3l7.6-25.9l7.7 7l7.6 25.2l7.7 0l7.6-30.9l7.7-6.3l7.6 37.2l7.7 0l7.6 0l7.7-25.7l7.6 25.7l7.7-14.2l7.6 13.4l7.7 0.8l7.6 0l7.7 0l7.7 0l7.6 0l7.7 0l7.6 0l7.7 0l7.6 0l7.7 0l7.6 0l7.7-5.1l7.6 5.1l6.6-22.5" stroke="#cccccc" stroke-width="2.1" fill="none" stroke-linejoin="miter"/>
<path d="M913.9 1996.6l7.6-117.5l7.7 92.2l7.6 8.1l7.7-7.2l7.6-7l7.7-28.2l7.6-9.9l7.7-11.5l7.6-57.7l7.7-34.6l7.6 20.6l7.7-18.9l7.6 0.8l7.7-12.6l7.6 39.9l7.7-16.1l7.6 33.1l7.7 3.1l7.7 17.8l7.6 16.7l7.7-25.5l7.6 114.4l7.7-74.9l7.6-11.7l7.7-5.1l7.6 36.3l7.7-19.5l7.6 74.9l7.7-61.8l7.6 61.8l7.7-48.5l7.6 48.5l7.7 0l7.6-30.8l7.7 30.8l7.6 0l7.7 0l7.7-16.7l7.6 2.2l7.7 14.5l7.6 0l7.7-31.2l7.6 6.4l7.7 24.8l7.6-9.9l7.7 8.9l7.6 1l7.7 0l7.6 0l7.7-27.1l7.6 16.1l7.7-13.2l7.6 11.6l7.7 12.6l7.6-13.3l7.7 13.3l7.7-9.8l7.6 3.7l7.7-17.5l7.6 6.8l7.7 16.8l7.6 0l7.7-10.6l7.6 5l7.7-6.1l7.6 11.7l6.6 0" stroke="#cccccc" stroke-width="2.1" fill="none" stroke-linejoin="miter"/>
<path d="M913.9 1996.6l7.6-106.5l7.7 87.2l7.6 11.1l7.7-4.6l7.6-20.5l7.7-20l7.6-6.4l7.7-12.8l7.6-17l7.7-40.4l7.6-61.2l7.7 57.4l7.6-40l7.7 10.7l7.6-16.2l7.7 47l7.6 12.4l7.7-1.2l7.7 6.2l7.6-3.8l7.7 41.2l7.6-58.7l7.7 136.1l7.6-86.8l7.7-8.6l7.6 95.4l7.7 0l7.6 0l7.7-81.2l7.6 81.2l7.7-58.6l7.6 58.6l7.7 0l7.6-39.6l7.7 39.6l7.6 0l7.7-22.6l7.7 22.6l7.6 0l7.7 0l7.6 0l7.7 0l7.6 0l7.7-22.5l7.6 22.5l7.7 0l7.6 0l7.7-56.4l7.6 56.4l7.7-13.3l7.6-12.1l7.7 25.4l7.6 0l7.7-7l7.6-8.1l7.7 15.1l7.7-32l7.6 32l7.7-4.3l7.6 4.3l7.7 0l7.6-11l7.7 11l7.6-1.3l7.7-2.6l7.6-22.7l6.6 17.3" stroke="#cccccc" stroke-width="2.1" fill="none" stroke-linejoin="miter"/>
<path d="M913.9 1996.6l7.6-50.5l7.7 38.4l7.6 1.1l7.7-26.6l7.6 23.7l7.7-21.5l7.6-3.2l7.7-12.6l7.6-15.3l7.7-26.1l7.6-17.2l7.7-25.9l7.6-12.9l7.7-0.9l7.6-4.5l7.7 42.5l7.6-36.2l7.7 46.7l7.7 5.4l7.6-17.9l7.7-1l7.6-8.5l7.7 8.1l7.6 6.2l7.7 58.8l7.6 49.9l7.7-40.4l7.6-10.2l7.7-5.6l7.6 56.2l7.7 0l7.6 0l7.7 0l7.6 0l7.7 0l7.6-30.8l7.7 30.8l7.7 0l7.6 0l7.7 0l7.6-22l7.7-4.7l7.6 3.5l7.7 23.2l7.6-26.5l7.7 26.5l7.6 0l7.7-17.7l7.6 17.7l7.7 0l7.6-18.6l7.7 7.5l7.6 11.1l7.7-17.9l7.6 10.4l7.7-11.4l7.7 18.9l7.6 0l7.7 0l7.6 0l7.7 0l7.6 0l7.7-10.4l7.6-5.1l7.7 10.9l7.6 4.6l6.6-23.2" stroke="#cccccc" stroke-width="2.1" fill="none" stroke-linejoin="miter"/>
<path d="M913.9 1996.6l7.6-164.9l7.7 157.6l7.6-4.3l7.7-3.1l7.6-19l7.7-2l7.6-0.7l7.7-0.1l7.6-24.7l7.7-6.4l7.6-25.2l7.7-54.8l7.6 12l7.7-8.9l7.6 25l7.7 0.3l7.6 9.4l7.7 3.8l7.7-3.8l7.6 29.2l7.7-4.6l7.6 23.3l7.7-6.9l7.6 68.8l7.7 0l7.6-50l7.7-2.9l7.6-8.3l7.7 61.2l7.6-46.5l7.7-2.3l7.6 48.8l7.7-23.7l7.6-15.8l7.7 8.1l7.6 31.4l7.7-32.5l7.7 32.5l7.6-15.9l7.7 8.2l7.6-16.9l7.7 24.6l7.6-12.1l7.7 12.1l7.6-23.7l7.7-4.6l7.6 28.3l7.7-1l7.6 1l7.7 0l7.6 0l7.7-25.4l7.6 21.7l7.7 3.7l7.6 0l7.7 0l7.7 0l7.6 0l7.7-10.1l7.6 4.2l7.7 5.9l7.6 0l7.7-17l7.6-4.3l7.7 9.6l7.6 11.7l6.6 0" stroke="#cccccc" stroke-width="2.1" fill="none" stroke-linejoin="miter"/>
<path d="M913.9 1996.6l7.6-155.4l7.7 140.6l7.6-12.9l7.7-10.7l7.6-18.1l7.7-17.3l7.6-11.9l7.7-20.9l7.6-36.8l7.7-97.7l7.6 7.6l7.7 26.8l7.6-43.5l7.7 44.5l7.6-0.9l7.7 34.6l7.6 3.1l7.7 14.9l7.7 14.9l7.6 27.9l7.7-48l7.6 61.4l7.7-43.2l7.6 65.6l7.7 75.4l7.6 0l7.7-62.5l7.6 62.5l7.7-73.7l7.6 29.5l7.7-12.9l7.6 57.1l7.7-35.2l7.6-9.3l7.7 44.5l7.6 0l7.7 0l7.7-16.8l7.6-18.9l7.7 35.7l7.6 0l7.7-46.8l7.6 46.8l7.7-46.2l7.6 38.4l7.7 3.8l7.6-41.9l7.7 1.7l7.6 20l7.7 7.6l7.6 16.6l7.7-27.1l7.6 27.1l7.7-20.9l7.6 13.4l7.7 7.5l7.7 0l7.6-4.8l7.7 4.8l7.6 0l7.7 0l7.6 0l7.7 0l7.6-5.3l7.7 5.3l7.6 0l6.6 0" stroke="#cccccc" stroke-width="2.1" fill="none" stroke-linejoin="miter"/>
<path d="M913.9 1996.6l7.6-36.5l7.7 12.3l7.6 14.2l7.7-9.2l7.6-16.6l7.7 18.1l7.6-26.4l7.7-7l7.6-18.8l7.7-9.7l7.6-44.6l7.7-63.2l7.6-12.5l7.7 3.3l7.6-10.7l7.7 28.4l7.6 39.6l7.7-15.4l7.7 15.2l7.6 14.4l7.7-36.7l7.6 53.5l7.7 108.3l7.6-147.5l7.7 47.9l7.6 27.8l7.7-32.7l7.6 104.5l7.7 0l7.6 0l7.7-52.7l7.6 52.7l7.7-57.5l7.6 57.5l7.7 0l7.6 0l7.7 0l7.7-42l7.6 11.9l7.7 30.1l7.6 0l7.7-37.7l7.6 18.3l7.7 19.4l7.6 0l7.7-33.3l7.6 33.3l7.7 0l7.6 0l7.7-28.8l7.6 28.8l7.7 0l7.6 0l7.7-11.9l7.6 11.9l7.7-14.9l7.7 7l7.6 7.9l7.7-8l7.6 8l7.7-23.3l7.6 23.3l7.7 0l7.6-21.8l7.7 8.8l7.6 10.8l6.6-11.6" stroke="#cccccc" stroke-width="2.1" fill="none" stroke-linejoin="miter"/>
<path d="M913.9 1996.6l7.6-1882.8l7.7 1829.6l7.6-2l7.7-12.7l7.6-1.7l7.7 2.7l7.6-18.2l7.7 2.3l7.6 0.3l7.7-3.5l7.6 15.5l7.7 6.9l7.6 13.9l7.7 15.5l7.6 4.8l7.7-4l7.6 18.2l7.7 0.8l7.7-6.9l7.6 14.7l7.7-5.2l7.6-2.6l7.7-0.8l7.6-14.2l7.7 22.8l7.6 6.6l7.7 0l7.6 0l7.7-4.5l7.6 3.9l7.7-7.3l7.6 3.9l7.7-6.5l7.6 4l7.7-2.5l7.6 6.2l7.7 2.8l7.7 0l7.6 0l7.7 0l7.6 0l7.7 0l7.6 0l7.7 0l7.6 0l7.7 0l7.6 0l7.7 0l7.6 0l7.7 0l7.6 0l7.7 0l7.6 0l7.7 0l7.6 0l7.7 0l7.7 0l7.6 0l7.7 0l7.6 0l7.7 0l7.6 0l7.7 0l7.6 0l7.7 0l7.6 0l6.6 0" stroke="#f53d3d" stroke-width="2.6" fill="none" stroke-linejoin="miter" stroke-linecap="round" stroke-miterlimit="12"/>
<path d="M913.9 1996.6l7.6-368.2l7.7 347.5l7.6-3.1l7.7-5.4l7.6-6.8l7.7-20.4l7.6-18.7l7.7-14.4l7.6-43.4l7.7-51.8l7.6 9l7.7-3l7.6 0.8l7.7 16.1l7.6 17l7.7-0.3l7.6 19.9l7.7 11.6l7.7-1.4l7.6 28.1l7.7 1.1l7.6 0.5l7.7 25.2l7.6-5.6l7.7 6.8l7.6 5.9l7.7 8.5l7.6-3.4l7.7 13.6l7.6-0.3l7.7 0.3l7.6-8.8l7.7 22.2l7.6-6.5l7.7 3.5l7.6 4.7l7.7-5.2l7.7 24.4l7.6-21.4l7.7 0l7.6 7.3l7.7-11.5l7.6 4.2l7.7-1.7l7.6 23.1l7.7 0l7.6-28.2l7.7 11.9l7.6 5.4l7.7-4.5l7.6 15.4l7.7-20.5l7.6 20.5l7.7-15.7l7.6 15.7l7.7-18.5l7.7 18.5l7.6 0l7.7-24.3l7.6 10.6l7.7 5.6l7.6-10.4l7.7 18.5l7.6 0l7.7-18.5l7.6 18.5l6.6 0" stroke="#000" stroke-width="3" fill="none" stroke-linejoin="miter" stroke-linecap="round" stroke-miterlimit="12"/>
</g>
<line x1="910.6" y1="1490" x2="910.6" y2="2000.9" stroke="#000" stroke-width="2"/>
<line x1="1427.4" y1="1490" x2="1427.4" y2="2000.9" stroke="#000" stroke-width="2"/>
<line x1="909.6" y1="1491" x2="1428.4" y2="1491" stroke="#000" stroke-width="2"/>
<line x1="909.6" y1="1999.9" x2="1428.4" y2="1999.9" stroke="#000" stroke-width="2"/>
<line x1="894.2" y1="1996.6" x2="909.6" y2="1996.6" stroke="#000" stroke-width="2"/>
<line x1="1428.4" y1="1996.6" x2="1443.9" y2="1996.6" stroke="#000" stroke-width="2"/>
<text x="885.9" y="2009.1" font-size="36" text-anchor="end">0</text>
<line x1="902.1" y1="1979.86" x2="909.6" y2="1979.86" stroke="#000" stroke-width="2"/>
<line x1="1428.4" y1="1979.86" x2="1436" y2="1979.86" stroke="#000" stroke-width="2"/>
<line x1="902.1" y1="1963.13" x2="909.6" y2="1963.13" stroke="#000" stroke-width="2"/>
<line x1="1428.4" y1="1963.13" x2="1436" y2="1963.13" stroke="#000" stroke-width="2"/>
<line x1="902.1" y1="1946.39" x2="909.6" y2="1946.39" stroke="#000" stroke-width="2"/>
<line x1="1428.4" y1="1946.39" x2="1436" y2="1946.39" stroke="#000" stroke-width="2"/>
<line x1="902.1" y1="1929.66" x2="909.6" y2="1929.66" stroke="#000" stroke-width="2"/>
<line x1="1428.4" y1="1929.66" x2="1436" y2="1929.66" stroke="#000" stroke-width="2"/>
<line x1="894.2" y1="1912.92" x2="909.6" y2="1912.92" stroke="#000" stroke-width="2"/>
<line x1="1428.4" y1="1912.92" x2="1443.9" y2="1912.92" stroke="#000" stroke-width="2"/>
<text x="885.9" y="1925.42" font-size="36" text-anchor="end">10</text>
<line x1="902.1" y1="1896.18" x2="909.6" y2="1896.18" stroke="#000" stroke-width="2"/>
<line x1="1428.4" y1="1896.18" x2="1436" y2="1896.18" stroke="#000" stroke-width="2"/>
<line x1="902.1" y1="1879.45" x2="909.6" y2="1879.45" stroke="#000" stroke-width="2"/>
<line x1="1428.4" y1="1879.45" x2="1436" y2="1879.45" stroke="#000" stroke-width="2"/>
<line x1="902.1" y1="1862.71" x2="909.6" y2="1862.71" stroke="#000" stroke-width="2"/>
<line x1="1428.4" y1="1862.71" x2="1436" y2="1862.71" stroke="#000" stroke-width="2"/>
<line x1="902.1" y1="1845.98" x2="909.6" y2="1845.98" stroke="#000" stroke-width="2"/>
<line x1="1428.4" y1="1845.98" x2="1436" y2="1845.98" stroke="#000" stroke-width="2"/>
<line x1="894.2" y1="1829.24" x2="909.6" y2="1829.24" stroke="#000" stroke-width="2"/>
<line x1="1428.4" y1="1829.24" x2="1443.9" y2="1829.24" stroke="#000" stroke-width="2"/>
<text x="885.9" y="1841.74" font-size="36" text-anchor="end">20</text>
<line x1="902.1" y1="1812.5" x2="909.6" y2="1812.5" stroke="#000" stroke-width="2"/>
<line x1="1428.4" y1="1812.5" x2="1436" y2="1812.5" stroke="#000" stroke-width="2"/>
<line x1="902.1" y1="1795.77" x2="909.6" y2="1795.77" stroke="#000" stroke-width="2"/>
<line x1="1428.4" y1="1795.77" x2="1436" y2="1795.77" stroke="#000" stroke-width="2"/>
<line x1="902.1" y1="1779.03" x2="909.6" y2="1779.03" stroke="#000" stroke-width="2"/>
<line x1="1428.4" y1="1779.03" x2="1436" y2="1779.03" stroke="#000" stroke-width="2"/>
<line x1="902.1" y1="1762.3" x2="909.6" y2="1762.3" stroke="#000" stroke-width="2"/>
<line x1="1428.4" y1="1762.3" x2="1436" y2="1762.3" stroke="#000" stroke-width="2"/>
<line x1="894.2" y1="1745.56" x2="909.6" y2="1745.56" stroke="#000" stroke-width="2"/>
<line x1="1428.4" y1="1745.56" x2="1443.9" y2="1745.56" stroke="#000" stroke-width="2"/>
<text x="885.9" y="1758.06" font-size="36" text-anchor="end">30</text>
<line x1="902.1" y1="1728.82" x2="909.6" y2="1728.82" stroke="#000" stroke-width="2"/>
<line x1="1428.4" y1="1728.82" x2="1436" y2="1728.82" stroke="#000" stroke-width="2"/>
<line x1="902.1" y1="1712.09" x2="909.6" y2="1712.09" stroke="#000" stroke-width="2"/>
<line x1="1428.4" y1="1712.09" x2="1436" y2="1712.09" stroke="#000" stroke-width="2"/>
<line x1="902.1" y1="1695.35" x2="909.6" y2="1695.35" stroke="#000" stroke-width="2"/>
<line x1="1428.4" y1="1695.35" x2="1436" y2="1695.35" stroke="#000" stroke-width="2"/>
<line x1="902.1" y1="1678.62" x2="909.6" y2="1678.62" stroke="#000" stroke-width="2"/>
<line x1="1428.4" y1="1678.62" x2="1436" y2="1678.62" stroke="#000" stroke-width="2"/>
<line x1="894.2" y1="1661.88" x2="909.6" y2="1661.88" stroke="#000" stroke-width="2"/>
<line x1="1428.4" y1="1661.88" x2="1443.9" y2="1661.88" stroke="#000" stroke-width="2"/>
<text x="885.9" y="1674.38" font-size="36" text-anchor="end">40</text>
<line x1="902.1" y1="1645.14" x2="909.6" y2="1645.14" stroke="#000" stroke-width="2"/>
<line x1="1428.4" y1="1645.14" x2="1436" y2="1645.14" stroke="#000" stroke-width="2"/>
<line x1="902.1" y1="1628.41" x2="909.6" y2="1628.41" stroke="#000" stroke-width="2"/>
<line x1="1428.4" y1="1628.41" x2="1436" y2="1628.41" stroke="#000" stroke-width="2"/>
<line x1="902.1" y1="1611.67" x2="909.6" y2="1611.67" stroke="#000" stroke-width="2"/>
<line x1="1428.4" y1="1611.67" x2="1436" y2="1611.67" stroke="#000" stroke-width="2"/>
<line x1="902.1" y1="1594.94" x2="909.6" y2="1594.94" stroke="#000" stroke-width="2"/>
<line x1="1428.4" y1="1594.94" x2="1436" y2="1594.94" stroke="#000" stroke-width="2"/>
<line x1="894.2" y1="1578.2" x2="909.6" y2="1578.2" stroke="#000" stroke-width="2"/>
<line x1="1428.4" y1="1578.2" x2="1443.9" y2="1578.2" stroke="#000" stroke-width="2"/>
<text x="885.9" y="1590.7" font-size="36" text-anchor="end">50</text>
<line x1="902.1" y1="1561.46" x2="909.6" y2="1561.46" stroke="#000" stroke-width="2"/>
<line x1="1428.4" y1="1561.46" x2="1436" y2="1561.46" stroke="#000" stroke-width="2"/>
<line x1="902.1" y1="1544.73" x2="909.6" y2="1544.73" stroke="#000" stroke-width="2"/>
<line x1="1428.4" y1="1544.73" x2="1436" y2="1544.73" stroke="#000" stroke-width="2"/>
<line x1="902.1" y1="1527.99" x2="909.6" y2="1527.99" stroke="#000" stroke-width="2"/>
<line x1="1428.4" y1="1527.99" x2="1436" y2="1527.99" stroke="#000" stroke-width="2"/>
<line x1="902.1" y1="1511.26" x2="909.6" y2="1511.26" stroke="#000" stroke-width="2"/>
<line x1="1428.4" y1="1511.26" x2="1436" y2="1511.26" stroke="#000" stroke-width="2"/>
<line x1="894.2" y1="1494.52" x2="909.6" y2="1494.52" stroke="#000" stroke-width="2"/>
<line x1="1428.4" y1="1494.52" x2="1443.9" y2="1494.52" stroke="#000" stroke-width="2"/>
<text x="885.9" y="1507.02" font-size="36" text-anchor="end">60</text>
<line x1="913.85" y1="1475.1" x2="913.85" y2="1490" stroke="#000" stroke-width="2"/>
<line x1="913.85" y1="2000.9" x2="913.85" y2="2016.4" stroke="#000" stroke-width="2"/>
<text x="914.05" y="2057.3" font-size="36" text-anchor="middle" letter-spacing="-0.4">0.00</text>
<line x1="939.36" y1="1483" x2="939.36" y2="1490" stroke="#000" stroke-width="2"/>
<line x1="939.36" y1="2000.9" x2="939.36" y2="2008.5" stroke="#000" stroke-width="2"/>
<line x1="964.87" y1="1483" x2="964.87" y2="1490" stroke="#000" stroke-width="2"/>
<line x1="964.87" y1="2000.9" x2="964.87" y2="2008.5" stroke="#000" stroke-width="2"/>
<line x1="990.38" y1="1483" x2="990.38" y2="1490" stroke="#000" stroke-width="2"/>
<line x1="990.38" y1="2000.9" x2="990.38" y2="2008.5" stroke="#000" stroke-width="2"/>
<line x1="1015.89" y1="1483" x2="1015.89" y2="1490" stroke="#000" stroke-width="2"/>
<line x1="1015.89" y1="2000.9" x2="1015.89" y2="2008.5" stroke="#000" stroke-width="2"/>
<line x1="1041.39" y1="1475.1" x2="1041.39" y2="1490" stroke="#000" stroke-width="2"/>
<line x1="1041.39" y1="2000.9" x2="1041.39" y2="2016.4" stroke="#000" stroke-width="2"/>
<text x="1041.6" y="2057.3" font-size="36" text-anchor="middle" letter-spacing="-0.4">0.05</text>
<line x1="1066.9" y1="1483" x2="1066.9" y2="1490" stroke="#000" stroke-width="2"/>
<line x1="1066.9" y1="2000.9" x2="1066.9" y2="2008.5" stroke="#000" stroke-width="2"/>
<line x1="1092.41" y1="1483" x2="1092.41" y2="1490" stroke="#000" stroke-width="2"/>
<line x1="1092.41" y1="2000.9" x2="1092.41" y2="2008.5" stroke="#000" stroke-width="2"/>
<line x1="1117.92" y1="1483" x2="1117.92" y2="1490" stroke="#000" stroke-width="2"/>
<line x1="1117.92" y1="2000.9" x2="1117.92" y2="2008.5" stroke="#000" stroke-width="2"/>
<line x1="1143.43" y1="1483" x2="1143.43" y2="1490" stroke="#000" stroke-width="2"/>
<line x1="1143.43" y1="2000.9" x2="1143.43" y2="2008.5" stroke="#000" stroke-width="2"/>
<line x1="1168.94" y1="1475.1" x2="1168.94" y2="1490" stroke="#000" stroke-width="2"/>
<line x1="1168.94" y1="2000.9" x2="1168.94" y2="2016.4" stroke="#000" stroke-width="2"/>
<text x="1169.14" y="2057.3" font-size="36" text-anchor="middle" letter-spacing="-0.4">0.10</text>
<line x1="1194.45" y1="1483" x2="1194.45" y2="1490" stroke="#000" stroke-width="2"/>
<line x1="1194.45" y1="2000.9" x2="1194.45" y2="2008.5" stroke="#000" stroke-width="2"/>
<line x1="1219.96" y1="1483" x2="1219.96" y2="1490" stroke="#000" stroke-width="2"/>
<line x1="1219.96" y1="2000.9" x2="1219.96" y2="2008.5" stroke="#000" stroke-width="2"/>
<line x1="1245.47" y1="1483" x2="1245.47" y2="1490" stroke="#000" stroke-width="2"/>
<line x1="1245.47" y1="2000.9" x2="1245.47" y2="2008.5" stroke="#000" stroke-width="2"/>
<line x1="1270.98" y1="1483" x2="1270.98" y2="1490" stroke="#000" stroke-width="2"/>
<line x1="1270.98" y1="2000.9" x2="1270.98" y2="2008.5" stroke="#000" stroke-width="2"/>
<line x1="1296.49" y1="1475.1" x2="1296.49" y2="1490" stroke="#000" stroke-width="2"/>
<line x1="1296.49" y1="2000.9" x2="1296.49" y2="2016.4" stroke="#000" stroke-width="2"/>
<text x="1296.69" y="2057.3" font-size="36" text-anchor="middle" letter-spacing="-0.4">0.15</text>
<line x1="1321.99" y1="1483" x2="1321.99" y2="1490" stroke="#000" stroke-width="2"/>
<line x1="1321.99" y1="2000.9" x2="1321.99" y2="2008.5" stroke="#000" stroke-width="2"/>
<line x1="1347.5" y1="1483" x2="1347.5" y2="1490" stroke="#000" stroke-width="2"/>
<line x1="1347.5" y1="2000.9" x2="1347.5" y2="2008.5" stroke="#000" stroke-width="2"/>
<line x1="1373.01" y1="1483" x2="1373.01" y2="1490" stroke="#000" stroke-width="2"/>
<line x1="1373.01" y1="2000.9" x2="1373.01" y2="2008.5" stroke="#000" stroke-width="2"/>
<line x1="1398.52" y1="1483" x2="1398.52" y2="1490" stroke="#000" stroke-width="2"/>
<line x1="1398.52" y1="2000.9" x2="1398.52" y2="2008.5" stroke="#000" stroke-width="2"/>
<line x1="1424.03" y1="1475.1" x2="1424.03" y2="1490" stroke="#000" stroke-width="2"/>
<line x1="1424.03" y1="2000.9" x2="1424.03" y2="2016.4" stroke="#000" stroke-width="2"/>
<text x="1424.23" y="2057.3" font-size="36" text-anchor="middle" letter-spacing="-0.4">0.20</text>
<text font-size="36" transform="translate(812.2 1910.4) rotate(-90)" xml:space="preserve"><tspan>Normalized d</tspan><tspan font-style="italic">N</tspan><tspan>/dSS</tspan><tspan font-size="24.3" dy="10.98">c</tspan></text>
<text x="1107" y="2105" font-size="36" xml:space="preserve"><tspan font-style="italic">SS</tspan><tspan font-size="24.3" dy="10.98">c</tspan><tspan dy="-10.98"> [%]</tspan></text>
<text x="777.5" y="1476.9" font-size="50" font-weight="bold">(f)</text>
<text x="968" y="1554" font-size="32.7">Okinawa</text>
<line x1="973.1" y1="1580.3" x2="1031.9" y2="1580.3" stroke="#000" stroke-width="2.4" stroke-linecap="round"/>
<text x="1045.4" y="1590" font-size="31.5" xml:space="preserve"><tspan font-style="italic">D</tspan><tspan font-size="21.26" dy="9.61">tr</tspan><tspan dy="-9.61"> = 302 nm</tspan></text>
<line x1="973.1" y1="1623.6" x2="1031.9" y2="1623.6" stroke="#f53d3d" stroke-width="2.4" stroke-linecap="round"/>
<text x="1045.4" y="1633.3" font-size="31.5" xml:space="preserve"><tspan font-style="italic">D</tspan><tspan font-size="21.26" dy="9.61">tr</tspan><tspan dy="-9.61"> = </tspan><tspan font-style="italic">D</tspan><tspan font-size="21.26" dy="9.61">std</tspan></text>
</g>
</svg>
</body></html>
